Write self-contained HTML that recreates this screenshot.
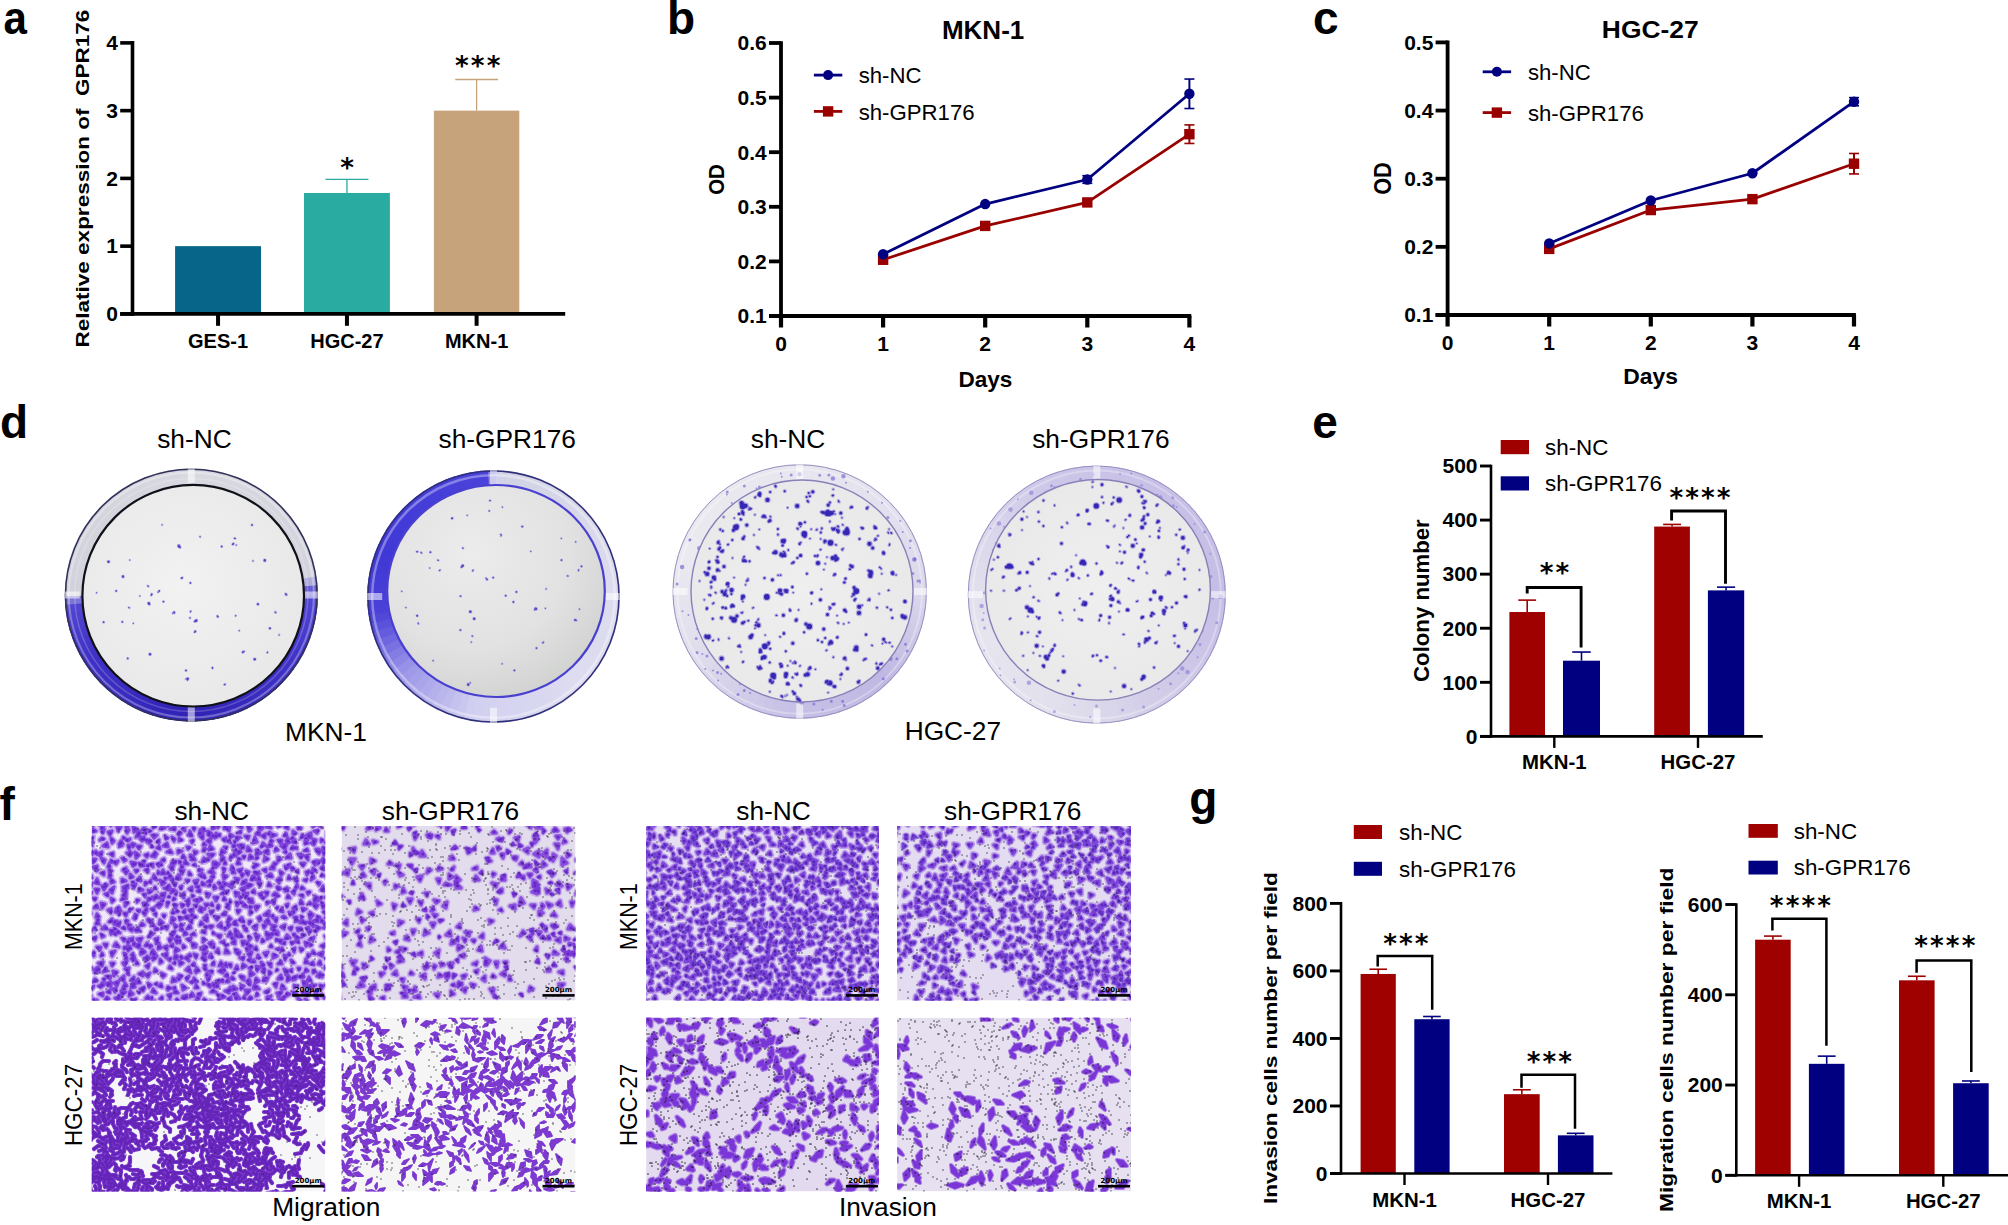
<!DOCTYPE html>
<html><head><meta charset="utf-8"><title>Figure</title>
<style>html,body{margin:0;padding:0;background:#fff;overflow:hidden}svg{display:block}</style>
</head><body>
<svg width="2008" height="1225" viewBox="0 0 2008 1225">
<rect width="2008" height="1225" fill="#fff"/>
<clipPath id="m1c"><rect x="91.8" y="826" width="233.4" height="174.6"/></clipPath>
<g clip-path="url(#m1c)" fill="none" stroke-linecap="round" stroke-linejoin="round"><rect x="91.8" y="826" width="233.4" height="174.6" fill="#f0e8f8"/>
<path id="m10" d="M313 940l-4 0l5 -3zM258 883l3 0l-1 3zM245 887l-1 5l-3 -3zM278 857l3 2l-3 2zM163 923l-4 1l1 -4zM256 910l-1 -4l4 0zM118 931l2 2l-3 0zM178 850l4 1l-4 2zM315 954l-3 -1l1 -2zM206 893l4 1l-2 3zM182 976l-2 2l-1 -3zM327 916l1 2l-3 0zM151 841l-2 2l0 -3zM236 994l4 5l-4 2zM110 979l-4 -3l5 0zM183 990l-1 -5l4 3zM240 910l-2 3l-1 -3zM249 872l-1 3l-2 -4zM225 997l-3 1l0 -3zM229 831l-4 -4l5 -1zM148 872l-3 -2l3 -1zM124 861l-2 -3l4 2zM269 971l2 2l-2 2zM295 979l-1 -2l3 -1zM173 900l1 -2l1 1zM138 979l2 4l-4 0zM282 985l3 4l-4 0zM252 952l-2 5l-2 -3zM192 943l4 2l-3 2zM167 843l1 4l-5 -1zM175 919l-4 4l1 -6zM263 925l3 0l-2 3zM310 892l-2 2l-1 -2zM327 940l-2 -4l4 0zM266 956l-2 -3l4 -1zM309 933l0 -3l2 0zM134 918l2 -2l-1 3zM148 996l0 3l-2 -1zM94 952l0 4l-3 -2zM275 893l2 1l-4 1zM90 987l2 0l-1 3zM199 871l0 -2l3 1zM214 873l-5 -1l3 -2zM230 838l0 -4l3 2zM194 851l3 1l-2 2zM126 840l4 -1l-2 2zM157 880l-4 -2l1 -3zM147 883l-2 2l0 -3zM254 989l2 -3l3 3zM200 925l1 -3l2 2zM220 888l2 -3l1 4zM184 898l-3 -3l3 -2zM151 932l2 2l-3 2zM264 978l2 3l-3 0zM230 989l-1 4l-4 -2zM316 908l-3 -4l5 1zM274 984l3 -1l-1 4zM165 893l-1 4l-3 -3zM139 948l-5 -3l5 -1zM318 830l-1 3l-3 -2zM207 921l-3 -3l3 -3zM303 904l-3 0l1 -4zM144 866l-3 0l1 -3zM267 997l4 -1l-4 4zM116 864l-2 -2l4 -1zM94 822l-1 4l-3 -2zM303 974l1 3l-3 0zM246 966l-4 2l1 -4zM223 868l2 1l-1 3zM217 920l-3 -4l5 1zM314 965l-4 -1l3 -2zM157 971l-3 1l1 -3zM198 880l-2 5l-2 -4zM229 964l2 0l0 3zM321 989l-1 -4l3 1zM218 949l1 4l-3 -1zM307 835l4 -2l0 5zM137 902l0 -2l2 0zM244 986l-3 3l0 -4zM210 843l-3 -2l4 -2zM117 827l4 0l-3 4zM196 958l-2 -4l3 1zM293 831l3 2l-3 1zM263 870l3 -1l0 3zM119 947l-5 -1l2 -3zM292 914l-2 1l-1 -3zM313 915l-3 4l-1 -5zM306 909l-3 2l-1 -3zM284 916l2 2l-4 -1zM291 930l-2 -2l3 -1zM264 861l1 -4l3 2zM214 897l4 0l-2 4zM156 958l-3 2l0 -3zM92 846l-3 0l2 -4zM264 965l-2 2l-1 -5zM175 958l1 -3l2 2zM304 836l-3 2l1 -3zM104 830l-1 3l-1 -3zM291 867l3 2l-2 1zM233 883l-1 5l-4 -3zM97 871l-4 -4l4 -1zM123 844l-4 0l2 -3zM321 946l4 -2l-1 3zM140 836l-4 1l2 -5zM241 976l3 1l0 3zM143 976l-4 -2l4 -2zM206 970l-2 -2l2 0zM143 903l3 0l-2 3zM308 860l-3 -4l3 -1zM185 824l1 -2l1 3zM89 997l2 -1l-1 3zM244 922l-3 -1l1 -3zM213 1002l-3 1l0 -2zM156 895l4 3l-4 0zM228 906l-1 -2l2 0zM321 868l2 -2l1 4zM189 872l2 3l-2 0zM266 827l4 -3l1 4zM111 822l0 4l-2 -3zM294 963l-2 0l-1 -3zM282 908l1 4l-3 -1zM315 896l5 3l-4 1zM168 987l2 1l-2 2zM286 996l1 -3l3 1zM189 835l1 -4l2 5zM125 956l-1 -3l2 1zM127 961l-2 5l-2 -3zM243 856l2 0l-1 2zM190 997l2 -4l2 3zM250 971l4 3l-4 2zM283 951l-2 0l1 -3zM140 942l-3 -3l5 -1zM206 849l-3 2l1 -3zM256 855l2 -4l3 2zM267 993l-2 -1l4 -2zM299 938l-3 2l0 -4zM295 840l1 3l-4 -1zM260 835l-4 -1l3 -3zM162 987l-3 -1l2 -2zM123 870l3 -2l0 3zM154 911l-3 -2l3 -1zM147 857l-2 -2l3 -1zM126 916l-2 -3l3 0zM119 981l-2 5l-3 -3zM101 856l-4 -2l5 -2zM225 912l1 3l-4 0zM165 883l-3 2l-2 -5zM284 969l4 2l-2 4zM330 876l-3 2l-1 -3zM257 842l-4 1l2 -6zM113 989l3 -1l-1 4zM261 847l2 -4l2 2zM313 875l1 3l-3 2zM153 825l3 1l-3 2zM316 871l-3 0l0 -3zM258 955l2 3l-3 0zM324 891l-3 -1l2 -4zM239 903l-2 3l-1 -4zM158 949l1 -5l2 4zM318 922l-5 -1l5 -2zM285 849l-4 -3l5 -2zM313 839l3 1l-2 4zM112 966l-1 -3l3 0zM229 917l2 2l-3 1zM223 966l-4 0l2 -4zM271 886l-3 0l1 -3zM217 935l4 0l-1 3zM267 847l4 -4l1 3zM202 862l2 -4l2 3zM149 946l-4 0l2 -3zM177 943l-2 -4l4 -1zM115 912l3 -4l1 5zM281 943l-3 -3l4 0zM197 891l3 -1l0 2zM249 836l-1 3l-3 -3zM225 852l-4 2l1 -4zM96 917l1 -3l2 3zM108 893l0 3l-3 -2zM214 962l0 3l-2 0zM296 906l0 4l-3 -2zM128 845l3 0l-2 4zM329 969l-4 0l0 -3zM256 947l1 3l-3 -1zM180 927l1 -3l2 1zM315 995l3 0l-1 3zM107 929l-5 0l3 -3zM107 992l3 -2l0 3zM248 827l3 2l-2 2zM187 847l3 0l-2 2zM251 921l-2 3l0 -3zM293 849l-2 0l2 -3zM262 893l-1 3l-2 -2zM130 878l0 -4l3 3zM100 964l3 -2l-1 4zM264 915l5 -4l0 5zM307 1005l-2 -6l3 2zM281 927l4 -2l-1 4zM221 942l3 -1l0 2zM144 828l2 2l-4 0zM183 912l2 -2l0 3zM286 858l4 -4l1 4zM264 970l0 3l-2 -2zM182 886l-1 3l-1 -2zM246 928l1 3l-2 -1zM226 838l-1 3l-2 -2zM209 926l4 0l-2 2zM99 994l4 -1l0 3zM327 838l0 -6l4 3zM278 889l-1 -2l2 0zM213 825l2 3l-3 1zM99 889l-2 4l-2 -4zM307 986l5 -1l-1 4zM125 929l-3 -1l2 -1zM176 883l-1 3l-2 -3zM149 964l-1 4l-2 -2zM115 951l-3 5l-1 -4zM172 878l-3 0l1 -3zM94 970l4 -3l1 4zM99 1003l-4 2l2 -5zM255 934l4 2l-2 4zM132 984l3 3l-4 1zM228 999l3 -2l0 3zM174 904l3 1l-2 3zM242 828l-4 -2l4 -1zM129 996l1 -5l3 3zM232 857l-2 2l1 -3zM316 926l4 2l-3 2zM170 942l-1 -3l3 -1zM210 911l3 0l-2 3zM235 944l-3 -1l3 -3zM306 959l2 4l-3 0zM160 963l0 -4l2 3zM271 967l-3 -4l3 0zM205 885l-3 0l0 -3zM124 976l0 5l-4 -2zM151 923l-3 -3l4 1zM287 836l-3 0l2 -3zM295 994l-2 -2l3 1zM145 952l-4 2l1 -5zM240 952l-1 3l-3 -3zM125 1001l-1 2l-1 -2zM170 966l2 3l-3 -1zM195 966l-3 -1l2 -2zM259 830l0 -6l4 1zM237 925l-4 -1l2 -2zM95 883l2 -4l2 5zM131 862l5 1l-3 3zM102 838l2 1l-4 1zM101 956l1 -3l1 2zM260 917l0 3l-2 -2zM168 890l-4 -2l6 -1zM309 977l2 4l-4 0zM133 938l-1 3l-3 -2zM274 904l-2 -2l3 -3zM160 999l2 -2l0 4zM290 898l-3 0l1 -3zM176 879l3 -4l1 4zM128 971l-3 -2l4 -1zM203 834l0 5l-3 -3zM205 831l-4 -1l2 -2zM175 990l3 3l-4 0zM289 876l1 3l-2 0zM234 979l-3 0l1 -2zM131 980l3 -3l0 5zM283 873l-2 2l-1 -4zM110 867l-2 0l1 -3zM245 990l5 0l-3 4zM92 851l0 2l-2 -1zM136 999l-1 2l-2 -1zM204 946l1 5l-4 -2zM194 978l3 4l-4 0zM163 977l-2 -4l4 2zM252 946l-3 3l-1 -4zM214 854l-3 3l-3 -3zM298 829l0 -3l3 2zM248 1000l2 -3l1 2zM267 895l-2 -3l3 0zM212 879l-1 3l-4 0zM199 1002l-4 1l2 -3zM157 842l2 -2l0 3zM167 946l0 4l-3 -3zM304 880l3 -1l-1 2zM180 965l-1 -4l4 2zM275 933l3 -1l0 3zM194 916l2 1l-3 1zM97 905l1 3l-4 0zM167 902l2 0l-2 4zM225 953l1 -4l3 4zM113 856l-3 -2l3 -1zM243 845l-2 4l-3 -4zM96 937l-1 3l-2 -2zM112 922l-3 0l3 -3zM111 913l-3 -3l3 -1zM267 904l0 -2l3 0zM185 999l-3 -1l4 -1zM328 923l-2 4l-3 -5zM158 938l-1 4l-2 -3zM111 883l0 -4l3 3zM257 925l-1 5l-3 -3zM235 969l2 -3l1 3zM219 864l-3 3l-1 -5zM212 985l-2 2l-3 -3zM191 935l3 -2l1 2zM320 973l2 4l-5 -1zM301 951l-1 -3l3 1zM139 849l-2 -3l4 0zM240 934l2 3l-4 0zM111 934l-1 -4l4 1zM114 887l-2 6l-2 -3zM232 866l2 4l-3 0zM272 834l4 1l-5 2zM128 903l-3 3l0 -4zM288 904l-1 3l-1 -2zM137 880l3 -3l1 4zM296 881l1 -2l0 2zM122 882l0 -3l4 2zM98 922l1 2l-3 0zM211 992l2 -2l3 2zM243 894l5 -1l-2 5zM313 862l3 -1l-1 4zM188 864l-4 0l1 -3zM97 981l-4 1l2 -3zM326 905l-3 3l-1 -3zM175 839l-1 2l-2 -4zM146 961l1 -5l3 2zM101 873l3 -1l0 3zM195 971l2 -3l2 3zM273 958l0 -4l4 2zM160 863l-1 3l-2 -2zM171 893l0 -4l4 1zM280 879l-1 4l-2 -3zM237 851l4 1l-3 2zM223 982l-3 -1l3 -1zM181 833l-2 2l0 -3zM239 879l-2 3l-2 -4zM308 922l5 0l-1 3zM232 935l-4 1l2 -4zM237 864l1 -3l2 3zM174 934l-2 -1l3 -2zM215 838l1 -5l2 3zM159 903l3 1l-3 3zM148 890l4 1l-3 2zM313 827l-1 -4l4 2zM203 938l2 2l-2 2zM87 911l3 -1l1 4zM189 910l4 -1l-2 3zM289 843l-3 -2l2 -3zM143 890l-4 1l0 -3zM170 867l3 0l-1 3zM276 922l-2 -4l3 0zM192 891l-3 -2l3 -2zM90 896l-1 -4l3 0zM102 937l-1 -3l3 2zM159 846l1 3l-3 -1zM208 981l-1 -4l3 -1zM179 841l0 -3l3 2zM305 841l3 2l-3 1zM190 925l1 3l-4 1zM192 843l-1 -2l2 -1zM227 876l-3 3l-1 -4zM136 858l-1 -6l4 3zM281 961l1 3l-4 0zM205 904l3 0l-2 2zM250 911l2 1l-2 2zM195 860l-4 0l2 -4zM127 986l-3 0l1 -3zM212 942l-1 4l-2 -3zM187 939l4 -1l-1 3zM245 941l-2 4l-1 -4zM276 926l-4 3l0 -4zM243 903l4 4l-4 -1zM281 975l1 4l-4 0zM158 929l-3 1l0 -3zM152 835l5 0l-3 3zM230 925l-2 2l0 -3zM279 999l4 -1l0 3zM185 932l2 2l-3 1zM282 992l-3 4l-2 -3zM183 948l0 -3l2 2zM303 855l-2 3l-3 -4zM101 826l3 -4l1 3zM236 896l-1 -4l4 1zM301 863l4 0l-2 3zM186 918l2 -2l1 3zM328 846l-3 -4l4 -1zM198 988l-3 0l1 -3zM255 867l0 -3l3 1zM278 822l-1 3l-3 -3zM176 981l-4 1l1 -4zM103 846l4 -3l1 4zM262 836l3 -2l0 4zM271 945l1 2l-2 0zM249 884l3 1l-3 2zM148 977l-2 -2l4 -2zM219 906l-1 2l0 -3zM170 829l5 -2l0 3zM281 844l-3 -4l4 0zM205 909l-5 2l0 -4zM325 985l4 0l0 4zM258 1005l-3 -1l2 -3zM90 972l-3 -1l3 -1zM248 960l3 -1l0 3zM233 847l0 -2l2 1zM259 872l-1 3l-2 -2zM200 899l-2 3l-4 -2zM209 850l1 -4l3 3zM186 978l3 -2l-2 4zM275 851l1 -3l2 2zM136 931l2 -3l2 3zM177 999l2 2l-3 -1zM148 983l3 2l-2 2zM294 917l3 0l-1 2zM320 883l-1 2l-2 -3zM162 860l2 -1l0 2zM102 908l-1 -5l4 1zM114 976l-1 -5l4 1zM167 852l3 -2l2 3zM287 956l-2 4l-1 -5zM303 897l-3 -2l3 0zM244 957l-1 3l-3 -2zM208 831l3 2l-3 1zM301 889l1 -2l2 2zM304 986l-1 -5l4 2zM321 822l0 5l-3 -2zM143 991l-3 -2l4 -1zM295 948l-1 4l-1 -3zM221 923l1 5l-4 -2zM207 1001l-4 0l1 -2zM118 1002l-3 -4l6 -1zM134 832l-1 -5l4 2zM126 897l-3 -2l3 -2zM209 971l3 0l0 2zM299 970l-1 -2l2 0zM251 969l-2 -1l3 -1zM105 860l-1 3l-3 -5zM291 942l3 0l-2 2zM151 899l-3 2l0 -3zM205 959l-3 -1l3 -2zM256 996l1 -3l1 2zM274 864l0 5l-4 0zM102 886l5 -1l-3 5zM323 850l3 2l-2 3zM222 969l1 4l-4 -2zM146 912l-1 3l-2 -3zM320 961l1 4l-3 -1zM240 837l-3 3l-1 -3zM294 894l-2 -2l3 -2zM316 972l-3 1l0 -3zM105 1000l2 -3l2 2zM129 830l-2 3l-1 -6zM182 907l-1 -3l3 1zM96 831l-3 1l0 -3zM238 870l4 -1l-2 3zM227 893l-2 -2l3 0zM174 913l-2 0l1 -2zM260 967l-3 4l-1 -5zM285 827l1 -1l1 2zM136 964l1 -2l1 2zM162 826l3 2l-5 1zM188 956l1 5l-4 -3zM328 961l-3 -3l5 0zM237 989l-4 1l0 -4zM328 996l-2 3l-2 -1zM182 858l1 -3l2 3zM326 862l-3 1l1 -3zM135 960l-4 -1l3 -3zM305 942l3 2l-2 2zM212 958l-3 -1l2 -3zM272 877l-5 -1l3 -2zM297 928l3 0l-2 3zM155 1001l2 3l-4 -1zM128 921l-2 2l0 -3zM189 967l2 6l-5 -3zM288 891l-3 0l2 -3zM112 843l-1 -5l3 3zM106 968l1 3l-4 1zM100 950l-3 -3l4 0zM285 866l4 1l-3 2zM221 861l1 -5l2 2zM265 852l3 -2l0 3zM194 830l-1 -2l2 0zM200 996l-2 -2l3 -1zM127 946l3 2l-2 3zM165 874l-4 0l2 -4zM140 926l2 -3l2 2zM249 940l0 -4l2 2zM153 950l2 3l-4 1zM109 877l1 -5l1 4zM302 920l3 3l-5 0zM111 898l3 2l-2 2zM168 926l-1 3l-2 -2zM130 856l-3 -3l5 0zM298 1002l0 -4l4 3zM264 941l-2 1l0 -3zM179 950l-4 2l1 -4zM111 987l-3 -4l3 -1zM251 851l-4 0l1 -4zM254 890l1 3l-3 -1zM214 885l2 3l-2 1zM316 849l3 0l-1 3zM304 851l3 -2l1 2zM204 875l1 3l-2 -1zM252 899l1 4l-4 -1zM170 998l-2 -3l3 -1zM189 880l-2 2l-1 -2zM242 884l4 -4l0 3zM306 969l2 2l-3 1zM235 933l0 -4l3 3zM132 885l4 -1l-2 4zM168 1001l3 0l-2 2zM155 887l1 2l-2 0zM291 979l-4 2l1 -6zM168 838l-2 1l-1 -3zM92 878l-2 0l1 -3zM156 993l-4 -1l1 -3zM306 872l3 -1l-2 4zM155 853l0 4l-4 -1zM104 944l3 0l-1 3zM259 981l-4 2l1 -5zM163 955l4 -2l0 5zM92 859l4 0l-3 4zM265 922l3 -3l2 5zM271 937l-4 2l1 -5zM250 981l0 4l-3 -3zM205 930l0 3l-3 -1zM253 858l-4 1l1 -4zM126 992l-4 3l-1 -4zM132 909l-3 2l1 -2zM96 898l-1 2l-2 -2zM318 954l5 -2l-1 4zM310 955l-2 2l0 -3zM180 920l-1 -3l4 1zM228 977l-3 -1l2 -2zM252 821l2 3l-3 0zM150 865l3 -1l0 3zM88 884l4 -1l-1 4zM305 935l-3 2l0 -3zM123 887l4 1l-3 3zM325 898l2 -3l2 3zM168 826l-1 -1l2 -2zM287 935l3 3l-5 1zM176 861l-1 2l-2 -2zM217 983l1 4l-3 0zM129 929l4 -1l-1 3zM125 939l-1 2l-2 -3zM136 872l-1 -2l3 0zM140 1003l5 -2l-2 5zM92 930l-1 2l-2 -2zM188 1003l5 -1l-3 4zM120 922l-1 4l-5 -2zM141 838l3 -1l0 3zM163 915l2 0l-1 2zM252 877l1 3l-2 0zM189 899l0 4l-3 -2zM182 874l-2 -4l4 0zM93 837l-1 3l-2 -3zM104 985l-3 2l1 -4zM112 831l-2 4l-2 -3zM179 825l-1 -3l4 2zM309 993l-2 3l-2 -4z"/>
<path id="m11" d="M300 930l1 -2l1 1zM146 834l-2 -1l2 -1zM92 1000l2 -1l1 2zM205 946l2 1l-1 2zM317 916l3 1l-3 2zM90 966l2 2l-3 0zM197 971l-1 2l0 -2zM263 828l-2 2l-2 -3zM223 882l4 2l-3 2zM312 985l4 0l-3 2zM253 879l0 -3l2 1zM199 886l0 2l-3 -1zM155 856l0 -4l2 2zM224 964l2 -1l1 4zM179 980l-2 -2l2 -1zM170 946l3 -2l0 3zM203 984l0 -2l2 2zM168 959l3 -1l-1 3zM150 935l0 2l-2 0zM235 936l1 -2l1 2zM302 993l1 -1l1 1zM194 905l3 0l-1 2zM214 944l0 4l-2 -1zM295 934l-1 2l-1 -2zM295 995l2 -1l-1 2zM312 945l-2 1l-1 -3zM252 907l-2 2l0 -3zM264 968l1 2l-2 -1zM96 851l1 3l-3 -1zM260 1001l0 3l-2 -2zM147 911l-2 -1l2 -2zM270 876l1 -2l1 2zM297 849l-3 -1l2 -1zM177 936l1 2l-2 1zM244 846l0 2l-3 0zM274 863l3 0l-2 2zM220 825l-2 3l-2 -3zM209 834l1 2l-2 -1zM220 836l-2 -1l2 -1zM137 931l-2 -1l1 -1zM317 851l4 0l-2 3zM232 939l-1 -2l3 1zM321 842l0 -3l2 1zM292 912l1 -2l1 3zM202 877l-3 -2l3 -2zM226 946l-1 -1l3 0zM255 962l-2 0l1 -2zM175 962l0 2l-2 -1zM234 853l2 3l-3 0zM285 996l-1 3l-1 -2zM325 911l0 3l-2 -2zM326 945l2 1l-2 1zM308 931l-2 -3l3 -1zM278 887l3 2l-3 1zM149 830l2 1l-2 1zM311 873l1 -2l1 1zM128 827l-2 -2l2 -2zM266 935l0 -3l2 1zM300 976l2 2l-3 -1zM168 987l1 2l-2 0zM148 905l-2 1l0 -2zM133 847l-1 -4l3 1zM116 909l3 -2l2 4zM207 921l-3 -1l2 -2zM149 998l3 -1l0 4zM240 899l-1 -3l3 1zM190 857l0 -2l1 0zM217 994l3 1l-1 2zM311 924l3 1l-1 2zM322 897l-1 2l-1 -1zM161 901l2 -2l0 2zM179 835l-1 -1l2 -1zM148 921l0 -2l3 1zM120 914l-1 1l0 -2zM258 858l-2 1l1 -3zM279 896l-3 1l1 -2zM213 983l4 2l-3 2zM298 986l-4 2l0 -3zM256 880l3 -3l1 4zM114 930l0 -2l2 1zM315 841l-1 4l-3 -2zM183 931l-3 -1l2 -2zM208 858l1 2l-3 0zM189 904l-1 2l-1 -2zM324 876l-3 0l1 -2zM286 827l2 -1l0 3zM121 996l-3 1l1 -2zM148 840l-1 2l-1 -2zM111 860l2 2l-3 1zM187 995l0 3l-4 -2zM97 970l2 -2l0 3zM242 903l-3 -1l3 0zM151 880l0 3l-2 -1zM238 852l-4 -1l2 -2zM124 949l0 -2l2 1zM159 903l0 4l-3 -1zM326 922l3 0l-2 2zM180 943l-3 -2l3 -1zM281 878l0 2l-2 -2zM177 892l-1 3l-1 -1zM177 959l-3 0l1 -4zM279 824l2 2l-3 1zM310 912l2 2l-2 0zM187 917l-3 1l2 -2zM210 905l2 -2l1 3zM102 962l0 3l-4 -2zM250 899l-1 2l-1 -3zM241 859l-2 1l-1 -2zM241 921l-2 -1l2 -2zM98 986l3 -1l0 2zM199 834l1 -4l2 3zM128 853l2 -2l0 3zM207 953l-4 4l0 -4zM282 978l-3 1l1 -2zM192 914l2 2l-4 0zM165 878l2 0l-2 2zM131 955l2 -2l0 3zM122 990l1 -3l2 2zM310 902l1 2l-3 0zM224 897l2 3l-3 0zM236 924l-2 -2l2 -1zM133 864l1 -1l1 2zM171 880l2 -1l0 3zM218 1000l1 -2l1 1zM247 951l-1 -3l4 2zM298 887l-3 2l2 -5zM232 873l1 -3l2 3zM154 914l2 -1l0 3zM244 926l0 2l-1 -2zM314 931l3 -2l-1 3zM112 871l-3 1l0 -3zM179 1005l1 -3l2 1zM224 847l3 0l-1 2zM133 961l0 -2l2 1zM241 831l0 2l-4 0zM308 840l-3 -1l3 -1zM138 945l1 -1l1 2zM233 973l2 -1l-1 1zM134 918l1 -4l2 1zM161 929l1 -3l2 2zM252 998l-2 1l1 -2zM172 988l3 -1l0 3zM144 958l4 -1l-2 3zM138 992l2 0l-1 1zM279 940l-3 1l0 -2zM272 1002l-1 -2l2 1zM241 873l3 1l-2 3zM190 982l3 -1l-1 2zM256 850l2 0l-1 3zM181 956l2 2l-2 1zM104 981l-1 -2l2 0zM92 855l-2 -1l1 -1zM325 848l-3 2l1 -3zM316 998l0 -2l2 3zM295 880l-1 -2l2 0zM322 994l1 2l-3 -1zM169 896l1 1l-2 0zM151 845l2 2l-2 0zM146 825l-4 -1l2 -3zM133 945l1 -3l2 3zM298 873l-2 -2l2 -1zM289 866l-1 -1l2 -1zM225 971l-2 0l1 -3zM205 967l-1 -2l2 0zM131 949l-3 -1l2 -2zM212 824l2 -2l1 1zM139 863l3 1l-2 2zM289 953l1 2l-2 0zM245 999l-2 -1l2 -3zM154 953l3 3l-4 0zM306 924l-2 -1l2 -1zM200 900l0 -2l2 2zM134 1000l-2 3l-1 -4zM313 825l-2 -1l1 -1zM269 934l4 -1l0 2zM123 897l2 2l-4 1zM286 853l-2 -1l2 -1zM213 932l2 2l-2 0zM128 885l0 3l-3 -2zM144 989l-2 -1l2 -1zM190 834l0 2l-2 -1zM226 907l3 -1l0 3zM321 919l3 3l-3 0zM116 825l1 -3l2 3zM126 874l-2 -3l4 0zM247 981l2 -2l1 3zM227 841l2 -1l2 3zM199 910l2 -1l1 3zM244 883l-2 1l1 -3zM271 840l2 1l-3 1zM283 944l2 -2l0 2zM132 882l2 0l-1 2zM321 976l0 -2l2 1zM110 984l-2 2l-2 -3zM326 926l0 3l-3 -1zM210 884l0 2l-2 0zM199 823l2 -2l1 3zM102 823l-3 2l-1 -3zM253 867l1 -1l0 2zM195 864l1 2l-3 -1zM169 874l-2 0l1 -2zM95 973l0 -2l3 1zM192 895l2 1l-2 1zM321 861l2 -3l2 2zM177 910l1 2l-2 0zM104 829l-3 0l2 -2zM139 912l-2 -2l3 0zM182 829l3 -1l0 3zM107 885l-3 1l2 -2zM205 926l3 1l-2 1zM296 919l3 2l-4 1zM189 920l3 0l0 3zM96 930l-3 -1l2 -2zM235 949l3 1l-2 2zM154 900l-2 -3l3 0zM249 946l-3 -2l2 -2zM190 954l1 2l-3 0zM289 971l3 -2l0 3zM322 904l-1 -2l2 1zM169 888l-2 -1l2 -2zM139 831l2 2l-2 1zM216 865l-3 1l0 -4zM212 834l3 3l-5 0zM295 979l-2 1l0 -2zM236 993l-1 3l-2 -2zM230 987l3 3l-4 1zM216 981l3 -1l0 3zM209 975l-3 0l1 -2zM181 865l2 2l-2 1zM225 861l1 3l-2 0zM144 863l-1 -2l2 0zM130 941l-2 3l-1 -3zM158 871l2 2l-2 1zM129 975l-2 -1l1 -3zM128 927l0 -3l3 1zM228 823l2 0l-1 1zM156 940l3 3l-3 1zM318 990l-1 3l-2 -1zM134 986l-1 -5l3 2zM253 988l1 -3l3 2zM181 862l-2 1l0 -2zM117 921l-2 2l-1 -2zM144 953l-3 1l0 -3zM234 841l1 0l0 2zM152 924l2 1l-3 1zM171 934l2 2l-2 1zM274 932l-2 -3l4 1zM214 868l-2 1l1 -1zM314 899l4 2l-4 1zM250 826l-2 1l0 -2zM175 928l-1 -4l3 2zM249 887l-3 1l1 -3zM194 947l1 -3l1 3zM267 980l-2 -2l3 0zM277 969l1 1l-2 1zM271 916l2 -1l0 3zM224 928l3 0l-2 2zM303 917l-2 1l0 -2zM286 891l-2 -2l3 -1zM299 943l-3 -1l2 -2zM161 863l1 2l-3 1zM147 865l2 0l-2 1zM93 988l-2 -1l3 -1zM278 907l-1 2l0 -2zM229 921l0 2l-2 -1zM256 872l-1 2l-1 -2zM283 845l4 -1l-2 5zM214 877l-3 0l2 -3zM125 959l2 -2l0 3zM291 839l2 -2l1 3zM265 897l-2 2l-2 -2zM220 885l-2 -2l1 -1zM224 827l1 0l-1 2zM197 997l2 2l-3 1zM172 862l2 3l-3 0zM221 894l3 -2l0 2zM116 933l0 2l-2 -1zM203 845l1 -2l2 2zM318 861l2 0l-2 3zM279 948l1 2l-4 -1zM264 852l3 -2l1 4zM126 889l0 4l-3 -2zM140 839l3 -1l-1 3zM91 840l2 2l-2 1zM123 837l2 1l-2 1zM228 979l1 3l-3 0zM152 946l-2 2l1 -3zM97 921l0 -3l2 2zM122 846l-3 1l1 -3zM231 902l-1 1l0 -3zM229 1001l2 -1l1 1zM232 882l2 0l-1 2zM145 897l-2 -3l3 0zM203 959l3 0l-1 2zM261 920l-2 0l1 -3zM218 909l-1 -1l2 0zM157 983l0 2l-2 -1zM270 832l1 3l-4 -1zM180 878l-3 -1l2 -2zM240 976l3 1l-1 2z"/>
<use href="#m10" stroke="#b490ea" stroke-width="6.5" stroke-opacity="0.7" fill="#b490ea" fill-opacity="0.7"/>
<use href="#m11" stroke="#b490ea" stroke-width="5.5" stroke-opacity="0.7" fill="#b490ea" fill-opacity="0.7"/>
<use href="#m10" stroke="#8044da" stroke-width="3.2" fill="#8044da"/>
<use href="#m11" stroke="#8044da" stroke-width="2.8" fill="#8044da"/>
<path d="M311 938l0 0M259 884l0 0M243 890l0 0M279 860l0 0M161 923l0 0M257 907l0 0M118 932l0 0M179 851l0 0M314 953l0 0M207 894l0 0M181 976l0 0M327 918l0 0M150 841l0 0M236 998l0 0M108 977l0 0M184 987l0 0M238 911l0 0M247 873l0 0M223 996l0 0M227 829l0 0M147 870l0 0M124 859l0 0M270 973l0 0M295 977l0 0M174 899l0 0M139 982l0 0M283 986l0 0M250 954l0 0M193 945l0 0M166 845l0 0M173 920l0 0M264 926l0 0M309 892l0 0M327 938l0 0M266 955l0 0M310 932l0 0M136 918l0 0M148 998l0 0M94 953l0 0M275 895l0 0M91 988l0 0M199 870l0 0M211 872l0 0M230 836l0 0M195 853l0 0M127 840l0 0M155 878l0 0M146 883l0 0M256 987l0 0M201 924l0 0M222 887l0 0M183 895l0 0M151 933l0 0M264 980l0 0M228 991l0 0M315 906l0 0M275 984l0 0M163 895l0 0M138 946l0 0M318 831l0 0M207 918l0 0M301 903l0 0M142 865l0 0M268 999l0 0M115 862l0 0M92 824l0 0M302 976l0 0M243 966l0 0M224 869l0 0M217 918l0 0M312 964l0 0M156 971l0 0M196 883l0 0M230 965l0 0M321 986l0 0M218 952l0 0M309 836l0 0M137 900l0 0M241 988l0 0M209 841l0 0M119 829l0 0M196 956l0 0M295 834l0 0M265 870l0 0M117 945l0 0M290 914l0 0M310 915l0 0M303 910l0 0M284 918l0 0M291 928l0 0M267 859l0 0M217 898l0 0M154 958l0 0M91 845l0 0M263 965l0 0M176 957l0 0M302 837l0 0M102 832l0 0M293 868l0 0M232 884l0 0M96 868l0 0M121 843l0 0M323 946l0 0M138 835l0 0M242 977l0 0M141 974l0 0M205 969l0 0M145 905l0 0M307 857l0 0M186 824l0 0M90 996l0 0M243 921l0 0M211 1003l0 0M156 897l0 0M228 905l0 0M322 869l0 0M190 874l0 0M269 826l0 0M110 824l0 0M293 962l0 0M281 910l0 0M316 898l0 0M169 988l0 0M287 994l0 0M191 835l0 0M125 955l0 0M126 963l0 0M244 857l0 0M191 995l0 0M251 974l0 0M282 950l0 0M140 939l0 0M204 850l0 0M257 853l0 0M267 992l0 0M297 937l0 0M295 842l0 0M258 833l0 0M161 986l0 0M124 869l0 0M153 910l0 0M147 855l0 0M125 914l0 0M117 983l0 0M101 854l0 0M224 914l0 0M163 882l0 0M286 971l0 0M328 877l0 0M254 840l0 0M116 990l0 0M262 846l0 0M312 877l0 0M155 827l0 0M315 870l0 0M259 958l0 0M323 889l0 0M237 903l0 0M159 947l0 0M317 920l0 0M284 847l0 0M314 841l0 0M113 964l0 0M229 919l0 0M221 964l0 0M269 885l0 0M219 936l0 0M270 845l0 0M204 861l0 0M147 945l0 0M177 941l0 0M118 911l0 0M280 941l0 0M199 891l0 0M247 837l0 0M222 852l0 0M98 916l0 0M107 895l0 0M213 963l0 0M295 907l0 0M129 847l0 0M326 968l0 0M256 949l0 0M181 925l0 0M317 996l0 0M106 928l0 0M109 992l0 0M249 828l0 0M189 848l0 0M250 922l0 0M292 848l0 0M261 895l0 0M131 877l0 0M101 964l0 0M267 914l0 0M307 1001l0 0M284 927l0 0M224 943l0 0M144 830l0 0M184 912l0 0M288 857l0 0M264 972l0 0M181 888l0 0M246 929l0 0M224 840l0 0M211 926l0 0M101 994l0 0M327 835l0 0M278 888l0 0M213 827l0 0M97 890l0 0M310 987l0 0M124 928l0 0M175 885l0 0M148 966l0 0M112 953l0 0M170 876l0 0M97 970l0 0M98 1002l0 0M257 937l0 0M133 986l0 0M229 999l0 0M175 905l0 0M241 826l0 0M130 994l0 0M231 857l0 0M318 928l0 0M170 940l0 0M212 912l0 0M234 942l0 0M306 962l0 0M161 961l0 0M270 964l0 0M203 884l0 0M123 979l0 0M150 921l0 0M285 835l0 0M294 993l0 0M143 952l0 0M238 953l0 0M124 1002l0 0M171 968l0 0M193 965l0 0M260 827l0 0M235 924l0 0M97 882l0 0M133 864l0 0M103 839l0 0M102 955l0 0M260 918l0 0M167 888l0 0M310 980l0 0M132 940l0 0M274 902l0 0M162 998l0 0M288 897l0 0M177 878l0 0M127 970l0 0M202 837l0 0M204 829l0 0M176 992l0 0M289 878l0 0M233 979l0 0M133 979l0 0M281 873l0 0M109 866l0 0M248 992l0 0M92 852l0 0M135 1000l0 0M204 949l0 0M195 980l0 0M163 975l0 0M250 946l0 0M212 855l0 0M299 828l0 0M250 999l0 0M267 893l0 0M210 881l0 0M197 1002l0 0M158 841l0 0M166 948l0 0M306 880l0 0M181 963l0 0M276 934l0 0M195 917l0 0M96 906l0 0M168 903l0 0M227 951l0 0M112 854l0 0M241 845l0 0M95 938l0 0M111 921l0 0M111 911l0 0M267 902l0 0M184 998l0 0M325 924l0 0M157 940l0 0M112 881l0 0M255 926l0 0M237 969l0 0M216 864l0 0M209 985l0 0M193 934l0 0M320 975l0 0M302 950l0 0M139 847l0 0M241 936l0 0M112 931l0 0M112 890l0 0M233 868l0 0M273 835l0 0M127 903l0 0M287 906l0 0M138 880l0 0M297 881l0 0M123 881l0 0M97 923l0 0M213 991l0 0M246 896l0 0M314 862l0 0M186 863l0 0M95 981l0 0M323 906l0 0M173 839l0 0M147 958l0 0M103 873l0 0M198 970l0 0M275 955l0 0M158 864l0 0M173 891l0 0M279 880l0 0M239 852l0 0M222 980l0 0M179 833l0 0M237 880l0 0M310 923l0 0M230 934l0 0M238 863l0 0M173 932l0 0M216 836l0 0M160 904l0 0M150 892l0 0M314 824l0 0M204 939l0 0M89 912l0 0M191 910l0 0M288 841l0 0M140 889l0 0M172 868l0 0M276 920l0 0M191 890l0 0M90 894l0 0M102 935l0 0M159 848l0 0M209 979l0 0M181 840l0 0M306 843l0 0M189 927l0 0M193 841l0 0M225 877l0 0M137 855l0 0M280 963l0 0M207 905l0 0M251 912l0 0M193 859l0 0M125 986l0 0M211 944l0 0M189 940l0 0M243 943l0 0M274 927l0 0M245 905l0 0M281 978l0 0M157 929l0 0M154 835l0 0M228 925l0 0M282 1000l0 0M185 933l0 0M280 993l0 0M184 947l0 0M301 857l0 0M103 824l0 0M236 893l0 0M303 865l0 0M187 918l0 0M327 843l0 0M197 987l0 0M256 865l0 0M277 823l0 0M174 980l0 0M106 845l0 0M264 836l0 0M271 946l0 0M250 885l0 0M148 975l0 0M218 907l0 0M174 829l0 0M280 841l0 0M201 909l0 0M328 986l0 0M256 1003l0 0M90 970l0 0M249 960l0 0M234 846l0 0M257 873l0 0M197 900l0 0M211 849l0 0M187 978l0 0M276 849l0 0M138 930l0 0M177 1000l0 0M149 985l0 0M296 918l0 0M318 883l0 0M164 860l0 0M103 905l0 0M116 973l0 0M170 852l0 0M285 958l0 0M302 895l0 0M243 958l0 0M209 833l0 0M302 888l0 0M304 983l0 0M321 825l0 0M142 989l0 0M294 950l0 0M221 926l0 0M205 1000l0 0M118 998l0 0M135 829l0 0M124 895l0 0M212 971l0 0M299 969l0 0M251 967l0 0M103 861l0 0M292 943l0 0M150 899l0 0M203 958l0 0M257 994l0 0M273 867l0 0M104 887l0 0M324 853l0 0M221 971l0 0M144 913l0 0M320 963l0 0M237 838l0 0M294 891l0 0M314 971l0 0M107 999l0 0M126 831l0 0M183 905l0 0M94 831l0 0M240 871l0 0M227 892l0 0M173 913l0 0M257 969l0 0M286 827l0 0M137 963l0 0M162 829l0 0M187 958l0 0M326 958l0 0M234 989l0 0M326 997l0 0M183 857l0 0M324 862l0 0M133 958l0 0M307 943l0 0M212 957l0 0M269 876l0 0M299 929l0 0M155 1003l0 0M126 921l0 0M189 970l0 0M287 890l0 0M112 840l0 0M105 970l0 0M98 948l0 0M286 868l0 0M223 859l0 0M267 851l0 0M194 828l0 0M199 994l0 0M128 949l0 0M163 873l0 0M142 925l0 0M249 937l0 0M152 952l0 0M110 875l0 0M303 922l0 0M113 900l0 0M166 927l0 0M130 854l0 0M300 1001l0 0M263 941l0 0M176 950l0 0M109 984l0 0M249 850l0 0M253 892l0 0M214 887l0 0M317 851l0 0M306 850l0 0M204 877l0 0M251 901l0 0M170 996l0 0M188 881l0 0M244 882l0 0M306 970l0 0M236 931l0 0M134 886l0 0M169 1003l0 0M155 888l0 0M288 979l0 0M166 838l0 0M91 878l0 0M154 991l0 0M308 872l0 0M154 855l0 0M106 945l0 0M256 980l0 0M166 955l0 0M94 861l0 0M268 921l0 0M269 935l0 0M249 984l0 0M204 932l0 0M251 857l0 0M123 993l0 0M130 909l0 0M95 899l0 0M321 954l0 0M308 956l0 0M180 918l0 0M227 975l0 0M253 823l0 0M151 864l0 0M90 885l0 0M303 935l0 0M125 888l0 0M327 897l0 0M168 824l0 0M287 938l0 0M175 862l0 0M217 986l0 0M131 929l0 0M124 939l0 0M137 871l0 0M142 1003l0 0M90 930l0 0M191 1003l0 0M118 924l0 0M144 839l0 0M164 916l0 0M252 879l0 0M188 901l0 0M181 871l0 0M92 838l0 0M102 985l0 0M110 833l0 0M180 823l0 0M307 994l0 0" stroke="#6428cc" stroke-width="3.2"/>
<path d="M301 930l0 0M146 833l0 0M94 1000l0 0M206 947l0 0M318 917l0 0M90 968l0 0M197 971l0 0M260 828l0 0M225 884l0 0M314 986l0 0M254 878l0 0M198 887l0 0M155 853l0 0M226 965l0 0M179 979l0 0M172 946l0 0M204 983l0 0M170 959l0 0M149 936l0 0M237 936l0 0M303 992l0 0M196 906l0 0M214 947l0 0M294 935l0 0M296 995l0 0M311 945l0 0M250 907l0 0M264 969l0 0M96 853l0 0M259 1002l0 0M146 910l0 0M271 876l0 0M295 848l0 0M177 937l0 0M243 847l0 0M275 864l0 0M218 826l0 0M209 835l0 0M219 835l0 0M136 930l0 0M319 852l0 0M232 938l0 0M322 840l0 0M294 912l0 0M201 876l0 0M226 945l0 0M253 962l0 0M175 963l0 0M234 855l0 0M284 997l0 0M324 912l0 0M327 946l0 0M307 929l0 0M279 889l0 0M150 831l0 0M312 873l0 0M127 825l0 0M267 934l0 0M300 977l0 0M168 988l0 0M146 904l0 0M133 845l0 0M118 908l0 0M206 920l0 0M152 998l0 0M241 897l0 0M191 857l0 0M218 995l0 0M313 924l0 0M321 897l0 0M163 901l0 0M178 834l0 0M149 920l0 0M119 915l0 0M257 858l0 0M278 896l0 0M214 985l0 0M295 987l0 0M259 879l0 0M115 929l0 0M314 843l0 0M182 929l0 0M208 860l0 0M188 904l0 0M322 875l0 0M287 827l0 0M119 996l0 0M147 840l0 0M112 861l0 0M186 997l0 0M99 969l0 0M241 903l0 0M150 882l0 0M236 850l0 0M125 948l0 0M158 905l0 0M327 923l0 0M180 941l0 0M280 880l0 0M176 894l0 0M176 957l0 0M279 826l0 0M311 914l0 0M186 917l0 0M212 905l0 0M101 963l0 0M249 899l0 0M239 859l0 0M240 920l0 0M100 987l0 0M200 833l0 0M130 853l0 0M205 954l0 0M281 978l0 0M192 915l0 0M165 878l0 0M133 955l0 0M124 989l0 0M310 904l0 0M224 899l0 0M235 922l0 0M135 864l0 0M173 880l0 0M219 1000l0 0M247 949l0 0M296 887l0 0M233 872l0 0M156 914l0 0M244 926l0 0M316 931l0 0M110 870l0 0M180 1003l0 0M226 848l0 0M133 960l0 0M240 832l0 0M306 838l0 0M139 945l0 0M234 973l0 0M136 916l0 0M162 928l0 0M251 998l0 0M175 988l0 0M146 958l0 0M139 993l0 0M277 940l0 0M272 1001l0 0M242 875l0 0M192 982l0 0M258 850l0 0M181 957l0 0M104 979l0 0M91 854l0 0M324 848l0 0M317 998l0 0M295 879l0 0M321 996l0 0M169 897l0 0M152 847l0 0M145 824l0 0M134 944l0 0M298 872l0 0M288 865l0 0M224 970l0 0M205 966l0 0M130 948l0 0M213 823l0 0M140 864l0 0M289 955l0 0M244 998l0 0M154 954l0 0M305 923l0 0M201 899l0 0M132 1001l0 0M312 824l0 0M272 934l0 0M123 899l0 0M286 852l0 0M213 933l0 0M127 886l0 0M144 988l0 0M190 834l0 0M227 907l0 0M322 921l0 0M117 823l0 0M126 872l0 0M248 981l0 0M228 841l0 0M201 911l0 0M243 883l0 0M271 841l0 0M284 943l0 0M133 882l0 0M323 975l0 0M108 985l0 0M326 927l0 0M210 885l0 0M200 823l0 0M99 823l0 0M254 867l0 0M194 865l0 0M168 873l0 0M95 973l0 0M193 896l0 0M324 860l0 0M177 911l0 0M102 828l0 0M138 911l0 0M183 828l0 0M105 884l0 0M206 927l0 0M297 920l0 0M191 922l0 0M95 928l0 0M236 950l0 0M155 898l0 0M247 944l0 0M190 956l0 0M291 971l0 0M322 903l0 0M168 886l0 0M139 833l0 0M215 864l0 0M213 836l0 0M293 978l0 0M234 994l0 0M230 990l0 0M218 981l0 0M207 975l0 0M182 867l0 0M225 863l0 0M144 861l0 0M128 942l0 0M158 873l0 0M128 973l0 0M129 925l0 0M229 824l0 0M157 942l0 0M317 991l0 0M134 984l0 0M255 987l0 0M180 862l0 0M115 922l0 0M141 952l0 0M235 842l0 0M153 926l0 0M172 935l0 0M274 930l0 0M213 868l0 0M315 900l0 0M248 826l0 0M176 927l0 0M248 886l0 0M194 945l0 0M266 978l0 0M277 970l0 0M273 916l0 0M225 928l0 0M302 917l0 0M285 889l0 0M298 942l0 0M161 865l0 0M148 866l0 0M92 988l0 0M277 908l0 0M228 922l0 0M255 872l0 0M285 846l0 0M213 877l0 0M126 958l0 0M292 838l0 0M263 898l0 0M220 883l0 0M225 827l0 0M198 998l0 0M173 863l0 0M223 893l0 0M115 934l0 0M204 844l0 0M319 863l0 0M278 950l0 0M266 852l0 0M126 891l0 0M142 839l0 0M91 842l0 0M124 838l0 0M227 981l0 0M150 946l0 0M98 920l0 0M120 845l0 0M230 902l0 0M230 1001l0 0M234 882l0 0M144 895l0 0M204 960l0 0M260 919l0 0M218 908l0 0M156 984l0 0M269 834l0 0M178 878l0 0M241 977l0 0" stroke="#6428cc" stroke-width="2.6"/>
<path d="M162 954l0 0M232 850l0 0M307 905l0 0M180 832l0 0M314 994l0 0M317 935l0 0M173 905l0 0M292 879l0 0M303 931l0 0M178 880l0 0M140 992l0 0M147 829l0 0M143 990l0 0M264 855l0 0M223 873l0 0M325 850l0 0M143 833l0 0M147 960l0 0M97 980l0 0M106 886l0 0M216 983l0 0M140 879l0 0M314 991l0 0M179 911l0 0M220 989l0 0M194 912l0 0M124 857l0 0M319 978l0 0M195 845l0 0M139 981l0 0M93 939l0 0M259 888l0 0M301 864l0 0M134 902l0 0M208 951l0 0M293 956l0 0M297 909l0 0M206 897l0 0M261 874l0 0M309 935l0 0M291 966l0 0M321 898l0 0M196 907l0 0M244 954l0 0M280 960l0 0M106 989l0 0M150 923l0 0M137 991l0 0M161 933l0 0M132 999l0 0M218 996l0 0M296 871l0 0M301 853l0 0M145 830l0 0M315 969l0 0M270 907l0 0M158 892l0 0M287 972l0 0M234 883l0 0M198 981l0 0M138 829l0 0M280 953l0 0M184 883l0 0M214 916l0 0M283 907l0 0M109 971l0 0M321 876l0 0M131 984l0 0M298 985l0 0M130 912l0 0M165 835l0 0M141 932l0 0M252 913l0 0M132 889l0 0M301 830l0 0M226 894l0 0M272 900l0 0M294 862l0 0M240 983l0 0M304 935l0 0M174 873l0 0M141 874l0 0M173 882l0 0M290 888l0 0M97 846l0 0M149 941l0 0M242 838l0 0M310 854l0 0M161 976l0 0M219 980l0 0M229 890l0 0M274 884l0 0M95 933l0 0M300 976l0 0M141 852l0 0M122 997l0 0M151 865l0 0M155 933l0 0M183 872l0 0M103 959l0 0M315 959l0 0M180 893l0 0M260 886l0 0M120 923l0 0M160 925l0 0M145 905l0 0M174 870l0 0M110 922l0 0M228 944l0 0M291 991l0 0M253 863l0 0M200 947l0 0M207 940l0 0M297 876l0 0M180 937l0 0M225 934l0 0M94 843l0 0M230 902l0 0M322 968l0 0M185 895l0 0M153 827l0 0M226 893l0 0M153 923l0 0M185 923l0 0M295 920l0 0M153 919l0 0M99 951l0 0M303 834l0 0M299 840l0 0M252 967l0 0M139 889l0 0M297 878l0 0M296 872l0 0M130 981l0 0M158 974l0 0M298 847l0 0M267 879l0 0M111 872l0 0M317 873l0 0M127 899l0 0M209 908l0 0M119 832l0 0M99 870l0 0M157 842l0 0M100 910l0 0M133 965l0 0M282 880l0 0M269 992l0 0M145 962l0 0M174 884l0 0M323 828l0 0M313 895l0 0M202 930l0 0M125 893l0 0M136 925l0 0M120 913l0 0M266 984l0 0M312 983l0 0M235 887l0 0M147 873l0 0M92 990l0 0M123 997l0 0M105 968l0 0M316 942l0 0M199 866l0 0M170 934l0 0M256 933l0 0M313 942l0 0M143 960l0 0M145 973l0 0M100 848l0 0M143 920l0 0M219 954l0 0M158 884l0 0M231 861l0 0M140 865l0 0M189 988l0 0M302 929l0 0M219 917l0 0M237 833l0 0M101 926l0 0M118 976l0 0M101 869l0 0M204 927l0 0M97 930l0 0M235 882l0 0M261 884l0 0M196 930l0 0M222 860l0 0M128 902l0 0M133 908l0 0M101 964l0 0M161 896l0 0M199 862l0 0M100 973l0 0M288 977l0 0M242 848l0 0M173 860l0 0M129 855l0 0M227 912l0 0M205 960l0 0M256 949l0 0M296 842l0 0M205 852l0 0M323 949l0 0M317 995l0 0M214 910l0 0M108 976l0 0M259 922l0 0M323 868l0 0M322 828l0 0M151 888l0 0M322 891l0 0M248 936l0 0M245 898l0 0M186 860l0 0M180 917l0 0M280 857l0 0M277 997l0 0M238 883l0 0M192 920l0 0M243 895l0 0M236 934l0 0M150 934l0 0M111 913l0 0M97 974l0 0M284 950l0 0M292 949l0 0M183 848l0 0M117 991l0 0M137 927l0 0M152 845l0 0M287 948l0 0M201 979l0 0M283 857l0 0M315 931l0 0M251 843l0 0M265 975l0 0M206 859l0 0M95 871l0 0M173 909l0 0M173 859l0 0M117 958l0 0M271 960l0 0M165 926l0 0M180 896l0 0M230 840l0 0M220 855l0 0M107 854l0 0M275 908l0 0" stroke="#2a2238" stroke-width="1.5" stroke-opacity="0.8"/>
</g>
<rect x="292.2" y="994.1" width="32" height="2.6" fill="#000"/><text x="308.2" y="992.4" text-anchor="middle" style="font-family:'DejaVu Sans',sans-serif;font-weight:700;font-size:7px" fill="#000">200μm</text>
<clipPath id="m2c"><rect x="341.6" y="826" width="233.9" height="174.6"/></clipPath>
<g clip-path="url(#m2c)" fill="none" stroke-linecap="round" stroke-linejoin="round"><rect x="341.6" y="826" width="233.9" height="174.6" fill="#e2dced"/>
<path id="m20" d="M531 935l0 5l-3 -3zM393 904l3 1l-2 4zM406 993l1 4l-4 0zM537 894l-5 -2l5 -4zM414 835l3 1l-2 3zM378 905l-1 -4l4 3zM490 989l4 0l-1 5zM360 866l4 0l-2 3zM502 889l0 3l-3 -1zM531 867l-5 -1l3 -2zM458 945l5 2l-5 3zM427 896l-2 -3l3 0zM568 889l-1 -4l4 1zM556 856l-3 5l0 -7zM372 828l-5 1l1 -2zM521 898l3 5l-5 2zM393 974l3 -3l1 4zM405 939l2 -3l2 4zM413 992l2 -5l1 4zM375 861l-4 2l0 -4zM439 867l3 2l-4 1zM396 865l4 0l-1 3zM441 963l3 2l-3 1zM464 978l-2 -2l4 -1zM523 931l2 2l-5 3zM579 892l1 4l-4 -1zM371 994l-3 -2l3 -2zM556 836l4 0l-2 3zM531 828l-4 -3l4 -2zM422 851l3 5l-5 0zM499 838l1 2l-3 -1zM496 833l-4 0l2 -2zM370 913l3 -1l0 3zM389 989l-3 1l0 -3zM366 840l3 4l-5 0zM352 864l-2 -5l5 0zM489 860l2 1l-3 1zM412 899l-2 4l-2 -4zM434 969l0 -4l2 1zM347 925l-3 -2l3 -3zM493 921l-3 2l-1 -3zM449 874l4 3l-4 2zM537 947l0 4l-2 -1zM552 925l5 1l-3 2zM435 953l4 -3l-1 6zM403 986l4 1l-2 3zM420 919l-1 3l-2 -3zM466 988l-1 4l-3 -3zM443 906l4 -4l-1 6zM453 870l-2 0l3 -3zM454 859l-4 0l2 -3zM479 880l-5 0l2 -4zM485 976l0 5l-3 -2zM501 880l1 -3l3 3zM540 878l-2 -1l2 -1zM421 905l-2 -4l3 1zM542 824l-1 4l-5 0zM430 837l-3 -2l3 -1zM556 940l4 -2l0 4zM529 991l1 -4l3 2zM481 946l1 5l-4 -1zM500 848l-2 2l-1 -3zM433 907l1 3l-3 1zM392 864l-4 0l2 -2zM534 837l4 2l-3 4zM435 917l-2 -3l4 1zM564 840l2 2l-3 1zM358 945l2 -3l1 4zM454 994l-3 1l0 -4zM363 964l4 2l-3 2zM565 940l0 -3l4 2zM556 916l-4 -1l2 -2zM509 980l0 -4l2 4zM469 936l-4 -4l5 0zM553 831l2 -3l3 3zM340 898l-1 -3l3 1zM559 844l-1 5l-3 -5zM366 884l4 0l0 4zM473 869l4 -2l0 2zM399 953l-3 -1l3 -2zM544 906l-2 3l0 -5zM568 961l-3 -2l2 -2zM480 937l3 -3l0 4zM485 958l5 3l-3 4zM425 969l-1 -2l4 0zM429 933l-5 2l1 -5zM381 976l-1 -3l4 0zM356 932l3 -2l-1 3zM560 901l1 5l-4 -2zM341 827l3 0l-1 2zM509 833l1 -3l1 1zM452 985l2 -1l1 2zM550 939l-2 0l1 -3zM391 933l3 -1l0 2zM410 974l1 -2l2 2zM510 906l5 -1l0 4zM457 927l3 -3l0 4zM546 927l0 4l-3 -3zM388 948l2 2l-2 1zM341 979l2 3l-3 -1zM478 909l-4 1l1 -3zM567 857l0 -4l3 2zM547 903l5 2l-3 2zM354 852l-4 -3l5 -1zM358 969l-3 2l0 -4zM532 874l-2 3l-2 -3zM367 928l2 0l-1 2zM386 828l2 3l-3 0zM528 848l0 5l-4 -3zM493 975l2 2l-3 0zM513 857l4 0l-1 3zM501 909l1 2l-3 -1zM421 976l4 -2l0 5zM477 962l-1 3l-3 -1zM497 884l-1 3l-4 -4zM522 862l1 3l-3 -1zM431 923l4 0l-2 4zM403 922l-4 3l0 -4zM563 971l0 3l-4 -2zM377 842l-3 1l-1 -2zM437 824l4 -2l0 4zM505 971l0 5l-4 -2zM342 968l-5 0l4 -3zM413 848l3 5l-3 -1zM543 913l-4 2l0 -4zM494 853l-3 0l2 -4zM459 982l3 3l-3 0zM460 956l4 -2l0 3zM391 968l-1 -4l3 2zM475 985l-2 2l-2 -3zM409 1003l2 -2l1 2zM477 973l-2 -2l3 -1zM398 872l5 3l-3 1zM343 936l-1 -4l5 1zM385 884l-1 -2l2 -1zM574 902l-2 4l-1 -4zM574 929l-6 0l2 -4zM564 984l-3 3l-2 -3zM553 954l1 -3l4 3zM348 875l-5 -2l6 -3zM504 854l-1 4l-2 -4zM339 993l1 6l-3 -2zM493 876l0 -3l2 1zM475 940l-1 2l-2 -2zM451 944l1 -4l3 3zM364 920l-2 2l-1 -4zM450 931l1 5l-5 -1zM497 900l-1 4l-2 -5zM422 876l-2 5l-3 -4zM524 879l-3 -2l3 -1zM533 885l0 -5l4 2zM551 872l3 2l-2 2zM547 850l0 7l-5 -2zM442 976l-4 1l1 -3zM578 871l0 3l-3 -1zM550 892l-3 1l-1 -4zM534 908l-3 -3l4 0zM549 968l1 3l-3 0zM403 951l-2 -3l5 1zM371 937l3 3l-4 2zM400 958l3 3l-5 1zM457 884l4 4l-5 0zM365 876l-4 1l2 -4zM562 865l0 -7l5 5zM565 829l4 0l-2 3zM465 942l-2 -4l3 1zM534 854l5 -3l0 6zM356 961l-3 4l-2 -4zM437 879l3 0l-1 4zM418 954l4 -2l0 3zM453 963l-2 4l-3 -3zM401 826l-3 1l1 -3zM361 982l3 4l-6 1zM562 886l-5 -1l2 -3zM534 870l3 -2l0 4zM449 976l-2 3l-2 -3zM343 975l-3 0l1 -4zM497 967l-2 -5l3 0zM405 892l-3 1l1 -5zM403 982l-2 -3l3 0zM360 898l2 -4l2 5zM569 943l3 1l-3 1zM439 838l-3 -2l3 0zM428 869l3 1l-4 3zM381 998l3 -1l0 2zM542 867l1 -5l3 3zM447 830l-1 -5l4 1zM500 947l3 -3l2 4zM412 930l3 0l-2 4zM479 825l-2 2l0 -4zM444 885l2 -2l5 2zM439 901l-3 2l-2 -3zM414 825l-3 -1l3 -2zM420 998l-6 -1l5 -2zM518 841l-3 -3l4 -1zM541 932l-2 3l-2 -4zM375 989l-2 -3l2 -1zM395 888l0 -3l3 1zM374 874l-3 -3l4 -1zM376 830l1 -4l3 2zM358 910l3 2l-4 2zM507 962l-1 2l-2 -2zM468 853l0 -3l2 2zM439 994l-1 3l-3 -3zM456 876l4 4l-4 -1z"/>
<path id="m21" d="M387 961l-1 -3l3 1zM402 906l1 -2l2 2zM427 918l0 -3l2 2zM554 963l2 3l-3 0zM552 926l3 -1l1 2zM362 896l1 2l-3 0zM458 987l0 -4l4 0zM538 864l-2 1l-1 -4zM520 994l2 0l0 2zM400 955l2 3l-4 -1zM543 936l2 3l-4 -1zM453 834l-1 -3l3 -1zM514 859l1 -2l1 1zM342 983l3 2l-3 1zM350 903l-2 -2l2 0zM472 850l3 -3l0 3zM513 893l3 1l-2 2zM410 856l0 -3l2 2zM431 838l-3 -1l4 -2zM411 990l-2 2l0 -2zM564 947l1 5l-3 -2zM458 962l-2 -2l2 -1zM391 985l-3 4l-2 -4zM554 831l1 -2l1 1zM440 922l-1 -2l4 0zM468 852l-2 -4l4 1zM353 881l1 3l-2 0zM532 846l-1 -3l2 0zM548 958l-2 -3l3 0zM412 865l0 3l-4 -3zM575 967l4 0l-2 3zM397 941l-1 3l-2 -2zM399 846l3 0l-3 3zM416 872l-2 -2l3 -1zM485 965l0 -3l2 1zM419 853l-3 1l-1 -3zM576 859l2 1l-2 1zM480 830l-1 1l-1 -2zM556 890l3 -1l0 4zM565 954l4 -3l2 4zM450 965l2 2l-2 0zM380 874l-1 3l-1 -2zM401 993l3 0l0 2zM519 873l2 3l-4 1zM577 928l1 1l-2 1zM534 835l2 -2l2 3zM361 978l5 -1l-2 4zM542 924l2 2l-3 -1zM453 974l3 1l-3 3zM545 831l-2 2l0 -4zM458 937l0 4l-2 -1zM572 952l5 1l-3 3zM539 888l0 5l-3 -4zM452 849l3 -3l2 2zM362 936l-2 3l-1 -3zM567 870l0 3l-2 -2zM514 845l-2 0l1 -2zM554 933l0 3l-2 -2zM571 830l-3 1l0 -3zM561 934l-2 -1l2 -1zM354 971l1 3l-2 0zM549 883l2 -1l1 1zM462 828l2 -3l2 3zM487 860l-1 -2l3 0zM524 868l2 -3l2 2zM510 852l-3 1l0 -3zM440 937l-1 1l0 -2zM553 894l-1 1l-1 -1zM551 871l0 3l-3 -2zM413 892l-1 2l-2 -1zM480 873l2 -2l0 3zM369 996l4 3l-3 1zM372 990l-2 -1l1 -2zM385 969l-1 -2l2 0zM411 828l-2 2l-1 -2zM416 834l-2 -1l2 -1zM511 823l3 -1l0 2zM549 858l2 1l-1 1zM574 944l4 4l-3 2zM519 844l3 2l-3 1zM505 877l-3 -1l3 -1zM576 938l0 2l-2 0zM500 893l-2 -1l2 -2zM503 838l-1 3l-3 -1zM455 881l3 1l-3 3zM505 967l2 -1l0 3zM426 911l-3 -1l3 -1zM539 963l-3 -1l2 -3zM497 998l-3 -1l1 -2zM533 887l1 -4l5 2zM371 957l2 2l-2 1zM393 844l2 -3l2 3zM445 974l4 -1l0 3zM578 893l-2 0l1 -3zM533 929l0 5l-3 -4zM496 940l2 1l-4 2zM414 953l1 3l-3 -2zM337 849l3 0l-2 2zM426 966l1 -3l1 3zM343 974l1 3l-4 -1z"/>
<use href="#m20" stroke="#b894e6" stroke-width="6.5" stroke-opacity="0.6" fill="#b894e6" fill-opacity="0.6"/>
<use href="#m21" stroke="#b894e6" stroke-width="5.5" stroke-opacity="0.6" fill="#b894e6" fill-opacity="0.6"/>
<use href="#m20" stroke="#8a4ede" stroke-width="3.4" fill="#8a4ede"/>
<use href="#m21" stroke="#7a3ad6" stroke-width="3" fill="#7a3ad6"/>
<path d="M530 937l0 0M394 906l0 0M405 996l0 0M535 891l0 0M415 837l0 0M379 903l0 0M492 991l0 0M362 866l0 0M501 891l0 0M529 865l0 0M459 948l0 0M427 894l0 0M568 887l0 0M553 857l0 0M369 828l0 0M521 902l0 0M395 974l0 0M407 938l0 0M414 990l0 0M373 860l0 0M439 868l0 0M398 866l0 0M442 964l0 0M464 976l0 0M523 933l0 0M578 894l0 0M369 992l0 0M558 837l0 0M530 825l0 0M423 854l0 0M499 840l0 0M494 832l0 0M372 914l0 0M386 989l0 0M367 843l0 0M351 862l0 0M489 861l0 0M410 901l0 0M434 967l0 0M346 923l0 0M491 921l0 0M450 876l0 0M536 950l0 0M555 926l0 0M438 953l0 0M404 987l0 0M419 920l0 0M465 990l0 0M446 905l0 0M452 869l0 0M453 858l0 0M476 879l0 0M484 978l0 0M502 879l0 0M539 877l0 0M421 903l0 0M539 826l0 0M429 835l0 0M558 940l0 0M531 988l0 0M480 950l0 0M498 848l0 0M433 909l0 0M390 863l0 0M535 839l0 0M435 916l0 0M565 841l0 0M359 944l0 0M452 994l0 0M364 965l0 0M566 938l0 0M554 915l0 0M510 979l0 0M468 933l0 0M556 830l0 0M340 896l0 0M558 846l0 0M369 886l0 0M475 868l0 0M398 952l0 0M542 906l0 0M567 959l0 0M482 936l0 0M486 961l0 0M426 967l0 0M426 932l0 0M381 974l0 0M358 931l0 0M559 903l0 0M343 828l0 0M510 832l0 0M453 985l0 0M549 938l0 0M392 934l0 0M411 973l0 0M513 907l0 0M459 927l0 0M546 929l0 0M389 950l0 0M341 981l0 0M476 908l0 0M569 855l0 0M549 905l0 0M354 850l0 0M357 969l0 0M530 875l0 0M369 929l0 0M386 830l0 0M527 851l0 0M493 976l0 0M514 858l0 0M501 910l0 0M423 976l0 0M476 964l0 0M495 885l0 0M522 863l0 0M433 925l0 0M401 923l0 0M562 973l0 0M375 842l0 0M441 824l0 0M504 974l0 0M339 967l0 0M414 851l0 0M540 914l0 0M492 851l0 0M460 984l0 0M462 956l0 0M391 965l0 0M473 985l0 0M411 1003l0 0M476 972l0 0M400 873l0 0M345 935l0 0M385 881l0 0M572 903l0 0M571 928l0 0M562 985l0 0M555 952l0 0M347 873l0 0M502 855l0 0M339 996l0 0M493 874l0 0M474 941l0 0M453 942l0 0M362 920l0 0M449 933l0 0M495 901l0 0M420 879l0 0M523 878l0 0M535 883l0 0M553 873l0 0M546 853l0 0M440 975l0 0M577 872l0 0M548 891l0 0M534 906l0 0M548 969l0 0M405 949l0 0M371 939l0 0M400 961l0 0M458 886l0 0M363 875l0 0M564 862l0 0M567 830l0 0M465 940l0 0M538 854l0 0M353 963l0 0M439 881l0 0M421 953l0 0M450 965l0 0M400 826l0 0M361 985l0 0M559 884l0 0M536 869l0 0M447 976l0 0M341 973l0 0M496 964l0 0M403 891l0 0M402 979l0 0M363 897l0 0M570 945l0 0M438 836l0 0M429 871l0 0M383 998l0 0M544 864l0 0M448 828l0 0M502 946l0 0M413 932l0 0M477 826l0 0M448 885l0 0M437 901l0 0M413 824l0 0M418 997l0 0M517 839l0 0M539 934l0 0M374 987l0 0M396 886l0 0M372 871l0 0M377 829l0 0M359 912l0 0M505 963l0 0M469 852l0 0M437 996l0 0M457 878l0 0" stroke="#6428c4" stroke-width="3.2"/>
<path d="M387 960l0 0M403 905l0 0M428 917l0 0M554 965l0 0M554 926l0 0M362 897l0 0M460 985l0 0M536 863l0 0M521 994l0 0M400 956l0 0M543 938l0 0M453 832l0 0M515 858l0 0M344 984l0 0M349 902l0 0M475 849l0 0M514 894l0 0M411 855l0 0M430 836l0 0M409 990l0 0M564 949l0 0M457 960l0 0M388 986l0 0M555 830l0 0M441 920l0 0M468 849l0 0M353 883l0 0M532 844l0 0M549 956l0 0M410 866l0 0M577 968l0 0M396 942l0 0M400 847l0 0M415 870l0 0M486 963l0 0M417 853l0 0M577 860l0 0M479 830l0 0M559 889l0 0M568 954l0 0M451 966l0 0M379 876l0 0M402 993l0 0M520 875l0 0M578 929l0 0M536 834l0 0M363 978l0 0M542 925l0 0M454 976l0 0M544 831l0 0M457 939l0 0M574 954l0 0M538 891l0 0M455 849l0 0M361 937l0 0M566 872l0 0M512 845l0 0M553 934l0 0M568 830l0 0M560 933l0 0M354 972l0 0M550 883l0 0M464 827l0 0M488 858l0 0M526 867l0 0M508 852l0 0M439 937l0 0M551 894l0 0M550 873l0 0M412 893l0 0M482 873l0 0M370 999l0 0M372 989l0 0M386 968l0 0M410 828l0 0M415 833l0 0M512 823l0 0M551 859l0 0M575 947l0 0M520 846l0 0M504 875l0 0M575 940l0 0M498 892l0 0M501 839l0 0M457 883l0 0M507 967l0 0M425 909l0 0M538 962l0 0M496 997l0 0M535 886l0 0M372 958l0 0M395 843l0 0M448 974l0 0M577 891l0 0M532 931l0 0M497 942l0 0M414 954l0 0M339 850l0 0M427 965l0 0M342 976l0 0" stroke="#6428c4" stroke-width="2.6"/>
<path d="M457 886l0 0M435 975l0 0M560 884l0 0M495 886l0 0M484 881l0 0M549 834l0 0M454 890l0 0M516 845l0 0M364 900l0 0M505 842l0 0M473 890l0 0M515 995l0 0M369 984l0 0M467 951l0 0M396 866l0 0M546 954l0 0M558 927l0 0M546 986l0 0M493 888l0 0M481 918l0 0M459 860l0 0M431 980l0 0M398 981l0 0M508 854l0 0M470 907l0 0M479 987l0 0M377 996l0 0M574 981l0 0M567 880l0 0M401 911l0 0M445 996l0 0M506 941l0 0M551 990l0 0M441 888l0 0M442 868l0 0M507 831l0 0M368 991l0 0M495 934l0 0M563 867l0 0M399 895l0 0M422 893l0 0M487 904l0 0M347 946l0 0M485 879l0 0M479 904l0 0M345 867l0 0M568 884l0 0M364 994l0 0M532 864l0 0M348 860l0 0M504 994l0 0M419 834l0 0M394 983l0 0M372 853l0 0M572 897l0 0M375 940l0 0M568 850l0 0M561 959l0 0M512 830l0 0M439 958l0 0M538 872l0 0M362 968l0 0M400 950l0 0M532 940l0 0M352 868l0 0M387 900l0 0M547 878l0 0M345 999l0 0M488 874l0 0M513 889l0 0M544 972l0 0M508 869l0 0M537 951l0 0M459 893l0 0M547 928l0 0M431 948l0 0M390 959l0 0M451 915l0 0M513 932l0 0M525 934l0 0M521 884l0 0M466 826l0 0M420 992l0 0M361 878l0 0M343 956l0 0M498 914l0 0M455 990l0 0M499 883l0 0M545 967l0 0M451 889l0 0M488 925l0 0M430 892l0 0M379 880l0 0M493 977l0 0M374 981l0 0M371 951l0 0M472 932l0 0M385 850l0 0M516 840l0 0M395 850l0 0M432 857l0 0M384 942l0 0M413 877l0 0M548 920l0 0M564 853l0 0M486 885l0 0M344 851l0 0M344 929l0 0M354 996l0 0M369 926l0 0M427 986l0 0M361 917l0 0M357 879l0 0M423 986l0 0M525 962l0 0M558 962l0 0M445 848l0 0M564 831l0 0M529 828l0 0M392 890l0 0M353 924l0 0M417 872l0 0M559 978l0 0M526 883l0 0M462 947l0 0M555 924l0 0M367 967l0 0M374 861l0 0M476 854l0 0M488 894l0 0M558 883l0 0M378 990l0 0M550 888l0 0M443 893l0 0M475 882l0 0M419 933l0 0M523 908l0 0M369 917l0 0M520 850l0 0M498 987l0 0M388 882l0 0M410 920l0 0M374 973l0 0M422 958l0 0M481 967l0 0M564 875l0 0M440 985l0 0M517 936l0 0M432 894l0 0M343 900l0 0M570 961l0 0M553 958l0 0M573 995l0 0M562 837l0 0M416 906l0 0M429 985l0 0M350 848l0 0M369 962l0 0M564 838l0 0M487 851l0 0M558 986l0 0M498 990l0 0M526 948l0 0M450 846l0 0M386 960l0 0M358 924l0 0M401 985l0 0M471 977l0 0M346 835l0 0M349 993l0 0M555 980l0 0M471 837l0 0M572 841l0 0M441 992l0 0M427 831l0 0M556 873l0 0M488 889l0 0M423 964l0 0M508 926l0 0M554 911l0 0M450 924l0 0M530 918l0 0M455 934l0 0M390 989l0 0M389 868l0 0M508 918l0 0M501 856l0 0M468 988l0 0M399 947l0 0M512 946l0 0M539 908l0 0M501 928l0 0M506 975l0 0M416 917l0 0M519 873l0 0M463 968l0 0M467 970l0 0M469 951l0 0M489 983l0 0M483 875l0 0M393 926l0 0M362 852l0 0M564 923l0 0M543 970l0 0M522 903l0 0M443 891l0 0M386 839l0 0M389 980l0 0M441 834l0 0M451 992l0 0M406 930l0 0M520 833l0 0M543 942l0 0M360 889l0 0M511 976l0 0M477 843l0 0M345 897l0 0M520 891l0 0M510 950l0 0M519 837l0 0M494 897l0 0M549 890l0 0M558 905l0 0M424 874l0 0M367 967l0 0M527 930l0 0M410 953l0 0M499 996l0 0M359 901l0 0M493 890l0 0M360 893l0 0M535 931l0 0M552 981l0 0M439 896l0 0M370 827l0 0M382 990l0 0M548 837l0 0M367 864l0 0M515 912l0 0M393 854l0 0M392 922l0 0M499 846l0 0M572 916l0 0M487 864l0 0M402 834l0 0M347 909l0 0M366 920l0 0M556 937l0 0M573 929l0 0M460 846l0 0M367 978l0 0M506 963l0 0M462 921l0 0M493 842l0 0M469 833l0 0M472 932l0 0M523 996l0 0M460 1000l0 0M557 882l0 0M430 868l0 0M349 904l0 0M462 946l0 0M560 980l0 0M480 906l0 0M556 894l0 0M369 868l0 0M394 874l0 0M405 868l0 0M471 900l0 0M448 868l0 0M551 969l0 0M474 893l0 0M445 897l0 0M564 949l0 0M497 940l0 0M488 834l0 0M467 956l0 0M469 899l0 0M502 866l0 0M490 900l0 0M476 972l0 0M493 987l0 0M488 872l0 0M438 832l0 0M434 906l0 0M428 994l0 0M450 876l0 0M526 970l0 0M430 963l0 0M504 942l0 0M378 871l0 0M379 946l0 0M490 903l0 0M473 949l0 0M358 862l0 0M342 875l0 0M411 891l0 0M566 908l0 0M511 877l0 0M468 949l0 0M371 878l0 0M409 846l0 0M482 926l0 0M501 849l0 0M398 926l0 0M353 870l0 0M393 843l0 0M366 963l0 0M405 949l0 0M531 851l0 0M564 979l0 0M488 890l0 0M419 902l0 0M533 991l0 0M368 837l0 0M482 958l0 0M443 911l0 0M388 938l0 0M417 987l0 0M390 826l0 0M556 922l0 0M412 912l0 0M489 874l0 0M570 999l0 0M391 850l0 0M517 926l0 0M380 914l0 0M488 849l0 0M403 907l0 0M372 891l0 0M539 839l0 0M551 833l0 0M550 948l0 0M454 835l0 0M404 936l0 0M482 994l0 0M400 912l0 0M531 915l0 0M390 828l0 0M413 959l0 0M376 878l0 0M476 845l0 0M523 864l0 0M547 836l0 0M394 908l0 0M482 874l0 0M348 890l0 0M546 998l0 0M441 828l0 0M421 831l0 0M342 919l0 0M498 997l0 0M571 850l0 0M568 1000l0 0M534 997l0 0M504 985l0 0M423 942l0 0M355 827l0 0M520 902l0 0M372 934l0 0M347 987l0 0M575 966l0 0M430 850l0 0M374 934l0 0M530 848l0 0M572 878l0 0M510 844l0 0M538 865l0 0M558 996l0 0M372 863l0 0M452 968l0 0M440 864l0 0M347 980l0 0M552 965l0 0M444 902l0 0M419 865l0 0M466 930l0 0M447 953l0 0M436 849l0 0M478 933l0 0M472 904l0 0M466 936l0 0M482 852l0 0M566 962l0 0M364 884l0 0M517 849l0 0M556 937l0 0M532 860l0 0M365 931l0 0M522 834l0 0M546 969l0 0M394 866l0 0M553 874l0 0M411 994l0 0M343 965l0 0M399 862l0 0M431 992l0 0M537 968l0 0M490 945l0 0M350 853l0 0M512 885l0 0M511 855l0 0M487 848l0 0M451 917l0 0M532 915l0 0M518 887l0 0M530 888l0 0M427 896l0 0M574 828l0 0M484 998l0 0M537 832l0 0M435 863l0 0M465 874l0 0M527 897l0 0M545 859l0 0M431 959l0 0M530 961l0 0M423 868l0 0M443 857l0 0M567 853l0 0M472 878l0 0M344 887l0 0M503 944l0 0M546 938l0 0M354 894l0 0M463 923l0 0M474 879l0 0M414 880l0 0M389 861l0 0M352 997l0 0M534 827l0 0M399 870l0 0M498 879l0 0M447 981l0 0M464 848l0 0M510 934l0 0M469 999l0 0M379 853l0 0M430 907l0 0M419 931l0 0M465 955l0 0M377 916l0 0M563 882l0 0M348 848l0 0M424 987l0 0M505 964l0 0M355 952l0 0M471 987l0 0M381 846l0 0M351 878l0 0M466 890l0 0M568 854l0 0M373 828l0 0M519 906l0 0M423 916l0 0M360 938l0 0M500 998l0 0M556 845l0 0M551 890l0 0M428 841l0 0M474 988l0 0M371 927l0 0M497 945l0 0M355 870l0 0M492 899l0 0M423 900l0 0M433 956l0 0M430 930l0 0M393 916l0 0M394 923l0 0M526 962l0 0M382 837l0 0M419 945l0 0M390 998l0 0M444 995l0 0M510 887l0 0M427 832l0 0M399 884l0 0M507 887l0 0M492 827l0 0M462 979l0 0M484 925l0 0M460 831l0 0M386 914l0 0M504 953l0 0M369 923l0 0M515 982l0 0M460 834l0 0M428 920l0 0M538 853l0 0M410 984l0 0M514 828l0 0M542 916l0 0M567 884l0 0M441 875l0 0M543 857l0 0M482 942l0 0M356 987l0 0M514 873l0 0M542 851l0 0M513 975l0 0M431 966l0 0M393 986l0 0M572 899l0 0M568 868l0 0M540 916l0 0M527 937l0 0M369 961l0 0M405 880l0 0M457 854l0 0M404 959l0 0M447 999l0 0M481 996l0 0M441 857l0 0M381 837l0 0M524 982l0 0M417 970l0 0M379 876l0 0M437 850l0 0M406 878l0 0M359 877l0 0M436 845l0 0M449 856l0 0M472 826l0 0M353 849l0 0M508 969l0 0M356 992l0 0M358 839l0 0M566 920l0 0M485 921l0 0M495 928l0 0M551 886l0 0M421 992l0 0M570 893l0 0M421 837l0 0M357 932l0 0M369 847l0 0M418 835l0 0M419 920l0 0M443 875l0 0M574 885l0 0M533 942l0 0M405 853l0 0M446 885l0 0M454 940l0 0M418 941l0 0M450 934l0 0M471 976l0 0M486 878l0 0M514 891l0 0M417 897l0 0M344 883l0 0M408 982l0 0M409 937l0 0M364 865l0 0M540 864l0 0M353 992l0 0M486 970l0 0M563 946l0 0M499 949l0 0M375 909l0 0M539 849l0 0M407 910l0 0M481 992l0 0M399 898l0 0M351 940l0 0M367 918l0 0M542 848l0 0M484 927l0 0M444 963l0 0M481 905l0 0M563 955l0 0M436 844l0 0M354 929l0 0M543 938l0 0M514 971l0 0M424 966l0 0M416 916l0 0M493 945l0 0M553 947l0 0M542 927l0 0M575 833l0 0M408 981l0 0M543 897l0 0M391 846l0 0M575 880l0 0M400 887l0 0M465 999l0 0M574 930l0 0M479 947l0 0M419 910l0 0M438 991l0 0M446 834l0 0M443 861l0 0M575 976l0 0M469 979l0 0M428 858l0 0M426 977l0 0M474 999l0 0M550 857l0 0M526 962l0 0M494 905l0 0M384 964l0 0M436 948l0 0M389 885l0 0M450 996l0 0M344 915l0 0M443 861l0 0M420 973l0 0M442 942l0 0M413 994l0 0M365 938l0 0M516 988l0 0M425 889l0 0M366 832l0 0M483 972l0 0M518 984l0 0M555 884l0 0M426 907l0 0M534 920l0 0M345 964l0 0M503 935l0 0M538 831l0 0M445 891l0 0M508 950l0 0M554 944l0 0M391 846l0 0M493 910l0 0M515 834l0 0M478 978l0 0M534 979l0 0M490 941l0 0M358 835l0 0M461 928l0 0M557 871l0 0M460 955l0 0M462 919l0 0M574 995l0 0M359 1000l0 0M467 911l0 0M408 953l0 0M554 895l0 0M365 882l0 0M450 962l0 0M487 945l0 0M554 869l0 0M506 970l0 0M374 869l0 0M351 958l0 0M501 831l0 0M569 876l0 0M421 980l0 0M540 867l0 0M361 874l0 0M403 902l0 0M370 886l0 0M414 854l0 0M564 946l0 0M551 916l0 0M409 883l0 0M390 957l0 0M539 867l0 0M374 915l0 0M534 836l0 0M545 963l0 0M461 990l0 0M536 931l0 0M429 957l0 0M506 830l0 0M413 887l0 0M415 939l0 0M553 996l0 0M436 869l0 0M355 877l0 0M478 920l0 0M547 936l0 0M441 828l0 0M443 873l0 0M537 956l0 0M425 930l0 0M347 956l0 0M549 984l0 0M554 857l0 0M539 928l0 0M346 869l0 0M516 894l0 0M404 885l0 0M439 963l0 0M445 982l0 0M512 909l0 0M574 874l0 0M520 906l0 0M421 839l0 0M426 997l0 0M375 897l0 0M471 895l0 0M362 881l0 0M467 945l0 0M489 835l0 0M485 864l0 0" stroke="#201a2a" stroke-width="1.5" stroke-opacity="0.8"/>
</g>
<rect x="542.5" y="994.1" width="32" height="2.6" fill="#000"/><text x="558.5" y="992.4" text-anchor="middle" style="font-family:'DejaVu Sans',sans-serif;font-weight:700;font-size:7px" fill="#000">200μm</text>
<clipPath id="m3c"><rect x="91.8" y="1017.8" width="233.4" height="173.6"/></clipPath>
<g clip-path="url(#m3c)" fill="none" stroke-linecap="round" stroke-linejoin="round"><rect x="91.8" y="1017.8" width="233.4" height="173.6" fill="#f6f5f7"/>
<path id="m30" d="M127 1178l0 3m0 -3l-1 -3M100 1066l-2 3m2 -3l0 -2M200 1180l4 -1m-4 1l0 3M138 1119l3 0m-3 0l-4 2M281 1086l1 3m-1 -3l0 -4M282 1129l-3 1m3 -1l1 -3M252 1168l-2 2m2 -2l2 -1M278 1053l4 -2m-4 2l-2 3M105 1144l2 -3m-2 3l-1 1M198 1133l-1 5m1 -5l-1 -2M179 1099l-3 -1m3 1l4 0M205 1175l-1 -4m1 4l1 1M146 1082l0 -2m0 2l-2 4M249 1142l-1 -3m1 3l3 1M240 1074l1 -5m-1 5l0 3M118 1124l0 -4m0 4l3 2M223 1170l-6 -2m6 2l2 1M221 1082l2 4m-2 -4l0 -4M164 1122l-2 -4m2 4l1 4M109 1117l3 -2m-3 2l-1 2M223 1085l-4 -4m4 4l1 1M222 1103l0 -3m0 3l2 3M232 1080l2 5m-2 -5l-3 -2M107 1186l4 2m-4 -2l-2 1M136 1054l5 0m-5 0l-2 1M270 1082l-2 -4m2 4l0 4M115 1109l-1 4m1 -4l0 -2M153 1073l-2 2m2 -2l-1 -3M190 1189l-5 -2m5 2l3 -2M179 1061l-4 4m4 -4l3 0M93 1094l3 -5m-3 5l-3 1M113 1035l-2 2m2 -2l1 -4M206 1061l-1 4m1 -4l2 -1M283 1116l-2 3m2 -3l1 -3M235 1143l2 -1m-2 1l-4 0M146 1184l-5 -3m5 3l2 -1M239 1095l-4 4m4 -4l2 -2M164 1067l-4 -1m4 1l3 1M136 1045l3 2m-3 -2l-3 1M234 1085l2 2m-2 -2l-3 -2M100 1075l-3 2m3 -2l4 3M304 1028l-3 -5m3 5l-2 3M267 1053l2 3m-2 -3l0 -2M300 1034l3 4m-3 -4l-1 -3M248 1165l1 4m-1 -4l2 -2M296 1081l-5 0m5 0l3 2M183 1087l3 0m-3 0l-2 -3M94 1161l2 2m-2 -2l-2 -1M110 1178l-4 -4m4 4l3 2M230 1125l-1 2m1 -2l4 -1M236 1164l-3 3m3 -3l0 -2M159 1173l-5 2m5 -2l3 0M183 1019l4 2m-4 -2l0 -4M151 1029l3 -4m-3 4l-2 4M160 1076l-4 -3m4 3l3 -1M215 1145l5 3m-5 -3l-3 -1M138 1175l-5 -1m5 1l3 -4M310 1053l5 -1m-5 1l-3 0M129 1028l-5 -2m5 2l3 -3M319 1096l0 2m0 -2l3 -2M325 1049l-1 -4m1 4l3 1M169 1168l-1 -3m1 3l2 1M179 1021l-1 5m1 -5l0 -2M94 1135l-4 -4m4 4l2 1M283 1030l2 2m-2 -2l-1 -3M123 1080l-3 4m3 -4l2 0M314 1046l-3 -4m3 4l0 5M195 1142l4 -1m-4 1l-1 1M232 1022l3 -3m-3 3l-2 3M273 1046l0 -4m0 4l3 2M131 1049l2 -5m-2 5l-2 4M191 1143l4 -1m-4 1l-4 1M215 1070l-2 2m2 -2l1 -3M229 1048l-4 -1m4 1l0 2M168 1067l3 -2m-3 2l-4 0M212 1110l-4 1m4 -1l3 -3M190 1113l3 4m-3 -4l-1 -4M175 1141l-1 -2m1 2l3 3M262 1130l-3 -5m3 5l1 2M182 1023l-3 2m3 -2l1 -1M289 1070l4 3m-4 -3l-3 1M119 1186l-2 5m2 -5l1 -2M224 1134l3 4m-3 -4l-3 -1M249 1093l-5 2m5 -2l4 1M180 1080l0 2m0 -2l-1 -3M98 1099l0 -4m0 4l-1 3M301 1084l-1 3m1 -3l3 -3M107 1152l1 6m-1 -6l-3 -1M159 1040l0 5m0 -5l2 -2M162 1048l1 4m-1 -4l0 -2M322 1026l2 1m-2 -1l-2 1M287 1065l-1 3m1 -3l-1 -2M186 1150l-1 -4m1 4l-2 3M158 1104l-1 -2m1 2l4 0M220 1157l4 1m-4 -1l-2 0M191 1021l-5 -1m5 1l3 0M122 1072l2 5m-2 -5l-4 -2M267 1139l1 2m-1 -2l-1 -2M256 1026l1 -2m-1 2l-1 3M104 1042l4 -3m-4 3l-3 -1M327 1069l2 0m-2 0l-2 1M224 1023l0 -4m0 4l1 1M147 1020l3 2m-3 -2l-4 0M110 1105l0 -3m0 3l1 3M266 1063l3 1m-3 -1l-1 -1M326 1100l-2 3m2 -3l1 -3M268 1112l-4 0m4 0l1 2M202 1120l-3 -1m3 1l4 1M237 1187l4 3m-4 -3l-1 -5M194 1080l-3 5m3 -5l1 -2M95 1050l5 -2m-5 2l-2 -1M234 1042l-3 1m3 -1l1 -1M127 1130l-4 -3m4 3l3 0M278 1166l-1 -5m1 5l3 1M300 1059l-5 2m5 -2l4 -2M210 1068l2 -3m-2 3l-3 0M212 1099l-5 0m5 0l1 2M184 1130l0 3m0 -3l-1 -3M141 1091l2 -2m-2 2l-3 -1M106 1101l-3 -5m3 5l1 2M110 1142l2 5m-2 -5l0 -4M106 1047l-4 1m4 -1l2 -2M132 1089l-4 1m4 -1l3 2M255 1029l-3 0m3 0l4 0M108 1124l3 -3m-3 3l-3 1M161 1111l-2 0m2 0l3 -2M267 1067l-1 4m1 -4l-3 -3M91 1063l-3 2m3 -2l2 -2M302 1072l3 -3m-3 3l-3 0M142 1174l1 2m-1 -2l0 -2M177 1066l-2 4m2 -4l4 0M96 1121l2 2m-2 -2l-3 -1M99 1134l0 -2m0 2l-1 1M242 1035l1 3m-1 -3l-4 -1M245 1099l6 0m-6 0l-4 2M138 1086l0 -5m0 5l3 2M109 1167l3 -3m-3 3l-2 1M121 1172l-1 6m1 -6l-1 -2M222 1097l2 -3m-2 3l-1 2M145 1051l-3 1m3 -1l1 -3M232 1069l-2 -3m2 3l-2 3M267 1165l-4 4m4 -4l2 -1M277 1122l-2 0m2 0l2 -3M92 1131l4 3m-4 -3l0 -3M238 1020l4 3m-4 -3l1 -2M201 1071l-2 -2m2 2l3 2M225 1115l-4 1m4 -1l2 1M206 1134l2 -2m-2 2l1 2M221 1036l3 4m-3 -4l0 -2M136 1058l3 -3m-3 3l-3 0M184 1162l2 1m-2 -1l-4 -1M270 1107l2 -5m-2 5l0 2M288 1114l-1 -4m1 4l0 2M89 1055l-3 -4m3 4l3 3M103 1108l-4 1m4 -1l2 3M174 1025l2 -5m-2 5l2 4M208 1130l-3 2m3 -2l0 -4M154 1089l6 0m-6 0l-2 3M174 1115l-4 -2m4 2l2 4M214 1160l-2 1m2 -1l4 2M165 1016l-1 -3m1 3l0 2M250 1035l-2 2m2 -2l3 1M255 1074l-4 -4m4 4l0 2M210 1157l3 -2m-3 2l-1 4M317 1043l-4 -3m4 3l-1 2M244 1020l-2 1m2 -1l2 0M120 1046l-2 1m2 -1l2 -2M244 1190l3 -1m-3 1l-3 3M238 1034l1 4m-1 -4l0 -3M101 1019l-2 -1m2 1l2 -1M248 1068l-5 2m5 -2l4 2M99 1095l2 2m-2 -2l-3 -2M95 1022l1 4m-1 -4l2 -2M272 1068l2 -2m-2 2l-1 4M126 1113l2 -5m-2 5l0 3M248 1189l-1 2m1 -2l3 -1M90 1102l2 0m-2 0l-3 1M251 1091l-5 -3m5 3l1 2M280 1194l-4 -3m4 3l-1 2M186 1098l2 1m-2 -1l-1 -4M298 1074l3 3m-3 -3l-1 -2M160 1082l-2 -2m2 2l2 3M148 1047l-1 4m1 -4l3 -1M183 1073l1 -3m-1 3l-1 4M288 1183l5 -1m-5 1l-2 4M155 1020l5 0m-5 0l-1 3M292 1083l-3 2m3 -2l4 -2M104 1071l-4 -1m4 1l3 0M107 1172l-2 -4m2 4l3 3M286 1137l-2 -1m2 1l3 3M94 1179l-3 4m3 -4l2 -1M279 1116l-3 -3m3 3l4 -1M243 1082l2 -1m-2 1l0 2M181 1110l0 -4m0 4l-2 2M207 1150l-5 -1m5 1l1 4M191 1176l3 -1m-3 1l-4 -2M152 1036l-5 0m5 0l2 0M323 1040l-1 -4m1 4l-1 3M238 1041l-6 1m6 -1l1 2M220 1055l-2 -3m2 3l2 0M295 1134l4 -1m-4 1l-3 0M268 1048l3 -2m-3 2l-3 3M166 1076l1 5m-1 -5l-3 -3M191 1171l2 2m-2 -2l-1 -3M176 1173l4 0m-4 0l-3 2M144 1127l5 -1m-5 1l-1 2M92 1168l3 -3m-3 3l-1 2M172 1059l-2 1m2 -1l3 -3M158 1025l-1 3m1 -3l0 -2M314 1051l-2 1m2 -1l3 -2M113 1118l-1 4m1 -4l3 -3M256 1137l-2 0m2 0l3 1M94 1117l2 3m-2 -3l-2 0M108 1076l3 -2m-3 2l-2 1M218 1015l-6 -1m6 1l2 2M272 1159l-4 4m4 -4l3 -2M151 1053l0 -4m0 4l-2 3M290 1021l3 -4m-3 4l0 2M274 1071l-5 -1m5 1l2 2M284 1020l1 3m-1 -3l-1 -1M174 1032l2 -2m-2 2l-3 -1M118 1072l-3 3m3 -3l2 1M236 1075l1 -2m-1 2l-2 0M143 1146l0 -4m0 4l2 2M227 1162l-4 -4m4 4l3 2M211 1185l-4 2m4 -2l3 0M134 1064l0 2m0 -2l-2 -3M164 1113l2 -4m-2 4l0 3M126 1085l-2 4m2 -4l-2 -2M235 1178l-2 2m2 -2l0 -2M238 1127l-5 0m5 0l2 -1M328 1058l0 6m0 -6l1 -3M224 1028l2 0m-2 0l-1 -1M124 1148l1 -5m-1 5l0 4M165 1089l1 -6m-1 6l-1 3M147 1180l-4 0m4 0l3 0M202 1152l-1 4m1 -4l1 -2M241 1188l-1 2m1 -2l3 0M125 1016l2 0m-2 0l-3 -2M109 1182l5 2m-5 -2l-1 -3M143 1131l-2 0m2 0l3 0M316 1081l-3 -2m3 2l2 3M293 1118l3 -5m-3 5l-2 0M106 1137l-4 2m4 -2l5 -1M141 1124l-5 0m5 0l1 -1M120 1141l1 3m-1 -3l2 -3M325 1192l1 3m-1 -3l2 -3M94 1042l-6 2m6 -2l3 -2M213 1124l-5 1m5 -1l1 2M261 1030l-2 4m2 -4l4 0M277 1073l-4 -4m4 4l0 5M298 1024l-3 -1m3 1l4 2M159 1056l-4 1m4 -1l2 1M224 1018l0 4m0 -4l-3 -1M180 1031l-1 3m1 -3l0 -4M140 1032l3 -5m-3 5l0 3M150 1144l5 0m-5 0l-3 3M192 1016l-3 -2m3 2l3 2M262 1161l1 -4m-1 4l2 2M182 1134l-1 -2m1 2l-1 3M204 1098l-4 -3m4 3l2 3M139 1021l1 4m-1 -4l-2 -4M181 1068l6 0m-6 0l-2 -3M238 1173l-4 1m4 -1l3 3M294 1110l-6 -1m6 1l2 1M184 1052l-3 0m3 0l4 2M101 1103l4 -4m-4 4l-3 0M185 1068l2 0m-2 0l-2 1M207 1054l3 -4m-3 4l-1 4M288 1082l-3 5m3 -5l-2 -4M228 1117l-2 -4m2 4l-1 4M211 1074l-2 0m2 0l4 3M116 1154l-3 1m3 -1l4 -2M104 1182l1 5m-1 -5l2 -3M151 1045l-1 3m1 -3l-3 -3M174 1044l-1 2m1 -2l-1 -3M157 1113l3 0m-3 0l-2 -3M146 1113l1 -5m-1 5l0 3M239 1144l-2 -1m2 1l2 -1M174 1091l3 -3m-3 3l1 3M176 1085l3 -5m-3 5l1 4M321 1054l2 -2m-2 2l-1 2M192 1101l3 2m-3 -2l-2 0M280 1076l1 2m-1 -2l-1 -2M237 1110l3 -1m-3 1l-2 3M315 1094l5 1m-5 -1l-3 1M100 1174l4 1m-4 -1l-4 -2M95 1036l5 -3m-5 3l-3 1M115 1170l1 -3m-1 3l1 1M263 1056l2 4m-2 -4l0 -3M117 1038l-4 -2m4 2l3 2M268 1103l2 -1m-2 1l-3 3M241 1181l4 -5m-4 5l-2 1M157 1066l-3 4m3 -4l2 -2M225 1142l4 -2m-4 2l-4 1M139 1055l-2 3m2 -3l1 -1M286 1036l-4 3m4 -3l1 -3M110 1101l3 0m-3 0l-4 0M226 1138l-3 2m3 -2l0 -5M230 1120l2 -3m-2 3l2 4M160 1178l-4 -2m4 2l4 0M98 1112l4 5m-4 -5l0 -2M290 1167l6 2m-6 -2l-1 -1M303 1096l4 2m-4 -2l-2 2M208 1180l-2 -5m2 5l1 2M106 1164l0 -6m0 6l1 2M274 1061l-4 -2m4 2l0 3M288 1025l-5 -3m5 3l2 -1M258 1082l2 2m-2 -2l-2 -1M205 1140l0 -3m0 3l1 4M313 1075l3 3m-3 -3l-3 -3M115 1023l-6 -1m6 1l1 2M123 1167l6 2m-6 -2l-1 -1M284 1112l-4 1m4 -1l1 -3M270 1149l3 4m-3 -4l-4 -1M319 1038l0 4m0 -4l-1 -3M218 1046l2 1m-2 -1l-2 -2M180 1115l2 -2m-2 2l-1 4M230 1073l2 -3m-2 3l-2 1M303 1050l1 -2m-1 2l-1 5M153 1135l1 3m-1 -3l-3 -2M219 1108l3 1m-3 -1l-2 1M111 1185l-1 4m1 -4l-3 -2M114 1141l-3 -5m3 5l3 0M247 1155l-2 -3m2 3l4 -1M178 1071l2 -3m-2 3l0 2M118 1020l-3 -4m3 4l2 0M249 1022l4 2m-4 -2l-3 3M176 1078l2 -4m-2 4l-2 1M172 1166l-2 -5m2 5l0 3M218 1128l-3 0m3 0l3 -2M163 1107l0 -3m0 3l-2 1M163 1058l-3 -3m3 3l2 -1M244 1094l4 2m-4 -2l-3 0M262 1073l1 5m-1 -5l-3 -2M245 1152l-3 -4m3 4l-1 2M221 1188l0 -3m0 3l5 1M239 1178l-1 4m1 -4l2 -3M224 1185l4 0m-4 0l-3 -3M201 1106l-4 3m4 -3l0 -3M123 1159l-2 1m2 -1l1 -2M130 1032l4 4m-4 -4l-3 -4M234 1029l3 1m-3 -1l-4 0M149 1131l-2 2m2 -2l2 0M299 1096l-2 5m2 -5l3 -1M308 1032l3 -4m-3 4l0 2M191 1150l2 2m-2 -2l-4 0M131 1121l4 -4m-4 4l-3 1M125 1041l0 -6m0 6l0 2M227 1156l3 -2m-3 2l-2 -1M260 1086l-2 4m2 -4l1 -2M207 1076l-5 0m5 0l4 -1M283 1065l3 1m-3 -1l-2 0M206 1106l1 4m-1 -4l0 -3M230 1112l3 -3m-3 3l-3 3M126 1061l0 -4m0 4l-3 2M310 1089l4 -2m-4 2l-3 3M141 1087l3 2m-3 -2l-3 1M156 1167l2 1m-2 -1l-2 -1M212 1166l1 -6m-1 6l-2 1M261 1039l0 -5m0 5l-3 2M104 1116l2 5m-2 -5l-1 -4M279 1107l-1 3m1 -3l2 -2M220 1092l0 5m0 -5l-2 -1M154 1023l-1 6m1 -6l-2 -2M290 1086l-3 -1m3 1l2 -2M157 1036l-3 -4m3 4l1 2M260 1137l2 1m-2 -1l-3 0M275 1016l0 -4m0 4l-1 3M197 1090l3 -3m-3 3l-2 3M223 1091l-4 0m4 0l2 3M198 1192l2 5m-2 -5l1 -4M170 1072l3 5m-3 -5l0 -2M167 1038l-2 5m2 -5l-2 -4M232 1034l1 -5m-1 5l0 4M273 1173l-4 2m4 -2l3 -3M161 1093l2 -2m-2 2l-1 5M254 1148l4 4m-4 -4l1 -5M254 1191l-3 0m3 0l2 0M245 1141l-3 -2m3 2l0 3M185 1093l5 1m-5 -1l-1 -2M129 1190l0 4m0 -4l-2 -2M131 1083l-1 3m1 -3l-1 -4M263 1047l-5 -3m5 3l2 2M138 1181l1 4m-1 -4l1 -3M165 1161l-1 3m1 -3l2 -2M195 1105l2 -2m-2 2l-2 3M231 1190l4 2m-4 -2l-2 0M138 1065l-4 1m4 -1l4 2M315 1040l-2 2m2 -2l-1 -2M188 1179l-3 -2m3 2l1 2M291 1127l3 1m-3 -1l0 -3M304 1068l-2 5m2 -5l-1 -4M111 1015l3 -3m-3 3l-1 4M230 1025l2 5m-2 -5l1 -2M206 1065l1 -5m-1 5l-2 3M233 1091l-2 5m2 -5l1 -3M188 1186l5 1m-5 -1l-4 -1M298 1091l-1 3m1 -3l2 -2M142 1135l-1 -5m1 5l0 3M197 1127l-4 1m4 -1l3 -1M214 1085l0 4m0 -4l2 -3M89 1161l0 -2m0 2l0 3M141 1103l3 3m-3 -3l-3 1M190 1108l2 -1m-2 1l-2 3M278 1090l-2 6m2 -6l-1 -3M243 1017l-3 0m3 0l5 0M303 1087l-5 2m5 -2l3 -1M102 1150l1 -2m-1 2l-3 1M243 1127l-4 1m4 -1l3 -2M319 1086l-1 -5m1 5l2 1M260 1178l-2 2m2 -2l0 -4M283 1107l-1 -2m1 2l1 3M90 1110l-3 -1m3 1l2 0M253 1143l-1 -3m1 3l1 3M241 1024l-4 -4m4 4l3 1M110 1113l-2 2m2 -2l-1 -2M101 1143l-3 -2m3 2l4 2M313 1098l4 2m-4 -2l-2 1M155 1063l-1 2m1 -2l3 -4M324 1030l1 -4m-1 4l0 5M237 1064l-2 -2m2 2l2 2M291 1095l-3 -2m3 2l0 2M290 1047l-5 -1m5 1l2 -2M94 1079l-3 -3m3 3l0 4M172 1101l3 0m-3 0l-1 -1M221 1043l2 3m-2 -3l-1 -4M141 1026l-6 -1m6 1l2 -3M117 1130l-2 2m2 -2l0 -2M298 1049l1 -2m-1 2l1 3M266 1099l-4 -3m4 3l1 3M308 1145l-2 4m2 -4l0 -2M195 1134l-3 0m3 0l4 0M135 1191l-4 0m4 0l3 2M214 1194l-2 -4m2 4l2 1M202 1085l-4 -1m4 1l1 1M307 1043l4 -3m-4 3l-2 0M221 1151l3 -1m-3 1l-3 0M228 1078l-1 5m1 -5l-4 -3M209 1116l-2 -2m2 2l3 3M142 1080l-4 -2m4 2l2 2M284 1044l5 -1m-5 1l-3 2M172 1148l-1 -4m1 4l4 1M294 1074l-3 0m3 0l2 3M167 1111l1 5m-1 -5l-3 -1M91 1082l-3 -2m3 2l3 0M192 1051l2 3m-2 -3l0 -2M92 1192l-2 2m2 -2l2 0M256 1178l1 -5m-1 5l-1 1M266 1020l3 3m-3 -3l-3 -1M131 1104l-2 3m2 -3l2 -1M122 1031l3 -3m-3 3l-3 1M321 1082l2 -5m-2 5l1 1M266 1092l-4 0m4 0l2 -2M299 1068l-5 0m5 0l2 3M90 1045l-4 1m4 -1l2 3M189 1147l0 -6m0 6l0 2M203 1114l2 6m-2 -6l0 -2M320 1051l3 1m-3 -1l-3 -2M218 1154l-5 -3m5 3l2 -2M229 1152l-3 2m3 -2l2 1M241 1192l-5 1m5 -1l2 -2M222 1125l0 2m0 -2l-1 -5M323 1070l-2 3m2 -3l1 -2M177 1057l1 5m-1 -5l0 -4M154 1111l4 -4m-4 4l-3 -1M315 1087l-3 -2m3 2l2 2M181 1053l1 3m-1 -3l-1 -2M253 1181l-2 0m2 0l2 3M202 1177l3 1m-3 -1l-2 2M312 1032l5 0m-5 0l-3 2M113 1124l2 4m-2 -4l0 -3M282 1071l-2 1m2 -1l2 1M226 1146l2 1m-2 -1l-1 -1M112 1080l-4 4m4 -4l1 -2M106 1081l0 -2m0 2l2 2M155 1093l-2 1m2 -1l2 -2M308 1093l4 -3m-4 3l-2 -2M307 1085l-4 0m4 0l2 -2M296 1058l0 2m0 -2l1 -1M115 1047l0 5m0 -5l-3 -2M300 1056l2 2m-2 -2l-2 -2M115 1015l1 4m-1 -4l-1 -2M131 1036l-4 -2m4 2l0 4M208 1194l-1 2m1 -2l0 -3M92 1113l5 -1m-5 1l-3 2M154 1174l5 0m-5 0l-2 0M152 1149l5 -1m-5 1l-2 -2M282 1186l-4 0m4 0l4 -1M152 1189l-4 -3m4 3l0 2M258 1171l-3 -3m3 3l3 0M121 1017l-2 -4m2 4l0 5M113 1152l1 2m-1 -2l-3 -2M258 1156l1 -3m-1 3l1 2M137 1024l-1 -2m1 2l1 2M123 1189l4 -1m-4 1l-3 -4M322 1101l1 2m-1 -2l-1 -3M290 1101l-3 1m3 -1l2 -2M303 1021l-4 3m4 -3l1 -1M291 1064l3 -3m-3 3l-3 3M298 1039l4 3m-4 -3l-2 1M199 1059l-4 -1m4 1l3 3M95 1194l1 -3m-1 3l-3 1M146 1070l-3 -5m3 5l-1 4M203 1092l-3 3m3 -3l3 -2M188 1049l-3 0m3 0l4 -2M162 1054l-2 -3m2 3l0 4M99 1120l1 2m-1 -2l-1 -3M279 1037l-2 -2m2 2l5 0M182 1144l-2 0m2 0l3 -2M135 1123l-4 -1m4 1l1 4M193 1130l-3 0m3 0l2 -2M165 1188l-4 3m4 -3l3 1M201 1141l-3 1m3 -1l0 -2M221 1176l-2 -3m2 3l1 4M100 1160l-1 5m1 -5l-2 -4M223 1076l-2 1m2 -1l4 0M96 1182l-3 -1m3 1l3 0M277 1081l4 2m-4 -2l-4 2M309 1068l-2 4m2 -4l1 -3M103 1061l6 0m-6 0l-2 2M312 1085l-3 -3m3 3l4 2M185 1189l3 3m-3 -3l-2 0M224 1110l3 -2m-3 2l-3 -1M268 1170l-1 -2m1 2l3 0M228 1180l2 1m-2 -1l-3 -1M90 1186l1 5m-1 -5l-2 -2M157 1047l1 3m-1 -3l0 -3M255 1068l2 2m-2 -2l1 -3M191 1074l4 2m-4 -2l-1 -2M318 1034l-1 5m1 -5l1 -2M169 1182l5 -3m-5 3l-1 2M212 1057l-6 -1m6 1l2 1M188 1030l4 4m-4 -4l-5 0M230 1137l2 1m-2 -1l-3 2M169 1033l-1 3m1 -3l1 -1M303 1148l2 -3m-2 3l-1 3M158 1185l0 3m0 -3l1 -2M119 1158l-5 1m5 -1l2 -2M106 1148l-2 4m2 -4l-1 -3M185 1043l0 4m0 -4l0 -3M241 1098l-1 4m1 -4l4 -2M214 1150l-3 1m3 -1l2 -3M141 1018l-2 -2m2 2l2 3M230 1086l3 -3m-3 3l-3 3M91 1034l-4 0m4 0l2 -3M121 1180l1 4m-1 -4l-1 -4M180 1094l-4 1m4 -1l1 -4M245 1175l0 3m0 -3l2 -1M139 1047l-6 -2m6 2l3 -2M239 1160l-2 -2m2 2l2 -1M237 1026l1 4m-1 -4l-4 -2M275 1093l2 -2m-2 2l-2 0M165 1170l-4 1m4 -1l2 2M291 1090l-3 -2m3 2l2 3M163 1164l0 2m0 -2l2 -1M247 1184l5 -2m-5 2l0 3M228 1096l1 -3m-1 3l-3 1M218 1164l-3 -3m3 3l-1 2M103 1165l2 3m-2 -3l-1 -2M236 1175l-3 5m3 -5l5 0M229 1037l-5 -1m5 1l2 -1M123 1064l0 -5m0 5l-1 1M215 1142l-3 -3m3 3l-1 2M90 1050l0 3m0 -3l1 -2M326 1062l3 0m-3 0l-1 2M126 1055l1 4m-1 -4l-2 -1M177 1104l-5 2m5 -2l2 -2M275 1084l1 3m-1 -3l-2 -1M280 1083l2 3m-2 -3l-2 -1M190 1139l-3 -2m3 2l1 3M130 1162l0 -5m0 5l-1 3M199 1147l-2 -5m2 5l-3 2M272 1022l-2 4m2 -4l1 -3M216 1136l1 -4m-1 4l3 3M304 1064l2 -5m-2 5l2 2M276 1101l-1 2m1 -2l4 0M130 1019l5 1m-5 -1l-4 -2M127 1022l6 0m-6 0l-4 -1M266 1059l4 1m-4 -1l-2 2M293 1038l-1 3m1 -3l2 -1M179 1187l6 -1m-6 1l-2 -1M209 1161l-2 -5m2 5l1 4M142 1189l1 -2m-1 2l0 4M285 1053l0 6m0 -6l0 -3M238 1193l1 3m-1 -3l-3 -1M108 1018l2 -1m-2 1l-1 3M194 1108l4 -4m-4 4l-2 3M240 1124l-1 5m1 -5l1 -3M266 1184l1 4m-1 -4l0 -4M317 1028l2 -4m-2 4l2 2M269 1179l3 4m-3 -4l-3 -1M232 1164l3 -5m-3 5l-3 2M271 1077l4 -1m-4 1l-3 0M98 1025l1 -2m-1 2l-4 1M232 1145l2 3m-2 -3l-2 -3M186 1080l-1 -3m1 3l1 1M232 1182l3 2m-3 -2l-3 -2M235 1184l-5 0m5 0l2 -2M96 1188l-1 -2m1 2l0 2M163 1174l4 3m-4 -3l-3 -3M170 1055l-2 1m2 -1l2 -2M294 1086l3 -1m-3 1l-2 0M281 1123l2 -2m-2 2l-3 -1M293 1173l0 2m0 -2l-1 -4M93 1067l-5 0m5 0l1 1M162 1193l-3 4m3 -4l-2 -4M114 1074l3 -4m-3 4l-2 1M211 1106l2 1m-2 -1l-3 -3M199 1079l-3 4m3 -4l2 -1M140 1074l4 -1m-4 1l-3 -2M302 1015l-2 -2m2 2l0 4M181 1168l5 -2m-5 2l-2 -1M136 1091l-2 1m2 -1l1 -2M267 1133l2 2m-2 -2l-2 -2M189 1092l0 4m0 -4l3 -2M236 1122l-4 4m4 -4l5 0M99 1184l0 -3m0 3l1 2M210 1142l0 6m0 -6l0 -2M309 1021l1 2m-1 -2l-1 -2M293 1079l2 -2m-2 2l1 3M217 1096l2 1m-2 -1l-2 -3M237 1151l0 -5m0 5l1 2M284 1097l3 -2m-3 2l-4 2M321 1045l-5 0m5 0l5 1M180 1049l-3 5m3 -5l4 -1M291 1042l-2 0m2 0l2 3M259 1164l5 -2m-5 2l-2 0M225 1120l2 4m-2 -4l1 -3M124 1027l2 -5m-2 5l0 2M214 1078l1 -5m-1 5l-3 1M214 1115l3 -1m-3 1l-5 0M298 1166l1 -6m-1 6l1 3M269 1117l-5 1m5 -1l4 -1M241 1150l4 0m-4 0l-1 3M282 1173l-1 4m1 -4l2 -1M253 1173l1 -4m-1 4l2 1M288 1124l-1 2m1 -2l0 -2M274 1169l4 1m-4 -1l-1 -2M246 1028l-2 -5m2 5l0 4M146 1106l2 2m-2 -2l-3 -1M314 1057l4 0m-4 0l-1 -2M280 1161l3 1m-3 -1l-2 2M139 1069l4 -1m-4 1l-2 0M182 1040l2 -1m-2 1l-3 -1M169 1186l1 -3m-1 3l-3 2M316 1061l1 -5m-1 5l1 3M264 1153l1 -4m-1 4l2 4M119 1148l-4 0m4 0l1 -2M203 1076l2 4m-2 -4l0 -2M112 1158l-3 -2m3 2l3 0M111 1161l-4 4m4 -4l0 -2M96 1127l-4 -1m4 1l2 3M171 1029l1 2m-1 -2l1 -3M294 1031l4 -1m-4 1l-3 -1M93 1018l1 3m-1 -3l-3 0M169 1161l-1 3m1 -3l1 -2M243 1172l-4 -2m4 2l2 -1M154 1077l-5 3m5 -3l0 -2M143 1060l3 -4m-3 4l0 3M297 1053l-1 -3m1 3l2 3M310 1044l-3 -1m3 1l4 -1M195 1190l2 4m-2 -4l-1 -3M129 1058l0 -2m0 2l-1 2M102 1126l2 1m-2 -1l-2 2M153 1069l5 2m-5 -2l-1 -3M260 1182l-3 -3m3 3l3 3M252 1188l-3 3m3 -3l2 -1M270 1055l2 5m-2 -5l-2 -1M168 1025l4 -4m-4 4l0 2M179 1154l3 -2m-3 2l0 2M163 1119l0 -2m0 2l-1 1M295 1106l2 2m-2 -2l-2 0M116 1165l0 4m0 -4l-2 -2M90 1076l2 1m-2 -1l-2 0M150 1066l-4 -3m4 3l2 -1M191 1163l-6 -1m6 1l2 -4M299 1029l-4 -3m4 3l-1 3M217 1172l-2 -3m2 3l0 4M252 1025l-2 -5m2 5l2 3M131 1179l-2 -2m2 2l3 0M308 1077l-1 2m1 -2l3 0M135 1019l-1 -3m1 3l3 0M195 1174l2 4m-2 -4l-1 -4M184 1173l2 -2m-2 2l-4 0M233 1017l-2 5m2 -5l0 -3M327 1141l1 -4m-1 4l-3 3M259 1096l2 -2m-2 2l1 5M307 1063l2 -4m-2 4l-1 4M273 1113l-1 3m1 -3l-1 -3M210 1095l-2 3m2 -3l2 0M244 1136l-3 -4m3 4l2 1M126 1070l-4 -3m4 3l1 2M126 1035l-1 -6m1 6l-3 2M255 1022l-2 3m2 -3l-1 -3M167 1085l2 2m-2 -2l0 -2M195 1073l-1 -2m1 2l-3 4M220 1143l1 6m-1 -6l-3 -4M164 1073l0 5m0 -5l-2 -1M112 1175l-5 4m5 -4l4 0M156 1031l-3 2m3 -2l2 1M121 1040l0 2m0 -2l2 -3M235 1038l-3 -3m3 3l3 1M257 1031l4 -3m-4 3l-2 4M145 1031l1 -2m-1 2l2 3M109 1072l3 -2m-3 2l-2 2M228 1108l-3 -2m3 2l0 5M227 1171l0 -2m0 2l3 2M98 1107l0 2m0 -2l3 -2M216 1049l0 -6m0 6l-2 3M324 1093l2 -1m-2 1l-3 -2M149 1122l2 0m-2 0l-3 2M96 1168l-4 2m4 -2l4 -1M149 1108l1 -4m-1 4l-2 1M191 1027l-1 -5m1 5l3 4M96 1029l-3 -1m3 1l3 -1M136 1034l-2 -4m2 4l3 2M297 1121l-2 5m2 -5l2 -2M227 1166l1 5m-1 -5l1 -1M218 1034l2 2m-2 -2l-2 -1M164 1148l-2 -3m2 3l4 0M129 1064l2 -2m-2 2l-1 1M308 1048l1 3m-1 -3l-3 -3M125 1186l1 -6m-1 6l-4 1M193 1032l3 -3m-3 3l-3 0M287 1076l-3 4m3 -4l-2 -4M96 1087l4 2m-4 -2l-2 -3M101 1090l2 1m-2 -1l-4 -2M284 1082l-3 2m3 -2l1 -4M170 1129l-5 -3m5 3l0 3M153 1042l2 -2m-2 2l0 2M190 1118l3 3m-3 -3l-1 -3M171 1049l0 4m0 -4l1 -3M294 1050l3 1m-3 -1l-2 -1M237 1087l3 -4m-3 4l-3 1M305 1024l-5 -1m5 1l2 3M293 1099l4 -2m-4 2l-3 -2M324 1056l0 -4m0 4l3 2M238 1084l5 -3m-5 3l-3 2M167 1049l-2 6m2 -6l2 -1M94 1054l-2 0m2 0l3 -3M134 1150l-3 -4m3 4l5 -1M186 1119l2 -1m-2 1l-2 0M144 1140l4 -1m-4 1l-2 2M208 1189l1 5m-1 -5l1 -2M99 1046l0 5m0 -5l2 -1M105 1031l2 4m-2 -4l2 -3M119 1113l-4 4m4 -4l-1 -4M175 1052l0 -4m0 4l1 3M174 1181l2 -5m-2 5l-3 2M270 1051l4 2m-4 -2l-2 -1M260 1092l5 -2m-5 2l-2 1M267 1174l4 0m-4 0l-3 2M233 1193l-2 1m2 -1l3 1M98 1146l-4 3m4 -3l2 0M239 1016l3 -1m-3 1l-1 -1M154 1178l-4 4m4 -4l2 -2M148 1056l3 0m-3 0l-4 0M193 1093l5 1m-5 -1l-3 -3M246 1032l3 -5m-3 5l-5 0M231 1160l1 3m-1 -3l-3 -1M225 1049l-2 -2m2 2l4 2M124 1139l2 -1m-2 1l-2 3M127 1135l1 3m-1 -3l-1 -3M273 1192l-6 1m6 -1l3 1M243 1146l1 -2m-1 2l-1 2M164 1155l4 2m-4 -2l-3 0M189 1124l1 -3m-1 3l-1 3M220 1060l4 -3m-4 3l-3 -1M129 1141l-1 2m1 -2l4 0M115 1145l3 0m-3 0l-2 -3M154 1144l2 -4m-2 4l-2 1M274 1038l5 1m-5 -1l-4 -1M156 1108l1 -3m-1 3l2 1M112 1091l-4 -3m4 3l-1 3M294 1067l1 4m-1 -4l2 -3M197 1168l5 -2m-5 2l-4 -1M99 1192l1 -5m-1 5l-2 1M232 1176l-2 -3m2 3l1 4M285 1104l3 2m-3 -2l0 -4M159 1088l3 3m-3 -3l-2 -1M152 1102l5 -3m-5 3l-2 -1M110 1133l-1 2m1 -2l-2 -3M264 1172l-4 -1m4 1l3 2M231 1133l-3 -4m3 4l3 3M167 1093l1 3m-1 -3l-3 0M223 1032l3 -1m-3 1l-4 -1M289 1037l4 2m-4 -2l-2 0M203 1103l2 -1m-2 1l-1 3M304 1037l4 0m-4 0l-2 1M166 1140l-4 3m4 -3l-1 -4M209 1176l-2 0m2 0l1 -1M142 1040l-6 1m6 -1l1 -4M113 1180l2 4m-2 -4l-3 0M175 1121l-4 1m4 -1l2 -3M192 1061l3 -3m-3 3l-1 5M138 1188l-1 3m1 -3l0 -2M196 1086l0 4m0 -4l0 -2M111 1137l0 5m0 -5l-2 -4M135 1184l5 -3m-5 3l-1 4M274 1121l4 2m-4 -2l0 -4M168 1178l-2 2m2 -2l0 -3M131 1054l-1 3m1 -3l-1 -2M163 1020l5 0m-5 0l-4 -2M298 1128l-6 1m6 -1l2 0M291 1192l-1 4m1 -4l3 -3M242 1103l1 -2m-1 2l1 2M112 1095l-1 -5m1 5l-2 2M209 1170l5 -1m-5 1l-2 -1M277 1097l0 3m0 -3l-2 -4M276 1030l3 -3m-3 3l1 2M237 1030l-5 -2m5 2l0 3M176 1019l2 1m-2 -1l0 -4M248 1127l0 5m0 -5l0 -2M135 1109l2 -3m-2 3l1 3M252 1083l-3 0m3 0l1 -2M273 1130l-2 4m2 -4l1 -3M265 1160l-2 -2m2 2l1 4M204 1166l0 5m0 -5l-2 -1M215 1062l-1 -5m1 5l3 0M92 1176l0 3m0 -3l0 -2M109 1037l0 5m0 -5l-1 -2M281 1092l-3 -2m3 2l1 2M228 1071l0 -2m0 2l1 1M113 1192l-4 3m4 -3l2 -2M97 1081l2 -5m-2 5l-1 4M206 1185l0 -3m0 3l0 3M168 1104l-3 2m3 -2l2 -1M279 1045l-2 1m2 -1l4 0M166 1098l5 3m-5 -3l-1 -2M249 1180l-5 2m5 -2l2 0M199 1163l-3 2m3 -2l3 -1M271 1087l-5 2m5 -2l2 -1M238 1115l2 2m-2 -2l-4 0M147 1086l3 2m-3 -2l-3 -3M214 1094l-5 1m5 -1l4 1M321 1109l-2 1m2 -1l1 -1M152 1095l0 3m0 -3l-1 -2M185 1062l2 -1m-2 1l1 3M280 1136l-1 -5m1 5l-1 2M221 1194l-2 -2m2 2l1 4M229 1103l2 1m-2 -1l-5 0M217 1189l-3 4m3 -4l3 -2M303 1061l-3 -1m3 1l1 2M185 1033l-3 -1m3 1l3 -2M269 1070l-3 1m3 -1l0 -4M111 1021l1 2m-1 -2l0 -3M292 1019l-2 -2m2 2l4 0M216 1112l-5 0m5 0l2 0M123 1183l0 2m0 -2l-2 -3M195 1117l5 1m-5 -1l-2 3M191 1183l2 3m-2 -3l0 -2M306 1073l-1 5m1 -5l2 -1M188 1088l3 0m-3 0l-2 -2M118 1137l0 5m0 -5l1 -2M103 1022l-4 3m4 -3l2 1M266 1082l1 -4m-1 4l3 4M106 1106l3 -4m-3 4l0 3M145 1063l1 -6m-1 6l-1 3M218 1123l-3 -4m3 4l2 0M245 1122l2 2m-2 -2l-3 -2M217 1150l5 0m-5 0l-2 2M318 1102l3 -1m-3 1l-3 2M225 1192l1 -5m-1 5l0 3M135 1127l-4 -4m4 4l4 -1M112 1040l-6 0m6 0l2 1M133 1023l5 -2m-5 2l-2 2M241 1086l3 -1m-3 1l-3 -2M238 1080l3 2m-3 -2l-4 -2M258 1076l-3 1m3 -1l4 -2M253 1161l6 2m-6 -2l-3 1M220 1136l1 4m-1 -4l1 -2M308 1037l3 4m-3 -4l2 -3M224 1039l1 5m-1 -5l0 -2M314 1071l-2 -1m2 1l2 0M155 1058l2 -2m-2 2l-2 0M266 1156l-1 6m1 -6l3 -4M103 1178l-5 -1m5 1l4 -3M265 1042l-3 -3m3 3l2 4M135 1068l-4 2m4 -2l2 1M171 1107l-2 -2m2 2l1 2M241 1112l-5 -2m5 2l3 0M91 1122l-1 4m1 -4l0 -4M262 1060l2 5m-2 -5l-2 -4M206 1125l4 3m-4 -3l0 -3M120 1053l5 2m-5 -2l-3 -2M219 1026l-2 -3m2 3l-1 3M111 1147l-1 2m1 -2l1 -1M256 1185l5 -2m-5 2l-2 -1M171 1143l2 2m-2 -2l-4 2M171 1037l-2 1m2 -1l0 -2M163 1185l0 -4m0 4l2 2M256 1141l2 1m-2 -1l-3 -2M323 1085l1 -4m-1 4l-2 2M220 1115l-2 0m2 0l4 -2M128 1039l-2 -1m2 1l2 0M105 1087l-5 1m5 -1l3 3M138 1017l-3 2m3 -2l2 0M103 1171l-3 5m3 -5l-1 -3M187 1075l4 -4m-4 4l-2 0M295 1170l0 -4m0 4l2 3M214 1156l3 1m-3 -1l-4 2M155 1053l0 2m0 -2l-2 -4M294 1094l4 1m-4 -1l-4 -1M116 1148l-3 1m3 -1l2 0M176 1015l1 -2m-1 2l-1 5M212 1177l5 0m-5 0l-1 1M312 1066l-4 2m4 -2l3 -1M166 1081l-4 2m4 -2l4 -2M188 1161l-4 -1m4 1l2 1M275 1135l-5 -1m5 1l2 2M233 1105l-2 -5m2 5l2 1M129 1149l-2 -1m2 1l2 3M302 1078l4 2m-4 -2l-2 1M221 1073l4 -1m-4 1l-3 2M203 1042l3 -2m-3 2l-2 -1M241 1030l3 -4m-3 4l2 4M118 1030l3 -2m-3 2l0 2M210 1120l-4 3m4 -3l1 -2M274 1075l3 3m-3 -3l-2 0M267 1151l4 -2m-4 2l-1 2M187 1037l2 -1m-2 1l-1 2M277 1127l0 5m0 -5l1 -4M124 1118l2 -1m-2 1l-2 1M97 1072l2 0m-2 0l-3 4M151 1057l5 -1m-5 1l-3 3M252 1135l-2 4m2 -4l1 -2M92 1138l2 -1m-2 1l-1 2M278 1019l-4 -2m4 2l2 2M305 1059l-3 1m3 -1l3 2M103 1130l4 -1m-4 1l-2 -2M132 1112l-1 3m1 -3l-1 -2M108 1042l-4 -1m4 1l2 1M212 1039l4 -1m-4 1l-1 -1M319 1059l3 3m-3 -3l-4 0M214 1054l0 -2m0 2l-2 1M135 1139l-3 0m3 0l1 1M119 1120l0 -2m0 2l3 4M275 1034l-5 -1m5 1l2 -3M208 1166l-6 0m6 0l4 1M319 1078l-2 3m2 -3l-2 -4M250 1146l-1 3m1 -3l1 -2M150 1024l3 5m-3 -5l0 -3M261 1066l3 3m-3 -3l1 -4M171 1044l2 2m-2 -2l1 -2M248 1162l-4 3m4 -3l4 1M274 1043l0 -2m0 2l0 2M287 1060l-3 2m3 -2l2 1M158 1189l5 -2m-5 2l-2 -2M201 1018l-2 5m2 -5l-1 -3M121 1108l5 0m-5 0l-3 2M148 1127l1 -4m-1 4l-3 1M251 1097l2 1m-2 -1l-4 2M103 1120l3 3m-3 -3l0 -4M294 1054l5 4m-5 -4l-4 -2M157 1097l4 2m-4 -2l-3 0M147 1134l4 1m-4 -1l-1 -1M102 1029l3 -5m-3 5l-1 1M141 1116l-1 -4m1 4l1 3M315 1031l-4 0m4 0l1 2M147 1138l-1 3m1 -3l-1 -2M261 1078l1 4m-1 -4l-1 -4M201 1168l5 -2m-5 2l-3 -1M257 1189l1 2m-1 -2l2 -3M115 1113l-3 1m3 -1l2 1M325 1105l-2 -2m2 2l3 0M273 1104l-2 -2m2 2l2 1M124 1122l-3 -3m3 3l3 3M153 1183l2 -2m-2 2l-2 0M204 1054l0 -2m0 2l-2 2M119 1035l-2 -3m2 3l3 4M263 1022l-5 -3m5 3l3 0M209 1043l1 -5m-1 5l-3 1M289 1173l0 5m0 -5l4 -3M278 1112l1 -5m-1 5l1 3M174 1095l4 0m-4 0l-1 3M296 1114l3 2m-3 -2l-2 -2M194 1096l2 -5m-2 5l2 4M227 1132l-2 3m2 -3l0 -5M242 1107l6 0m-6 0l-2 -1M161 1062l-3 3m3 -3l1 -2M245 1085l-4 1m4 -1l3 1M104 1112l3 -3m-3 3l0 3M196 1066l3 -1m-3 1l-2 2M325 1043l2 -5m-2 5l1 3M170 1062l0 -2m0 2l-1 2M172 1078l2 4m-2 -4l1 -2M233 1128l4 -1m-4 1l-1 3M287 1040l3 -4m-3 4l-1 1M160 1045l3 -3m-3 3l1 4M126 1143l-1 -6m1 6l1 1M182 1159l-2 1m2 -1l2 -4M114 1069l2 -5m-2 5l-2 0M148 1095l-1 4m1 -4l2 0M249 1029l4 0m-4 0l-2 1M161 1016l2 -4m-2 4l0 4M148 1191l-4 1m4 -1l2 2M90 1180l-5 1m5 -1l3 -4M165 1103l5 1m-5 -1l-2 0M241 1119l3 4m-3 -4l1 -2M204 1180l-1 -4m1 4l2 1M308 1028l1 2m-1 -2l-3 0M186 1115l-1 2m1 -2l3 -1M128 1123l4 0m-4 0l-3 -1M117 1178l-4 -2m4 2l2 1M208 1102l0 5m0 -5l1 -2M102 1138l-4 -2m4 2l2 2M320 1062l-1 -5m1 5l2 0M206 1118l-2 4m2 -4l4 -2M257 1065l4 -3m-4 3l-2 1M148 1062l-3 -3m3 3l1 2M223 1067l4 0m-4 0l-3 1M250 1158l-4 -3m4 3l0 3M262 1174l5 3m-5 -3l-2 1M176 1148l-3 0m3 0l3 0M260 1046l-4 -3m4 3l0 2M108 1159l-3 3m3 -3l0 -3M179 1017l-1 -4m1 4l3 1M326 1187l-4 -3m4 3l2 1M120 1133l4 2m-4 -2l-4 1M196 1183l2 -4m-2 4l0 3M269 1125l-3 1m3 -1l1 -3M194 1147l3 3m-3 -3l-3 1M301 1134l-5 0m5 0l4 -3M272 1018l5 0m-5 0l-4 -3M290 1056l-3 3m3 -3l0 -4M301 1153l-6 1m6 -1l1 -4M165 1023l5 -2m-5 2l-4 1M271 1167l0 -4m0 4l1 1M208 1137l-1 -2m1 2l3 0M322 1035l1 3m-1 -3l-3 -1M207 1111l-3 -1m3 1l3 2M240 1068l-2 -1m2 1l3 -2M179 1136l-4 3m4 -3l3 0M235 1097l0 3m0 -3l0 -5M284 1073l1 3m-1 -3l-2 0M191 1121l-1 5m1 -5l-2 -2M187 1141l0 -3m0 3l-2 1M140 1129l5 3m-5 -3l-2 -2M182 1027l0 -4m0 4l-1 3M170 1172l4 0m-4 0l-3 2M237 1092l-4 -2m4 2l1 2M135 1075l4 1m-4 -1l-4 -2M147 1078l-2 3m2 -3l1 -1M218 1102l-5 1m5 -1l2 2M236 1100l6 1m-6 -1l-3 1M172 1177l5 2m-5 -2l-4 1M243 1070l0 -5m0 5l-1 2M165 1032l-5 -3m5 3l4 -2M103 1076l-4 2m4 -2l3 3M203 1160l-2 -5m2 5l0 2M104 1192l-5 -1m5 1l1 3M291 1186l1 2m-1 -2l-2 -2M298 1087l-4 1m4 -1l1 -1M147 1188l-2 -5m2 5l-1 3M199 1074l4 0m-4 0l-3 1M90 1165l2 -2m-2 2l-2 0M320 1074l-4 0m4 0l1 2M137 1082l2 -1m-2 1l-3 2M225 1127l-4 0m4 0l1 1M234 1117l-3 -1m3 1l2 3M135 1028l5 0m-5 0l-3 -2M263 1051l3 -2m-3 2l-2 3M265 1122l-5 2m5 -2l1 -3M218 1176l3 3m-3 -3l1 -3M202 1147l3 -2m-3 2l0 3M98 1172l2 2m-2 -2l-4 1M286 1093l0 -4m0 4l0 3M141 1141l4 0m-4 0l-4 1M218 1078l3 -2m-3 2l-3 -2M160 1160l-1 2m1 -2l2 -1M285 1170l-2 0m2 0l2 -3M263 1015l-2 4m2 -4l1 -2M157 1127l-1 -3m1 3l-2 3M159 1150l3 2m-3 -2l0 -2M247 1080l1 2m-1 -2l-3 -3M246 1110l-3 4m3 -4l3 -1M179 1162l1 -3m-1 3l2 4M322 1150l2 2m-2 -2l-3 -4M259 1018l2 6m-2 -6l-1 -2M210 1061l-2 -4m2 4l3 3M265 1178l5 -1m-5 1l-3 3M219 1184l3 -4m-3 4l-2 1M115 1030l-1 -3m1 3l-2 4M302 1099l-1 3m1 -3l-1 -2M280 1102l0 2m0 -2l3 -3M138 1144l-2 -1m2 1l1 2M229 1021l-1 5m1 -5l-2 -3M328 1075l-1 -4m1 4l-3 2M161 1037l-4 -1m4 1l1 1M284 1133l-1 -5m1 5l0 2M253 1019l4 -1m-4 1l-1 2M325 1025l-3 -2m3 2l4 2M268 1075l4 2m-4 -2l-1 -3M149 1015l-2 3m2 -3l2 0M122 1076l-6 0m6 0l3 2M203 1111l-1 3m1 -3l1 -4M165 1044l4 4m-4 -4l-4 -2M157 1016l-4 3m4 -3l3 -3M137 1095l5 0m-5 0l-3 1M193 1040l0 5m0 -5l2 -1M270 1026l2 -3m-2 3l-2 3M172 1068l-5 1m5 -1l1 -2M234 1111l-3 -2m3 2l0 3M230 1194l4 2m-4 -2l-4 0M172 1019l-2 1m2 -1l1 -3M325 1073l-5 0m5 0l2 -1M174 1162l4 0m-4 0l-4 1M131 1073l1 3m-1 -3l2 -4M154 1115l-4 -2m4 2l2 4M165 1028l2 1m-2 -1l-2 -4M216 1088l5 -1m-5 1l-2 0M258 1151l-2 -2m2 2l0 3M185 1025l-1 -2m1 2l0 2M149 1116l3 -4m-3 4l-3 3M326 1052l-1 3m1 -3l2 -1M204 1046l2 -4m-2 4l-4 1M314 1022l1 2m-1 -2l1 -4M308 1071l-4 -2m4 2l4 1M258 1070l3 -4m-3 4l1 2M99 1156l4 -1m-4 1l-2 1M109 1109l1 -2m-1 2l0 2M199 1102l3 2m-3 -2l-4 -1M281 1015l-3 5m3 -5l1 -2M327 1087l1 -3m-1 3l1 3M219 1022l-3 4m3 -4l3 1M180 1036l-3 -4m3 4l3 0M157 1124l2 -1m-2 1l-4 -1M210 1126l-5 2m5 -2l2 1M122 1152l1 5m-1 -5l-2 -2M138 1170l-5 0m5 0l2 2M214 1163l0 -4m0 4l-2 4M94 1026l-3 -2m3 2l2 1M176 1040l-4 3m4 -3l2 1M270 1091l4 2m-4 -2l0 -2M307 1097l2 2m-2 -2l0 -3M289 1029l-5 1m5 -1l4 0M146 1090l1 -3m-1 3l2 3M278 1064l-2 4m2 -4l0 -5M151 1128l4 -4m-4 4l-5 0M203 1193l5 1m-5 -1l-3 -1M136 1039l-2 3m2 -3l3 -2M89 1017l1 3m-1 -3l-4 -2M114 1063l2 -2m-2 2l2 4M151 1087l3 -1m-3 1l-1 1M91 1125l-3 3m3 -3l0 -3M89 1071l-2 0m2 0l2 4M276 1106l-3 0m3 0l1 3M105 1093l-3 -4m3 4l1 2M98 1164l-1 5m1 -5l2 -1M244 1163l2 -5m-2 5l2 3M220 1086l-4 -1m4 1l3 -1M122 1048l2 3m-2 -3l-3 -2M211 1191l-5 2m5 -2l4 1M298 1044l1 5m-1 -5l-2 -2M185 1108l-2 2m2 -2l2 -1M132 1170l3 0m-3 0l-2 0M230 1016l0 4m0 -4l-3 -2M184 1126l-5 1m5 -1l4 -2M110 1030l-3 1m3 -1l2 0M268 1039l1 4m-1 -4l0 -3M199 1094l-3 1m3 -1l3 -1M287 1089l1 -2m-1 2l1 2M269 1095l-5 1m5 -1l4 0M129 1092l2 -1m-2 1l-1 3M298 1144l-4 -2m4 2l2 0M202 1089l3 0m-3 0l-2 -2M155 1139l-1 4m1 -4l1 -3M173 1081l-3 5m3 -5l0 -3M196 1179l2 -2m-2 2l-4 -1M115 1185l5 1m-5 -1l-2 2M238 1130l-1 5m1 -5l2 -2M191 1068l-4 1m4 -1l3 -1M100 1079l3 3m-3 -3l-3 -1M136 1178l4 -1m-4 1l-2 1M269 1044l0 -5m0 5l0 2M246 1075l0 -4m0 4l0 2M231 1156l-3 -1m3 1l2 4M146 1025l2 -1m-2 1l0 4M288 1015l3 1m-3 -1l-4 3M102 1085l3 -1m-3 1l-4 -2M229 1186l1 -4m-1 4l0 4M274 1050l1 3m-1 -3l-4 -2M202 1127l-4 -1m4 1l4 -1M138 1106l5 3m-5 -3l-2 -2M283 1167l-3 4m3 -4l-2 -3M95 1104l2 -4m-2 4l2 4M253 1153l2 0m-2 0l-1 3M183 1194l-1 -2m1 2l4 1M183 1056l1 4m-1 -4l0 -4M149 1039l-1 2m1 -2l2 0M217 1118l-4 -1m4 1l2 2M99 1180l5 -1m-5 1l-1 -2M119 1169l-3 -2m3 2l2 1M97 1176l-5 1m5 -1l2 2M264 1033l0 -3m0 3l-3 4M225 1104l-2 4m2 -4l1 -2M159 1069l-4 -3m4 3l2 0M245 1037l-2 3m2 -3l3 -1M89 1096l1 -4m-1 4l-4 2M110 1050l2 2m-2 -2l1 -3M191 1194l-2 4m2 -4l3 -2M320 1030l-4 1m4 -1l2 -2M124 1194l3 -3m-3 3l-4 1M274 1056l0 -4m0 4l-3 1M286 1192l-4 1m4 -1l4 0M128 1166l-3 1m3 -1l2 0M172 1158l2 4m-2 -4l-2 -2M148 1074l-2 -3m2 3l4 0M198 1114l-3 -2m3 2l4 -1M261 1188l1 -4m-1 4l-1 3M132 1138l-3 5m3 -5l1 -3M281 1055l2 0m-2 0l-2 -1M179 1178l2 4m-2 -4l-3 -1M145 1043l-3 2m3 -2l4 -3M249 1173l-3 -1m3 1l2 2M91 1088l4 0m-4 0l-2 -3M195 1026l1 -3m-1 3l1 2M99 1035l-3 -4m3 4l4 1M203 1187l-3 -3m3 3l1 3M178 1090l2 3m-2 -3l0 -4M131 1061l0 4m0 -4l0 -4M104 1157l2 -1m-2 1l-1 2M180 1075l-3 0m3 0l4 0M196 1052l2 1m-2 -1l0 -4M295 1141l2 -4m-2 4l2 3M252 1129l-1 -5m1 5l2 3M148 1035l2 -4m-2 4l-4 2M170 1089l-1 2m1 -2l2 -3M247 1194l6 0m-6 0l-2 2M257 1160l6 -1m-6 1l-3 -2M230 1045l2 -1m-2 1l-2 -1M121 1129l-1 4m1 -4l-1 -2M212 1146l2 -2m-2 2l0 4M103 1054l-4 -3m4 3l-1 3M207 1051l2 -2m-2 2l-3 0M132 1134l-2 -1m2 1l3 2M264 1141l3 2m-3 -2l0 -2M199 1117l1 2m-1 -2l-2 -1M248 1071l-2 1m2 -1l2 -1M222 1145l3 -2m-3 2l-2 4M198 1124l-1 4m1 -4l-1 -2M175 1029l2 3m-2 -3l-1 -2M143 1100l2 1m-2 -1l-1 -1M143 1112l4 0m-4 0l-2 0M296 1175l4 2m-4 -2l-2 -1M240 1168l-1 -3m1 3l-1 1M282 1059l-3 -5m3 5l1 3M199 1099l0 -5m0 5l2 2M109 1189l4 -2m-4 2l-2 4"/>
<use href="#m30" stroke="#7a38cc" stroke-width="4.2"/>
<use href="#m30" stroke="#6424b8" stroke-width="2.2"/>
<path d="M244 1041l0 0M123 1114l0 0M244 1081l0 0M192 1117l0 0M242 1095l0 0M147 1114l0 0M305 1109l0 0M97 1085l0 0M300 1157l0 0M135 1067l0 0M192 1054l0 0M150 1183l0 0M175 1190l0 0M170 1161l0 0M153 1060l0 0M325 1057l0 0M156 1076l0 0M164 1132l0 0M219 1032l0 0M182 1153l0 0M126 1096l0 0M203 1145l0 0M238 1076l0 0M284 1137l0 0M196 1047l0 0M316 1089l0 0M178 1054l0 0M102 1144l0 0M229 1057l0 0M315 1065l0 0M309 1074l0 0M139 1022l0 0M221 1110l0 0M170 1072l0 0M185 1135l0 0M103 1078l0 0M130 1098l0 0M257 1071l0 0M240 1067l0 0M103 1074l0 0M226 1102l0 0M152 1123l0 0M310 1117l0 0M257 1082l0 0M288 1055l0 0M163 1027l0 0M310 1158l0 0M100 1100l0 0M230 1178l0 0M206 1086l0 0M304 1132l0 0M280 1124l0 0M285 1113l0 0M102 1031l0 0M109 1064l0 0M202 1108l0 0M190 1094l0 0M233 1094l0 0M226 1081l0 0M216 1073l0 0M206 1160l0 0M182 1087l0 0M277 1093l0 0M313 1097l0 0M288 1172l0 0M262 1168l0 0M151 1045l0 0M119 1044l0 0M263 1174l0 0M244 1051l0 0M146 1106l0 0M201 1021l0 0M134 1080l0 0M182 1139l0 0M234 1070l0 0M261 1139l0 0M96 1101l0 0M244 1077l0 0M278 1139l0 0M209 1084l0 0M129 1023l0 0M284 1022l0 0M195 1066l0 0M196 1055l0 0M212 1148l0 0M271 1154l0 0M94 1062l0 0M246 1160l0 0M290 1122l0 0M309 1057l0 0M101 1026l0 0M227 1031l0 0M103 1037l0 0M103 1073l0 0M253 1048l0 0M281 1155l0 0M222 1065l0 0M307 1043l0 0M103 1113l0 0M148 1129l0 0M234 1055l0 0M192 1132l0 0M317 1135l0 0M233 1044l0 0M185 1152l0 0M243 1143l0 0M226 1189l0 0M295 1157l0 0M181 1080l0 0M113 1040l0 0M232 1088l0 0M163 1119l0 0M212 1188l0 0M242 1048l0 0M154 1034l0 0M287 1142l0 0M215 1153l0 0M139 1180l0 0M265 1189l0 0M129 1077l0 0M198 1088l0 0M275 1024l0 0M294 1131l0 0M292 1159l0 0M149 1063l0 0M203 1147l0 0M120 1042l0 0M254 1063l0 0M181 1161l0 0M260 1034l0 0M312 1102l0 0M319 1059l0 0M301 1107l0 0M300 1141l0 0M188 1171l0 0M195 1082l0 0M214 1093l0 0M227 1095l0 0M240 1170l0 0M202 1041l0 0M104 1049l0 0M296 1086l0 0M114 1113l0 0M307 1106l0 0M121 1176l0 0M270 1098l0 0M126 1155l0 0M224 1162l0 0M322 1142l0 0M94 1071l0 0" stroke="#2a2238" stroke-width="1.5" stroke-opacity="0.8"/>
</g>
<rect x="292.2" y="1184.9" width="32" height="2.6" fill="#000"/><text x="308.2" y="1183.2" text-anchor="middle" style="font-family:'DejaVu Sans',sans-serif;font-weight:700;font-size:7px" fill="#000">200μm</text>
<clipPath id="m4c"><rect x="341.6" y="1017.8" width="233.9" height="173.6"/></clipPath>
<g clip-path="url(#m4c)" fill="none" stroke-linecap="round" stroke-linejoin="round"><rect x="341.6" y="1017.8" width="233.9" height="173.6" fill="#f5f5f5"/>
<path id="m40" d="M471 1171l-4 -1l-3 -4l5 1zM475 1115l3 4l0 4l-3 -3zM502 1140l0 5l-3 3l0 -4zM547 1092l2 -6l6 -3l-2 6zM513 1046l5 -2l3 0l-3 3zM375 1141l-7 3l-5 -3l5 -2zM536 1182l-5 -5l1 -6l4 4zM520 1103l0 4l-2 2l-1 -3zM409 1159l-4 5l-3 0l2 -3zM371 1086l0 -5l2 -3l1 3zM475 1127l-7 -3l-3 -6l6 3zM582 1030l-7 -3l0 -5l5 1zM447 1151l5 2l2 3l-4 0zM352 1129l-7 0l-4 -3l5 -1zM362 1155l5 1l3 4l-5 0zM342 1168l4 -3l4 1l-3 3zM546 1104l3 2l1 3l-3 -2zM489 1086l5 -4l5 1l-4 3zM344 1088l-2 -4l1 -4l2 4zM552 1067l-5 4l-5 0l3 -4zM360 1034l5 -4l3 1l-2 2zM521 1070l-4 -6l0 -6l4 5zM514 1164l0 4l-2 3l0 -5zM455 1109l-8 0l-6 -2l7 -2zM510 1081l4 4l-1 3l-3 -2zM413 1138l-4 2l-4 0l3 -3zM361 1087l-6 2l-3 -4l4 -1zM340 1187l6 1l3 3l-5 1zM479 1089l7 -1l4 2l-5 3zM432 1044l-2 -4l1 -2l1 2zM475 1143l-2 3l-3 2l2 -3zM367 1136l-5 -3l-1 -4l5 1zM449 1139l-7 1l-3 -3l4 -2zM495 1049l0 -7l4 -5l0 6zM540 1123l4 -2l2 1l-2 1zM570 1061l-5 0l-3 -3l3 0zM569 1110l3 6l0 5l-3 -5zM521 1171l5 -3l6 2l-6 2zM466 1034l2 6l-1 3l-2 -3zM504 1087l-4 2l-4 1l3 -4zM520 1189l1 -5l5 -3l-1 4zM389 1030l-6 5l-5 -2l3 -3zM520 1105l3 -2l2 0l-2 2zM526 1053l0 -7l5 -6l0 6zM380 1156l-3 -5l1 -3l3 2zM456 1061l5 2l2 4l-4 -2zM459 1155l0 -4l3 -2l0 2zM515 1094l1 -5l3 -1l-1 3zM384 1051l-3 2l-3 0l3 -2zM350 1101l0 -4l1 -2l2 2zM545 1175l-1 -6l1 -3l2 3zM531 1169l5 -2l3 1l-2 2zM355 1064l0 4l-3 1l0 -3zM439 1184l4 -1l2 1l-3 1zM391 1119l4 0l4 1l-4 2zM453 1155l2 3l-1 4l-1 -3zM473 1051l2 4l-2 4l-1 -4zM347 1079l-1 -7l4 -6l1 7zM370 1051l-3 -7l2 -5l3 4zM497 1054l-6 1l-4 -2l5 -2zM380 1165l0 -4l3 -2l0 3zM489 1165l-4 -2l-2 -5l4 2zM568 1038l-5 4l-5 -2l5 -2zM398 1181l3 2l2 3l-4 -2zM544 1163l2 -3l3 1l-1 2zM413 1082l3 4l-2 5l-2 -4zM489 1089l5 3l-1 4l-2 -2zM373 1134l-5 -3l-1 -5l4 3zM356 1088l3 5l-1 3l-2 -3zM544 1051l-4 -3l0 -2l3 1zM491 1151l5 -4l6 2l-6 3zM338 1137l5 -3l5 0l-5 4zM385 1060l3 -5l4 0l-1 3zM549 1044l2 -5l4 -2l-2 4zM508 1093l-4 -2l0 -4l3 2zM371 1115l0 6l-2 6l-2 -5zM483 1052l-3 1l-2 -1l2 -1zM354 1050l5 1l3 3l-5 0zM377 1183l0 4l-1 2l-1 -3zM352 1162l4 -2l3 1l-2 2zM502 1146l6 -3l4 2l-4 1zM426 1155l-2 -3l0 -2l2 2zM474 1095l3 -7l6 -3l-3 6zM343 1088l7 0l1 5l-5 -1zM450 1195l3 -2l5 1l-4 2zM549 1051l0 -6l3 -4l1 5zM545 1146l-4 -2l-3 -3l4 1zM507 1159l4 -5l5 1l-3 3zM469 1071l-3 3l-3 0l2 -3zM440 1045l6 1l2 4l-4 -1zM479 1141l4 1l1 3l-3 -1zM498 1071l-4 3l-4 -1l3 -2zM565 1013l2 3l0 3l-2 -3zM542 1070l6 3l1 4l-5 -1zM345 1107l-6 2l-2 -2l4 -2zM477 1066l-3 5l-4 1l1 -4zM520 1119l4 4l0 5l-3 -4zM519 1170l2 -7l4 -1l0 4zM389 1152l-3 0l-3 -1l3 -2zM345 1112l3 -4l4 0l-2 3zM540 1148l-1 4l-3 2l0 -4zM500 1052l4 5l-1 4l-3 -3zM384 1125l7 0l5 3l-7 2zM445 1076l-2 -5l3 -3l0 4zM471 1027l-7 1l-5 -1l4 -4zM567 1071l-4 -5l0 -5l4 4zM339 1071l2 6l-4 4l0 -5zM504 1153l1 -5l3 -4l0 5zM407 1143l5 0l4 3l-5 0zM577 1077l-5 6l-4 1l2 -4zM364 1108l5 -3l6 0l-5 4zM491 1089l5 -1l3 2l-3 0zM501 1075l2 -7l4 -1l0 4zM505 1122l2 -8l6 -4l-1 7zM411 1085l-2 -6l4 -6l1 7zM419 1166l4 -3l4 1l-3 2zM355 1075l5 -2l3 2l-3 1zM357 1019l-2 6l-7 2l3 -5zM487 1132l2 5l0 6l-4 -4zM430 1151l4 -3l5 -1l-3 3zM489 1070l-5 3l-3 0l2 -3zM451 1079l2 5l-1 2l-2 -3zM405 1016l1 6l-2 5l-2 -6zM345 1052l-6 -1l-3 -4l6 0zM423 1147l-5 2l-5 -1l4 -2zM443 1124l-3 -2l-2 -3l3 1zM529 1079l4 -5l4 0l-2 4zM487 1152l4 3l0 6l-3 -4zM428 1143l0 -5l3 -3l0 3zM533 1040l4 -5l6 0l-3 3zM441 1182l-3 3l-3 -1l2 -2zM368 1050l5 1l1 5l-4 -2zM348 1140l2 4l-1 3l-3 -2zM551 1053l3 4l-2 4l-1 -4zM435 1138l6 3l1 4l-3 -1zM456 1145l-2 -3l-2 -5l4 4zM466 1103l-2 -5l3 -4l0 5zM495 1090l6 4l1 6l-4 -4zM492 1080l-3 5l-4 2l2 -4zM518 1044l5 -4l6 0l-5 4zM454 1087l2 5l-1 5l-2 -4zM339 1184l6 -5l5 1l-5 3zM544 1108l-4 3l-3 0l2 -3zM572 1034l-2 3l-3 0l2 -3zM571 1089l-5 6l-4 -1l2 -3zM338 1145l0 -5l3 -3l1 4zM578 1069l-2 -5l4 -4l0 4zM402 1181l0 -6l3 -3l0 5zM552 1030l-1 5l-2 4l-1 -4zM556 1154l6 5l-1 6l-3 -4zM457 1027l3 4l-1 4l-3 -2zM569 1125l-4 4l-3 0l3 -3zM533 1064l2 -6l6 -3l-2 6zM580 1140l-5 3l-3 -1l3 -3zM511 1118l3 -5l4 0l-2 3zM579 1019l-5 -2l-3 -4l4 2zM351 1120l-4 -2l-1 -2l3 1zM548 1127l-1 4l-3 1l0 -3zM502 1035l3 3l-1 6l-3 -3zM450 1174l1 -4l4 -3l-1 5zM423 1125l-7 4l-7 0l7 -4zM582 1076l-5 3l-5 0l4 -3zM537 1056l-5 -3l-1 -4l4 1zM543 1131l7 1l2 4l-5 1zM424 1129l-5 -2l0 -5l4 2zM571 1055l6 3l0 5l-4 -3zM353 1027l2 4l-2 3l-1 -3zM442 1111l-3 -2l-1 -2l3 0zM430 1189l4 -1l2 2l-2 1zM498 1047l5 1l2 2l-4 0zM341 1199l-4 -5l0 -7l5 4zM525 1178l3 4l0 4l-3 -3zM451 1031l-4 1l-2 -1l2 -1zM575 1099l4 2l1 3l-4 0zM565 1096l1 4l-2 3l0 -4zM564 1023l-6 -4l-2 -5l5 1zM404 1150l-4 -4l-1 -5l3 3zM344 1019l-5 -3l-1 -3l3 1zM363 1050l-5 -4l0 -3l3 1zM418 1117l-1 6l-4 2l1 -4zM556 1100l-5 -4l-2 -6l5 3zM373 1109l1 -7l3 -3l2 4zM515 1115l2 6l-2 3l-2 -3zM532 1167l1 -6l3 -1l1 3zM550 1102l-3 -6l1 -7l4 6zM493 1100l-4 -1l-3 -4l4 2zM533 1177l4 5l0 5l-4 -4zM406 1116l4 -3l4 0l-3 3zM406 1105l5 0l1 3l-3 1zM470 1042l2 -5l4 -1l-2 3zM490 1039l-5 -3l-1 -5l5 2zM385 1054l3 -6l6 -2l-3 5zM495 1037l-3 -4l2 -4l1 4zM366 1185l2 -5l4 -2l-1 4zM511 1103l5 -4l5 1l-4 2zM473 1091l-8 2l-3 -5l5 0zM359 1065l3 3l0 4l-2 -2zM467 1091l-4 4l-4 -1l3 -2zM379 1151l3 4l-1 4l-2 -3zM506 1068l0 -5l3 -2l0 3zM550 1171l-2 6l-4 1l1 -4zM490 1129l5 -4l6 0l-4 4zM441 1061l6 -5l6 2l-6 3zM563 1139l-6 4l-6 -2l5 -2zM446 1101l4 0l1 2l-2 0zM514 1083l5 -1l2 3l-4 1zM376 1126l-5 1l-5 -3l5 0zM526 1058l2 4l-1 5l-3 -4zM395 1117l5 -5l5 -1l-4 4zM485 1146l-4 5l-4 2l2 -4zM536 1181l3 -4l3 -1l-1 4zM362 1135l-5 3l-3 0l3 -2zM498 1114l5 -3l4 1l-3 2zM362 1082l6 4l1 5l-5 -2zM363 1102l-5 -3l0 -4l3 2zM418 1015l0 4l-2 3l0 -4zM473 1097l3 -1l3 2l-3 1zM464 1126l5 4l2 5l-5 -4zM549 1080l5 0l3 3l-4 0zM487 1196l4 -5l5 -1l-3 4zM469 1105l-4 4l-5 1l3 -4zM472 1028l3 -2l2 0l-1 2zM364 1122l-3 4l-3 0l1 -3zM415 1046l4 -3l5 1l-4 4zM439 1113l4 2l2 3l-4 -1zM374 1122l2 -6l4 -1l-1 3zM418 1123l-1 -7l2 -6l2 7zM490 1163l7 0l5 2l-7 1zM457 1118l-7 1l-5 -3l6 -1zM359 1110l1 -5l4 -3l0 4zM432 1089l-4 -2l-1 -4l4 2zM453 1066l0 4l-2 2l-1 -4zM389 1046l-6 3l-4 -3l3 -2zM446 1117l-4 -4l1 -3l2 2zM400 1054l-5 2l-7 -3l6 -2zM337 1109l8 -1l6 5l-7 -1zM395 1043l5 1l3 3l-4 0zM555 1111l2 -4l3 -2l-2 4zM366 1036l2 -5l4 -2l-2 4zM568 1092l5 2l1 4l-4 -3zM345 1157l4 -5l4 -1l-2 4zM338 1036l5 -3l4 1l-2 2zM489 1156l3 -3l3 0l-2 2zM539 1072l0 -4l3 -3l0 4zM524 1159l5 0l4 2l-4 1zM399 1106l0 6l-2 2l-1 -4zM573 1025l-1 5l-3 2l0 -3zM522 1072l0 8l-5 3l0 -6zM355 1051l-4 -5l1 -6l3 4zM461 1069l3 -5l3 -2l0 4zM431 1034l4 -2l4 2l-4 2zM560 1071l-3 -2l-1 -2l2 0zM445 1146l-3 2l-4 0l3 -3zM483 1027l2 -3l3 -1l-1 3zM366 1068l4 -6l4 -1l-1 5zM376 1089l-5 4l-4 0l3 -3zM505 1108l-3 -2l1 -2l2 1zM414 1163l-1 -5l2 -3l1 3zM362 1059l-6 1l-3 -3l4 -1zM518 1103l-7 2l-6 -5l7 0zM438 1169l-2 4l-3 0l0 -3zM494 1080l-6 -1l-5 -2l5 -1zM575 1192l-3 2l-3 0l2 -2zM498 1089l-1 -8l5 -3l0 6zM375 1057l5 0l3 2l-4 1zM352 1144l-7 -4l0 -6l4 3zM393 1146l6 2l2 6l-5 -3zM546 1030l-6 0l-2 -3l3 0zM435 1154l4 -2l3 1l-3 1zM555 1050l3 -3l4 -1l-2 3zM453 1161l0 4l-3 2l0 -4zM474 1187l0 -5l3 -2l0 3zM551 1072l2 -4l4 -1l-2 3zM347 1012l-1 4l-2 3l0 -4zM550 1175l5 -4l5 -2l-3 5zM464 1150l4 5l1 7l-4 -6zM455 1102l0 -4l3 -2l-1 3zM547 1117l4 -3l4 -1l-2 4zM499 1168l4 -2l3 2l-3 1zM513 1071l3 6l-1 6l-4 -5zM361 1037l-6 3l-4 -2l4 -2zM390 1084l-5 -5l1 -4l4 3zM561 1022l-4 5l-4 1l1 -5zM569 1038l4 1l1 3l-3 -1zM416 1180l-3 -4l0 -4l3 3zM493 1171l-4 -2l0 -4l3 2zM544 1189l7 -1l3 2l-4 2zM448 1134l-4 0l-1 -2l3 0zM547 1161l-4 -6l2 -5l3 4zM355 1110l-1 8l-3 3l-2 -5zM455 1015l-4 3l-2 0l1 -2zM481 1047l4 0l3 2l-4 1zM483 1089l-3 -3l1 -3l2 2zM436 1138l-1 -7l2 -3l2 4zM393 1139l5 4l1 5l-5 -2zM485 1058l-7 4l-5 -2l5 -2zM561 1119l5 2l3 4l-4 0zM484 1034l2 6l-1 5l-3 -5zM383 1073l4 -4l4 1l-4 3zM373 1129l3 6l1 6l-4 -5zM411 1135l7 0l4 4l-6 -1zM346 1165l3 -6l3 0l0 3zM435 1132l-3 -6l0 -4l4 3zM493 1062l7 3l1 5l-5 -1zM461 1068l-4 2l-3 -1l3 -2zM457 1023l-3 -2l-3 -3l4 1zM512 1191l3 -4l5 -2l-3 5zM461 1164l-4 -4l-1 -4l4 3zM553 1114l-3 -3l0 -4l3 2zM348 1094l-3 5l-3 0l1 -3zM474 1132l5 1l2 3l-3 -1zM566 1109l3 -2l3 0l-2 2zM511 1046l0 4l-2 4l-1 -3zM567 1028l0 -7l4 -5l0 6zM565 1185l4 -2l4 0l-3 3zM546 1054l-5 3l-5 -2l5 -2zM521 1085l4 2l2 3l-3 0zM376 1193l4 -4l5 -1l-3 5zM362 1110l4 -2l3 1l-3 2zM491 1170l5 0l2 3l-4 1zM387 1126l-4 0l-2 -2l3 -1zM474 1026l1 5l0 3l-2 -3zM435 1035l3 3l1 4l-5 -2zM382 1163l1 6l-2 3l-1 -4zM451 1050l4 -1l2 3l-3 0zM406 1061l7 4l2 6l-6 -3zM493 1135l3 4l1 5l-5 -3zM534 1090l-1 5l-4 1l1 -4zM372 1023l-7 -4l-2 -6l6 2zM486 1144l6 2l3 4l-5 0zM381 1036l-4 -6l0 -7l3 5zM525 1070l1 -3l4 -2l-2 4zM423 1170l3 2l1 3l-3 0zM552 1150l-2 -6l2 -4l4 3zM361 1150l6 -1l4 2l-4 2zM474 1050l-4 -2l-2 -5l3 3zM423 1094l3 -3l4 -1l-2 3zM456 1120l4 -3l4 0l-3 2zM475 1181l1 7l-1 3l-3 -3zM442 1085l-1 4l-4 1l1 -2zM565 1118l-6 0l-2 -3l4 -1zM366 1095l-5 -3l0 -4l3 1zM477 1030l3 3l0 2l-3 -1zM431 1152l-7 -5l1 -7l4 5zM454 1045l-4 2l-3 -1l3 -2zM486 1019l5 -3l3 1l-3 3zM555 1050l-5 3l-3 0l3 -3zM383 1111l-1 -6l4 -3l0 5zM388 1148l-2 -5l-1 -4l4 3zM400 1116l3 -6l4 -2l-1 6zM501 1058l5 -1l3 1l-3 2zM423 1185l1 -7l4 -1l0 4zM432 1119l-5 4l-4 -2l2 -3zM343 1064l-1 6l-3 2l-1 -4zM543 1129l-2 6l-6 3l1 -6zM471 1100l0 -6l5 -5l-2 6zM485 1044l-4 2l-4 0l4 -3zM355 1087l-2 -7l2 -5l4 4zM432 1182l-4 -4l0 -5l4 4zM530 1078l-4 2l-3 -1l3 -2zM564 1105l3 7l-2 3l-2 -5zM481 1072l2 5l-1 3l-3 -2zM462 1091l0 -7l5 -3l-1 6zM498 1121l3 2l0 3l-2 -1zM457 1125l-3 5l-4 1l1 -3zM373 1145l3 -3l4 0l-3 2zM548 1089l-3 3l-2 0l1 -2zM465 1046l4 4l0 4l-2 -2zM488 1058l0 8l-3 4l-1 -5zM449 1060l3 -4l3 1l-1 2zM416 1115l1 -5l3 -2l0 2zM360 1138l3 3l1 3l-3 -2zM373 1033l-2 4l-3 1l0 -3zM479 1038l-1 4l-3 2l0 -4zM479 1109l0 4l-2 3l-1 -3zM466 1136l-1 5l-5 4l1 -6zM495 1107l-4 -5l-1 -4l5 3zM483 1013l5 3l0 5l-4 -2zM354 1030l-3 7l-5 2l2 -5zM484 1111l0 -6l3 -2l0 4zM559 1187l-4 1l-3 -2l3 -1zM363 1176l-6 0l-3 -3l4 -1zM388 1112l-2 4l-4 2l2 -3zM401 1125l3 -2l3 1l-2 2zM371 1109l-1 4l-2 2l0 -3zM352 1033l-6 -4l-3 -6l6 3zM517 1061l-1 5l-4 3l2 -4zM397 1150l3 4l0 4l-3 -3zM458 1097l-2 -6l3 -2l0 3zM440 1097l4 -5l5 1l-3 4zM422 1138l-4 5l-4 0l1 -3zM463 1110l5 4l0 3l-3 -1zM499 1163l0 -6l3 -2l0 4zM423 1131l3 -5l4 -1l-2 3zM400 1173l4 -5l4 0l-3 3zM349 1108l3 -3l3 0l-1 3zM582 1031l-3 3l-4 2l2 -4zM411 1093l3 6l-3 7l-2 -6zM422 1108l0 -5l3 -3l0 5zM526 1170l-4 6l-4 1l2 -4zM577 1099l0 -4l1 -4l2 4zM568 1081l4 5l0 6l-4 -4zM494 1129l7 2l3 8l-8 -3zM356 1183l-2 7l-6 3l2 -5zM477 1086l-7 -4l0 -4l3 2zM545 1178l6 5l-1 5l-4 -3zM432 1024l2 -4l2 0l-1 2zM504 1170l3 -7l5 0l-2 4zM552 1054l6 1l4 3l-4 1zM435 1097l5 -5l6 0l-5 3zM353 1171l2 -3l3 -1l-2 3zM537 1186l4 5l-2 3l-2 -3zM557 1180l5 3l1 5l-4 -3zM542 1153l-5 -6l2 -5l2 3zM541 1069l1 5l-2 3l0 -4zM417 1055l-1 -3l1 -3l2 3zM534 1082l-5 3l-7 -1l5 -4zM480 1013l-3 6l-4 1l0 -5zM442 1075l5 1l3 4l-4 0zM467 1195l7 -3l4 1l-4 3zM351 1073l-4 5l-5 0l2 -4zM506 1057l4 -1l3 1l-2 2zM549 1117l-3 -2l0 -3l2 1zM377 1027l-6 -2l-1 -4l4 2zM494 1105l3 3l0 2l-2 -2zM339 1042l2 -4l3 -1l0 3zM575 1122l-2 4l-4 2l2 -4zM489 1181l0 -7l4 -3l0 5zM465 1147l-6 -1l-6 -1l7 -3zM488 1128l3 2l1 4l-3 -2zM501 1075l3 3l-1 4l-2 -2zM496 1022l-5 1l-4 -1l5 -2zM468 1103l3 3l-1 4l-2 -2zM375 1065l0 5l-2 3l-1 -4zM503 1078l6 4l1 7l-5 -5zM446 1025l-2 3l-4 2l1 -4zM420 1127l5 2l0 3l-3 -1zM466 1018l-4 1l-3 -3l3 0zM525 1150l6 2l1 6l-5 -2zM576 1101l0 6l-3 5l-1 -6zM432 1105l-3 -1l-2 -4l4 1zM356 1140l-2 5l-4 3l2 -5zM544 1161l-1 6l-4 2l1 -4zM346 1169l-6 -5l-3 -6l6 3zM369 1045l2 4l-1 3l-1 -3zM364 1085l5 -3l7 1l-5 4zM574 1016l-5 2l-3 -1l4 -1zM357 1128l-4 5l-6 2l3 -6zM366 1191l6 -1l5 2l-5 2zM569 1053l5 -5l6 -1l-4 4zM423 1155l6 -2l5 1l-5 2zM383 1127l-4 4l-6 0l3 -4zM432 1022l-6 5l-5 -2l5 -4zM359 1056l5 1l2 4l-4 0zM504 1134l1 8l-3 4l-2 -5zM575 1056l-6 -1l-3 -4l4 0zM508 1178l-3 5l-5 2l2 -5zM372 1167l2 -6l3 -2l1 4zM384 1056l-1 -5l2 -5l1 6zM398 1106l-1 -4l1 -4l1 5zM535 1077l4 3l0 3l-2 -2zM473 1130l5 -3l5 -1l-3 5zM377 1118l0 4l-3 2l0 -4zM533 1116l1 -3l3 -1l-1 3zM467 1088l2 -3l4 0l-3 2zM368 1148l-4 -1l-1 -3l3 0zM536 1043l5 -3l3 0l-3 3zM429 1171l-1 -7l5 -5l-2 6zM382 1116l-5 -5l-2 -7l5 5zM467 1079l-7 2l-4 -4l5 0zM530 1190l2 3l-1 3l-2 -2zM467 1079l4 -5l5 -1l-2 4zM427 1177l3 -5l6 -1l-4 4zM503 1168l2 5l-2 4l-1 -4zM502 1096l3 -2l4 0l-3 2zM407 1170l2 -4l3 -1l-2 3zM361 1098l5 -3l4 1l-3 3zM540 1025l3 -5l4 -3l0 5zM539 1125l0 5l-3 1l0 -3zM463 1124l1 -5l3 -1l-1 3zM465 1019l3 -4l4 -1l-1 4zM343 1169l7 2l4 5l-6 -1zM369 1072l2 4l-1 3l-2 -3zM452 1129l-6 -5l-1 -5l6 3zM336 1180l2 -5l4 -3l-2 4zM346 1091l-4 -1l-2 -2l3 -1zM533 1060l0 5l-3 3l0 -4zM361 1086l-1 -5l3 -5l2 5zM399 1066l3 8l-3 2l-3 -4zM347 1151l-7 -2l-2 -6l5 4z"/>
<use href="#m40" stroke="#7c3ad0" stroke-width="1.8" fill="#7c3ad0"/>
<path d="M403 1023l0 0M385 1126l0 0M355 1176l0 0M529 1149l0 0M456 1041l0 0M406 1087l0 0M514 1180l0 0M437 1156l0 0M574 1185l0 0M515 1155l0 0M354 1182l0 0M364 1147l0 0M525 1043l0 0M421 1043l0 0M473 1125l0 0M524 1183l0 0M462 1107l0 0M365 1086l0 0M452 1027l0 0M544 1101l0 0M422 1166l0 0M405 1133l0 0M453 1153l0 0M514 1150l0 0M364 1042l0 0M361 1164l0 0M360 1167l0 0M525 1064l0 0M371 1160l0 0M344 1186l0 0M456 1170l0 0M370 1038l0 0M432 1174l0 0M523 1114l0 0M559 1157l0 0M357 1142l0 0M417 1036l0 0M532 1185l0 0M398 1020l0 0M348 1123l0 0M537 1144l0 0M490 1059l0 0M437 1023l0 0M506 1059l0 0M517 1171l0 0M568 1102l0 0M455 1129l0 0M445 1106l0 0M532 1111l0 0M458 1191l0 0M486 1135l0 0M573 1044l0 0M478 1082l0 0M350 1129l0 0M378 1155l0 0M343 1070l0 0M511 1104l0 0M553 1041l0 0M441 1105l0 0M382 1041l0 0M518 1113l0 0M360 1131l0 0M375 1134l0 0M451 1077l0 0M405 1051l0 0M355 1062l0 0M403 1081l0 0M351 1083l0 0M509 1161l0 0M438 1036l0 0M500 1019l0 0M440 1035l0 0M427 1126l0 0M485 1021l0 0M379 1109l0 0M505 1176l0 0M425 1138l0 0M508 1186l0 0M512 1028l0 0M553 1123l0 0M395 1069l0 0M400 1092l0 0M421 1092l0 0M559 1055l0 0M446 1097l0 0M449 1133l0 0M371 1118l0 0M452 1037l0 0M381 1179l0 0M355 1141l0 0M386 1036l0 0M398 1114l0 0M444 1060l0 0M562 1063l0 0M352 1033l0 0M407 1167l0 0M481 1058l0 0M540 1190l0 0M574 1029l0 0M493 1020l0 0M386 1107l0 0M498 1077l0 0M462 1021l0 0M373 1152l0 0M561 1032l0 0M403 1174l0 0M439 1027l0 0M447 1186l0 0M570 1065l0 0M386 1079l0 0M480 1180l0 0M516 1050l0 0M372 1110l0 0M365 1070l0 0M516 1157l0 0M468 1180l0 0M565 1055l0 0M506 1116l0 0M400 1100l0 0M550 1180l0 0M502 1090l0 0M439 1190l0 0M486 1122l0 0M469 1101l0 0M367 1164l0 0M521 1032l0 0M473 1150l0 0M463 1031l0 0M419 1187l0 0M367 1149l0 0M558 1069l0 0M342 1029l0 0M457 1060l0 0M400 1037l0 0M428 1125l0 0M413 1159l0 0M371 1075l0 0M373 1064l0 0M421 1050l0 0M434 1113l0 0M469 1047l0 0M440 1053l0 0M522 1037l0 0M392 1038l0 0M474 1188l0 0M537 1095l0 0M449 1088l0 0M392 1088l0 0M445 1033l0 0M506 1072l0 0M460 1164l0 0M477 1031l0 0M377 1177l0 0M436 1070l0 0M348 1068l0 0M353 1177l0 0M488 1025l0 0M571 1022l0 0M372 1034l0 0M550 1021l0 0M487 1050l0 0M553 1124l0 0M357 1140l0 0M421 1050l0 0M378 1086l0 0M558 1169l0 0M571 1139l0 0M477 1184l0 0M541 1176l0 0M434 1067l0 0M501 1112l0 0M458 1110l0 0M513 1110l0 0M544 1031l0 0M556 1041l0 0M436 1108l0 0M439 1191l0 0M560 1131l0 0M550 1065l0 0M429 1066l0 0M562 1033l0 0M528 1080l0 0M396 1108l0 0M381 1039l0 0M502 1093l0 0M385 1142l0 0M534 1157l0 0M352 1093l0 0M437 1138l0 0M437 1056l0 0M416 1048l0 0M491 1092l0 0M557 1191l0 0M343 1171l0 0M381 1033l0 0M430 1047l0 0M408 1185l0 0M495 1059l0 0M459 1187l0 0M406 1086l0 0M453 1129l0 0M342 1103l0 0M500 1092l0 0M392 1062l0 0M414 1033l0 0M349 1122l0 0M458 1151l0 0M571 1171l0 0M536 1130l0 0M573 1092l0 0M506 1181l0 0M447 1075l0 0M436 1162l0 0M395 1145l0 0M353 1101l0 0M501 1099l0 0M537 1059l0 0M459 1116l0 0M466 1065l0 0M474 1041l0 0M424 1177l0 0M495 1064l0 0M445 1042l0 0M429 1027l0 0M504 1182l0 0M365 1025l0 0M425 1175l0 0M428 1145l0 0M402 1038l0 0M405 1140l0 0M392 1168l0 0M392 1043l0 0M554 1054l0 0M403 1106l0 0M426 1028l0 0M401 1170l0 0M503 1115l0 0M571 1025l0 0M416 1125l0 0M442 1030l0 0M570 1118l0 0M543 1076l0 0M396 1059l0 0M416 1145l0 0M535 1083l0 0M420 1087l0 0M441 1110l0 0M384 1079l0 0M462 1156l0 0M524 1074l0 0M523 1168l0 0M443 1031l0 0M474 1149l0 0M518 1057l0 0M396 1117l0 0M427 1096l0 0M527 1187l0 0M387 1169l0 0M367 1020l0 0M432 1052l0 0M493 1132l0 0M346 1081l0 0M361 1138l0 0M434 1052l0 0M447 1099l0 0M372 1053l0 0M523 1072l0 0M475 1143l0 0M353 1095l0 0M561 1132l0 0M403 1191l0 0M413 1064l0 0M533 1045l0 0M375 1132l0 0M469 1149l0 0M413 1109l0 0M548 1051l0 0M392 1102l0 0M453 1021l0 0M508 1155l0 0M515 1099l0 0M488 1043l0 0M417 1121l0 0M362 1041l0 0M564 1037l0 0M564 1173l0 0M387 1121l0 0M391 1170l0 0M344 1155l0 0M464 1053l0 0M387 1162l0 0M499 1073l0 0M475 1166l0 0M544 1181l0 0M418 1169l0 0M543 1150l0 0M354 1143l0 0M550 1080l0 0M508 1151l0 0M484 1067l0 0M373 1093l0 0M549 1056l0 0M429 1101l0 0M552 1159l0 0M470 1114l0 0M565 1140l0 0M453 1097l0 0M534 1114l0 0M418 1114l0 0M377 1122l0 0M349 1069l0 0M412 1085l0 0M546 1100l0 0M347 1115l0 0M536 1169l0 0M390 1129l0 0M345 1133l0 0M429 1060l0 0M342 1103l0 0M392 1163l0 0M548 1153l0 0M440 1024l0 0M434 1098l0 0M474 1111l0 0M480 1085l0 0M495 1174l0 0M568 1098l0 0M353 1145l0 0M418 1019l0 0M539 1065l0 0M544 1081l0 0M445 1101l0 0M513 1116l0 0M346 1021l0 0M466 1103l0 0M480 1027l0 0M374 1040l0 0M363 1129l0 0M441 1065l0 0M522 1061l0 0M529 1046l0 0M401 1046l0 0M546 1171l0 0M439 1168l0 0M386 1056l0 0M437 1081l0 0M349 1053l0 0M544 1030l0 0M472 1071l0 0M385 1018l0 0M447 1179l0 0M373 1118l0 0M472 1020l0 0M452 1025l0 0M431 1114l0 0M499 1092l0 0M491 1059l0 0M472 1028l0 0M520 1091l0 0M377 1162l0 0M395 1071l0 0M425 1041l0 0M382 1091l0 0M366 1189l0 0M384 1038l0 0M408 1084l0 0M370 1078l0 0M516 1098l0 0M353 1166l0 0M519 1053l0 0M534 1135l0 0M482 1128l0 0M343 1075l0 0M505 1101l0 0M531 1090l0 0M344 1177l0 0M351 1165l0 0M489 1081l0 0M390 1044l0 0M346 1138l0 0M370 1026l0 0M370 1068l0 0M379 1023l0 0M475 1058l0 0M449 1084l0 0M500 1039l0 0M408 1142l0 0M575 1172l0 0M489 1111l0 0M372 1088l0 0M413 1099l0 0M361 1080l0 0M494 1120l0 0M477 1165l0 0M408 1105l0 0M421 1156l0 0M346 1078l0 0M534 1090l0 0M459 1062l0 0M536 1037l0 0M384 1143l0 0M416 1141l0 0M561 1039l0 0M566 1110l0 0M455 1089l0 0M518 1151l0 0M352 1104l0 0M399 1037l0 0M502 1104l0 0M424 1137l0 0M519 1141l0 0M396 1105l0 0M383 1165l0 0M532 1074l0 0M555 1101l0 0M533 1053l0 0M438 1039l0 0M566 1023l0 0M437 1121l0 0M534 1114l0 0M423 1181l0 0M519 1118l0 0M411 1072l0 0M454 1117l0 0M450 1060l0 0M519 1173l0 0M431 1077l0 0M355 1124l0 0M522 1038l0 0M494 1136l0 0M399 1039l0 0M455 1024l0 0M507 1058l0 0M354 1023l0 0M548 1049l0 0M415 1079l0 0M466 1085l0 0M456 1074l0 0M546 1186l0 0M381 1041l0 0M515 1162l0 0M575 1076l0 0M495 1124l0 0M458 1058l0 0M482 1064l0 0M463 1155l0 0M476 1023l0 0M507 1167l0 0M401 1018l0 0M436 1094l0 0" stroke="#201a2a" stroke-width="1.5" stroke-opacity="0.8"/>
</g>
<rect x="542.5" y="1184.9" width="32" height="2.6" fill="#000"/><text x="558.5" y="1183.2" text-anchor="middle" style="font-family:'DejaVu Sans',sans-serif;font-weight:700;font-size:7px" fill="#000">200μm</text>
<clipPath id="i1c"><rect x="646.1" y="826" width="232.8" height="174.6"/></clipPath>
<g clip-path="url(#i1c)" fill="none" stroke-linecap="round" stroke-linejoin="round"><rect x="646.1" y="826" width="232.8" height="174.6" fill="#e6def2"/>
<path id="i10" d="M860 924l-2 -2l3 -1zM707 923l-2 0l1 -2zM822 920l0 -6l4 3zM700 889l0 3l-2 -3zM686 955l-1 -3l3 -1zM662 945l0 -3l5 3zM675 929l-3 2l0 -3zM852 909l2 0l-3 2zM832 826l2 1l-1 3zM807 864l-3 -1l3 -2zM877 943l-2 1l0 -3zM676 938l0 -3l3 0zM699 881l1 3l-2 0zM729 893l-4 1l2 -4zM841 938l3 3l-3 1zM745 978l2 -2l0 3zM786 930l-3 -4l4 -2zM737 838l4 3l-4 1zM695 831l-5 -1l2 -3zM759 963l-3 -4l4 0zM754 983l2 0l0 2zM745 910l-1 -4l3 0zM682 851l-2 2l-1 -3zM738 981l-2 3l-3 -2zM706 873l-4 1l0 -4zM713 867l-4 -1l4 -2zM653 991l-4 0l2 -3zM868 947l-2 2l0 -2zM757 995l-4 -1l3 -2zM804 873l0 4l-3 -2zM816 854l1 -3l3 2zM651 863l-1 4l-4 -2zM741 1001l-4 -1l2 -4zM718 905l0 4l-2 -1zM816 954l1 -3l3 3zM699 945l3 -2l0 3zM741 829l0 3l-2 -2zM877 916l3 0l-1 3zM700 834l2 -4l1 3zM660 870l-3 1l0 -3zM714 832l3 -1l-1 4zM877 854l-1 3l-2 -3zM740 918l0 3l-4 -1zM717 841l3 1l-2 3zM862 932l1 -3l4 3zM758 928l2 -4l2 4zM794 954l-2 1l0 -3zM696 842l2 4l-4 -2zM664 961l0 3l-2 -2zM783 866l-2 4l-3 -4zM807 832l5 -2l-2 5zM711 893l-1 -3l3 1zM745 881l-4 -2l3 -1zM778 985l-3 3l0 -4zM824 929l0 -3l3 1zM836 891l2 0l-1 3zM655 854l5 -2l0 4zM654 848l0 -3l3 2zM849 992l1 3l-3 -1zM697 902l1 -4l3 3zM722 823l3 2l-4 3zM842 953l-1 3l-1 -2zM770 852l1 3l-3 -1zM750 901l5 -2l-1 4zM825 993l2 -3l2 3zM876 932l-2 -1l2 -2zM839 900l-3 0l2 -3zM878 830l-4 -1l2 -2zM695 875l-2 -4l5 0zM777 889l-1 -2l3 -1zM791 897l-2 -3l3 0zM842 914l-3 -2l4 -3zM686 841l-2 2l-1 -5zM860 857l-1 4l-1 -3zM719 944l4 1l-3 3zM793 967l-1 2l-3 -3zM646 918l-2 -4l4 2zM685 894l4 -3l0 4zM649 881l-2 -2l4 0zM758 948l1 3l-3 -1zM809 945l-2 -1l2 -3zM806 916l-2 2l0 -3zM661 840l-1 -4l3 3zM782 959l0 3l-2 -3zM715 989l3 1l-3 3zM803 998l-1 -5l4 2zM809 973l-2 3l-1 -4zM788 858l3 4l-5 0zM855 866l2 -1l0 2zM775 896l-4 -1l3 -2zM739 854l-4 4l0 -4zM859 989l-4 -2l4 -1zM775 950l4 3l-6 2zM708 936l-2 -2l3 0zM684 939l-2 -3l3 0zM842 984l-3 -2l4 -2zM744 901l-3 -1l3 -3zM860 879l-2 -1l3 -2zM786 999l1 -4l2 4zM783 942l2 -5l3 5zM819 836l-3 -2l4 -2zM755 839l4 0l-3 4zM817 970l3 0l0 3zM667 836l0 -2l2 0zM731 903l4 2l-3 4zM787 891l-2 1l1 -5zM759 996l4 -1l-1 4zM727 953l3 3l-5 1zM733 875l3 1l-1 2zM808 967l2 -4l1 5zM713 886l0 -3l3 1zM768 830l0 3l-3 0zM708 839l0 4l-3 -3zM865 838l3 2l-2 1zM727 826l3 -1l-1 3zM752 889l3 4l-3 1zM708 998l1 -5l3 3zM827 901l3 -1l0 3zM859 937l1 5l-4 -2zM860 889l3 2l-3 2zM825 984l-2 1l0 -2zM882 860l-1 4l-2 -2zM708 905l1 4l-4 -1zM800 845l2 -2l1 3zM751 837l2 -2l2 2zM787 849l-2 -1l1 -2zM861 992l3 -1l0 3zM685 902l3 -3l0 3zM822 892l-1 -3l4 1zM683 917l-5 1l2 -3zM812 839l-1 2l-1 -3zM797 889l1 3l-3 -2zM751 943l-2 -3l3 0zM729 919l1 -2l3 2zM663 903l-1 2l-3 -1zM716 920l-1 6l-3 -4zM677 884l1 4l-3 -1zM777 862l-1 -2l3 0zM679 996l0 3l-3 0zM710 962l-1 6l-1 -4zM703 972l4 -1l0 4zM734 936l3 -2l-1 3zM705 981l2 -2l1 3zM653 956l4 -1l1 3zM760 981l-1 -2l3 1zM786 932l6 1l-3 3zM845 842l1 4l-4 0zM753 852l2 -3l2 2zM662 888l3 -3l0 4zM746 934l0 4l-4 -1zM808 905l-2 -2l3 0zM859 850l2 -4l1 4zM760 919l3 0l-1 2zM773 943l3 -2l0 5zM829 974l3 -1l-2 2zM669 871l-1 -1l3 -1zM794 995l4 0l-1 3zM828 884l-2 1l-1 -2zM793 978l0 -6l3 2zM653 999l2 -3l1 3zM852 836l-3 -3l3 -2zM687 995l-2 -2l3 -1zM856 916l1 -3l3 2zM741 864l2 -2l1 2zM776 874l4 0l-1 3zM767 993l-4 1l1 -5zM672 921l-4 -1l2 -2zM868 908l-2 -2l3 -1zM710 956l3 0l-2 3zM677 858l-1 3l-4 -2zM854 847l-2 2l-2 -4zM799 962l-1 -4l4 1zM643 991l2 3l-4 2zM769 909l3 -1l1 2zM690 1000l2 -3l2 3zM706 825l4 -2l-2 4zM731 930l3 0l-2 2zM667 906l1 -2l2 3zM833 909l3 -2l0 3zM651 966l-2 3l-1 -2zM812 975l5 0l-3 5zM694 821l4 2l-2 3zM850 948l-4 0l3 -4zM742 945l-3 -4l5 0zM856 952l-4 1l1 -3zM687 883l3 -3l1 3zM771 973l0 4l-3 -1zM665 934l-1 -3l4 2zM677 873l1 4l-3 -1zM678 897l2 3l-3 1zM841 884l0 -4l3 3zM655 931l3 -2l-1 5zM756 966l3 3l-3 1zM840 863l1 2l-3 -1zM841 838l-5 -1l4 -5zM664 956l0 -3l4 1zM721 977l-1 2l-1 -2zM866 874l1 3l-3 -2zM727 993l-1 2l-1 -1zM727 860l-2 3l-2 -3zM764 885l0 3l-2 -1zM845 925l0 2l-2 -1zM799 936l-1 -4l4 1zM743 847l1 -2l2 2zM749 957l0 -2l2 1zM710 940l3 3l-4 1zM686 907l-1 4l-1 -2zM731 967l-1 -4l3 1zM879 847l2 -2l1 2zM815 907l1 -3l2 2zM799 865l3 3l-5 1zM653 915l-2 -3l5 0zM878 967l0 -4l3 4zM753 826l1 5l-4 -3zM877 956l3 -2l2 4zM841 963l3 2l-3 1zM683 870l2 1l-3 2zM679 826l-2 -2l3 -1zM696 861l3 -2l0 3zM690 988l5 1l-5 2zM784 951l1 -3l1 2zM757 921l-3 2l0 -3zM775 933l2 -2l2 2zM716 873l3 -1l-2 3zM667 992l0 -3l3 1zM764 877l-4 0l2 -3zM705 854l2 -4l3 3zM808 937l1 -3l2 3zM746 868l4 1l-3 2zM698 910l-1 3l-2 -3zM817 960l1 2l-3 -1zM882 881l-3 3l0 -4zM798 919l2 2l-4 0zM744 990l0 -3l3 1zM758 912l5 -2l-1 4zM716 968l-2 4l-1 -5zM756 883l0 -3l3 3zM866 887l3 -2l0 4zM679 964l0 4l-3 -3zM854 882l-3 -1l3 -2zM876 924l4 -3l0 3zM701 1001l0 3l-3 -2zM768 946l0 -3l2 2zM644 945l0 -2l3 1zM694 975l0 4l-4 -1zM802 831l1 2l-3 0zM861 948l-3 -1l3 -2zM726 883l3 3l-5 1zM706 899l0 -4l4 1zM651 980l1 3l-3 1zM790 906l1 4l-4 -1zM746 856l2 5l-4 0zM686 983l-3 1l0 -2zM655 907l-2 0l2 -2zM714 934l0 -3l5 2zM834 952l-2 2l-2 -4zM810 883l-3 2l-1 -4zM841 876l0 -3l3 1zM820 882l-4 -1l2 -3zM723 998l0 3l-3 0zM764 899l-3 2l1 -4zM780 841l3 4l-4 1zM737 845l-3 5l-1 -3zM831 927l2 2l-3 1zM699 955l-3 1l0 -2zM808 894l-5 -2l4 -1zM685 886l2 4l-4 -2zM797 912l4 -2l1 4zM652 822l4 -1l-2 5zM783 917l1 2l-3 0zM849 975l0 -3l4 2zM857 935l-3 -3l5 -2zM693 863l-3 0l1 -2zM729 972l3 2l-3 2zM810 855l1 2l-4 0zM680 944l4 1l-2 4zM766 869l2 -2l2 4zM865 866l-2 -3l4 1zM743 892l-1 -3l2 1zM651 837l3 -3l0 4zM676 958l2 -2l0 3zM861 899l3 4l-4 1zM796 837l-2 3l-1 -4zM797 980l3 -2l1 4zM760 858l3 1l-1 2zM701 938l-2 -1l2 -2zM773 925l-3 2l1 -5zM694 949l1 3l-3 0zM883 929l-2 4l-2 -1zM878 991l3 -3l1 2zM811 993l2 -3l1 3zM753 868l-2 -5l3 0zM834 850l-1 -4l3 1zM850 939l-4 -1l2 -3zM702 969l-1 -5l3 2zM688 971l-4 -2l4 -3zM696 987l1 -4l2 2zM771 995l2 3l-4 1zM731 942l2 3l-3 0zM828 891l5 0l-2 3zM715 851l2 5l-5 -1zM846 866l1 3l-3 0zM764 846l-1 3l-3 -2zM666 827l2 -4l0 5zM762 957l4 0l0 4zM677 974l-1 -3l3 2zM782 974l-4 3l0 -3zM833 1002l-5 2l0 -4zM836 974l2 -1l-1 3zM648 852l2 5l-5 -1zM812 886l2 2l-2 1zM641 872l3 -2l-1 3zM804 924l3 -1l0 2zM825 878l-1 -3l3 1zM753 874l5 0l-3 4zM843 857l2 -4l3 3zM755 933l3 -2l0 5zM758 827l4 3l-5 1zM869 915l6 0l-4 4zM742 927l-3 2l0 -3zM725 940l2 -3l1 2zM650 940l-2 -3l4 0zM795 860l3 3l-4 0zM861 831l1 -4l4 4zM784 989l-2 3l-1 -3zM779 996l1 3l-3 -1zM766 972l-1 4l-3 -2zM719 850l3 -2l1 4zM816 899l-3 2l0 -5zM727 983l-3 1l1 -2zM873 894l3 1l-2 3zM830 836l-3 1l0 -4zM851 921l1 -3l2 3zM717 983l-3 4l0 -4zM687 875l3 -1l-1 4zM672 983l0 3l-1 -1zM696 894l-1 3l-2 -4zM721 913l3 0l-1 3zM680 925l4 0l-3 5zM833 884l0 -2l2 0zM780 834l-3 -1l2 -2zM833 981l2 3l-5 0zM685 962l2 -5l4 4zM699 921l-1 2l-2 -2zM650 885l2 3l-4 0zM812 859l5 2l-4 3zM796 878l3 2l-3 2zM779 908l3 0l-1 2zM807 961l0 -3l4 0zM832 919l-2 -2l2 0zM878 1004l-4 -1l4 -3zM763 938l1 1l-2 2zM819 943l4 -1l-2 3zM688 920l3 -1l0 3zM666 914l2 -1l1 3zM876 905l4 5l-5 0zM647 892l-1 6l-3 -4zM655 897l3 3l-2 1zM774 918l-2 -3l4 -1zM871 981l3 1l-3 1zM794 919l-3 2l0 -3zM798 930l-1 -3l3 0zM749 993l3 2l-5 1zM871 847l0 3l-2 -2zM820 845l3 -2l2 4zM727 867l3 -3l3 3zM720 933l3 -4l1 5zM875 866l2 3l-2 1zM854 897l2 -4l2 3zM796 830l-2 -2l4 -2zM727 842l2 1l-2 2zM688 857l1 -2l2 2zM670 891l0 3l-3 0zM692 836l3 3l-3 1zM713 929l-5 2l1 -4zM690 826l-5 -2l4 -2zM721 924l2 -2l2 2zM810 996l1 4l-4 -2zM744 1004l3 -2l-1 3zM666 940l4 -2l-1 5zM790 947l2 -2l2 3zM846 1002l3 -2l0 2zM851 956l0 5l-4 -2zM652 927l-2 -2l3 -2zM814 937l2 -3l2 3zM832 965l1 3l-4 -2zM741 961l2 2l-3 1zM650 973l3 0l-1 4zM665 973l-3 2l0 -2zM823 867l-2 4l-1 -6zM791 867l4 2l-4 2zM751 883l0 4l-2 -2zM815 870l-4 -1l5 -2zM866 894l3 0l-2 3zM852 904l-4 -1l3 -3zM691 939l-1 -4l5 4zM854 829l2 -2l1 3zM723 966l4 1l-4 2zM857 959l3 -1l-2 4zM875 978l-3 0l3 -2zM667 845l-3 2l0 -3zM772 964l2 3l-3 0zM878 837l1 -4l2 4zM675 952l-4 -2l3 -3zM661 989l-4 1l2 -5zM769 980l1 4l-3 -1zM718 900l-1 -3l3 0zM873 954l2 -2l1 3zM835 870l-4 -1l3 -2zM849 862l3 -2l1 4zM786 879l2 -2l1 3zM784 856l0 2l-3 -1zM670 878l-1 -2l3 0zM841 1000l-4 -1l3 -3zM808 985l4 -2l-3 5zM788 830l-3 3l-1 -5zM645 925l-1 -4l4 1zM804 947l-4 0l2 -3zM822 907l4 -1l0 2zM704 991l-2 -3l3 0zM826 957l-1 2l-1 -3zM880 951l0 -5l4 3zM827 825l0 -4l3 2zM737 889l1 3l-3 -2zM700 930l4 -1l-2 3zM705 880l3 0l-1 4zM733 899l-3 2l-1 -4zM686 928l5 0l-2 4zM824 935l3 3l-3 2zM764 930l2 1l-3 2zM670 966l0 -3l3 2zM818 912l-1 3l-2 -2zM658 884l1 4l-4 -2zM692 943l-1 3l-3 -5zM675 834l-2 -3l2 0zM772 843l3 2l-4 0zM831 961l4 -3l-1 4zM833 938l2 2l-4 1zM785 984l2 -3l1 3zM825 826l-3 3l-1 -3zM735 988l-1 3l-2 -3zM644 960l4 -2l1 4zM884 940l-4 -2l3 -2zM816 1000l2 2l-2 1zM700 852l-2 2l-1 -2zM717 963l0 -2l3 1zM668 982l-3 -1l3 -3zM788 964l1 -6l3 3zM877 984l-1 -4l4 1zM644 983l2 4l-4 1zM772 936l0 3l-2 -1zM802 965l2 1l-1 2zM800 990l1 -3l4 2zM865 966l1 5l-5 -2zM879 825l3 -3l1 5zM675 869l-3 -1l4 -3zM846 823l1 3l-4 0zM850 889l1 -3l4 3zM825 1004l-5 -1l3 -3zM811 878l2 -2l1 2zM847 902l-3 4l-3 -5zM856 997l5 1l-3 3zM815 921l-4 1l0 -5zM747 970l5 -2l-1 5zM730 951l-5 -1l3 -3zM794 942l2 -3l2 4zM765 967l0 -3l2 2zM741 947l-1 3l-2 -3zM691 964l3 1l-2 3zM672 848l-1 2l-2 -2zM872 838l1 -3l2 1zM867 962l-1 -3l3 0zM796 851l-3 0l2 -2zM864 951l-2 4l-2 -5zM642 832l3 1l-2 2zM836 932l5 0l-4 3zM781 925l-4 2l0 -5zM699 865l2 -1l0 4zM711 952l-2 -1l2 -3zM680 977l-4 3l-3 -4zM868 938l-3 0l1 -2zM795 901l1 -5l3 3zM662 867l1 -4l3 3zM853 855l-2 1l1 -3zM646 934l-1 -4l4 1zM649 826l3 3l-5 0zM854 981l-4 0l2 -3zM789 886l3 -1l0 2zM647 1001l-4 1l0 -4zM743 911l0 4l-4 -2zM868 1004l-2 -3l4 0zM656 963l3 3l-2 2zM773 881l-4 -1l3 -6zM686 975l2 2l-2 -1zM838 986l2 5l-6 -1zM735 882l5 1l-4 4zM766 951l3 -1l-1 5zM717 952l2 3l-2 1zM791 990l2 -3l2 3zM812 929l-1 -2l2 1zM752 975l4 0l-3 3zM729 874l-5 1l3 -5zM749 962l2 -2l1 3zM868 990l3 -2l-1 2zM652 951l-2 5l-3 -4zM770 862l-2 2l0 -2zM827 850l3 3l-4 2zM869 996l4 -1l-1 4zM728 837l0 -3l2 2zM872 860l3 4l-6 -1zM871 971l1 -3l3 2zM773 828l2 -2l1 4zM785 977l-1 -3l3 1zM649 843l-2 3l-2 -4zM756 915l-3 0l3 -2zM666 879l-3 0l-1 -4zM660 916l2 4l-6 -2zM676 941l0 4l-3 -2zM844 921l-4 -3l5 -1zM756 1002l-3 1l1 -3zM673 908l3 2l-4 0zM862 984l3 -1l-1 2zM765 824l2 2l-2 1zM785 899l-1 4l-3 -2zM784 969l0 -3l4 4zM698 971l-2 0l0 -2zM770 887l-1 4l-2 -3zM818 824l-2 5l-1 -5zM752 930l-3 -1l3 -4zM770 842l-3 -5l3 1zM857 834l3 2l-2 1zM721 887l-1 4l-3 -1zM803 855l2 2l-3 0zM827 862l1 -4l3 3zM760 894l2 -3l2 3zM681 986l1 3l-4 -1zM877 874l-1 3l-2 -3zM731 951l5 2l-4 3zM740 968l0 3l-4 0zM736 823l3 2l-5 2zM731 1006l0 -4l2 2zM657 863l-3 -1l3 -2zM645 878l-2 1l0 -4zM725 902l2 3l-3 1zM744 917l3 1l-1 2zM784 841l2 -4l3 3zM850 871l3 0l-1 4zM737 912l-3 2l1 -4zM654 945l4 -2l-3 4zM706 915l-3 5l-2 -4zM650 903l-2 2l-2 -4zM810 911l0 -4l2 2zM689 845l-1 5l-2 -3zM850 966l3 0l-2 2zM645 849l-1 3l-2 -3zM773 955l0 4l-5 -1zM849 988l2 -3l2 3zM869 921l1 5l-4 -2zM772 990l3 0l-1 3zM836 950l0 -4l4 1z"/>
<path id="i11" d="M830 904l3 0l-2 1zM750 844l1 -2l2 2zM665 910l-2 1l1 -3zM743 1002l-2 -5l4 1zM789 847l2 4l-3 -1zM804 993l-1 -4l3 2zM736 940l2 -3l2 1zM701 924l0 -3l2 3zM845 860l4 -1l-1 3zM853 925l-3 1l1 -3zM788 941l-1 4l-1 -3zM673 971l0 -2l2 0zM720 970l-2 3l-2 -3zM722 827l-1 -2l2 0zM879 963l1 2l-3 0zM748 995l2 2l-3 1zM733 935l-1 2l-2 -1zM719 1003l0 -2l2 2zM707 878l-3 -1l1 -2zM760 887l2 1l-2 1zM803 975l-1 -2l2 1zM686 986l2 -3l1 4zM754 901l2 -2l1 3zM835 823l4 2l-3 3zM719 883l-2 -3l3 -1zM755 903l0 3l-3 -2zM698 876l-3 1l1 -2zM653 902l1 2l-3 0zM856 909l2 -3l3 3zM782 986l0 -3l2 2zM678 862l2 -3l1 4zM820 886l-2 0l2 -2zM815 959l1 4l-4 -2zM789 915l-4 0l2 -2zM676 935l-2 2l-1 -2zM861 983l0 2l-2 -2zM691 953l-1 -2l2 0zM668 906l3 1l-3 1zM721 925l-2 -2l2 -1zM695 963l-2 0l1 -3zM834 855l0 -2l2 -1zM664 883l-3 1l1 -3zM768 824l0 2l-2 -1zM717 863l3 0l0 3zM742 991l4 -1l-2 3zM732 865l-1 3l-1 -3zM684 950l2 2l-3 0zM689 926l0 3l-3 0zM756 977l0 -4l2 2zM749 891l-2 0l0 -2zM814 908l1 -1l1 2zM732 824l2 0l-1 2zM826 958l2 4l-4 -1zM779 891l0 -3l2 0zM762 996l1 -4l3 3zM806 911l1 3l-3 -1zM775 955l0 -2l1 2zM713 979l1 -2l1 3zM678 876l4 3l-4 0zM785 905l-3 0l2 -2zM762 860l1 2l-2 -1zM644 918l2 -1l-1 2zM720 847l-2 -1l2 -1zM795 898l2 -4l2 2zM818 959l2 1l-1 1zM828 990l2 -2l0 4zM785 957l2 -2l1 3zM847 996l2 3l-4 0zM863 908l0 -3l3 1zM861 835l2 -3l1 3zM882 880l-2 0l1 -2zM745 867l1 -3l3 2zM769 875l4 0l-2 2zM659 977l-2 -1l2 -1zM765 979l4 -4l1 3zM785 860l-2 1l-1 -2zM737 948l-3 3l-2 -4zM664 875l4 2l-3 2zM751 978l-2 -2l3 -1zM764 938l-4 4l0 -4zM748 954l-4 -1l3 -2zM746 859l-1 -3l3 1zM689 945l2 -1l0 2zM650 840l-2 -1l1 -1zM694 886l1 -3l3 1zM840 900l1 -2l2 2zM680 868l0 2l-1 -2zM799 899l4 -2l0 4zM645 851l3 1l-3 1zM792 967l2 1l-2 2zM828 858l1 3l-3 -1zM759 999l2 2l-4 1zM698 860l3 0l-2 2zM738 882l-2 3l-1 -4zM792 867l1 4l-5 -1zM653 914l3 1l-1 3zM716 873l-2 2l-1 -3zM651 941l1 2l-2 0zM812 941l2 3l-3 1zM815 831l-1 -3l2 0zM792 844l-3 0l0 -2zM734 889l-3 -2l3 -1zM834 998l1 3l-3 -1zM835 908l2 -1l0 2zM867 984l-2 2l0 -3zM875 946l-3 2l0 -3zM663 992l1 -2l1 3zM852 829l-3 0l0 -2zM703 957l-2 -4l4 0zM824 932l3 -1l-2 2zM792 953l-1 -2l3 0zM741 889l-3 3l0 -3zM832 868l0 3l-5 -1zM735 983l2 1l-1 1zM839 974l3 1l-3 2zM877 975l2 2l-2 1zM652 906l1 3l-2 -1zM797 826l3 -2l-1 4zM848 972l1 -2l2 2zM741 976l-2 -2l2 0zM736 990l-1 1l-1 -2zM813 867l1 -5l2 2zM859 830l-4 0l1 -3zM835 917l1 3l-3 -2zM803 868l-2 0l1 -3zM685 933l-2 -1l3 -1zM834 882l1 2l-3 0zM866 829l-3 -3l4 0zM731 990l-2 1l-1 -3zM835 858l-2 3l-1 -2zM745 948l-1 2l-1 -3zM841 870l-3 -2l3 -2zM857 848l3 0l-1 1zM688 844l1 -3l2 2zM771 942l-3 -1l3 -2zM670 828l0 3l-2 0zM646 971l3 -1l-1 4zM683 834l2 -3l1 4zM645 873l-2 2l-2 -3zM674 854l-1 2l0 -3zM729 976l-2 -1l2 -3zM704 987l2 3l-2 0zM659 952l1 -3l2 3zM754 970l-2 0l1 -2zM791 908l2 0l-1 2zM777 829l1 -2l0 2zM726 982l-2 1l0 -3zM838 960l1 -1l1 2zM859 975l2 0l-2 2zM784 948l2 -1l-1 2zM771 885l0 -3l2 1zM821 850l-3 -2l3 -1zM810 998l0 4l-3 -3zM832 965l-2 -2l2 0zM775 863l2 1l-2 1zM813 991l-3 2l1 -3zM876 829l-1 -3l2 0zM743 842l1 3l-3 -1zM653 971l-2 -2l2 -1zM753 931l-3 -2l4 -1zM761 978l2 2l-3 1zM810 902l-2 -1l2 -2zM696 975l2 -3l3 3zM828 885l2 1l-3 1zM867 937l0 3l-3 -2zM868 953l-3 -2l2 -2zM692 839l3 -1l-1 4zM727 847l-1 -3l3 1zM863 849l2 0l-2 3zM808 919l-1 2l-1 -2zM709 988l-1 -2l3 0zM645 959l-1 -4l2 1zM720 984l-1 1l-1 -3zM866 867l1 3l-3 -1zM794 928l-1 -4l5 1zM680 929l-3 -1l3 -2zM667 964l-3 -2l3 -3zM790 853l2 -1l0 2zM837 985l-2 -3l4 -1zM818 919l2 -3l1 4zM709 829l1 3l-2 -1zM870 837l1 -2l1 2zM798 979l-3 -1l1 -2zM826 830l-3 3l0 -5zM870 908l3 1l0 2zM814 884l-2 -1l1 -1zM664 918l-3 -1l2 -2zM876 914l1 3l-3 1zM656 877l-2 0l0 -1zM698 991l-2 3l-2 -2zM664 848l-2 -1l3 0zM822 930l-2 -2l2 0zM733 852l-2 3l-1 -3zM659 929l0 -2l2 1zM727 841l-3 3l-2 -2zM796 865l2 -2l0 3zM826 868l-2 -2l2 0zM777 994l-3 2l0 -3zM777 970l-1 2l-1 -3zM678 945l4 1l-2 2zM754 962l0 -2l2 1zM844 908l1 -3l3 2zM783 851l-2 1l0 -2zM656 885l0 4l-3 -2zM839 873l1 4l-4 -1zM849 980l2 0l0 2zM695 912l-1 3l-1 -3zM762 934l-1 -2l3 -1zM825 874l0 -2l2 1zM691 885l-3 2l0 -3zM853 856l0 -2l2 0zM781 981l-2 2l0 -3zM810 876l1 2l-2 0zM826 949l-2 1l0 -2zM751 885l-3 -1l2 -2zM873 942l-1 -2l3 1zM752 872l-1 -2l1 0zM685 1005l1 -4l3 2zM882 835l-3 1l0 -3zM773 896l1 3l-2 -1zM857 844l0 -3l2 3zM727 904l0 -3l2 2zM790 990l3 -1l0 3zM796 987l1 -2l1 2zM713 909l2 1l-2 2zM687 877l0 4l-3 -3zM840 845l-3 0l1 -4zM736 865l-1 -2l2 0zM831 921l-3 1l1 -4zM726 937l1 -1l0 2zM763 960l-1 2l-1 -2zM665 897l-2 2l-1 -2zM797 870l-3 0l2 -3zM709 907l1 3l-3 -1zM872 920l-2 -3l4 0zM714 957l2 3l-3 -1zM857 984l0 3l-3 -2zM811 823l3 1l-1 2zM838 838l-1 -3l3 1zM675 902l-3 -1l2 -2zM816 897l-3 0l2 -2zM712 995l2 0l-2 3zM856 884l0 -2l1 2zM716 1000l-2 1l-1 -2zM721 992l-3 -1l3 -2zM855 893l-1 3l-2 -3zM820 949l2 2l-3 1zM852 870l-2 0l2 -1zM682 958l0 2l-2 0zM794 1000l-3 2l0 -3zM646 858l0 3l-3 -2zM857 873l2 0l-1 2zM827 827l5 -2l-1 4zM839 1005l1 -4l2 3zM808 884l-2 3l-1 -2zM727 961l-1 -3l3 -1zM749 903l-1 2l-1 -3zM711 834l2 -1l1 3zM705 958l4 1l-2 3zM863 895l3 -1l0 2zM740 869l-4 1l0 -3zM686 854l-1 3l-1 -3zM659 932l3 0l-1 4zM862 970l-2 2l1 -3zM720 930l0 -3l3 1zM653 868l-2 2l1 -3zM873 956l1 -3l2 2zM804 981l3 2l-3 2zM782 940l1 2l-3 1zM844 969l2 0l-1 1zM677 1004l1 -3l2 2zM742 904l-3 -3l5 1zM772 914l2 -2l1 2zM666 983l2 -1l0 2zM758 922l2 1l-1 1zM788 926l3 3l-4 2zM778 991l-1 -2l3 -1zM689 869l2 0l-1 1zM690 955l1 3l-3 -1zM836 953l1 2l-1 0zM797 848l3 2l-4 1zM650 947l-1 2l-1 -3zM744 940l3 -2l0 2zM648 961l1 2l-3 1zM846 882l1 -1l2 2zM875 880l-3 -1l3 -1zM777 901l-1 -3l4 0zM863 879l1 3l-2 -1zM748 925l0 -2l2 0zM740 942l3 3l-3 0zM871 929l-1 2l-2 -1zM740 829l0 -3l4 3zM790 881l-3 -2l1 -2zM837 914l0 -3l2 1zM838 861l-1 3l-1 -3zM735 836l-1 -3l3 -1zM833 927l2 -3l1 2zM654 893l-1 1l0 -3zM810 930l-2 -2l3 -1zM787 976l2 -4l0 3zM738 852l3 2l-3 1zM760 947l3 2l-3 2zM854 866l-2 -2l3 -1zM876 898l-2 -1l2 -2zM761 974l-3 -2l5 -1zM768 949l-1 -2l3 -1zM826 891l0 3l-3 -2zM759 968l-2 -3l3 1zM671 982l1 -4l2 4zM880 842l-3 -1l1 -2zM681 956l-4 1l1 -4zM878 991l-2 0l0 -2zM762 905l2 -1l-1 2zM749 838l-1 2l-1 -2zM664 856l2 1l-3 0zM801 940l2 1l-2 1zM712 845l1 2l-3 0zM845 987l0 3l-2 -3zM809 857l3 3l-4 0zM708 858l2 3l-4 0zM787 881l-3 4l-1 -4zM689 899l-1 -2l3 0zM695 836l2 -1l0 2zM651 835l-2 1l0 -3zM853 952l-1 -3l4 0zM707 883l4 0l-3 3zM704 907l-1 3l-1 -2zM790 943l2 -1l0 2zM729 909l3 1l-4 2zM799 993l-2 -1l2 -1zM723 891l3 -2l0 4zM659 858l-3 -1l3 -1zM692 865l3 -1l-1 3zM797 950l2 -2l1 2zM852 920l3 0l-1 3zM707 914l-1 3l-2 -3zM709 938l1 2l-2 1zM719 933l2 2l-3 1zM741 920l2 -3l1 4zM817 843l-4 2l0 -4zM694 956l3 1l-2 2zM702 1001l3 0l-3 3zM724 971l-2 0l2 -3zM767 923l-1 4l-2 -3zM767 962l0 -3l2 0zM772 935l-1 2l-1 -3zM693 833l2 -3l1 3zM844 880l-2 1l1 -3zM807 830l2 0l-1 2zM841 919l0 2l-2 -1zM783 865l-3 3l-1 -3zM735 996l0 4l-2 -1zM786 921l-3 -1l2 -2zM707 981l-2 -2l2 0zM667 943l1 -3l2 3zM720 915l2 2l-3 1zM852 904l0 3l-2 -1zM723 871l-2 1l-1 -2zM687 892l3 -1l-1 3zM671 885l-2 -3l3 0zM880 950l0 3l-2 -2zM669 959l2 -2l2 3zM699 827l2 1l-3 2zM781 993l2 2l-3 0zM726 871l1 -3l2 3zM654 856l-2 -1l2 -1zM757 852l-1 2l0 -2zM795 956l1 3l-4 1zM792 912l2 2l-2 0zM696 964l4 -3l-1 4zM785 887l4 2l-3 2zM859 887l2 0l-1 2zM819 987l-2 0l1 -4zM843 840l2 -1l0 3zM682 983l2 2l-2 1zM702 894l1 2l-4 0zM789 891l2 0l-1 2zM805 965l1 -2l1 2zM737 911l3 0l-1 2zM871 963l-1 2l-1 -2z"/>
<use href="#i10" stroke="#ac88e6" stroke-width="6.2" stroke-opacity="0.7" fill="#ac88e6" fill-opacity="0.7"/>
<use href="#i11" stroke="#ac88e6" stroke-width="5.2" stroke-opacity="0.7" fill="#ac88e6" fill-opacity="0.7"/>
<use href="#i10" stroke="#7e46d8" stroke-width="3.2" fill="#7e46d8"/>
<use href="#i11" stroke="#7040d0" stroke-width="2.8" fill="#7040d0"/>
<path d="M861 923l0 0M706 923l0 0M822 916l0 0M699 890l0 0M686 952l0 0M663 944l0 0M673 930l0 0M853 910l0 0M833 828l0 0M806 863l0 0M875 943l0 0M676 936l0 0M699 883l0 0M726 893l0 0M842 940l0 0M747 977l0 0M785 927l0 0M738 841l0 0M691 830l0 0M758 960l0 0M755 984l0 0M745 907l0 0M680 852l0 0M735 982l0 0M704 873l0 0M712 865l0 0M651 990l0 0M867 947l0 0M756 994l0 0M803 876l0 0M817 852l0 0M649 865l0 0M739 999l0 0M718 908l0 0M818 953l0 0M701 944l0 0M741 831l0 0M879 917l0 0M701 832l0 0M657 869l0 0M716 832l0 0M875 855l0 0M739 919l0 0M718 843l0 0M863 931l0 0M759 926l0 0M792 954l0 0M697 844l0 0M664 962l0 0M781 867l0 0M810 832l0 0M711 891l0 0M744 880l0 0M776 985l0 0M825 927l0 0M837 892l0 0M659 854l0 0M655 846l0 0M848 994l0 0M698 900l0 0M722 825l0 0M841 954l0 0M770 854l0 0M753 901l0 0M826 992l0 0M875 931l0 0M838 899l0 0M877 829l0 0M695 873l0 0M777 887l0 0M791 895l0 0M842 912l0 0M684 841l0 0M858 859l0 0M720 946l0 0M792 968l0 0M646 915l0 0M687 893l0 0M650 879l0 0M757 950l0 0M809 944l0 0M805 917l0 0M662 839l0 0M782 960l0 0M716 991l0 0M803 996l0 0M807 974l0 0M789 861l0 0M857 866l0 0M773 894l0 0M736 855l0 0M858 987l0 0M775 952l0 0M707 935l0 0M683 937l0 0M841 982l0 0M743 900l0 0M859 878l0 0M788 998l0 0M785 940l0 0M817 834l0 0M757 841l0 0M819 970l0 0M668 835l0 0M733 906l0 0M786 891l0 0M761 997l0 0M728 956l0 0M734 875l0 0M810 965l0 0M714 884l0 0M767 832l0 0M708 840l0 0M866 840l0 0M729 826l0 0M753 892l0 0M710 995l0 0M829 902l0 0M859 940l0 0M862 891l0 0M824 984l0 0M881 862l0 0M708 908l0 0M802 845l0 0M752 836l0 0M786 848l0 0M863 992l0 0M687 900l0 0M823 890l0 0M679 917l0 0M811 839l0 0M797 891l0 0M751 941l0 0M732 919l0 0M662 904l0 0M715 923l0 0M676 886l0 0M778 860l0 0M677 998l0 0M709 965l0 0M706 973l0 0M736 937l0 0M706 981l0 0M656 957l0 0M761 980l0 0M789 934l0 0M845 845l0 0M754 851l0 0M664 887l0 0M745 935l0 0M807 904l0 0M861 849l0 0M761 920l0 0M776 943l0 0M830 974l0 0M669 870l0 0M796 996l0 0M827 884l0 0M794 975l0 0M655 999l0 0M851 834l0 0M686 993l0 0M857 914l0 0M742 864l0 0M778 875l0 0M765 992l0 0M671 920l0 0M867 907l0 0M711 957l0 0M675 860l0 0M853 847l0 0M800 960l0 0M643 993l0 0M771 909l0 0M691 999l0 0M708 825l0 0M732 931l0 0M668 906l0 0M835 909l0 0M649 967l0 0M814 977l0 0M696 824l0 0M849 946l0 0M742 942l0 0M854 952l0 0M689 882l0 0M770 975l0 0M666 932l0 0M677 875l0 0M679 900l0 0M842 882l0 0M657 932l0 0M757 968l0 0M840 864l0 0M838 836l0 0M666 955l0 0M720 978l0 0M865 876l0 0M726 994l0 0M725 861l0 0M763 886l0 0M845 926l0 0M800 934l0 0M745 847l0 0M750 956l0 0M711 942l0 0M685 909l0 0M732 965l0 0M881 847l0 0M817 906l0 0M800 867l0 0M654 913l0 0M879 965l0 0M752 829l0 0M881 957l0 0M843 964l0 0M683 872l0 0M679 825l0 0M698 860l0 0M692 989l0 0M784 950l0 0M754 921l0 0M777 932l0 0M718 873l0 0M668 991l0 0M762 876l0 0M708 852l0 0M809 936l0 0M749 870l0 0M697 912l0 0M816 961l0 0M880 881l0 0M799 920l0 0M745 988l0 0M761 912l0 0M714 970l0 0M757 882l0 0M868 887l0 0M677 965l0 0M852 880l0 0M879 923l0 0M700 1003l0 0M768 945l0 0M646 945l0 0M693 977l0 0M802 832l0 0M860 946l0 0M726 885l0 0M707 897l0 0M650 982l0 0M790 909l0 0M745 858l0 0M684 983l0 0M654 906l0 0M715 933l0 0M832 952l0 0M807 882l0 0M842 875l0 0M819 881l0 0M722 1000l0 0M762 899l0 0M781 844l0 0M736 847l0 0M832 929l0 0M698 955l0 0M806 893l0 0M684 888l0 0M800 912l0 0M655 823l0 0M782 918l0 0M850 974l0 0M857 933l0 0M692 863l0 0M730 974l0 0M809 856l0 0M683 946l0 0M768 869l0 0M865 864l0 0M743 890l0 0M654 836l0 0M677 958l0 0M861 902l0 0M794 838l0 0M800 980l0 0M762 859l0 0M700 937l0 0M772 924l0 0M693 951l0 0M881 931l0 0M880 990l0 0M813 992l0 0M754 865l0 0M835 847l0 0M848 937l0 0M703 967l0 0M687 968l0 0M697 984l0 0M771 997l0 0M731 944l0 0M830 893l0 0M714 854l0 0M846 867l0 0M762 847l0 0M668 826l0 0M764 958l0 0M678 972l0 0M779 975l0 0M830 1003l0 0M838 974l0 0M649 855l0 0M812 887l0 0M644 871l0 0M806 925l0 0M825 876l0 0M756 875l0 0M845 855l0 0M758 934l0 0M759 829l0 0M873 915l0 0M740 928l0 0M726 938l0 0M649 938l0 0M796 863l0 0M863 829l0 0M782 989l0 0M779 998l0 0M764 974l0 0M723 850l0 0M813 898l0 0M726 983l0 0M874 897l0 0M828 836l0 0M852 919l0 0M715 984l0 0M689 876l0 0M672 984l0 0M695 895l0 0M723 914l0 0M682 927l0 0M834 883l0 0M779 832l0 0M833 984l0 0M687 959l0 0M697 922l0 0M650 886l0 0M814 862l0 0M796 880l0 0M781 909l0 0M809 959l0 0M831 917l0 0M877 1002l0 0M763 939l0 0M821 944l0 0M690 921l0 0M667 914l0 0M877 908l0 0M645 895l0 0M656 899l0 0M774 917l0 0M872 983l0 0M792 919l0 0M799 928l0 0M749 995l0 0M871 849l0 0M823 845l0 0M730 866l0 0M722 933l0 0M876 869l0 0M856 895l0 0M796 828l0 0M728 843l0 0M689 857l0 0M668 893l0 0M693 838l0 0M710 929l0 0M688 825l0 0M722 923l0 0M810 998l0 0M746 1003l0 0M668 939l0 0M792 947l0 0M848 1001l0 0M850 958l0 0M652 925l0 0M817 936l0 0M832 967l0 0M742 963l0 0M652 974l0 0M662 974l0 0M821 868l0 0M792 870l0 0M751 885l0 0M813 869l0 0M867 895l0 0M850 903l0 0M692 937l0 0M856 828l0 0M724 968l0 0M859 960l0 0M874 977l0 0M665 845l0 0M772 966l0 0M879 836l0 0M673 950l0 0M660 988l0 0M769 982l0 0M719 898l0 0M874 954l0 0M833 868l0 0M852 862l0 0M788 879l0 0M784 857l0 0M670 877l0 0M840 999l0 0M810 985l0 0M786 830l0 0M645 923l0 0M802 945l0 0M825 907l0 0M704 989l0 0M824 957l0 0M881 949l0 0M828 823l0 0M736 891l0 0M702 930l0 0M706 881l0 0M731 899l0 0M688 930l0 0M825 938l0 0M765 931l0 0M671 964l0 0M817 913l0 0M657 886l0 0M690 943l0 0M674 832l0 0M773 845l0 0M833 960l0 0M833 940l0 0M787 983l0 0M823 828l0 0M734 989l0 0M647 960l0 0M882 938l0 0M816 1002l0 0M699 852l0 0M718 962l0 0M667 980l0 0M789 961l0 0M878 982l0 0M643 986l0 0M771 938l0 0M803 967l0 0M802 988l0 0M864 969l0 0M882 824l0 0M675 867l0 0M845 824l0 0M852 887l0 0M823 1002l0 0M813 877l0 0M844 903l0 0M858 999l0 0M813 919l0 0M751 970l0 0M727 950l0 0M796 942l0 0M765 965l0 0M739 948l0 0M693 965l0 0M671 849l0 0M873 836l0 0M867 961l0 0M794 850l0 0M862 953l0 0M643 834l0 0M838 933l0 0M778 925l0 0M701 866l0 0M710 951l0 0M676 978l0 0M866 938l0 0M797 899l0 0M663 866l0 0M852 854l0 0M647 931l0 0M649 828l0 0M852 980l0 0M791 886l0 0M644 1000l0 0M742 913l0 0M868 1002l0 0M656 966l0 0M771 879l0 0M686 976l0 0M838 988l0 0M738 883l0 0M767 952l0 0M717 954l0 0M792 990l0 0M812 928l0 0M754 976l0 0M727 873l0 0M750 962l0 0M870 990l0 0M650 952l0 0M768 862l0 0M828 853l0 0M871 997l0 0M729 836l0 0M873 863l0 0M873 970l0 0M774 828l0 0M786 975l0 0M647 844l0 0M755 913l0 0M664 877l0 0M660 919l0 0M675 943l0 0M843 919l0 0M754 1002l0 0M674 910l0 0M863 984l0 0M766 825l0 0M784 901l0 0M786 969l0 0M696 971l0 0M770 888l0 0M816 825l0 0M751 928l0 0M769 840l0 0M858 835l0 0M719 889l0 0M802 857l0 0M828 860l0 0M763 893l0 0M680 988l0 0M876 875l0 0M734 953l0 0M739 969l0 0M737 826l0 0M732 1003l0 0M656 862l0 0M643 878l0 0M725 904l0 0M746 919l0 0M787 840l0 0M852 871l0 0M736 912l0 0M657 946l0 0M703 917l0 0M648 904l0 0M810 909l0 0M688 848l0 0M851 967l0 0M643 850l0 0M772 958l0 0M851 987l0 0M868 924l0 0M774 991l0 0M837 947l0 0" stroke="#5a26bc" stroke-width="2.8"/>
<path d="M831 905l0 0M752 843l0 0M663 909l0 0M743 1000l0 0M789 849l0 0M804 991l0 0M738 939l0 0M702 923l0 0M848 861l0 0M852 925l0 0M787 943l0 0M674 970l0 0M718 971l0 0M722 826l0 0M879 964l0 0M748 996l0 0M731 936l0 0M720 1002l0 0M706 877l0 0M761 889l0 0M803 974l0 0M687 985l0 0M756 900l0 0M836 825l0 0M719 881l0 0M753 904l0 0M697 875l0 0M653 903l0 0M858 908l0 0M782 984l0 0M680 861l0 0M819 885l0 0M815 962l0 0M787 915l0 0M674 936l0 0M861 984l0 0M691 952l0 0M669 906l0 0M720 924l0 0M693 963l0 0M835 853l0 0M662 883l0 0M767 825l0 0M719 863l0 0M744 991l0 0M731 866l0 0M683 951l0 0M688 927l0 0M756 975l0 0M748 890l0 0M815 908l0 0M733 824l0 0M827 960l0 0M780 889l0 0M763 995l0 0M806 913l0 0M775 955l0 0M714 979l0 0M680 878l0 0M784 904l0 0M762 861l0 0M645 918l0 0M719 846l0 0M797 897l0 0M819 960l0 0M829 990l0 0M786 957l0 0M848 997l0 0M863 906l0 0M863 835l0 0M881 880l0 0M746 866l0 0M771 876l0 0M658 976l0 0M767 978l0 0M783 860l0 0M734 947l0 0M666 877l0 0M751 976l0 0M762 940l0 0M746 954l0 0M747 857l0 0M690 945l0 0M650 839l0 0M695 884l0 0M841 899l0 0M679 869l0 0M802 899l0 0M646 852l0 0M793 968l0 0M828 859l0 0M759 1001l0 0M700 860l0 0M737 882l0 0M792 869l0 0M655 916l0 0M714 873l0 0M651 942l0 0M813 943l0 0M816 829l0 0M790 844l0 0M733 887l0 0M833 999l0 0M836 908l0 0M866 984l0 0M873 946l0 0M664 992l0 0M850 829l0 0M702 955l0 0M826 932l0 0M793 951l0 0M738 890l0 0M830 869l0 0M735 984l0 0M841 976l0 0M878 977l0 0M653 908l0 0M799 826l0 0M850 972l0 0M740 974l0 0M735 990l0 0M814 865l0 0M857 829l0 0M835 919l0 0M803 868l0 0M683 932l0 0M833 883l0 0M865 827l0 0M729 990l0 0M833 859l0 0M744 949l0 0M840 868l0 0M859 849l0 0M689 842l0 0M769 940l0 0M670 830l0 0M648 972l0 0M684 833l0 0M643 874l0 0M673 854l0 0M728 974l0 0M705 989l0 0M661 951l0 0M753 969l0 0M792 908l0 0M779 828l0 0M725 981l0 0M839 960l0 0M860 975l0 0M785 948l0 0M772 884l0 0M820 848l0 0M810 1000l0 0M831 963l0 0M776 864l0 0M812 992l0 0M876 827l0 0M743 844l0 0M652 970l0 0M752 929l0 0M761 980l0 0M809 900l0 0M698 974l0 0M828 887l0 0M866 939l0 0M868 951l0 0M694 840l0 0M727 846l0 0M864 850l0 0M807 919l0 0M709 987l0 0M644 957l0 0M719 983l0 0M866 869l0 0M795 926l0 0M679 927l0 0M666 962l0 0M792 853l0 0M836 982l0 0M820 918l0 0M710 830l0 0M871 836l0 0M797 978l0 0M824 832l0 0M872 909l0 0M813 883l0 0M662 916l0 0M876 916l0 0M655 877l0 0M696 992l0 0M663 847l0 0M821 929l0 0M731 853l0 0M660 928l0 0M724 842l0 0M798 865l0 0M825 866l0 0M775 995l0 0M776 970l0 0M680 947l0 0M755 961l0 0M846 907l0 0M781 852l0 0M655 887l0 0M839 875l0 0M850 981l0 0M694 914l0 0M762 932l0 0M826 873l0 0M689 885l0 0M854 855l0 0M779 981l0 0M810 877l0 0M824 949l0 0M750 884l0 0M873 941l0 0M752 871l0 0M686 1003l0 0M880 835l0 0M773 898l0 0M858 843l0 0M728 903l0 0M792 990l0 0M797 986l0 0M713 910l0 0M686 879l0 0M839 843l0 0M737 863l0 0M829 921l0 0M726 938l0 0M762 960l0 0M663 897l0 0M796 869l0 0M708 909l0 0M871 917l0 0M714 959l0 0M856 985l0 0M813 824l0 0M838 837l0 0M674 901l0 0M814 897l0 0M713 996l0 0M857 883l0 0M714 1000l0 0M721 991l0 0M854 894l0 0M820 950l0 0M851 869l0 0M681 959l0 0M792 1001l0 0M645 859l0 0M858 874l0 0M830 827l0 0M841 1003l0 0M806 885l0 0M728 959l0 0M748 904l0 0M713 834l0 0M706 960l0 0M865 895l0 0M737 868l0 0M685 856l0 0M660 934l0 0M861 971l0 0M721 928l0 0M652 868l0 0M875 955l0 0M805 983l0 0M782 942l0 0M845 970l0 0M678 1003l0 0M741 902l0 0M773 913l0 0M667 983l0 0M759 923l0 0M789 928l0 0M779 989l0 0M691 870l0 0M690 957l0 0M836 954l0 0M798 850l0 0M649 948l0 0M745 939l0 0M648 963l0 0M847 882l0 0M874 878l0 0M777 900l0 0M864 881l0 0M749 924l0 0M741 944l0 0M870 930l0 0M741 829l0 0M789 879l0 0M838 912l0 0M837 863l0 0M735 834l0 0M835 926l0 0M653 893l0 0M809 927l0 0M788 975l0 0M739 853l0 0M760 949l0 0M854 864l0 0M875 897l0 0M761 972l0 0M768 948l0 0M825 892l0 0M758 966l0 0M673 981l0 0M879 841l0 0M678 955l0 0M877 990l0 0M764 905l0 0M748 838l0 0M664 857l0 0M802 941l0 0M711 846l0 0M844 987l0 0M810 859l0 0M708 859l0 0M786 882l0 0M690 898l0 0M697 836l0 0M650 834l0 0M854 950l0 0M709 884l0 0M703 909l0 0M792 943l0 0M729 911l0 0M798 992l0 0M725 890l0 0M658 857l0 0M694 866l0 0M798 949l0 0M854 920l0 0M706 915l0 0M709 940l0 0M719 935l0 0M743 920l0 0M815 843l0 0M695 957l0 0M703 1002l0 0M723 970l0 0M767 924l0 0M768 961l0 0M771 935l0 0M695 832l0 0M843 880l0 0M808 830l0 0M840 920l0 0M780 866l0 0M733 998l0 0M785 920l0 0M706 980l0 0M668 942l0 0M720 916l0 0M852 905l0 0M722 871l0 0M689 892l0 0M671 884l0 0M880 951l0 0M671 958l0 0M700 828l0 0M781 994l0 0M727 869l0 0M652 855l0 0M757 853l0 0M795 958l0 0M793 913l0 0M698 964l0 0M786 889l0 0M860 888l0 0M818 986l0 0M844 840l0 0M683 985l0 0M702 896l0 0M790 892l0 0M806 964l0 0M739 912l0 0M869 964l0 0" stroke="#5a26bc" stroke-width="2.2"/>
<path d="M842 827l0 0M785 888l0 0M727 827l0 0M752 991l0 0M828 904l0 0M864 955l0 0M862 852l0 0M690 950l0 0M802 839l0 0M726 857l0 0M666 907l0 0M717 853l0 0M868 857l0 0M788 877l0 0M681 873l0 0M799 946l0 0M863 943l0 0M802 931l0 0M664 976l0 0M806 987l0 0M799 885l0 0M831 973l0 0M845 988l0 0M869 891l0 0M738 844l0 0M829 937l0 0M762 845l0 0M810 881l0 0M655 901l0 0M794 829l0 0M870 948l0 0M677 899l0 0M724 846l0 0M739 970l0 0M778 837l0 0M854 920l0 0M704 957l0 0M783 847l0 0M702 955l0 0M734 860l0 0M763 871l0 0M737 850l0 0M777 874l0 0M697 839l0 0M751 839l0 0M736 903l0 0M797 934l0 0M825 901l0 0M695 889l0 0M698 970l0 0M867 844l0 0M850 1001l0 0M743 871l0 0M693 912l0 0M716 926l0 0M741 993l0 0M877 951l0 0M800 834l0 0M707 995l0 0M848 972l0 0M755 979l0 0M652 860l0 0M658 881l0 0M686 970l0 0M800 894l0 0M700 846l0 0M829 990l0 0M660 976l0 0M695 965l0 0M771 892l0 0M670 846l0 0M822 941l0 0M741 944l0 0M868 867l0 0M759 826l0 0M816 995l0 0M807 905l0 0M660 958l0 0M791 908l0 0M816 956l0 0M874 909l0 0M765 866l0 0M745 915l0 0M682 902l0 0M726 990l0 0M680 851l0 0M753 965l0 0M878 881l0 0M668 881l0 0M876 986l0 0M741 919l0 0M823 903l0 0M835 840l0 0M711 848l0 0M756 890l0 0M799 953l0 0M856 900l0 0M799 854l0 0M877 889l0 0M821 862l0 0M781 954l0 0M848 903l0 0M792 972l0 0M647 989l0 0M691 897l0 0M777 941l0 0M811 911l0 0M788 995l0 0M836 957l0 0M709 962l0 0M750 976l0 0M691 887l0 0M733 985l0 0M837 838l0 0M750 877l0 0M859 987l0 0M867 879l0 0M857 953l0 0M872 913l0 0M868 962l0 0M720 993l0 0M791 871l0 0M676 940l0 0M795 923l0 0M782 912l0 0M830 867l0 0M777 852l0 0M702 995l0 0M666 932l0 0M800 863l0 0M863 949l0 0M784 979l0 0M866 999l0 0M669 838l0 0M831 851l0 0M774 937l0 0M784 938l0 0M731 857l0 0M799 942l0 0M793 870l0 0M765 977l0 0M757 830l0 0M857 879l0 0M748 850l0 0M712 914l0 0M711 829l0 0M757 978l0 0M706 945l0 0M878 909l0 0M863 839l0 0M704 929l0 0M726 920l0 0M766 855l0 0M700 885l0 0M671 844l0 0M861 947l0 0M729 954l0 0M667 904l0 0M703 917l0 0M859 911l0 0M780 838l0 0M857 877l0 0M819 874l0 0M701 988l0 0M729 919l0 0M873 968l0 0M707 843l0 0M684 833l0 0M686 923l0 0M718 891l0 0M691 876l0 0M731 941l0 0M813 880l0 0M724 860l0 0M843 907l0 0M805 993l0 0M748 947l0 0M703 882l0 0M680 998l0 0M736 878l0 0M748 872l0 0M836 958l0 0M648 991l0 0M827 948l0 0M748 931l0 0M678 963l0 0M654 858l0 0M859 893l0 0M830 928l0 0M821 849l0 0M843 936l0 0M762 869l0 0M871 851l0 0M876 845l0 0M863 851l0 0M775 951l0 0M651 915l0 0M656 865l0 0M658 847l0 0M746 975l0 0M826 870l0 0M878 909l0 0M808 989l0 0M869 923l0 0M659 918l0 0M847 828l0 0M667 973l0 0M760 872l0 0M653 981l0 0M832 961l0 0M862 936l0 0M702 900l0 0M770 862l0 0M789 952l0 0M672 832l0 0M792 838l0 0M665 925l0 0M827 938l0 0M672 960l0 0M757 870l0 0M791 838l0 0M677 870l0 0M667 909l0 0M660 835l0 0M655 998l0 0M748 855l0 0M746 853l0 0M872 995l0 0M847 943l0 0M789 895l0 0M837 876l0 0M812 903l0 0M831 876l0 0M701 974l0 0M753 992l0 0M741 899l0 0M728 868l0 0M658 879l0 0M737 941l0 0M873 848l0 0M681 841l0 0M775 971l0 0M695 881l0 0M794 827l0 0M831 910l0 0M757 847l0 0M672 894l0 0M693 984l0 0M823 878l0 0M737 910l0 0M872 986l0 0M838 929l0 0M860 861l0 0M783 837l0 0M755 977l0 0M834 951l0 0M716 861l0 0M838 850l0 0M877 862l0 0M730 888l0 0M773 900l0 0M661 908l0 0M802 953l0 0M716 896l0 0M854 928l0 0M847 990l0 0M647 888l0 0M736 928l0 0M857 840l0 0M779 951l0 0M814 894l0 0M731 937l0 0M654 837l0 0M840 995l0 0M727 850l0 0M679 926l0 0M756 882l0 0M704 891l0 0M721 912l0 0M683 852l0 0M738 944l0 0M682 915l0 0M684 982l0 0M771 879l0 0M759 946l0 0M756 854l0 0M872 975l0 0M843 829l0 0M707 964l0 0M878 883l0 0M809 956l0 0M752 875l0 0M709 994l0 0M660 972l0 0M756 886l0 0M701 860l0 0M719 956l0 0M720 845l0 0M874 870l0 0M848 969l0 0M779 964l0 0M715 862l0 0M853 866l0 0M725 992l0 0M858 888l0 0M794 873l0 0M741 861l0 0M735 919l0 0M651 899l0 0M687 881l0 0M836 919l0 0M772 992l0 0M795 853l0 0M767 922l0 0M768 963l0 0M779 838l0 0M816 925l0 0M795 897l0 0M677 904l0 0M701 967l0 0M766 859l0 0M876 926l0 0M786 854l0 0M847 939l0 0M738 944l0 0M683 834l0 0M655 948l0 0M829 919l0 0M673 917l0 0M748 980l0 0M803 868l0 0M655 869l0 0M701 980l0 0M667 851l0 0M747 997l0 0M850 938l0 0M871 996l0 0M693 988l0 0M813 848l0 0M868 883l0 0M813 960l0 0M743 861l0 0M691 868l0 0M680 879l0 0M773 980l0 0M826 859l0 0M842 988l0 0M821 928l0 0M690 969l0 0M855 849l0 0M859 972l0 0M862 946l0 0M814 925l0 0M783 912l0 0M738 970l0 0M779 877l0 0M833 889l0 0M687 829l0 0M719 904l0 0M723 950l0 0M773 946l0 0M868 950l0 0M844 866l0 0M837 846l0 0M795 896l0 0M678 954l0 0M828 826l0 0M770 974l0 0M854 885l0 0M679 913l0 0M757 852l0 0M839 976l0 0M750 839l0 0M753 882l0 0M745 836l0 0M822 918l0 0M711 870l0 0M736 954l0 0M868 870l0 0M670 993l0 0M653 886l0 0M650 924l0 0M700 833l0 0M857 938l0 0M787 902l0 0M756 843l0 0M680 931l0 0M748 973l0 0M721 855l0 0M849 967l0 0M849 970l0 0M866 911l0 0M832 827l0 0M704 944l0 0M821 872l0 0M841 893l0 0M800 992l0 0M856 996l0 0M666 905l0 0M728 849l0 0M668 912l0 0M754 971l0 0M673 859l0 0M659 987l0 0M863 975l0 0M858 922l0 0M866 1000l0 0M734 838l0 0M757 925l0 0M691 954l0 0M725 965l0 0M648 880l0 0M799 918l0 0M850 870l0 0M870 964l0 0M720 973l0 0M796 953l0 0M691 907l0 0M649 999l0 0M747 909l0 0M820 936l0 0M717 931l0 0M871 954l0 0M845 928l0 0M722 878l0 0M794 930l0 0M749 999l0 0M800 926l0 0M705 878l0 0M657 842l0 0M750 998l0 0M812 834l0 0M782 931l0 0M757 830l0 0M680 873l0 0M859 959l0 0M754 922l0 0M872 981l0 0M657 890l0 0M724 917l0 0M834 947l0 0M755 840l0 0M708 922l0 0M769 877l0 0M879 897l0 0M828 942l0 0M790 852l0 0M698 935l0 0M680 854l0 0M695 954l0 0" stroke="#201a2a" stroke-width="1.5" stroke-opacity="0.8"/>
</g>
<rect x="845.9" y="994.1" width="32" height="2.6" fill="#000"/><text x="861.9" y="992.4" text-anchor="middle" style="font-family:'DejaVu Sans',sans-serif;font-weight:700;font-size:7px" fill="#000">200μm</text>
<clipPath id="i2c"><rect x="897.1" y="826" width="233.9" height="174.6"/></clipPath>
<g clip-path="url(#i2c)" fill="none" stroke-linecap="round" stroke-linejoin="round"><rect x="897.1" y="826" width="233.9" height="174.6" fill="#e4dcf0"/>
<path id="i20" d="M1038 888l0 -3l3 2zM1029 833l-3 2l0 -3zM1026 886l2 5l-4 -1zM1035 902l1 -4l3 1zM1088 833l-3 -1l3 -2zM1102 982l0 3l-2 -3zM986 934l3 -1l0 3zM1031 987l4 3l-4 2zM1063 843l-1 -4l3 1zM908 893l-4 3l1 -5zM1126 844l1 -3l3 4zM893 907l3 0l-3 3zM998 899l2 -3l2 4zM1096 990l-2 1l0 -3zM1004 948l1 -4l3 3zM1029 935l2 2l-3 -1zM1071 925l-2 2l0 -2zM1078 962l4 0l-2 2zM1101 871l1 4l-4 -2zM1111 904l2 -2l2 4zM905 956l-3 -2l3 -2zM1097 974l-1 -4l3 0zM997 845l0 3l-3 -3zM943 961l2 -3l1 4zM1060 823l1 3l-3 -1zM1048 896l3 -5l0 7zM1108 961l-1 2l-2 -1zM1037 936l3 2l-2 1zM1045 876l3 0l-1 3zM1028 957l3 -2l-1 5zM1044 972l4 -2l0 4zM920 871l0 -4l4 1zM1034 842l2 3l-4 -1zM1061 856l2 -3l2 2zM899 824l-1 4l-2 -2zM1124 1002l0 3l-3 -1zM959 876l2 0l0 2zM972 927l3 -2l-1 3zM1127 962l4 -2l1 4zM986 910l3 -2l0 3zM976 918l-3 1l0 -4zM969 829l1 -3l4 1zM976 855l-3 3l0 -4zM1009 927l1 2l-2 -1zM1014 901l2 3l-3 0zM1095 943l2 -2l1 4zM1062 909l1 -3l2 3zM995 896l-2 -2l3 0zM892 973l1 -4l4 2zM1130 861l-3 -1l2 -3zM1045 838l3 3l-3 1zM1087 958l3 0l-2 5zM922 844l0 -2l2 3zM1100 939l3 -4l1 4zM1121 986l-3 1l0 -4zM1036 977l2 3l-3 1zM920 902l-4 1l0 -5zM1112 978l5 -2l0 4zM1090 894l3 1l-3 2zM1048 937l4 -1l0 3zM935 864l-2 3l-4 -1zM921 994l-2 -3l4 0zM998 921l3 1l-3 2zM916 886l-3 1l1 -3zM1079 972l3 0l-2 2zM1132 996l-1 3l-1 -3zM1118 898l-5 0l2 -3zM993 872l4 2l-2 3zM962 865l-1 -1l3 -2zM950 921l3 4l-6 -1zM942 988l2 4l-5 0zM924 915l-5 1l2 -4zM1038 953l4 -2l-1 4zM1094 838l3 4l-4 1zM1087 995l-1 3l-2 -2zM1108 863l2 -3l2 3zM1080 833l-5 0l4 -3zM1067 862l1 -3l3 2zM1087 867l2 -4l1 4zM1130 829l0 5l-3 -3zM1110 990l0 4l-4 -3zM1046 869l-2 1l-1 -2zM1000 883l2 0l-2 2zM909 952l1 -3l1 2zM1062 1006l-3 -4l3 -1zM904 865l4 1l-2 3zM961 912l4 2l-2 2zM1120 927l-1 -5l4 2zM920 925l4 0l-3 5zM930 970l1 -4l3 1zM1124 968l-1 -2l3 0zM1121 873l0 -4l3 0zM921 957l-1 2l-2 -1zM1075 844l5 0l-1 4zM969 945l0 4l-2 -3zM1010 892l3 -1l-2 2zM1058 942l1 -3l2 3zM1020 928l-3 3l-1 -3zM971 863l4 3l-5 1zM1066 950l-2 4l-1 -3zM942 977l4 -3l1 4zM948 893l-3 -1l1 -3zM1128 937l3 0l0 3zM930 885l0 2l-2 -1zM1007 823l-1 4l-2 -4zM936 921l-5 -1l3 -2zM949 934l-2 2l-1 -3zM918 966l-4 2l1 -4zM968 881l3 4l-3 0zM1101 842l1 -3l2 2zM1105 1004l-4 -1l4 -2zM942 1003l3 -1l-1 4zM1008 969l-3 1l0 -3zM982 934l0 2l-4 0zM1072 978l2 4l-3 1zM1052 847l-4 1l2 -3zM1050 927l2 0l-2 3zM893 920l2 -4l1 3zM1034 824l3 -2l2 3zM1070 911l1 5l-5 -2zM1103 919l4 0l-3 4zM958 957l-1 -2l2 0zM978 886l0 -2l4 0zM1092 1004l-1 -2l2 0zM1028 993l-2 2l0 -3zM1091 915l2 -3l3 3zM1045 949l-3 -1l4 -2zM1117 917l3 -2l0 4zM1135 885l-4 1l3 -3zM895 961l4 -1l-1 4zM1037 969l-4 0l0 -3zM915 934l2 -3l2 4zM1060 898l2 -2l1 2zM1020 832l0 -3l3 3zM936 976l1 2l-3 0zM1094 882l5 -1l0 4zM1092 974l-2 5l-1 -4zM1113 927l3 3l-3 0zM1050 858l-3 3l-1 -4zM1065 962l-2 6l-3 -3zM1092 862l0 -5l3 1zM1006 838l-3 -1l1 -2zM1119 861l1 -5l4 3zM1034 885l-1 -3l3 -1zM1113 911l-2 2l-2 -2zM1066 972l0 -4l4 2zM1095 906l-3 2l-1 -3zM1047 834l2 -4l3 2zM950 902l3 1l-1 3zM972 897l4 -4l0 5zM1106 888l4 0l-1 3zM906 852l2 1l-2 1zM928 901l-1 3l-2 -1zM1102 857l-3 3l-3 -1zM894 861l3 -1l0 3zM1061 928l0 -3l2 0zM1090 926l1 -5l3 1zM1081 894l-3 -3l3 -1zM1104 850l3 0l-1 2zM1068 886l0 -3l2 0zM1017 868l-4 -1l4 -4zM936 960l-2 -2l3 -1zM898 944l-3 -4l5 0zM1002 952l0 6l-4 -4zM949 860l-3 -5l5 1zM1027 853l4 -2l-1 4zM968 844l4 0l-2 3zM1066 871l0 4l-3 -2zM1051 906l-2 2l-2 -2zM933 879l2 -4l2 5zM1037 998l-2 3l0 -4zM924 974l2 2l-2 1zM941 913l3 -3l2 4zM1078 935l-3 -2l2 -2zM1134 878l-2 -2l2 -1zM1064 832l1 -4l2 3zM941 844l-3 1l2 -4zM955 822l2 3l-3 1zM1016 955l1 -3l1 4zM994 855l3 1l-3 1zM995 832l3 -1l-1 4zM1005 876l2 2l-2 1zM969 953l4 2l-3 1zM954 985l-3 -2l3 0zM894 832l2 1l-1 2zM1073 893l-1 3l-2 -3zM927 876l2 -2l1 2zM1122 950l-3 3l-2 -2zM1109 883l-2 -5l6 3zM1116 943l-5 1l4 -4zM1113 969l3 -2l1 3zM907 837l0 2l-2 -1zM905 909l-1 -3l2 0zM1067 934l-2 4l-2 -6zM909 821l-1 4l-3 -2zM955 869l-4 0l3 -2zM937 835l3 -1l0 4zM968 874l0 2l-3 0zM967 906l0 -4l3 1zM925 942l-2 -1l3 -1zM1106 824l-3 1l1 -3zM1045 982l2 2l-5 1zM1117 882l2 -4l2 5zM1126 853l0 -3l2 1zM964 925l-1 4l-3 -4zM1021 979l4 1l-3 5zM1056 918l4 2l-4 3zM1130 908l-5 -2l4 -3zM1087 909l1 4l-5 -2zM1130 922l2 0l-1 3zM1010 939l0 -3l2 1zM946 972l0 -4l4 3zM1006 905l2 -1l0 2zM984 928l-3 -1l1 -4zM1095 951l3 -2l-1 3zM1077 941l0 -3l3 4zM1033 835l2 0l-2 3zM1006 962l-2 -1l2 -2zM936 904l4 4l-3 0zM1027 951l-1 3l-2 -3zM984 890l-3 2l0 -5zM1086 928l4 2l-3 2zM1051 977l2 -2l1 3zM1040 922l3 2l-2 2zM1077 984l-1 5l-3 -2zM987 875l1 5l-4 0zM1125 981l3 -2l0 4zM904 932l0 -2l2 0zM1009 837l3 3l-3 3zM956 921l-2 -2l3 -1zM1052 968l-3 -4l3 0zM928 964l-2 0l1 -2zM967 1002l-2 0l1 -3zM1024 836l-1 3l-3 -2zM947 880l4 1l-1 3zM1131 890l-4 1l2 -3zM1023 910l-3 -1l2 -3zM916 996l2 4l-3 1zM1105 832l0 -4l2 2zM927 915l-3 -4l4 -1zM1115 960l-1 -4l4 2zM982 842l-3 0l2 -3zM1062 979l-4 -2l4 -2zM1035 889l-1 3l-2 -3zM1123 942l4 1l-4 4zM939 972l0 -4l4 1zM984 834l3 -4l2 5zM1130 949l4 1l-2 2zM1048 1002l-3 4l-1 -4zM1113 998l-2 -2l4 0zM984 903l-3 0l2 -3zM917 878l-2 -2l3 -1zM1122 992l2 -4l1 4zM1099 910l2 2l-2 0zM927 893l-1 5l-3 -2zM977 999l0 4l-4 -3zM1078 955l-1 4l-2 -3zM1041 917l-5 -1l5 -3zM1075 902l-3 1l1 -2zM1019 869l2 3l-3 1zM1118 841l5 1l-3 2zM1044 894l-2 -2l3 0zM1049 887l2 0l-2 3zM1084 984l5 0l-1 3zM1050 989l-1 -4l4 2zM1096 966l-2 -6l4 2zM955 939l3 1l-2 3zM943 943l4 1l-1 2zM1113 887l0 -5l4 4zM953 960l-2 0l1 -3zM1103 971l3 -4l2 5zM930 825l3 1l-3 1zM945 921l-4 2l0 -6zM1119 831l-5 -3l4 -1zM1118 890l2 2l-3 1zM1033 897l-5 2l1 -5zM1057 957l-2 -3l5 -1zM1058 870l-2 -4l5 -1zM1104 945l3 4l-3 1zM953 909l2 -3l0 4zM895 927l0 -4l5 1zM1010 957l3 1l-3 2zM914 943l-3 2l-2 -3zM1098 926l3 2l-3 1zM1116 851l2 -3l2 6zM923 836l0 -4l4 4zM941 868l5 -1l-2 3zM1000 839l-1 2l-2 -1zM982 946l2 1l-2 1zM1080 926l2 -2l0 2zM973 985l4 2l-3 2zM976 942l-3 -5l4 -2zM950 998l1 4l-4 -3zM1035 948l1 -5l2 3zM1024 875l0 -4l2 3zM1079 913l-3 -4l5 -2zM1015 826l-3 0l1 -4zM1085 954l-1 -2l3 0zM1051 875l4 -4l0 6zM1003 893l1 -3l2 2zM957 990l-1 3l-2 -3zM1136 983l-3 3l-2 -3zM1090 966l0 4l-2 -3zM1032 923l-1 -5l3 1zM907 941l-4 -3l5 -1zM1092 826l-4 3l0 -4zM940 999l-4 0l2 -3zM1126 901l-3 -2l5 -1zM1013 854l-2 -4l4 1zM957 986l4 -4l0 4zM938 882l3 2l-1 3zM1081 823l5 0l-1 3zM1027 967l-2 2l0 -3zM1033 867l-4 -1l2 -2zM1015 880l-2 -2l2 -1zM1038 933l1 -4l4 1zM957 894l0 3l-2 -1zM1109 976l-5 3l-1 -4zM1003 931l1 3l-3 1zM952 930l4 1l-3 2zM1033 906l-2 5l-1 -4zM1002 913l3 -3l-1 4zM1125 916l2 4l-4 -1zM929 942l3 2l-3 1zM990 871l-4 2l1 -3zM1049 915l3 3l-4 0zM907 926l-2 -2l3 0zM1087 869l2 4l-3 -1zM1024 900l-2 -3l4 1zM985 910l-3 1l-1 -3zM920 848l-1 2l-2 -3zM937 945l0 4l-4 -1zM1122 931l1 4l-4 -1zM930 997l3 -3l0 2zM1110 848l0 -5l3 1zM1075 944l-2 2l-2 -4zM949 832l-2 1l1 -3zM917 909l-2 -3l4 1zM1033 931l-2 -2l3 -1zM1115 874l-2 0l1 -3zM1069 838l3 4l-4 0zM1093 849l2 2l-3 1zM909 905l2 -2l0 4zM936 986l-2 1l0 -3zM1062 914l2 2l-2 2zM979 874l1 -5l2 4zM987 960l1 -4l2 2zM935 892l3 -3l1 3zM946 874l-2 4l-3 -2zM1082 919l-3 0l1 -3zM967 891l4 1l-3 3zM1093 878l-2 2l0 -2zM896 890l-3 -2l3 -1zM998 942l-2 2l-2 -2zM1026 864l-4 3l1 -4zM899 951l-3 -1l2 -1zM1069 825l4 -2l0 5zM982 825l3 1l-2 4zM1080 882l-1 -4l5 1zM924 862l-2 -1l2 -2zM1077 874l-3 -2l4 -2zM1132 823l-2 3l-1 -4zM939 942l0 -3l4 1zM1026 943l-4 0l1 -2zM1100 991l3 2l-3 0zM932 900l1 -4l3 3zM1080 862l0 5l-3 -3zM1119 833l5 0l-3 3zM989 883l0 3l-3 -2zM898 877l2 -2l-1 4zM1131 971l3 0l-2 2zM1068 852l4 -1l-1 2zM1015 908l0 3l-4 -1zM955 855l-1 -3l4 0zM923 827l-2 -3l3 -2zM1013 968l-3 -1l2 -3zM1016 919l-4 1l1 -5zM1041 992l-2 0l1 -3zM1073 964l0 3l-2 -3zM1072 953l-2 -1l2 -2zM1006 873l2 -4l2 5zM1121 972l1 4l-3 0zM989 862l-3 4l-1 -5zM966 930l3 2l-2 2zM1071 994l5 -1l0 4zM1046 898l4 2l-4 2zM1082 902l3 2l-3 1zM925 948l1 4l-4 -2zM943 825l0 3l-2 -2zM954 844l4 1l-3 2zM1109 869l0 3l-3 -3zM1023 917l2 -4l4 3zM929 842l3 4l-4 1zM930 1001l-1 3l-2 -4zM992 928l4 -2l-1 4zM928 851l2 1l-2 3zM958 886l3 0l-2 2zM1047 959l-2 1l1 -3zM1034 874l-2 -3l3 0zM1090 845l-6 0l4 -4zM1092 939l-4 0l2 -2zM1061 861l-4 1l0 -3zM975 909l-3 1l0 -3zM905 916l-1 5l-3 -4zM942 951l3 -2l0 4zM1132 911l3 -1l-1 4zM948 990l3 3l-6 -1zM942 899l3 0l-2 4zM964 996l-2 -2l2 -1zM962 900l1 -4l3 2zM1085 943l-2 3l-2 -3zM1039 860l3 -3l0 4zM1015 944l-1 3l-3 -2zM920 984l2 -2l2 1zM1110 839l-1 -2l3 1zM985 918l2 -2l1 4zM962 974l1 -2l2 3zM1031 1001l-2 4l-2 -2zM1029 980l5 2l-5 1zM1104 903l-2 6l-3 -3z"/>
<path id="i21" d="M1086 862l-2 -2l2 -2zM1068 885l-2 2l0 -3zM916 956l0 3l-2 -2zM1052 853l-2 0l2 -2zM1120 882l4 1l-2 2zM1036 914l-2 0l1 -2zM1034 973l1 4l-2 0zM1088 871l-3 -1l1 -3zM1116 966l2 1l-3 0zM1129 875l-2 -2l4 0zM1053 962l-3 -2l3 -2zM1035 937l0 -2l3 1zM957 887l-2 3l-1 -4zM1091 855l-2 0l2 -2zM1077 847l-1 -3l4 0zM1114 980l3 4l-4 -1zM926 843l-4 -2l3 -1zM1060 840l-2 2l0 -4zM1068 919l-3 -1l3 -2zM1105 980l2 -1l0 3zM1044 882l2 -1l1 3zM999 956l-2 2l-1 -3zM919 911l0 3l-3 -2zM1061 973l-3 -3l5 1zM898 935l-3 -2l4 0zM1038 950l2 -3l2 3zM1135 932l-2 3l-1 -3zM1015 921l0 -3l3 2zM953 930l0 3l-3 -2zM990 893l1 -3l1 1zM965 889l-4 -1l2 -2zM1117 873l0 -2l1 2zM967 882l-3 -1l3 -3zM989 915l2 -3l1 4zM943 935l0 3l-3 -1zM1060 978l1 3l-4 -1zM922 836l0 2l-2 -2zM953 852l1 -3l0 4zM945 845l-2 -2l3 -1zM1124 986l-1 -2l2 0zM1118 902l0 -2l3 2zM1024 928l-1 4l-2 -2zM1122 988l1 3l-3 -1zM1047 967l0 -3l3 1zM1022 982l-1 2l-1 -2zM1067 943l1 2l-3 -1zM974 870l1 1l-1 1zM1057 833l3 -2l0 2zM1128 975l-2 -2l3 -1zM946 946l4 -2l-1 3zM1125 948l2 -2l1 2zM1075 857l-3 0l1 -2zM944 967l-2 3l-1 -4zM1088 830l-2 1l0 -2zM1087 840l-1 3l-3 -2zM1043 976l-4 3l-1 -4zM1130 887l-4 0l3 -3zM1114 1000l-2 -1l2 -2zM1103 912l-1 3l-2 -2zM1044 898l-3 -1l1 -4zM974 825l-2 0l2 -2zM1023 889l0 -3l3 2zM1054 896l2 3l-3 -1zM1002 831l-2 -2l2 -1zM906 937l3 0l-2 3zM947 852l-3 2l0 -3zM1102 832l0 -5l3 3zM964 913l2 -2l0 2zM956 877l2 3l-3 1zM1105 904l1 2l-2 0zM1008 941l-1 -2l3 -1zM900 958l1 3l-3 -1zM936 860l2 -1l0 3zM1076 828l-3 -1l3 -1zM1055 991l4 -1l-1 3zM939 1003l0 -3l1 2zM1077 902l0 3l-3 -2zM1083 927l0 2l-2 -1zM1041 865l2 -3l1 1zM1107 912l2 -3l1 4zM1128 867l-2 -2l2 -1zM976 901l0 -2l2 2zM1061 844l2 2l-4 0zM1088 943l1 -2l2 2zM900 969l2 0l-1 2zM1048 952l4 -1l-2 3zM948 995l-2 -1l3 -2zM929 957l-1 -2l2 -1zM973 992l1 -1l1 3zM952 830l-1 2l-1 -1zM1070 846l4 -2l-1 3zM1126 859l-3 -1l2 -2zM1008 905l2 -2l2 3zM1065 926l-2 -3l4 -1zM969 1002l2 -2l-1 3zM1106 890l2 -2l0 4zM1014 890l-1 -3l4 0zM894 898l0 -3l2 0zM929 939l4 -1l-1 3zM1070 993l5 -1l-2 3zM1080 979l0 -4l4 3zM953 952l-2 -1l2 -1zM1120 828l3 2l-3 1zM1103 848l2 2l-4 1zM1095 929l2 -1l0 4zM996 825l1 2l-3 -1zM1081 968l-1 -4l3 2zM1051 970l-1 2l-1 0zM1098 982l2 1l-3 1zM1129 839l0 2l-2 -2zM981 927l-1 -3l4 1zM1088 838l3 -3l1 2zM899 859l3 -1l-1 3zM1118 954l2 4l-4 -1zM1093 970l-3 2l1 -3zM995 966l-3 1l0 -3zM1126 1002l0 2l-3 1zM1020 938l0 4l-3 -2zM958 961l-2 1l0 -3zM1087 921l3 -1l0 4zM1030 984l0 -3l3 2zM1029 847l-3 1l1 -2zM1078 967l-1 2l-1 -2zM1020 974l-1 1l0 -3zM1103 944l-1 -2l3 1zM1032 959l-1 2l-2 -3zM928 909l3 0l-2 3zM1082 835l-3 -2l3 -1zM1034 848l-2 0l2 -2zM1038 892l-1 4l-2 -2zM1126 890l2 2l-2 2zM1050 1000l-2 -2l2 -1zM988 932l-2 2l0 -4zM966 901l2 0l-1 2zM945 1004l2 -2l1 3zM959 919l0 -1l2 0zM1120 979l2 -1l0 3zM1132 931l-3 -1l2 -2zM1128 831l3 -1l-1 3zM953 978l-3 2l0 -4zM1069 867l2 0l-1 2zM1130 980l-1 3l-2 -3zM1009 880l2 1l-2 2zM1113 824l2 2l-3 1zM1096 947l-2 0l1 -2zM1049 828l-2 -2l4 0zM1093 948l0 4l-2 -2zM1012 955l0 2l-2 -1zM919 959l1 2l-2 0zM1111 854l-2 2l-1 -2zM1035 932l-2 -1l2 0zM1098 962l-2 0l3 -1zM1058 937l-1 -5l5 1zM1059 825l1 2l-2 0zM1044 826l-3 0l1 -3zM1070 836l-1 3l-1 -3zM919 846l0 2l-3 -2zM1077 840l-1 -4l4 1zM1086 983l-2 2l-1 -3zM1007 955l-1 3l-3 -3zM942 859l2 2l-2 0zM903 844l3 2l-3 2zM1091 878l-2 1l-1 -3zM1011 967l2 -1l-1 2zM1004 877l1 1l-2 0zM1099 1002l-3 1l1 -4zM1123 961l-1 -2l2 0zM1020 898l0 -2l2 2zM919 888l2 -1l0 2zM912 942l3 0l-1 2zM1075 941l1 1l-2 1zM1098 862l-2 -1l1 -2zM934 956l2 -1l0 3zM928 884l-2 0l1 -2zM906 837l-1 -2l2 0zM917 894l1 -3l2 3zM1000 910l3 -1l0 3zM1043 989l1 -3l3 3zM1063 999l-1 5l-2 -3zM1036 998l-2 -2l3 1zM1051 934l-2 1l-1 -2zM969 891l-2 -1l1 -1zM929 844l1 2l-2 1zM942 879l1 1l-2 0zM912 839l1 -4l3 2zM1051 913l-2 -3l3 0zM1111 869l-3 0l3 -2zM1080 854l3 1l-1 2zM949 914l2 3l-4 -1zM1118 869l-3 -2l3 -1zM1114 947l3 0l-2 3zM935 897l3 -1l1 2zM1126 905l2 4l-3 0zM906 946l2 3l-2 0zM932 898l-2 2l-1 -1zM1068 930l1 3l-3 -1zM1068 985l4 1l-2 1zM1000 931l1 2l-3 0zM1094 910l3 -1l-2 3zM1068 873l1 -2l2 2zM1062 957l3 0l-2 2zM934 1000l-3 2l0 -3zM972 931l-1 2l-2 -2zM1100 925l3 0l-2 2zM922 861l0 4l-2 -2zM979 884l-2 2l-1 -2zM1065 964l-2 0l0 -2zM984 937l3 1l-2 1zM1131 894l0 -3l3 2zM1133 825l1 0l-1 2zM1020 954l3 1l-2 3zM947 895l-1 4l-1 -3zM1115 851l3 -1l-1 2zM954 874l1 -2l3 2zM1000 893l2 -1l0 2zM973 890l0 -2l2 1zM1065 981l2 2l-2 0zM909 914l2 3l-3 0zM985 866l-1 3l-3 -2zM1099 954l-1 -2l2 0zM1023 912l-1 1l-1 -2zM1005 916l-3 2l0 -3zM946 904l-3 -1l2 -2zM976 922l3 1l-2 3zM997 867l2 2l-5 0zM1097 845l-2 3l-2 -2zM1016 883l-1 -3l2 -1zM1108 918l0 -3l1 1zM927 979l1 -2l1 2zM1106 933l2 -1l-1 3z"/>
<use href="#i20" stroke="#ac88e6" stroke-width="6.2" stroke-opacity="0.7" fill="#ac88e6" fill-opacity="0.7"/>
<use href="#i21" stroke="#ac88e6" stroke-width="5.2" stroke-opacity="0.7" fill="#ac88e6" fill-opacity="0.7"/>
<use href="#i20" stroke="#7e46d8" stroke-width="3.2" fill="#7e46d8"/>
<use href="#i21" stroke="#7040d0" stroke-width="2.8" fill="#7040d0"/>
<path d="M1040 887l0 0M1028 833l0 0M1027 888l0 0M1036 899l0 0M1087 832l0 0M1101 983l0 0M988 934l0 0M1033 989l0 0M1063 841l0 0M905 894l0 0M1128 844l0 0M895 909l0 0M1000 898l0 0M1094 990l0 0M1005 946l0 0M1030 937l0 0M1070 925l0 0M1080 962l0 0M1101 873l0 0M1113 904l0 0M904 954l0 0M1097 971l0 0M996 846l0 0M945 960l0 0M1060 825l0 0M1050 895l0 0M1107 962l0 0M1037 937l0 0M1047 877l0 0M1030 957l0 0M1047 972l0 0M921 869l0 0M1033 844l0 0M1063 854l0 0M898 825l0 0M1123 1003l0 0M960 877l0 0M973 927l0 0M1129 962l0 0M989 911l0 0M974 917l0 0M970 827l0 0M975 855l0 0M1009 928l0 0M1014 903l0 0M1097 944l0 0M1064 908l0 0M995 895l0 0M894 971l0 0M1128 859l0 0M1046 840l0 0M1088 960l0 0M924 843l0 0M1103 937l0 0M1119 985l0 0M1037 979l0 0M918 901l0 0M1115 979l0 0M1091 895l0 0M1050 937l0 0M932 865l0 0M921 992l0 0M999 922l0 0M914 886l0 0M1080 973l0 0M1131 997l0 0M1116 897l0 0M995 874l0 0M962 864l0 0M951 924l0 0M942 991l0 0M921 915l0 0M1040 953l0 0M1094 840l0 0M1086 996l0 0M1110 862l0 0M1078 832l0 0M1068 860l0 0M1089 865l0 0M1130 831l0 0M1108 992l0 0M1043 869l0 0M1000 884l0 0M910 950l0 0M1062 1003l0 0M906 866l0 0M964 914l0 0M1121 924l0 0M922 927l0 0M931 968l0 0M1124 966l0 0M1122 870l0 0M920 958l0 0M1078 845l0 0M968 947l0 0M1012 892l0 0M1059 940l0 0M1018 928l0 0M973 865l0 0M1064 952l0 0M946 978l0 0M946 892l0 0M1130 938l0 0M929 886l0 0M1006 824l0 0M934 920l0 0M947 934l0 0M916 966l0 0M969 884l0 0M1102 841l0 0M1104 1003l0 0M943 1003l0 0M1006 969l0 0M981 935l0 0M1072 981l0 0M1050 847l0 0M1051 928l0 0M895 919l0 0M1036 824l0 0M1070 913l0 0M1104 919l0 0M959 955l0 0M978 885l0 0M1093 1002l0 0M1026 993l0 0M1094 915l0 0M1044 948l0 0M1119 916l0 0M1132 884l0 0M897 961l0 0M1034 968l0 0M917 934l0 0M1062 897l0 0M1022 831l0 0M935 978l0 0M1097 883l0 0M1090 975l0 0M1114 930l0 0M1048 858l0 0M1063 964l0 0M1093 859l0 0M1005 836l0 0M1121 858l0 0M1034 883l0 0M1111 912l0 0M1066 970l0 0M1093 906l0 0M1049 832l0 0M951 903l0 0M975 896l0 0M1108 889l0 0M907 853l0 0M927 903l0 0M1100 859l0 0M895 862l0 0M1061 927l0 0M1092 924l0 0M1080 892l0 0M1105 850l0 0M1069 885l0 0M1015 864l0 0M935 958l0 0M898 941l0 0M1000 955l0 0M949 857l0 0M1029 853l0 0M969 845l0 0M1065 872l0 0M1049 907l0 0M935 878l0 0M1036 998l0 0M925 976l0 0M944 913l0 0M1077 933l0 0M1134 877l0 0M1066 830l0 0M940 844l0 0M956 825l0 0M1017 954l0 0M995 856l0 0M996 832l0 0M1006 877l0 0M971 955l0 0M953 983l0 0M895 833l0 0M1071 894l0 0M928 876l0 0M1120 952l0 0M1110 880l0 0M1114 942l0 0M1115 969l0 0M906 839l0 0M905 907l0 0M1065 935l0 0M908 823l0 0M953 868l0 0M939 837l0 0M967 875l0 0M968 903l0 0M924 940l0 0M1104 823l0 0M1045 984l0 0M1120 881l0 0M1127 852l0 0M962 927l0 0M1022 982l0 0M1056 920l0 0M1128 906l0 0M1086 911l0 0M1131 922l0 0M1010 937l0 0M948 971l0 0M1007 904l0 0M983 925l0 0M1097 951l0 0M1078 940l0 0M1034 836l0 0M1005 961l0 0M938 906l0 0M1025 952l0 0M982 890l0 0M1087 931l0 0M1052 976l0 0M1041 924l0 0M1076 986l0 0M986 878l0 0M1127 981l0 0M905 931l0 0M1010 840l0 0M956 919l0 0M1052 966l0 0M927 963l0 0M966 1000l0 0M1023 838l0 0M949 882l0 0M1129 890l0 0M1022 908l0 0M917 998l0 0M1106 830l0 0M927 912l0 0M1115 958l0 0M981 841l0 0M1061 977l0 0M1033 890l0 0M1125 944l0 0M941 971l0 0M986 833l0 0M1132 951l0 0M1045 1004l0 0M1113 997l0 0M982 902l0 0M916 876l0 0M1124 991l0 0M1100 912l0 0M926 895l0 0M976 1000l0 0M1076 957l0 0M1039 915l0 0M1073 902l0 0M1019 872l0 0M1121 842l0 0M1044 892l0 0M1051 887l0 0M1087 984l0 0M1050 987l0 0M1096 963l0 0M956 940l0 0M945 944l0 0M1114 885l0 0M952 959l0 0M1105 969l0 0M931 826l0 0M942 920l0 0M1117 828l0 0M1119 891l0 0M1030 896l0 0M1057 955l0 0M1058 867l0 0M1105 948l0 0M955 909l0 0M897 925l0 0M1011 958l0 0M911 943l0 0M1099 928l0 0M1118 851l0 0M924 834l0 0M944 868l0 0M998 840l0 0M983 947l0 0M1082 926l0 0M974 987l0 0M975 939l0 0M950 1000l0 0M1036 946l0 0M1025 874l0 0M1079 910l0 0M1013 825l0 0M1085 953l0 0M1053 874l0 0M1004 892l0 0M956 991l0 0M1133 984l0 0M1089 968l0 0M1032 920l0 0M906 938l0 0M1090 827l0 0M939 998l0 0M1125 899l0 0M1012 851l0 0M959 984l0 0M940 885l0 0M1084 824l0 0M1025 967l0 0M1031 865l0 0M1014 879l0 0M1040 931l0 0M957 896l0 0M1106 977l0 0M1003 932l0 0M954 932l0 0M1031 908l0 0M1004 912l0 0M1125 919l0 0M930 943l0 0M988 871l0 0M1050 916l0 0M907 924l0 0M1087 871l0 0M1024 898l0 0M983 910l0 0M919 849l0 0M936 948l0 0M1121 934l0 0M932 996l0 0M1111 845l0 0M1072 944l0 0M948 832l0 0M918 908l0 0M1033 929l0 0M1114 873l0 0M1070 841l0 0M1093 850l0 0M911 904l0 0M935 985l0 0M1062 916l0 0M981 872l0 0M988 958l0 0M937 891l0 0M943 876l0 0M1081 918l0 0M968 893l0 0M1092 878l0 0M895 888l0 0M995 943l0 0M1025 864l0 0M897 950l0 0M1071 825l0 0M983 827l0 0M1082 879l0 0M923 860l0 0M1075 872l0 0M1130 824l0 0M940 940l0 0M1024 942l0 0M1101 992l0 0M934 898l0 0M1079 865l0 0M1123 834l0 0M988 884l0 0M899 877l0 0M1132 972l0 0M1070 852l0 0M1014 910l0 0M955 853l0 0M923 825l0 0M1012 966l0 0M1015 918l0 0M1040 991l0 0M1072 964l0 0M1072 952l0 0M1008 871l0 0M1120 975l0 0M986 864l0 0M967 932l0 0M1074 996l0 0M1047 901l0 0M1084 904l0 0M923 950l0 0M943 827l0 0M956 846l0 0M1108 870l0 0M1025 915l0 0M930 845l0 0M929 1002l0 0M993 929l0 0M929 853l0 0M959 887l0 0M1046 958l0 0M1033 872l0 0M1087 845l0 0M1090 938l0 0M1059 860l0 0M973 909l0 0M903 917l0 0M944 951l0 0M1133 911l0 0M948 993l0 0M943 900l0 0M964 994l0 0M963 898l0 0M1084 944l0 0M1040 859l0 0M1014 946l0 0M922 983l0 0M1111 837l0 0M987 919l0 0M964 974l0 0M1030 1003l0 0M1031 981l0 0M1102 905l0 0" stroke="#5a26bc" stroke-width="2.8"/>
<path d="M1085 860l0 0M1067 885l0 0M914 958l0 0M1051 853l0 0M1122 882l0 0M1035 914l0 0M1034 975l0 0M1087 869l0 0M1115 967l0 0M1129 873l0 0M1053 961l0 0M1036 936l0 0M955 888l0 0M1090 854l0 0M1078 845l0 0M1114 982l0 0M925 842l0 0M1059 840l0 0M1067 918l0 0M1107 980l0 0M1045 882l0 0M998 956l0 0M918 912l0 0M1060 971l0 0M897 934l0 0M1040 949l0 0M1134 934l0 0M1016 919l0 0M952 932l0 0M991 891l0 0M963 888l0 0M1117 872l0 0M966 880l0 0M991 914l0 0M941 937l0 0M1059 980l0 0M921 836l0 0M954 852l0 0M944 844l0 0M1124 984l0 0M1119 901l0 0M1022 929l0 0M1122 989l0 0M1048 965l0 0M1022 983l0 0M1067 945l0 0M975 871l0 0M1060 833l0 0M1128 973l0 0M949 946l0 0M1127 948l0 0M1073 857l0 0M942 968l0 0M1087 831l0 0M1086 841l0 0M1040 977l0 0M1127 887l0 0M1113 998l0 0M1102 914l0 0M1042 897l0 0M973 824l0 0M1024 888l0 0M1054 898l0 0M1002 830l0 0M907 938l0 0M945 852l0 0M1103 830l0 0M965 913l0 0M956 879l0 0M1105 905l0 0M1009 939l0 0M900 960l0 0M938 861l0 0M1075 826l0 0M1057 991l0 0M939 1002l0 0M1076 903l0 0M1082 928l0 0M1042 863l0 0M1109 911l0 0M1128 865l0 0M977 900l0 0M1061 846l0 0M1089 942l0 0M901 969l0 0M1050 953l0 0M948 993l0 0M929 955l0 0M974 992l0 0M951 831l0 0M1072 846l0 0M1125 858l0 0M1010 905l0 0M1065 924l0 0M970 1002l0 0M1109 890l0 0M1015 888l0 0M895 896l0 0M932 939l0 0M1072 994l0 0M1081 978l0 0M952 952l0 0M1121 829l0 0M1104 849l0 0M1097 930l0 0M996 827l0 0M1082 966l0 0M1050 971l0 0M1098 983l0 0M1128 841l0 0M982 925l0 0M1090 838l0 0M901 859l0 0M1117 957l0 0M1092 970l0 0M993 965l0 0M1125 1003l0 0M1018 940l0 0M956 960l0 0M1089 922l0 0M1031 983l0 0M1028 847l0 0M1077 967l0 0M1019 974l0 0M1103 943l0 0M1031 960l0 0M929 910l0 0M1081 833l0 0M1033 847l0 0M1037 894l0 0M1127 892l0 0M1050 999l0 0M986 932l0 0M967 902l0 0M947 1003l0 0M960 918l0 0M1121 979l0 0M1131 930l0 0M1130 832l0 0M951 977l0 0M1070 867l0 0M1129 981l0 0M1010 881l0 0M1113 825l0 0M1095 946l0 0M1048 826l0 0M1092 950l0 0M1012 957l0 0M919 961l0 0M1110 855l0 0M1035 931l0 0M1097 961l0 0M1059 934l0 0M1059 827l0 0M1042 825l0 0M1068 837l0 0M919 848l0 0M1077 838l0 0M1084 984l0 0M1005 957l0 0M943 860l0 0M905 846l0 0M1089 878l0 0M1013 967l0 0M1003 878l0 0M1098 1002l0 0M1123 960l0 0M1021 897l0 0M920 888l0 0M914 943l0 0M1075 942l0 0M1097 860l0 0M935 957l0 0M927 883l0 0M906 835l0 0M920 893l0 0M1002 910l0 0M1046 988l0 0M1062 1002l0 0M1035 997l0 0M1050 934l0 0M968 890l0 0M929 845l0 0M942 880l0 0M913 836l0 0M1051 911l0 0M1110 868l0 0M1081 855l0 0M949 916l0 0M1117 868l0 0M1116 947l0 0M937 897l0 0M1126 908l0 0M907 948l0 0M931 899l0 0M1067 932l0 0M1070 986l0 0M1000 933l0 0M1096 910l0 0M1070 873l0 0M1064 958l0 0M933 1000l0 0M971 932l0 0M1102 925l0 0M921 862l0 0M978 884l0 0M1063 963l0 0M984 937l0 0M1133 893l0 0M1134 826l0 0M1021 955l0 0M947 897l0 0M1117 851l0 0M956 873l0 0M1001 893l0 0M975 889l0 0M1066 983l0 0M910 916l0 0M985 867l0 0M1099 952l0 0M1022 912l0 0M1002 917l0 0M944 903l0 0M977 924l0 0M996 869l0 0M1095 846l0 0M1016 881l0 0M1108 916l0 0M928 978l0 0M1107 933l0 0" stroke="#5a26bc" stroke-width="2.2"/>
<path d="M907 877l0 0M916 872l0 0M1071 872l0 0M900 834l0 0M1073 934l0 0M1002 957l0 0M930 953l0 0M1097 902l0 0M976 941l0 0M957 980l0 0M974 928l0 0M1063 837l0 0M1129 933l0 0M947 870l0 0M1087 908l0 0M948 897l0 0M1020 851l0 0M977 832l0 0M1010 953l0 0M987 951l0 0M944 912l0 0M1062 928l0 0M1015 898l0 0M1069 991l0 0M1039 989l0 0M1125 869l0 0M969 961l0 0M907 878l0 0M944 936l0 0M1090 849l0 0M1069 951l0 0M1073 915l0 0M997 901l0 0M1090 862l0 0M1130 841l0 0M962 835l0 0M965 999l0 0M1104 876l0 0M919 899l0 0M1089 893l0 0M944 948l0 0M1078 938l0 0M961 874l0 0M899 842l0 0M1008 991l0 0M1105 974l0 0M1056 878l0 0M934 927l0 0M911 952l0 0M1042 944l0 0M1115 915l0 0M1090 957l0 0M961 973l0 0M1122 941l0 0M1111 998l0 0M966 908l0 0M979 916l0 0M1103 884l0 0M1130 954l0 0M1039 941l0 0M1023 853l0 0M915 919l0 0M1047 907l0 0M928 920l0 0M1129 938l0 0M948 883l0 0M1097 869l0 0M1061 902l0 0M1123 960l0 0M980 939l0 0M920 996l0 0M1094 960l0 0M1025 955l0 0M1053 833l0 0M1064 853l0 0M1131 921l0 0M996 967l0 0M898 908l0 0M1048 969l0 0M949 974l0 0M1004 842l0 0M910 868l0 0M1093 948l0 0M957 950l0 0M975 879l0 0M1058 863l0 0M1079 877l0 0M1012 832l0 0M987 939l0 0M1109 956l0 0M1053 906l0 0M1013 965l0 0M925 950l0 0M953 938l0 0M926 923l0 0M1124 870l0 0M979 915l0 0M1102 941l0 0M1055 840l0 0M962 940l0 0M913 971l0 0M1042 907l0 0M917 953l0 0M898 919l0 0M1031 947l0 0M946 970l0 0M1066 878l0 0M970 838l0 0M1063 988l0 0M1078 916l0 0M982 961l0 0M979 876l0 0M919 901l0 0M1122 975l0 0M1083 858l0 0M977 899l0 0M953 901l0 0M1022 969l0 0M1122 918l0 0M963 966l0 0M1072 997l0 0M963 931l0 0M1084 874l0 0M949 981l0 0M919 990l0 0M1114 938l0 0M1017 963l0 0M933 955l0 0M1083 941l0 0M957 965l0 0M1059 829l0 0M957 881l0 0M1020 941l0 0M988 950l0 0M1113 843l0 0M921 942l0 0M941 861l0 0M1049 997l0 0M933 959l0 0M920 930l0 0M938 835l0 0M964 914l0 0M930 994l0 0M1023 854l0 0M1110 890l0 0M939 848l0 0M981 867l0 0M1108 948l0 0M1076 986l0 0M996 887l0 0M973 993l0 0M1103 920l0 0M988 904l0 0M1108 906l0 0M1094 920l0 0M948 947l0 0M1050 871l0 0M1112 841l0 0M1072 975l0 0M976 923l0 0M1116 963l0 0M919 900l0 0M1014 882l0 0M1025 843l0 0M1002 991l0 0M1106 847l0 0M1042 921l0 0M917 985l0 0M1083 941l0 0M1077 980l0 0M899 887l0 0M1083 872l0 0M1126 950l0 0M1039 922l0 0M1009 862l0 0M1131 992l0 0M900 990l0 0M1036 984l0 0M999 918l0 0M1000 897l0 0M1029 944l0 0M942 846l0 0M1056 861l0 0M1053 913l0 0M995 895l0 0M1093 883l0 0M1093 855l0 0M976 857l0 0M1018 978l0 0M959 987l0 0M1010 908l0 0M1043 858l0 0M1032 945l0 0M948 921l0 0M1129 983l0 0M1127 901l0 0M986 906l0 0M1096 848l0 0M932 850l0 0M1076 875l0 0M991 878l0 0M952 956l0 0M1114 978l0 0M954 953l0 0M908 992l0 0M1074 887l0 0M1059 929l0 0M961 864l0 0M990 994l0 0M1076 845l0 0M1128 878l0 0M1071 987l0 0M1015 850l0 0M954 923l0 0M1072 945l0 0M1121 944l0 0M1125 916l0 0M1103 933l0 0M1117 893l0 0M976 978l0 0M1027 976l0 0M1037 955l0 0M996 924l0 0M1052 951l0 0M1119 862l0 0M1076 999l0 0M1060 899l0 0M1077 914l0 0M975 888l0 0M1105 935l0 0M1091 955l0 0M1001 868l0 0M957 835l0 0M966 919l0 0M955 855l0 0M1112 910l0 0M905 939l0 0M1054 847l0 0M1074 980l0 0M982 961l0 0M943 974l0 0M1033 982l0 0M1083 885l0 0M989 896l0 0M1029 914l0 0M999 898l0 0M1065 887l0 0M1059 921l0 0M1107 831l0 0M934 935l0 0M929 882l0 0M1112 906l0 0M1029 896l0 0M949 918l0 0M908 850l0 0M1029 966l0 0M908 886l0 0M971 897l0 0M1012 843l0 0M914 956l0 0M1092 947l0 0M1004 848l0 0M934 942l0 0M1074 968l0 0M1046 974l0 0M1060 998l0 0M1124 855l0 0M952 967l0 0M982 999l0 0M1038 918l0 0M1088 911l0 0M1126 989l0 0M952 877l0 0M1048 860l0 0M946 850l0 0M905 859l0 0M1082 962l0 0M1075 839l0 0M1099 932l0 0M1104 968l0 0M938 985l0 0M1051 875l0 0M999 876l0 0M1049 914l0 0M1078 884l0 0M929 928l0 0M1053 892l0 0M999 840l0 0M979 914l0 0M1073 864l0 0M1048 968l0 0M980 845l0 0M1054 946l0 0M917 950l0 0M983 831l0 0M1128 978l0 0M1001 911l0 0M965 985l0 0M1032 899l0 0M1092 959l0 0M974 869l0 0M1064 881l0 0M919 915l0 0M1087 901l0 0M1099 972l0 0M922 904l0 0M1056 967l0 0M1123 959l0 0M1007 997l0 0M956 967l0 0M992 910l0 0M1020 881l0 0M958 996l0 0M970 977l0 0M1022 947l0 0M1046 921l0 0M907 851l0 0M984 834l0 0M1129 868l0 0M925 926l0 0M1051 872l0 0M1074 943l0 0M1090 855l0 0M1025 876l0 0M978 866l0 0M946 836l0 0M1044 899l0 0M1011 883l0 0M1007 963l0 0M954 963l0 0M1102 875l0 0M901 978l0 0M1054 852l0 0M1017 937l0 0M1099 931l0 0M956 861l0 0M1118 896l0 0M916 1000l0 0M908 842l0 0M1056 911l0 0M1034 921l0 0M910 935l0 0M994 861l0 0M992 917l0 0M996 996l0 0M1075 987l0 0M1019 908l0 0M1038 993l0 0M1088 939l0 0M1038 969l0 0M928 972l0 0M1077 989l0 0M1014 890l0 0M1039 977l0 0M950 935l0 0M960 960l0 0M955 860l0 0M983 901l0 0M1023 836l0 0M934 997l0 0M945 909l0 0M1070 878l0 0M988 845l0 0M1074 894l0 0M1101 847l0 0M1046 891l0 0M1119 901l0 0M1093 948l0 0M1071 914l0 0M942 842l0 0M1038 832l0 0M927 837l0 0M1050 931l0 0M1050 830l0 0M952 860l0 0M920 935l0 0M1026 865l0 0M1075 847l0 0M930 966l0 0M1067 956l0 0M949 903l0 0M1046 870l0 0M913 916l0 0M1005 963l0 0M920 892l0 0M980 864l0 0M1105 890l0 0M996 919l0 0M1007 994l0 0M981 978l0 0M1016 941l0 0M1121 959l0 0M1029 872l0 0M959 899l0 0M1013 898l0 0M985 846l0 0M1082 986l0 0M900 955l0 0M1047 909l0 0M1129 976l0 0M994 993l0 0M908 998l0 0M1064 872l0 0M950 877l0 0M977 889l0 0M1010 827l0 0M1120 981l0 0M1071 857l0 0M978 983l0 0M997 890l0 0M952 901l0 0M930 906l0 0M1013 986l0 0M914 841l0 0M967 856l0 0M1126 897l0 0M983 955l0 0M1121 905l0 0M920 848l0 0M997 993l0 0M952 971l0 0M1114 918l0 0M1105 925l0 0M980 862l0 0M926 883l0 0M1044 949l0 0M1057 911l0 0M1036 860l0 0M1083 855l0 0M1114 895l0 0M1051 860l0 0M1105 889l0 0M1049 974l0 0M1076 868l0 0M1106 839l0 0M1026 893l0 0M1025 881l0 0M1028 900l0 0M1072 887l0 0M939 995l0 0M1068 829l0 0M1019 1000l0 0M987 853l0 0M1003 900l0 0M1069 910l0 0M1062 859l0 0M1006 949l0 0M1057 834l0 0M1011 868l0 0M1073 832l0 0M1039 962l0 0M1051 935l0 0M983 975l0 0M1102 995l0 0M962 931l0 0M929 963l0 0M1059 980l0 0M1035 867l0 0M1100 833l0 0M1039 898l0 0M981 892l0 0M936 861l0 0M1034 978l0 0M1077 926l0 0M901 864l0 0M932 836l0 0M956 981l0 0M918 838l0 0M1023 874l0 0M1073 861l0 0M989 848l0 0M931 846l0 0M952 906l0 0M934 926l0 0M977 869l0 0M966 945l0 0M1065 894l0 0M923 959l0 0M1020 972l0 0M1034 861l0 0M975 934l0 0M930 926l0 0M950 906l0 0M1120 923l0 0M928 934l0 0M993 918l0 0M957 958l0 0M1093 1000l0 0M909 965l0 0M1079 853l0 0M1024 859l0 0M924 950l0 0M946 939l0 0M1126 909l0 0M1009 918l0 0M1115 869l0 0M1088 929l0 0M982 895l0 0M1035 994l0 0M924 989l0 0M974 886l0 0M938 922l0 0M961 900l0 0M1097 889l0 0M1018 930l0 0M1113 942l0 0M1078 874l0 0M1037 970l0 0M1108 858l0 0M1006 941l0 0M1053 996l0 0M962 855l0 0M1040 937l0 0M993 991l0 0M922 997l0 0M902 850l0 0M1115 828l0 0M981 936l0 0M1050 958l0 0M912 977l0 0M950 984l0 0M1021 939l0 0M1002 969l0 0M1004 927l0 0M1059 923l0 0M1099 981l0 0M926 982l0 0M1121 917l0 0M1114 936l0 0M974 949l0 0M1072 877l0 0M1016 973l0 0M1080 925l0 0M1108 855l0 0M1103 953l0 0M904 950l0 0M964 960l0 0M1114 920l0 0M1059 878l0 0M1049 952l0 0M1006 961l0 0M951 942l0 0M1021 925l0 0M942 855l0 0M1030 829l0 0M1040 944l0 0M1069 863l0 0M1116 856l0 0M1001 932l0 0M947 1000l0 0" stroke="#201a2a" stroke-width="1.5" stroke-opacity="0.8"/>
</g>
<rect x="1098" y="994.1" width="32" height="2.6" fill="#000"/><text x="1114" y="992.4" text-anchor="middle" style="font-family:'DejaVu Sans',sans-serif;font-weight:700;font-size:7px" fill="#000">200μm</text>
<clipPath id="i3c"><rect x="646.1" y="1017.8" width="232.8" height="173.6"/></clipPath>
<g clip-path="url(#i3c)" fill="none" stroke-linecap="round" stroke-linejoin="round"><rect x="646.1" y="1017.8" width="232.8" height="173.6" fill="#e3daef"/>
<path id="i30" d="M647 1134l4 -1l2 3l-3 0zM728 1078l3 -5l3 0l0 3zM638 1068l5 -5l5 -1l-3 4zM843 1087l-2 7l-5 4l1 -6zM663 1179l-4 3l-4 -1l3 -2zM708 1182l2 5l-3 3l0 -4zM709 1150l-5 -6l1 -6l3 5zM706 1019l2 -5l3 -1l0 4zM859 1126l4 2l1 3l-3 -1zM654 1053l-3 6l-5 1l2 -4zM872 1182l1 5l-2 3l-1 -4zM698 1090l6 0l3 4l-4 -1zM786 1079l0 -7l3 -2l0 4zM723 1157l5 -4l5 1l-3 3zM687 1153l3 -4l3 -1l-1 3zM655 1019l4 0l3 2l-3 1zM719 1187l3 4l0 2l-3 -2zM873 1063l7 -2l4 1l-5 2zM661 1103l5 0l4 2l-5 1zM747 1061l1 -6l3 -1l-1 4zM845 1138l-1 -4l1 -3l1 3zM731 1141l4 6l-1 4l-3 -3zM703 1064l-3 -5l1 -5l3 4zM855 1124l-3 -5l1 -5l3 4zM741 1188l-1 7l-3 2l0 -4zM703 1159l-4 3l-4 0l4 -3zM875 1036l4 -5l4 1l-3 2zM653 1063l2 5l-2 3l-2 -3zM690 1193l-3 -3l0 -2l3 1zM868 1080l-2 3l-3 0l2 -2zM797 1051l-5 5l-6 1l4 -5zM674 1049l3 1l3 2l-4 0zM791 1131l-4 2l-3 -1l2 -2zM643 1078l2 -5l4 -3l0 4zM693 1068l-4 5l-7 2l4 -7zM830 1117l1 -5l3 -1l0 3zM668 1089l-2 -3l0 -3l3 2zM791 1028l5 2l2 2l-4 0zM812 1093l-4 -3l0 -4l4 2zM721 1184l-3 4l-5 1l2 -4zM783 1077l-5 4l-3 -1l2 -3zM854 1197l-5 -3l-2 -2l4 0zM759 1045l-6 1l-4 -3l4 -2zM667 1124l-2 4l-3 1l0 -3zM761 1040l3 0l1 2l-2 0zM774 1182l-6 1l-5 -1l5 -3zM760 1155l2 4l-2 4l-2 -3zM688 1041l1 -4l2 -1l1 3zM874 1107l1 -6l5 -3l-2 5zM791 1167l0 -4l1 -3l1 2zM850 1166l-6 0l-3 -5l5 2zM692 1082l4 4l0 3l-2 -1zM741 1038l-7 1l-5 -5l6 1zM773 1147l5 2l2 5l-4 -2zM778 1129l-4 0l-3 -1l3 -2zM804 1094l-3 2l-3 0l2 -2zM693 1155l6 -4l6 -1l-5 4zM670 1043l-3 -5l1 -4l3 3zM665 1100l-2 -6l3 -6l1 6zM814 1158l3 -5l5 -2l-1 5zM657 1109l-3 -3l0 -2l3 1zM877 1147l3 -2l2 0l-1 3zM876 1182l-5 -2l-1 -3l4 0zM827 1184l3 -4l4 0l-3 2zM697 1062l-4 1l-4 -1l3 -2zM722 1018l-1 4l-3 2l1 -3zM687 1183l-5 1l-4 -2l4 -2zM728 1177l-2 -5l3 -4l1 4zM784 1170l-1 4l-3 2l0 -3zM881 1124l0 4l-3 2l0 -3zM803 1076l-3 -4l1 -4l2 3zM649 1039l3 2l0 3l-3 -1zM646 1019l1 -5l5 -3l-1 6zM673 1076l-3 5l-3 -1l1 -3zM782 1115l2 5l-1 3l-3 -2zM797 1102l-6 0l-3 -4l5 0zM870 1059l-3 1l-2 0l2 -2zM831 1091l-2 -4l1 -3l2 3zM862 1150l4 -5l4 0l-2 3zM737 1054l4 2l1 4l-3 -3zM872 1046l-7 -4l0 -4l3 2zM794 1107l-6 1l-3 -3l4 -1zM835 1143l-5 1l-3 -3l4 0zM851 1146l-6 4l-4 -1l3 -3zM823 1094l-2 4l-3 0l1 -3zM671 1061l-4 -4l1 -4l3 3zM720 1148l5 0l1 3l-3 0zM841 1143l4 -1l2 1l-2 1zM780 1090l-4 4l-5 3l3 -5zM772 1060l-3 3l-3 1l2 -3zM719 1177l0 -5l4 -3l0 6zM701 1182l-1 -3l1 -3l2 2zM756 1160l1 6l-2 4l-1 -6zM844 1091l6 1l2 4l-6 0zM780 1074l-2 -4l1 -3l2 2zM676 1016l3 2l1 3l-3 -1zM651 1026l-3 -4l0 -4l3 3zM662 1127l-5 -5l-1 -6l5 5zM871 1039l-4 -4l0 -4l3 2zM675 1018l-3 5l-4 0l1 -4zM842 1128l-5 2l-4 -1l4 -2zM798 1072l-6 -4l-1 -5l4 2zM664 1146l4 4l0 6l-4 -4zM719 1087l2 4l-1 2l-2 -2zM705 1069l-1 -4l2 -3l1 3zM759 1165l5 1l3 3l-5 0zM655 1088l-4 2l-3 0l2 -3zM772 1048l1 6l-2 5l-2 -5zM662 1165l2 -4l2 -2l-1 3zM644 1046l1 6l-1 5l-3 -5zM878 1011l0 5l-2 2l0 -4zM698 1145l-4 -4l-1 -3l4 1zM794 1075l0 4l-2 4l-1 -4zM733 1174l5 -1l2 1l-3 2zM818 1133l5 -4l3 0l-3 3zM727 1042l-5 2l-6 -2l5 -2zM798 1145l5 2l0 3l-2 -1zM753 1149l-3 7l-5 1l2 -6zM667 1101l5 -6l6 0l-3 5zM703 1047l-2 3l-2 0l1 -2zM681 1063l-2 -3l0 -3l3 3zM666 1183l3 4l0 3l-4 -2zM739 1022l-5 0l-1 -4l3 2zM787 1084l1 4l0 3l-2 -4zM863 1087l-1 6l-3 3l0 -5zM860 1050l6 -4l5 -1l-4 4zM873 1026l1 -4l2 -2l1 3zM765 1028l4 3l0 6l-4 -3zM739 1181l3 4l-1 3l-2 -3zM672 1196l-1 -4l2 -2l1 2zM806 1075l5 2l1 3l-3 -1zM754 1119l0 -4l2 -2l0 2zM872 1075l2 3l0 2l-2 -1zM842 1164l-4 -2l-2 -4l4 1zM711 1118l1 -6l3 -1l1 5zM705 1078l3 4l1 3l-3 -2zM744 1044l2 4l-1 4l-1 -4zM861 1172l3 -5l3 -2l-1 4zM679 1166l-4 -1l-1 -3l2 1zM804 1056l-2 5l-6 3l3 -5zM861 1159l-5 -1l-3 -3l4 0zM776 1057l2 5l-2 3l-1 -3zM672 1101l5 1l1 3l-3 0zM694 1099l-3 -6l2 -5l2 4zM772 1166l3 -4l4 -1l-3 3zM722 1072l-5 -1l0 -3l3 0zM798 1151l-2 6l-3 2l0 -5zM691 1176l-1 6l-5 2l2 -4zM792 1130l-4 -4l1 -4l2 3zM808 1117l3 4l-1 4l-2 -3zM668 1165l1 -6l4 -3l-1 5zM661 1176l2 -6l4 -1l-1 3zM653 1144l-5 2l-5 -1l4 -2zM817 1099l-5 0l-2 -1l2 -1zM755 1026l4 -2l3 2l-4 1zM673 1159l4 -2l4 0l-5 2zM795 1124l3 3l0 4l-3 -3zM653 1189l5 -1l2 3l-2 1zM876 1168l-1 -4l1 -4l2 3zM865 1075l-3 3l-3 0l2 -2zM832 1102l-2 -5l2 -3l2 3zM836 1159l-1 -5l1 -5l2 5zM771 1099l-3 2l-3 -1l2 -2zM692 1053l-5 -3l-2 -5l4 3zM684 1126l-4 -3l-3 -6l5 4zM763 1023l2 -6l4 -2l-1 4zM877 1174l1 -4l3 -1l-1 3zM838 1181l3 6l-2 7l-3 -5zM656 1055l-6 -2l-1 -5l6 3zM871 1140l-1 -4l2 -3l1 3zM877 1052l4 2l1 4l-4 -1zM857 1160l3 5l2 4l-5 -3zM703 1036l-1 5l-4 2l1 -4zM650 1185l0 -5l3 -1l-1 3zM760 1123l-2 6l-6 3l4 -5zM691 1028l4 -4l4 0l-2 4zM710 1170l-4 -4l0 -5l3 4zM688 1105l-5 -2l-3 -4l5 1zM693 1106l0 -5l2 -3l0 4zM663 1064l4 2l1 2l-3 0zM662 1147l-5 1l-5 -2l5 -1zM844 1106l-1 4l-3 2l0 -5zM742 1178l5 -1l5 1l-5 2zM777 1043l1 -4l3 -2l0 4zM661 1034l0 -3l2 -3l1 3zM763 1061l-1 4l-4 1l1 -3zM788 1049l-5 3l-6 -1l5 -2zM857 1065l-6 -1l-3 -4l4 1zM836 1080l6 -1l3 2l-4 1zM847 1190l3 -5l7 0l-4 5zM767 1106l0 5l-1 3l-2 -3zM643 1186l6 0l4 5l-6 -1zM811 1023l4 -2l2 1l-2 2zM756 1109l4 -6l6 -1l-3 4zM746 1162l-1 4l-2 2l0 -3zM725 1054l0 4l-2 2l0 -3zM748 1185l2 7l-3 4l-2 -5zM716 1074l-6 -3l-1 -5l5 3zM766 1045l2 -5l6 -3l-2 6zM679 1066l-5 4l-4 -1l2 -3z"/>
<path id="i31" d="M700 1189l4 0l-3 3zM647 1112l0 3l-3 -2zM882 1138l-4 0l1 -3zM645 1022l-1 3l-1 -2zM874 1072l0 -2l2 1zM786 1162l-2 3l-2 -4zM693 1046l-2 2l-1 -2zM669 1181l-3 2l0 -3zM852 1109l0 -4l5 4zM874 1086l1 2l-3 0zM669 1147l2 2l-3 1zM677 1082l1 -4l2 3zM790 1134l0 -5l4 1zM815 1114l1 -3l2 2zM856 1061l2 -2l1 3zM679 1041l4 0l-2 3zM778 1116l3 -2l0 3zM775 1018l-3 1l1 -3zM701 1161l1 2l-2 0zM667 1103l-5 -3l5 -1zM721 1153l3 -3l1 3zM761 1180l4 -1l-2 3zM689 1028l-5 1l0 -3zM721 1029l2 1l-2 3zM866 1060l-1 -4l4 0zM811 1091l2 2l-2 0zM652 1038l2 -4l2 4zM659 1106l-3 0l2 -2zM762 1045l2 -2l2 3zM746 1133l2 1l-1 2zM737 1051l1 -2l1 2zM705 1137l2 -3l1 3zM739 1137l0 4l-2 -3zM680 1029l-1 -3l4 0zM878 1180l3 -1l-1 3zM766 1101l-3 4l-1 -5zM804 1103l0 3l-2 -2zM711 1183l2 -1l0 3zM756 1038l2 3l-4 1zM671 1138l4 -2l0 5zM779 1191l4 -3l-1 5zM815 1160l-3 -1l4 -2zM720 1026l-1 -2l3 -1zM731 1144l-3 -2l5 -1zM874 1095l1 -4l5 2zM804 1013l1 3l-4 0zM726 1170l3 2l-3 2zM721 1177l-4 3l-1 -4zM689 1107l3 1l-2 2zM727 1082l-4 2l1 -4zM782 1055l3 -2l0 3zM707 1154l1 -3l2 3zM832 1108l-4 1l2 -3zM864 1108l-1 -2l3 0zM692 1095l5 0l-4 2zM833 1132l-2 2l-2 -3zM656 1078l3 0l-2 2zM875 1109l-3 2l0 -5zM875 1160l-4 0l2 -4zM817 1101l4 1l-3 1zM876 1046l1 4l-2 -1zM723 1166l-1 3l-1 -1zM730 1036l4 0l-2 4zM706 1021l-3 -4l4 0zM731 1019l0 -4l5 3zM790 1049l4 -1l-1 3zM804 1127l-1 -4l3 2zM693 1170l-5 -1l3 -3zM796 1124l1 -3l1 4zM671 1054l1 -2l1 2zM668 1193l2 -3l2 3zM847 1057l1 4l-3 -1zM757 1190l2 2l-2 1zM738 1158l-3 2l-1 -4zM883 1033l-4 1l0 -5zM694 1014l0 2l-2 -1zM663 1080l4 0l-3 4zM763 1069l2 -4l1 3zM768 1191l-2 2l-2 -3zM775 1067l2 -2l2 4zM871 1084l-1 -4l3 0zM800 1112l-1 -3l4 1zM741 1185l3 1l-3 3zM739 1046l-1 -3l3 2zM801 1093l3 2l-4 1zM700 1157l-3 1l1 -4zM650 1053l1 3l-2 -1zM804 1134l4 2l-3 2zM756 1052l0 -4l3 1zM686 1107l-3 1l2 -3z"/>
<use href="#i30" stroke="#9a64e0" stroke-width="5" stroke-opacity="0.8" fill="#9a64e0" fill-opacity="0.8"/>
<use href="#i31" stroke="#9a64e0" stroke-width="6" stroke-opacity="0.8" fill="#9a64e0" fill-opacity="0.8"/>
<use href="#i30" stroke="#7a36d6" stroke-width="2.6" fill="#7a36d6"/>
<use href="#i31" stroke="#7a36d6" stroke-width="3.4" fill="#7a36d6"/>
<path d="M821 1139l0 0M777 1062l0 0M867 1184l0 0M649 1075l0 0M721 1052l0 0M746 1174l0 0M652 1163l0 0M718 1020l0 0M856 1065l0 0M695 1038l0 0M732 1039l0 0M688 1061l0 0M781 1095l0 0M717 1109l0 0M826 1143l0 0M726 1177l0 0M830 1115l0 0M757 1075l0 0M677 1172l0 0M788 1035l0 0M862 1172l0 0M654 1139l0 0M702 1111l0 0M840 1079l0 0M762 1133l0 0M691 1127l0 0M745 1188l0 0M690 1141l0 0M656 1065l0 0M674 1044l0 0M769 1048l0 0M831 1035l0 0M791 1167l0 0M676 1056l0 0M824 1099l0 0M863 1076l0 0M739 1184l0 0M726 1186l0 0M854 1053l0 0M773 1181l0 0M673 1165l0 0M826 1148l0 0M786 1035l0 0M869 1036l0 0M829 1143l0 0M720 1137l0 0M742 1148l0 0M656 1180l0 0M736 1157l0 0M756 1159l0 0M716 1112l0 0M652 1103l0 0M665 1167l0 0M804 1092l0 0M873 1182l0 0M869 1032l0 0M810 1144l0 0M787 1021l0 0M861 1094l0 0M785 1159l0 0M710 1023l0 0M861 1065l0 0M656 1042l0 0M878 1146l0 0M695 1043l0 0M855 1133l0 0M782 1041l0 0M742 1182l0 0M647 1091l0 0M659 1191l0 0M670 1183l0 0M842 1145l0 0M656 1139l0 0M761 1103l0 0M680 1107l0 0M833 1041l0 0M850 1091l0 0M708 1059l0 0M753 1130l0 0M779 1172l0 0M765 1107l0 0M876 1055l0 0M650 1075l0 0M719 1039l0 0M743 1024l0 0M860 1102l0 0M851 1139l0 0M816 1149l0 0M716 1144l0 0M694 1114l0 0M785 1152l0 0M685 1078l0 0M838 1157l0 0M874 1038l0 0M695 1036l0 0M815 1147l0 0M797 1153l0 0M766 1115l0 0M861 1130l0 0M799 1120l0 0M761 1149l0 0M779 1040l0 0M745 1091l0 0M747 1115l0 0M730 1086l0 0M745 1082l0 0M872 1033l0 0M650 1143l0 0M738 1096l0 0M784 1082l0 0M702 1020l0 0M850 1181l0 0M713 1099l0 0M721 1028l0 0M854 1163l0 0M702 1062l0 0M809 1156l0 0M755 1085l0 0M700 1156l0 0M847 1167l0 0M673 1121l0 0M875 1142l0 0M753 1043l0 0M660 1145l0 0M662 1158l0 0M801 1100l0 0M854 1180l0 0M790 1035l0 0M783 1091l0 0M704 1179l0 0M816 1039l0 0M699 1077l0 0M779 1074l0 0M748 1159l0 0M688 1143l0 0M723 1182l0 0M868 1075l0 0M787 1037l0 0M742 1126l0 0M795 1077l0 0M654 1039l0 0M777 1048l0 0M717 1125l0 0M856 1107l0 0M705 1120l0 0M710 1154l0 0M682 1063l0 0M748 1175l0 0M685 1051l0 0M677 1055l0 0M723 1086l0 0M823 1088l0 0M757 1087l0 0M826 1175l0 0M745 1178l0 0M704 1188l0 0M768 1136l0 0M735 1065l0 0M678 1171l0 0M730 1139l0 0M753 1109l0 0M694 1049l0 0M724 1136l0 0M773 1018l0 0M812 1093l0 0M662 1063l0 0M695 1161l0 0M774 1075l0 0M704 1068l0 0M711 1078l0 0M830 1155l0 0M809 1171l0 0M798 1038l0 0M656 1046l0 0M706 1110l0 0M837 1119l0 0M746 1060l0 0M875 1149l0 0M726 1026l0 0M875 1062l0 0M843 1038l0 0M798 1080l0 0M853 1069l0 0M670 1052l0 0M834 1188l0 0M796 1136l0 0M712 1065l0 0M666 1189l0 0M656 1124l0 0M728 1050l0 0M748 1179l0 0M704 1046l0 0M793 1132l0 0M765 1049l0 0M850 1037l0 0M687 1060l0 0M766 1100l0 0M775 1144l0 0M854 1099l0 0M656 1162l0 0M650 1073l0 0M679 1122l0 0M828 1040l0 0M715 1166l0 0M807 1037l0 0M806 1156l0 0M741 1045l0 0M800 1073l0 0M677 1046l0 0M740 1040l0 0M736 1114l0 0M775 1088l0 0M832 1033l0 0M723 1180l0 0M847 1178l0 0M824 1111l0 0M829 1117l0 0M673 1062l0 0M669 1170l0 0M721 1089l0 0M771 1035l0 0M810 1156l0 0M831 1171l0 0M720 1043l0 0M823 1138l0 0M733 1077l0 0M682 1162l0 0M753 1159l0 0M725 1074l0 0M766 1147l0 0M852 1079l0 0M808 1088l0 0M847 1150l0 0M775 1081l0 0M710 1171l0 0M833 1071l0 0M666 1052l0 0M871 1025l0 0M835 1110l0 0M775 1111l0 0M742 1115l0 0M667 1177l0 0M670 1042l0 0M803 1129l0 0M834 1138l0 0M863 1027l0 0M649 1059l0 0M827 1044l0 0M770 1152l0 0M682 1109l0 0M856 1148l0 0M739 1101l0 0M711 1185l0 0M828 1136l0 0M717 1145l0 0M759 1156l0 0M731 1171l0 0M805 1096l0 0M777 1158l0 0M769 1184l0 0M648 1174l0 0M812 1103l0 0M844 1044l0 0M725 1142l0 0M838 1083l0 0M878 1130l0 0M657 1039l0 0M664 1117l0 0M721 1063l0 0M750 1031l0 0M858 1163l0 0M776 1095l0 0M718 1122l0 0M727 1187l0 0M869 1144l0 0M838 1031l0 0M675 1078l0 0M675 1091l0 0M876 1163l0 0M869 1056l0 0M698 1022l0 0M710 1028l0 0M769 1070l0 0M803 1115l0 0M785 1070l0 0M817 1137l0 0M812 1100l0 0M754 1067l0 0M655 1099l0 0M790 1050l0 0M846 1170l0 0M845 1159l0 0M760 1048l0 0M709 1146l0 0M875 1037l0 0M648 1079l0 0M727 1122l0 0M672 1164l0 0M725 1176l0 0M723 1071l0 0M687 1185l0 0M783 1161l0 0M661 1112l0 0M817 1189l0 0M864 1036l0 0M733 1191l0 0M771 1184l0 0M705 1022l0 0M866 1064l0 0M777 1080l0 0M781 1180l0 0M867 1170l0 0M706 1160l0 0M650 1090l0 0M866 1062l0 0M732 1119l0 0M701 1141l0 0M798 1034l0 0M860 1030l0 0M808 1078l0 0M680 1031l0 0M878 1157l0 0M753 1156l0 0M872 1179l0 0M770 1066l0 0M767 1188l0 0M816 1134l0 0M842 1089l0 0M776 1165l0 0M692 1167l0 0M652 1111l0 0M780 1043l0 0M861 1094l0 0M689 1089l0 0M784 1092l0 0M647 1034l0 0M812 1041l0 0M706 1158l0 0M847 1171l0 0M687 1019l0 0M822 1122l0 0M731 1021l0 0M747 1059l0 0M783 1188l0 0M695 1031l0 0M808 1036l0 0M698 1094l0 0M876 1074l0 0M720 1100l0 0M684 1088l0 0M809 1074l0 0M831 1050l0 0M670 1127l0 0M752 1177l0 0M671 1147l0 0M802 1082l0 0M676 1124l0 0M823 1100l0 0M756 1137l0 0M788 1091l0 0M689 1098l0 0M774 1173l0 0M878 1114l0 0M723 1056l0 0M793 1146l0 0M704 1138l0 0M879 1086l0 0M865 1094l0 0M798 1168l0 0M693 1078l0 0M875 1029l0 0M717 1101l0 0M820 1127l0 0M863 1134l0 0M646 1030l0 0M655 1093l0 0M652 1109l0 0M793 1053l0 0M845 1090l0 0M870 1080l0 0M790 1112l0 0M707 1153l0 0M647 1061l0 0M721 1171l0 0M763 1024l0 0M716 1124l0 0M834 1037l0 0M828 1086l0 0M768 1091l0 0M748 1190l0 0M860 1177l0 0M817 1139l0 0M679 1024l0 0M840 1135l0 0M793 1072l0 0M708 1178l0 0M770 1021l0 0M725 1078l0 0M662 1188l0 0M856 1159l0 0M647 1090l0 0M672 1144l0 0M835 1155l0 0M830 1039l0 0M649 1034l0 0M842 1162l0 0M766 1059l0 0M846 1039l0 0M722 1018l0 0M875 1090l0 0M826 1157l0 0M781 1189l0 0M826 1179l0 0M870 1032l0 0M821 1057l0 0M722 1077l0 0M876 1028l0 0M747 1040l0 0M878 1104l0 0M810 1108l0 0M825 1076l0 0M742 1147l0 0M810 1172l0 0M718 1165l0 0M818 1117l0 0M741 1116l0 0M664 1035l0 0M719 1039l0 0M657 1142l0 0M816 1125l0 0M694 1143l0 0M838 1125l0 0M699 1116l0 0M738 1064l0 0M681 1168l0 0M793 1180l0 0M686 1064l0 0M765 1028l0 0M716 1112l0 0M758 1176l0 0M781 1128l0 0M782 1154l0 0M731 1018l0 0M874 1155l0 0M676 1037l0 0M698 1132l0 0M677 1021l0 0M761 1019l0 0M706 1084l0 0M694 1018l0 0M707 1060l0 0M722 1090l0 0M730 1074l0 0M651 1163l0 0M818 1103l0 0M647 1058l0 0M856 1097l0 0M694 1160l0 0M854 1039l0 0M763 1115l0 0M673 1073l0 0M790 1135l0 0M792 1125l0 0M734 1030l0 0M650 1163l0 0M847 1175l0 0M664 1151l0 0M686 1078l0 0M693 1167l0 0M837 1162l0 0M735 1180l0 0M707 1117l0 0M803 1058l0 0M735 1035l0 0M832 1050l0 0M678 1066l0 0M795 1128l0 0M768 1166l0 0M821 1054l0 0M771 1047l0 0M702 1043l0 0M664 1079l0 0M852 1132l0 0M667 1056l0 0M784 1110l0 0M652 1034l0 0M778 1122l0 0M665 1152l0 0M702 1120l0 0M769 1077l0 0M866 1086l0 0M745 1112l0 0M842 1189l0 0M825 1111l0 0M813 1129l0 0M869 1186l0 0M823 1055l0 0M778 1094l0 0M700 1153l0 0M698 1141l0 0M760 1092l0 0M811 1144l0 0M876 1191l0 0M832 1064l0 0M802 1104l0 0M865 1095l0 0M729 1022l0 0M756 1110l0 0M718 1036l0 0M759 1030l0 0M686 1095l0 0M727 1105l0 0M770 1085l0 0M677 1021l0 0M776 1186l0 0M712 1079l0 0M720 1147l0 0M761 1156l0 0M647 1041l0 0M694 1082l0 0M739 1085l0 0M871 1094l0 0M780 1185l0 0M796 1121l0 0M839 1076l0 0M654 1184l0 0M770 1119l0 0M662 1147l0 0M733 1129l0 0M712 1177l0 0M732 1066l0 0M854 1056l0 0M709 1102l0 0M874 1038l0 0M695 1156l0 0M664 1090l0 0M828 1142l0 0M831 1038l0 0M853 1080l0 0M836 1100l0 0M854 1101l0 0M706 1044l0 0M762 1026l0 0M684 1170l0 0M780 1168l0 0M681 1101l0 0M755 1037l0 0M707 1178l0 0M815 1106l0 0M788 1167l0 0M868 1121l0 0M658 1169l0 0M684 1059l0 0M678 1107l0 0M782 1098l0 0M756 1042l0 0M813 1111l0 0M718 1163l0 0M865 1178l0 0M875 1030l0 0M737 1096l0 0M706 1147l0 0M857 1042l0 0M764 1186l0 0M853 1096l0 0M670 1097l0 0M767 1154l0 0M689 1066l0 0M875 1020l0 0M788 1034l0 0M821 1091l0 0M862 1057l0 0M850 1057l0 0M657 1033l0 0M664 1085l0 0M872 1079l0 0M813 1024l0 0M766 1111l0 0M669 1118l0 0M750 1075l0 0M839 1138l0 0M674 1036l0 0M658 1064l0 0M794 1186l0 0M872 1168l0 0M675 1155l0 0M824 1100l0 0M878 1122l0 0M674 1055l0 0M676 1124l0 0M791 1167l0 0M648 1020l0 0M873 1063l0 0M708 1168l0 0M672 1155l0 0M855 1115l0 0M788 1019l0 0M787 1124l0 0M826 1108l0 0M673 1056l0 0M798 1032l0 0M671 1061l0 0M831 1113l0 0M729 1185l0 0M781 1059l0 0M778 1166l0 0M732 1093l0 0M781 1189l0 0M795 1049l0 0M782 1074l0 0M756 1142l0 0M651 1106l0 0M719 1122l0 0M837 1099l0 0M793 1068l0 0M706 1106l0 0M770 1057l0 0M824 1105l0 0M729 1062l0 0M841 1174l0 0M865 1061l0 0M663 1127l0 0M652 1166l0 0M804 1076l0 0M749 1136l0 0M683 1081l0 0M829 1136l0 0M782 1036l0 0M697 1062l0 0M653 1129l0 0M779 1178l0 0M775 1177l0 0M755 1108l0 0M712 1098l0 0M864 1102l0 0M647 1079l0 0M692 1126l0 0M765 1100l0 0M862 1150l0 0M666 1023l0 0M809 1121l0 0M798 1105l0 0M654 1096l0 0M841 1122l0 0M656 1039l0 0M857 1112l0 0M684 1140l0 0M861 1168l0 0M796 1158l0 0M666 1098l0 0M835 1077l0 0M680 1168l0 0M810 1019l0 0M661 1115l0 0M868 1125l0 0M850 1036l0 0M780 1049l0 0M723 1044l0 0M754 1026l0 0M799 1130l0 0M857 1151l0 0M664 1169l0 0M772 1180l0 0M761 1032l0 0M810 1048l0 0M875 1111l0 0M856 1103l0 0M722 1133l0 0M811 1098l0 0M710 1091l0 0M812 1057l0 0M683 1102l0 0M799 1029l0 0M709 1186l0 0M708 1152l0 0M717 1033l0 0M759 1169l0 0M827 1026l0 0M810 1126l0 0M758 1133l0 0M768 1050l0 0M808 1040l0 0M718 1166l0 0M778 1107l0 0M811 1103l0 0M736 1114l0 0M651 1079l0 0M655 1191l0 0M857 1131l0 0M683 1166l0 0M712 1158l0 0M798 1123l0 0M819 1064l0 0M840 1112l0 0M822 1164l0 0M705 1089l0 0M730 1031l0 0M850 1137l0 0M760 1112l0 0M851 1030l0 0M729 1137l0 0M771 1104l0 0M706 1057l0 0M802 1077l0 0M864 1174l0 0M872 1066l0 0M766 1036l0 0M730 1031l0 0M763 1184l0 0M824 1081l0 0M710 1180l0 0M658 1164l0 0M845 1030l0 0M868 1130l0 0M737 1092l0 0M788 1109l0 0M848 1173l0 0M722 1019l0 0M827 1130l0 0M799 1031l0 0M664 1174l0 0M731 1100l0 0M873 1052l0 0M794 1028l0 0M777 1146l0 0M683 1150l0 0M872 1161l0 0M830 1182l0 0M813 1113l0 0M838 1158l0 0M793 1134l0 0M688 1077l0 0M722 1167l0 0M828 1068l0 0M877 1028l0 0M660 1075l0 0M664 1183l0 0M730 1085l0 0M845 1110l0 0M793 1094l0 0M753 1184l0 0M711 1109l0 0M758 1042l0 0M680 1106l0 0M832 1093l0 0M660 1180l0 0M678 1171l0 0M657 1131l0 0M680 1063l0 0M744 1149l0 0M747 1090l0 0M740 1108l0 0M711 1183l0 0M690 1041l0 0M774 1079l0 0M814 1025l0 0M804 1081l0 0M862 1070l0 0M747 1073l0 0M770 1067l0 0M802 1089l0 0M811 1068l0 0M752 1115l0 0M813 1131l0 0M746 1033l0 0M672 1043l0 0M689 1050l0 0M800 1077l0 0M857 1058l0 0M703 1050l0 0M680 1136l0 0M781 1061l0 0M835 1135l0 0M746 1123l0 0M799 1094l0 0M667 1081l0 0M866 1083l0 0M795 1033l0 0M826 1168l0 0M733 1082l0 0M766 1062l0 0M695 1040l0 0M806 1106l0 0M869 1185l0 0M850 1182l0 0M841 1022l0 0M676 1187l0 0M850 1125l0 0M790 1094l0 0M745 1043l0 0M774 1065l0 0M674 1169l0 0M780 1170l0 0M715 1118l0 0M711 1162l0 0M695 1130l0 0M775 1074l0 0M665 1102l0 0M768 1160l0 0M693 1050l0 0M717 1157l0 0M700 1128l0 0M654 1032l0 0M811 1104l0 0M672 1100l0 0M865 1086l0 0M776 1091l0 0M764 1025l0 0M852 1118l0 0M727 1067l0 0M690 1180l0 0M842 1083l0 0M787 1114l0 0M693 1024l0 0M817 1046l0 0M778 1021l0 0M651 1046l0 0M798 1124l0 0M877 1132l0 0M768 1020l0 0M869 1103l0 0M846 1025l0 0M841 1100l0 0M697 1088l0 0M664 1119l0 0M697 1140l0 0M687 1138l0 0M790 1141l0 0M867 1069l0 0M805 1087l0 0M854 1161l0 0M824 1122l0 0M707 1175l0 0M872 1183l0 0M725 1160l0 0M804 1164l0 0M833 1097l0 0M738 1156l0 0M798 1111l0 0M850 1023l0 0M649 1098l0 0M669 1164l0 0M667 1171l0 0M698 1041l0 0M822 1135l0 0M742 1121l0 0M775 1182l0 0M764 1111l0 0M754 1089l0 0M807 1037l0 0M807 1179l0 0M823 1112l0 0M728 1035l0 0M668 1111l0 0M851 1168l0 0M689 1148l0 0M834 1101l0 0M846 1050l0 0M724 1107l0 0M815 1096l0 0M716 1168l0 0M737 1091l0 0M698 1102l0 0M811 1081l0 0M800 1103l0 0M649 1185l0 0M713 1113l0 0M869 1054l0 0M661 1053l0 0M682 1166l0 0M767 1025l0 0M709 1107l0 0M687 1071l0 0M857 1095l0 0M700 1122l0 0M672 1108l0 0M797 1033l0 0M774 1072l0 0M819 1125l0 0M858 1123l0 0M689 1050l0 0M810 1158l0 0M661 1090l0 0M712 1099l0 0M849 1115l0 0M819 1151l0 0M711 1125l0 0M733 1100l0 0M770 1134l0 0M685 1163l0 0M684 1072l0 0M844 1189l0 0M731 1183l0 0M655 1184l0 0M693 1024l0 0M823 1046l0 0M821 1019l0 0M675 1080l0 0M666 1100l0 0M727 1146l0 0" stroke="#1a1626" stroke-width="1.7" stroke-opacity="0.8"/>
</g>
<rect x="845.9" y="1184.9" width="32" height="2.6" fill="#000"/><text x="861.9" y="1183.2" text-anchor="middle" style="font-family:'DejaVu Sans',sans-serif;font-weight:700;font-size:7px" fill="#000">200μm</text>
<clipPath id="i4c"><rect x="897.1" y="1017.8" width="233.9" height="173.6"/></clipPath>
<g clip-path="url(#i4c)" fill="none" stroke-linecap="round" stroke-linejoin="round"><rect x="897.1" y="1017.8" width="233.9" height="173.6" fill="#e6e0f0"/>
<path id="i40" d="M980 1176l-5 6l-8 3l5 -7zM995 1137l1 8l-2 4l-3 -5zM990 1020l-8 0l-2 -6l6 1zM1024 1036l-1 -5l2 -4l2 3zM1003 1104l-6 0l-3 -4l6 1zM1054 1013l4 4l0 5l-3 -2zM985 1149l-7 -7l2 -6l3 4zM948 1185l8 -2l7 2l-8 3zM1045 1053l2 -9l8 -2l-4 5zM1015 1190l-5 -2l-2 -4l3 1zM909 1169l0 7l-4 4l-1 -6zM977 1111l0 -6l2 -4l1 5zM920 1183l-4 -2l0 -3l3 1zM903 1155l-4 -2l-1 -4l3 3zM1010 1051l5 4l0 3l-3 -1zM1017 1172l2 -4l6 -2l-4 5zM1063 1018l6 -3l3 2l-3 3zM1041 1199l-3 -7l3 -3l2 4zM960 1108l8 3l2 6l-7 -2zM1066 1149l-5 -5l1 -6l3 4zM1091 1072l-5 1l-3 -1l3 -2zM957 1122l-3 -4l1 -3l2 2zM990 1180l-1 -5l1 -4l2 4zM1100 1115l6 3l4 6l-7 -3zM1023 1179l4 -6l5 -2l-1 5zM1035 1130l-7 1l-6 -5l7 0zM1021 1181l8 0l6 2l-7 2zM1012 1183l6 -5l6 1l-4 5zM1026 1117l2 6l-3 4l-2 -4zM1086 1013l2 4l0 4l-3 -4zM968 1101l6 -1l3 2l-4 2zM1097 1038l8 4l2 6l-6 -2zM1086 1191l2 -7l5 -3l-1 6zM915 1130l4 3l1 3l-4 -1zM915 1139l5 3l1 4l-4 -3zM1082 1137l-3 -5l1 -4l2 3zM1117 1027l-5 1l-4 -3l4 0zM1060 1147l3 2l2 3l-4 -1zM908 1072l-3 -4l1 -5l3 4zM1069 1138l-4 1l-2 -3l3 -1zM910 1089l3 4l0 4l-3 -3zM1063 1165l-3 6l-4 2l0 -5zM1097 1071l-3 7l-4 2l1 -4zM974 1098l-6 3l-6 -3l6 -1zM1013 1095l8 -3l3 3l-4 3zM958 1176l4 -7l5 -1l-1 5zM937 1126l-6 2l-3 -2l3 -2zM902 1185l-3 3l-3 -1l2 -2zM1101 1122l4 2l0 5l-3 -3zM1112 1053l5 5l0 6l-3 -4zM1062 1040l-2 5l-3 0l1 -3zM1060 1040l-2 -6l2 -6l3 5zM1074 1041l-2 -4l2 -4l2 4zM1111 1149l-3 7l-4 1l1 -5zM914 1074l-4 3l-4 0l3 -3zM1126 1035l1 6l-3 4l0 -6zM1085 1148l4 -3l3 2l-2 1zM1047 1169l0 5l-3 1l0 -3zM1079 1030l4 -2l4 1l-4 2zM1135 1010l1 8l-4 2l0 -4zM1033 1158l-6 -2l-4 -2l5 -1zM1128 1181l-5 7l-7 0l5 -5zM1074 1180l5 3l3 5l-6 -2zM999 1161l-4 -1l-2 -2l3 0zM1045 1148l0 6l-3 1l0 -4zM1048 1155l6 4l1 4l-4 -2zM1025 1156l-5 2l-4 -2l4 -2zM905 1109l-3 -7l2 -4l2 4zM1059 1130l7 -5l5 2l-5 3zM1019 1119l-7 -3l-4 -4l6 0zM1118 1081l-7 1l-6 -5l7 0zM1048 1183l4 6l-1 7l-3 -6zM897 1045l8 0l3 4l-5 1zM1099 1124l-6 5l-5 -1l3 -3zM1091 1200l-2 -7l2 -6l2 5zM1107 1176l0 -5l3 -2l0 4zM1011 1051l4 -6l6 -1l-1 4zM983 1124l0 6l-3 5l0 -6zM951 1165l5 5l2 7l-6 -5zM961 1152l-1 6l-4 2l-1 -5zM1075 1145l6 4l1 3l-3 -1zM910 1130l4 -3l2 2l-2 2zM1019 1144l-6 0l-4 -3l5 0zM1127 1166l-6 0l-4 -6l6 1zM1135 1054l-4 -7l3 -5l2 4zM1091 1057l1 5l-3 2l0 -3zM1032 1021l2 6l-3 3l0 -4zM1097 1023l5 4l1 4l-4 -1zM897 1162l-3 -4l0 -2l3 2zM1109 1067l-3 3l-4 0l4 -3zM948 1129l4 7l-2 5l-4 -3zM990 1120l-1 -8l4 -4l1 6zM1069 1029l-4 2l-4 -2l3 -1zM1003 1028l4 -3l4 -1l-3 3zM917 1110l-8 2l-5 -3l6 -2zM1005 1156l-5 0l-4 -4l5 0zM1036 1048l-7 4l-8 -2l7 -4zM1114 1154l-3 -3l1 -3l2 1zM906 1083l5 0l3 3l-5 -1zM1076 1153l-3 -3l1 -3l2 2zM1108 1187l-3 5l-4 2l1 -4zM1011 1135l-6 -4l-2 -5l5 3zM1082 1160l-4 -2l-2 -4l4 1zM1062 1111l0 7l-3 6l-2 -6zM1073 1178l0 -5l4 -2l0 4zM1018 1021l-4 -1l-1 -3l4 1zM952 1103l3 6l-2 5l-3 -5zM1029 1161l-3 5l-4 1l1 -4zM898 1049l1 5l-1 4l-3 -5zM921 1077l-6 1l-5 -4l6 0zM981 1172l3 7l-2 6l-3 -5zM1050 1038l-4 -3l0 -3l2 2zM904 1111l3 7l-3 5l-2 -5zM1080 1033l-5 -5l-1 -5l5 3zM1054 1182l-2 -7l2 -3l3 4zM1021 1107l6 0l4 4l-5 0zM1035 1147l-7 -4l-3 -5l6 2zM918 1162l-1 -6l4 -5l0 7zM1105 1110l-5 -4l1 -4l2 2zM955 1093l5 0l2 3l-4 0zM1019 1038l-5 -2l-2 -4l4 1zM1107 1085l-3 -3l0 -3l3 1zM1126 1070l5 2l3 4l-4 -2zM1007 1160l7 -3l5 2l-5 2zM1018 1124l3 -8l6 -2l-2 6zM1064 1083l-7 0l-3 -3l4 -1zM1053 1152l-6 -4l-2 -4l5 1zM1056 1093l1 -4l4 -2l-1 5zM1045 1182l-8 2l-4 -4l4 -1zM1113 1030l6 6l-2 5l-3 -2zM913 1161l6 3l0 4l-4 -1zM1027 1141l-4 2l-3 -1l2 -2zM1099 1023l-6 -7l1 -8l4 6zM1009 1147l-3 4l-4 -1l2 -2zM906 1102l6 0l2 3l-3 1zM1073 1109l-1 5l-4 3l2 -5zM926 1103l-7 -5l-1 -5l5 2zM1080 1090l2 -5l3 -1l-1 3zM1020 1085l5 -4l4 1l-2 2zM1056 1185l-8 -2l-2 -5l6 -1zM1102 1071l-6 -1l-3 -4l5 -1zM1036 1129l-2 -7l2 -5l3 4zM907 1037l1 4l-2 4l-1 -4zM900 1134l-4 -3l0 -6l4 3zM1002 1180l1 -8l3 -2l1 5zM1128 1129l6 -1l4 0l-5 3zM1110 1171l0 7l-3 5l-1 -6zM975 1139l-1 5l-3 3l1 -5zM912 1170l5 3l3 5l-6 -2zM952 1121l1 5l-3 3l0 -4z"/>
<use href="#i40" stroke="#9a64e0" stroke-width="4" stroke-opacity="0.8" fill="#9a64e0" fill-opacity="0.8"/>
<use href="#i40" stroke="#7a36d6" stroke-width="2" fill="#7a36d6"/>
<path d="M914 1123l0 0M911 1152l0 0M1089 1019l0 0M1070 1040l0 0M1008 1039l0 0M1016 1117l0 0M1108 1176l0 0M903 1051l0 0M1038 1120l0 0M1074 1067l0 0M901 1104l0 0M925 1042l0 0M1079 1066l0 0M922 1166l0 0M988 1086l0 0M1099 1027l0 0M1060 1038l0 0M1008 1108l0 0M979 1159l0 0M990 1050l0 0M1121 1186l0 0M1106 1172l0 0M903 1135l0 0M1018 1080l0 0M927 1148l0 0M918 1123l0 0M965 1101l0 0M967 1170l0 0M1024 1134l0 0M899 1074l0 0M1057 1186l0 0M942 1137l0 0M1088 1087l0 0M1089 1044l0 0M1120 1107l0 0M1085 1178l0 0M964 1166l0 0M1002 1179l0 0M909 1024l0 0M1058 1069l0 0M945 1185l0 0M1034 1076l0 0M996 1066l0 0M993 1020l0 0M1063 1169l0 0M968 1151l0 0M986 1154l0 0M1051 1166l0 0M903 1139l0 0M922 1159l0 0M903 1130l0 0M986 1173l0 0M981 1033l0 0M927 1088l0 0M1125 1134l0 0M915 1118l0 0M1124 1137l0 0M1102 1099l0 0M981 1076l0 0M965 1099l0 0M1098 1128l0 0M1041 1104l0 0M907 1139l0 0M1001 1131l0 0M1125 1054l0 0M1065 1150l0 0M996 1123l0 0M958 1116l0 0M1052 1100l0 0M960 1121l0 0M1080 1105l0 0M1044 1029l0 0M985 1044l0 0M1038 1177l0 0M935 1052l0 0M1090 1136l0 0M1018 1035l0 0M999 1030l0 0M992 1036l0 0M1078 1048l0 0M933 1107l0 0M941 1058l0 0M1032 1114l0 0M985 1156l0 0M1037 1055l0 0M1085 1098l0 0M910 1171l0 0M1025 1116l0 0M1092 1168l0 0M1096 1116l0 0M1031 1125l0 0M939 1034l0 0M927 1085l0 0M948 1097l0 0M1055 1099l0 0M985 1152l0 0M965 1160l0 0M1096 1189l0 0M1069 1090l0 0M1088 1180l0 0M989 1097l0 0M994 1165l0 0M1020 1186l0 0M1090 1141l0 0M1123 1166l0 0M1023 1103l0 0M1035 1141l0 0M913 1101l0 0M995 1071l0 0M952 1046l0 0M1092 1024l0 0M989 1140l0 0M1043 1057l0 0M916 1186l0 0M937 1162l0 0M1051 1176l0 0M1038 1033l0 0M983 1026l0 0M1030 1177l0 0M1088 1164l0 0M948 1144l0 0M1041 1046l0 0M1022 1144l0 0M908 1070l0 0M1089 1153l0 0M1025 1188l0 0M1131 1163l0 0M947 1146l0 0M983 1026l0 0M1102 1049l0 0M1103 1076l0 0M1076 1189l0 0M940 1150l0 0M989 1043l0 0M1050 1038l0 0M928 1116l0 0M964 1154l0 0M1107 1035l0 0M901 1101l0 0M1077 1073l0 0M1043 1071l0 0M950 1098l0 0M1014 1171l0 0M912 1169l0 0M934 1113l0 0M965 1111l0 0M935 1027l0 0M1054 1053l0 0M959 1102l0 0M985 1095l0 0M1025 1148l0 0M1052 1090l0 0M965 1106l0 0M900 1039l0 0M983 1184l0 0M1062 1138l0 0M1095 1170l0 0M1101 1086l0 0M937 1022l0 0M1103 1135l0 0M1055 1087l0 0M912 1117l0 0M1029 1028l0 0M915 1173l0 0M1102 1104l0 0M1055 1091l0 0M904 1185l0 0M1111 1188l0 0M968 1022l0 0M1119 1151l0 0M1019 1116l0 0M946 1031l0 0M941 1187l0 0M1077 1185l0 0M910 1028l0 0M976 1145l0 0M1097 1117l0 0M1075 1048l0 0M1107 1072l0 0M1063 1125l0 0M957 1077l0 0M948 1183l0 0M977 1174l0 0M1100 1035l0 0M989 1050l0 0M1020 1185l0 0M1009 1159l0 0M945 1037l0 0M918 1080l0 0M1087 1018l0 0M1032 1021l0 0M972 1027l0 0M968 1084l0 0M1031 1063l0 0M925 1096l0 0M1127 1135l0 0M1013 1025l0 0M912 1150l0 0M1044 1053l0 0M898 1047l0 0M1066 1089l0 0M1053 1073l0 0M1086 1139l0 0M920 1163l0 0M974 1154l0 0M907 1105l0 0M909 1169l0 0M987 1134l0 0M1041 1056l0 0M1044 1087l0 0M947 1179l0 0M1081 1154l0 0M947 1185l0 0M1120 1185l0 0M1045 1117l0 0M1093 1095l0 0M988 1080l0 0M1029 1110l0 0M996 1069l0 0M1127 1123l0 0M981 1039l0 0M1008 1079l0 0M929 1099l0 0M1065 1142l0 0M1035 1163l0 0M1009 1191l0 0M1025 1096l0 0M1016 1066l0 0M948 1136l0 0M1102 1100l0 0M1109 1167l0 0M953 1035l0 0M1110 1077l0 0M1125 1131l0 0M974 1142l0 0M954 1078l0 0M914 1143l0 0M1072 1061l0 0M1089 1171l0 0M997 1130l0 0M963 1187l0 0M957 1099l0 0M1103 1034l0 0M1089 1182l0 0M1061 1183l0 0M1072 1084l0 0M936 1065l0 0M915 1021l0 0M997 1065l0 0M1068 1095l0 0M920 1111l0 0M1071 1112l0 0M932 1148l0 0M1049 1188l0 0M908 1085l0 0M1006 1077l0 0M1055 1052l0 0M1068 1062l0 0M1057 1087l0 0M1118 1038l0 0M1100 1027l0 0M947 1032l0 0M1015 1119l0 0M952 1052l0 0M901 1128l0 0M955 1077l0 0M953 1075l0 0M918 1076l0 0M1122 1043l0 0M994 1026l0 0M1041 1173l0 0M1128 1133l0 0M943 1170l0 0M1058 1019l0 0M1124 1102l0 0M1130 1181l0 0M1037 1101l0 0M1120 1185l0 0M1020 1049l0 0M1105 1183l0 0M936 1068l0 0M931 1028l0 0M994 1031l0 0M1112 1134l0 0M1130 1164l0 0M1109 1111l0 0M912 1068l0 0M1102 1050l0 0M1056 1073l0 0M985 1059l0 0M930 1072l0 0M1103 1115l0 0M1071 1137l0 0M981 1021l0 0M1129 1050l0 0M939 1061l0 0M1112 1023l0 0M998 1059l0 0M911 1054l0 0M926 1066l0 0M1043 1079l0 0M967 1132l0 0M984 1153l0 0M1123 1046l0 0M961 1157l0 0M938 1157l0 0M1084 1154l0 0M1012 1156l0 0M1002 1167l0 0M1096 1090l0 0M943 1120l0 0M970 1022l0 0M1104 1036l0 0M1020 1121l0 0M912 1156l0 0M1038 1137l0 0M954 1033l0 0M974 1081l0 0M1087 1166l0 0M1105 1161l0 0M1013 1154l0 0M1084 1121l0 0M1038 1138l0 0M948 1141l0 0M1044 1188l0 0M1005 1078l0 0M968 1170l0 0M1054 1139l0 0M1001 1156l0 0M1079 1190l0 0M1051 1150l0 0M1022 1107l0 0M1103 1188l0 0M918 1137l0 0M998 1121l0 0M1086 1073l0 0M1120 1099l0 0M1019 1029l0 0M905 1088l0 0M1076 1081l0 0M1041 1048l0 0M983 1156l0 0M906 1175l0 0M934 1021l0 0M922 1147l0 0M962 1036l0 0M1074 1091l0 0M1090 1173l0 0M1060 1130l0 0M961 1137l0 0M1069 1033l0 0M946 1072l0 0M1053 1024l0 0M1081 1108l0 0M925 1158l0 0M1055 1084l0 0M919 1175l0 0M960 1023l0 0M934 1025l0 0M1061 1055l0 0M955 1076l0 0M1039 1085l0 0M977 1047l0 0M1030 1078l0 0M1043 1065l0 0M992 1032l0 0M1035 1073l0 0M911 1073l0 0M1092 1190l0 0M1054 1127l0 0M1015 1191l0 0M1013 1083l0 0M978 1170l0 0M1009 1037l0 0M900 1019l0 0M950 1120l0 0M1002 1188l0 0M1091 1114l0 0M1003 1038l0 0M1027 1136l0 0M1118 1169l0 0M921 1087l0 0M1019 1086l0 0M1027 1071l0 0M1043 1137l0 0M991 1037l0 0M1046 1109l0 0M1010 1114l0 0M976 1078l0 0M988 1144l0 0M1098 1064l0 0M1091 1108l0 0M929 1156l0 0M1071 1024l0 0M1087 1114l0 0M987 1171l0 0M1003 1094l0 0M1110 1057l0 0M991 1145l0 0M1061 1090l0 0M1100 1140l0 0M1064 1174l0 0M898 1066l0 0M898 1021l0 0M1017 1130l0 0M1071 1024l0 0M1065 1077l0 0M1071 1039l0 0M928 1155l0 0M1029 1121l0 0M1129 1079l0 0M1037 1163l0 0M1070 1165l0 0M986 1162l0 0M906 1185l0 0M1059 1088l0 0M948 1189l0 0M1043 1157l0 0M915 1022l0 0M972 1126l0 0M937 1025l0 0M1118 1178l0 0M1112 1185l0 0M983 1108l0 0M913 1189l0 0M923 1127l0 0M1089 1076l0 0M940 1026l0 0M1033 1037l0 0M1007 1020l0 0M1046 1190l0 0M931 1024l0 0M1018 1040l0 0M946 1155l0 0M1066 1060l0 0M901 1109l0 0M945 1062l0 0M942 1081l0 0M1099 1068l0 0M1118 1030l0 0M1067 1041l0 0M1098 1031l0 0M1056 1139l0 0M1029 1091l0 0M1027 1023l0 0M910 1139l0 0M1067 1159l0 0M1117 1105l0 0M982 1151l0 0M912 1147l0 0M935 1098l0 0M1014 1119l0 0M1024 1070l0 0M1106 1133l0 0M1030 1057l0 0M1048 1085l0 0M982 1152l0 0M1104 1153l0 0M1036 1118l0 0M938 1034l0 0M962 1160l0 0M992 1153l0 0M1029 1086l0 0M1034 1046l0 0M977 1167l0 0M998 1057l0 0M1092 1143l0 0M1098 1039l0 0M1128 1175l0 0M1045 1064l0 0M1055 1156l0 0M1107 1178l0 0M975 1040l0 0M1071 1075l0 0M918 1038l0 0M979 1057l0 0M985 1115l0 0M1070 1162l0 0M1090 1054l0 0M933 1089l0 0M906 1102l0 0M1005 1170l0 0M922 1159l0 0M1055 1105l0 0M1114 1168l0 0M1065 1019l0 0M1056 1102l0 0M1102 1173l0 0M1103 1123l0 0M1008 1037l0 0M1128 1070l0 0M1063 1067l0 0M1049 1020l0 0M990 1134l0 0M1050 1050l0 0M1086 1038l0 0M1126 1083l0 0M1104 1106l0 0M986 1085l0 0M1121 1063l0 0M1060 1081l0 0M1067 1072l0 0M1105 1128l0 0M1078 1059l0 0M1097 1121l0 0M1070 1122l0 0M1039 1150l0 0M959 1170l0 0M954 1134l0 0M1033 1081l0 0M1085 1107l0 0M996 1189l0 0M1054 1140l0 0M1020 1113l0 0M1077 1164l0 0M958 1100l0 0M943 1075l0 0M1007 1026l0 0M917 1032l0 0M1053 1094l0 0M916 1040l0 0M1055 1103l0 0M924 1088l0 0M1000 1027l0 0M897 1134l0 0M1080 1120l0 0M1093 1065l0 0M1036 1060l0 0M1079 1052l0 0M1019 1137l0 0M1041 1094l0 0M1002 1117l0 0M963 1096l0 0M941 1181l0 0M984 1089l0 0M911 1020l0 0M1093 1102l0 0M999 1049l0 0M1063 1063l0 0M985 1101l0 0M943 1053l0 0M943 1125l0 0M1085 1144l0 0M1113 1152l0 0M1079 1136l0 0M928 1173l0 0M1063 1038l0 0M1018 1130l0 0M1015 1119l0 0M1083 1038l0 0M1069 1146l0 0M999 1137l0 0M933 1177l0 0M1130 1091l0 0M952 1020l0 0M1030 1101l0 0M1093 1024l0 0M1092 1163l0 0M1014 1043l0 0M910 1090l0 0M1077 1098l0 0M1041 1100l0 0M973 1165l0 0M1040 1099l0 0M1086 1121l0 0M1043 1125l0 0M962 1147l0 0M1127 1018l0 0M959 1070l0 0M981 1085l0 0M1033 1181l0 0M1026 1046l0 0M920 1164l0 0M1069 1121l0 0M976 1044l0 0M975 1022l0 0M1060 1107l0 0M1111 1191l0 0M1128 1070l0 0M927 1134l0 0M959 1024l0 0M1032 1156l0 0M958 1154l0 0M948 1083l0 0M927 1136l0 0M1064 1064l0 0M998 1154l0 0M997 1046l0 0M1039 1166l0 0M989 1072l0 0M1082 1190l0 0M1058 1121l0 0M1009 1091l0 0M978 1157l0 0M1020 1079l0 0M1051 1023l0 0M1021 1026l0 0M1014 1149l0 0M941 1081l0 0M1131 1166l0 0M913 1146l0 0M904 1061l0 0M950 1089l0 0M1062 1182l0 0M1101 1144l0 0M1084 1168l0 0M901 1084l0 0M1027 1188l0 0M978 1049l0 0M989 1020l0 0M1035 1125l0 0M1089 1096l0 0M945 1030l0 0M1049 1167l0 0M943 1147l0 0M1039 1075l0 0M1056 1053l0 0M947 1035l0 0M943 1145l0 0M968 1142l0 0M1003 1067l0 0M986 1114l0 0M986 1109l0 0M939 1021l0 0M905 1046l0 0M1061 1078l0 0M990 1102l0 0M1032 1138l0 0M1074 1185l0 0M991 1047l0 0M918 1066l0 0M1093 1085l0 0M923 1123l0 0M927 1100l0 0M1109 1125l0 0M967 1082l0 0M944 1151l0 0M1033 1137l0 0M1090 1033l0 0M931 1121l0 0M1058 1188l0 0M1030 1032l0 0M1028 1124l0 0M1033 1131l0 0M1067 1081l0 0M926 1156l0 0M973 1133l0 0M1089 1172l0 0M1093 1169l0 0M980 1030l0 0M967 1109l0 0M1062 1076l0 0M1046 1168l0 0M1072 1150l0 0M921 1174l0 0M899 1102l0 0M1024 1088l0 0M1020 1100l0 0M1030 1152l0 0M1008 1112l0 0M922 1059l0 0M992 1041l0 0M999 1068l0 0M1095 1102l0 0M981 1183l0 0M998 1113l0 0M1022 1164l0 0M1040 1062l0 0M1113 1045l0 0M1080 1018l0 0M900 1040l0 0M1051 1076l0 0M1057 1111l0 0M927 1084l0 0M1028 1045l0 0M1067 1171l0 0M1009 1139l0 0M913 1160l0 0M941 1054l0 0M908 1104l0 0M1054 1028l0 0M1090 1159l0 0M1069 1142l0 0M1035 1064l0 0M911 1106l0 0M1000 1074l0 0M1109 1131l0 0M1121 1129l0 0M1021 1074l0 0M1059 1184l0 0M1054 1104l0 0M1070 1131l0 0M996 1115l0 0M1033 1142l0 0M903 1094l0 0M970 1084l0 0M1005 1131l0 0M1114 1036l0 0M974 1075l0 0M962 1176l0 0M1090 1155l0 0M905 1090l0 0M1047 1125l0 0M1010 1057l0 0M953 1045l0 0M932 1069l0 0M965 1042l0 0M980 1107l0 0M1054 1153l0 0M955 1179l0 0M921 1165l0 0M983 1184l0 0M953 1133l0 0M1044 1180l0 0M947 1148l0 0M1000 1116l0 0M959 1147l0 0M957 1154l0 0M919 1175l0 0M1034 1186l0 0M1116 1095l0 0M913 1117l0 0M994 1062l0 0M949 1041l0 0M1085 1163l0 0M1098 1028l0 0M924 1191l0 0M1057 1106l0 0M1054 1056l0 0M1094 1130l0 0M1094 1120l0 0M1079 1184l0 0M1031 1048l0 0M1044 1139l0 0M1021 1057l0 0M1061 1102l0 0M943 1105l0 0M983 1087l0 0M952 1072l0 0M1082 1169l0 0M906 1159l0 0M928 1150l0 0M1118 1103l0 0M966 1085l0 0M1129 1106l0 0M1101 1066l0 0M975 1070l0 0M957 1133l0 0M996 1037l0 0M937 1063l0 0M1034 1165l0 0M939 1159l0 0M984 1057l0 0M1117 1147l0 0M1060 1171l0 0M1030 1078l0 0M1035 1072l0 0M948 1119l0 0M1020 1175l0 0M1088 1191l0 0M1078 1045l0 0M1116 1174l0 0M1122 1183l0 0M1002 1181l0 0M1072 1137l0 0M971 1169l0 0M1037 1040l0 0M1050 1028l0 0M1019 1160l0 0M988 1030l0 0M1128 1161l0 0M1052 1099l0 0M964 1058l0 0M1007 1096l0 0M1097 1031l0 0M993 1018l0 0M1022 1177l0 0M1001 1186l0 0M1010 1105l0 0M1097 1123l0 0M1112 1020l0 0M1031 1050l0 0M937 1179l0 0M900 1069l0 0M1089 1110l0 0M993 1060l0 0M967 1106l0 0M1075 1092l0 0M984 1027l0 0M938 1076l0 0M921 1039l0 0M1129 1128l0 0M1111 1115l0 0M1119 1120l0 0M1009 1086l0 0M1088 1116l0 0M965 1034l0 0M956 1165l0 0M1031 1132l0 0M1029 1169l0 0M1082 1111l0 0M1047 1129l0 0M1047 1065l0 0M1087 1139l0 0M1119 1098l0 0M1116 1066l0 0M930 1027l0 0M973 1026l0 0M1099 1143l0 0M1076 1035l0 0M966 1087l0 0M923 1022l0 0M1084 1079l0 0M973 1116l0 0M958 1120l0 0M983 1131l0 0M1090 1071l0 0M981 1050l0 0M981 1157l0 0M927 1137l0 0M1084 1061l0 0M993 1181l0 0M1075 1139l0 0M1061 1041l0 0M911 1055l0 0M1018 1137l0 0M926 1149l0 0M1027 1159l0 0M1087 1025l0 0M995 1023l0 0M1131 1123l0 0M922 1150l0 0M920 1086l0 0M952 1021l0 0M1038 1135l0 0M1084 1093l0 0M942 1060l0 0M935 1112l0 0M1051 1140l0 0M1100 1141l0 0M999 1158l0 0M1113 1150l0 0M1048 1094l0 0M913 1117l0 0M967 1154l0 0M907 1098l0 0M1064 1184l0 0M1072 1051l0 0M1114 1051l0 0M966 1110l0 0M999 1088l0 0M1000 1030l0 0M1086 1149l0 0M1009 1113l0 0M957 1102l0 0M958 1056l0 0M1088 1083l0 0M1116 1056l0 0M1125 1057l0 0M1015 1068l0 0M985 1036l0 0M1059 1104l0 0M959 1047l0 0M974 1189l0 0M901 1128l0 0M1097 1087l0 0M961 1172l0 0M926 1092l0 0M984 1019l0 0M1092 1165l0 0M1102 1093l0 0M1067 1156l0 0M1105 1119l0 0M1086 1169l0 0M1033 1178l0 0M985 1185l0 0M1030 1096l0 0M1127 1157l0 0M969 1185l0 0M998 1057l0 0M977 1156l0 0M1000 1167l0 0M942 1098l0 0M918 1044l0 0M1076 1150l0 0M941 1078l0 0M1003 1040l0 0M997 1036l0 0M1131 1115l0 0M1110 1178l0 0M1063 1020l0 0M967 1191l0 0M998 1115l0 0M1068 1127l0 0M935 1052l0 0M1037 1024l0 0M965 1117l0 0M929 1066l0 0M1060 1110l0 0M1065 1113l0 0" stroke="#1a1626" stroke-width="1.6" stroke-opacity="0.8"/>
</g>
<rect x="1098" y="1184.9" width="32" height="2.6" fill="#000"/><text x="1114" y="1183.2" text-anchor="middle" style="font-family:'DejaVu Sans',sans-serif;font-weight:700;font-size:7px" fill="#000">200μm</text>
<defs>
<radialGradient id="in1" cx="0.45" cy="0.45" r="0.6"><stop offset="0" stop-color="#f2f2f2"/><stop offset="1" stop-color="#e8e8e8"/></radialGradient>
<radialGradient id="in2" cx="0.38" cy="0.32" r="0.75"><stop offset="0" stop-color="#ececec"/><stop offset="0.6" stop-color="#e2e2e2"/><stop offset="1" stop-color="#cfd1cf"/></radialGradient>
<radialGradient id="in3" cx="0.5" cy="0.5" r="0.6"><stop offset="0" stop-color="#efefef"/><stop offset="1" stop-color="#e8e8e8"/></radialGradient>
</defs>
<path d="M191.3 595L317.9 594.1A126.6 126.6 0 0 1 317.5 604.7Z" fill="#5246d3"/><path d="M191.3 595L317.7 602.9A126.6 126.6 0 0 1 316.5 613.5Z" fill="#5043d1"/><path d="M191.3 595L316.8 611.7A126.6 126.6 0 0 1 314.9 622.2Z" fill="#4e41d0"/><path d="M191.3 595L315.3 620.5A126.6 126.6 0 0 1 312.7 630.7Z" fill="#4b3ece"/><path d="M191.3 595L313.2 629.0A126.6 126.6 0 0 1 310.0 639.1Z" fill="#493ccd"/><path d="M191.3 595L310.6 637.5A126.6 126.6 0 0 1 306.6 647.3Z" fill="#4739cb"/><path d="M191.3 595L307.3 645.7A126.6 126.6 0 0 1 302.7 655.2Z" fill="#4437ca"/><path d="M191.3 595L303.5 653.7A126.6 126.6 0 0 1 298.2 662.8Z" fill="#4234c8"/><path d="M191.3 595L299.1 661.3A126.6 126.6 0 0 1 293.2 670.1Z" fill="#4133c7"/><path d="M191.3 595L294.2 668.7A126.6 126.6 0 0 1 287.7 677.1Z" fill="#4032c5"/><path d="M191.3 595L288.8 675.7A126.6 126.6 0 0 1 281.8 683.6Z" fill="#3e30c4"/><path d="M191.3 595L283.0 682.3A126.6 126.6 0 0 1 275.4 689.7Z" fill="#3d2fc3"/><path d="M191.3 595L276.7 688.5A126.6 126.6 0 0 1 268.5 695.3Z" fill="#3c2ec1"/><path d="M191.3 595L269.9 694.2A126.6 126.6 0 0 1 261.4 700.4Z" fill="#3b2dc0"/><path d="M191.3 595L262.8 699.5A126.6 126.6 0 0 1 253.8 705.1Z" fill="#3a2cbf"/><path d="M191.3 595L255.4 704.2A126.6 126.6 0 0 1 246.0 709.2Z" fill="#382abd"/><path d="M191.3 595L247.6 708.4A126.6 126.6 0 0 1 237.9 712.7Z" fill="#3729bc"/><path d="M191.3 595L239.5 712.0A126.6 126.6 0 0 1 229.6 715.7Z" fill="#3628bb"/><path d="M191.3 595L231.3 715.1A126.6 126.6 0 0 1 221.1 718.1Z" fill="#3527b9"/><path d="M191.3 595L222.8 717.6A126.6 126.6 0 0 1 212.4 719.8Z" fill="#3426b8"/><path d="M191.3 595L214.2 719.5A126.6 126.6 0 0 1 203.7 721.0Z" fill="#3224b7"/><path d="M191.3 595L205.4 720.8A126.6 126.6 0 0 1 194.8 721.6Z" fill="#3123b5"/><path d="M191.3 595L196.6 721.5A126.6 126.6 0 0 1 186.0 721.5Z" fill="#3022b4"/><path d="M191.3 595L187.8 721.6A126.6 126.6 0 0 1 177.2 720.8Z" fill="#3123b5"/><path d="M191.3 595L178.9 721.0A126.6 126.6 0 0 1 168.4 719.5Z" fill="#3224b6"/><path d="M191.3 595L170.2 719.8A126.6 126.6 0 0 1 159.8 717.6Z" fill="#3325b8"/><path d="M191.3 595L161.5 718.1A126.6 126.6 0 0 1 151.3 715.1Z" fill="#3426b9"/><path d="M191.3 595L153.0 715.7A126.6 126.6 0 0 1 143.1 712.0Z" fill="#3527ba"/><path d="M191.3 595L144.7 712.7A126.6 126.6 0 0 1 135.0 708.4Z" fill="#3628bb"/><path d="M191.3 595L136.6 709.2A126.6 126.6 0 0 1 127.2 704.2Z" fill="#3729bc"/><path d="M191.3 595L128.8 705.1A126.6 126.6 0 0 1 119.8 699.5Z" fill="#392bbe"/><path d="M191.3 595L121.2 700.4A126.6 126.6 0 0 1 112.7 694.2Z" fill="#3a2cbf"/><path d="M191.3 595L114.1 695.3A126.6 126.6 0 0 1 105.9 688.5Z" fill="#3b2dc0"/><path d="M191.3 595L107.2 689.7A126.6 126.6 0 0 1 99.6 682.3Z" fill="#3c2ec1"/><path d="M191.3 595L100.8 683.6A126.6 126.6 0 0 1 93.8 675.7Z" fill="#3d2fc2"/><path d="M191.3 595L94.9 677.1A126.6 126.6 0 0 1 88.4 668.7Z" fill="#3e30c4"/><path d="M191.3 595L89.4 670.1A126.6 126.6 0 0 1 83.5 661.3Z" fill="#3f31c5"/><path d="M191.3 595L84.4 662.8A126.6 126.6 0 0 1 79.1 653.7Z" fill="#4032c6"/><path d="M191.3 595L79.9 655.2A126.6 126.6 0 0 1 75.3 645.7Z" fill="#4335c8"/><path d="M191.3 595L76.0 647.3A126.6 126.6 0 0 1 72.0 637.5Z" fill="#4638ca"/><path d="M191.3 595L72.6 639.1A126.6 126.6 0 0 1 69.4 629.0Z" fill="#483bcc"/><path d="M191.3 595L69.9 630.7A126.6 126.6 0 0 1 67.3 620.5Z" fill="#4b3ecd"/><path d="M191.3 595L67.7 622.2A126.6 126.6 0 0 1 65.8 611.7Z" fill="#4e41cf"/><path d="M191.3 595L66.1 613.5A126.6 126.6 0 0 1 64.9 602.9Z" fill="#5144d1"/><path d="M191.3 595L65.1 604.7A126.6 126.6 0 0 1 64.7 594.1Z" fill="#7d75d5"/><path d="M191.3 595L64.7 595.9A126.6 126.6 0 0 1 65.1 585.3Z" fill="#d2d2dc"/><path d="M191.3 595L64.9 587.1A126.6 126.6 0 0 1 66.1 576.5Z" fill="#d2d2dc"/><path d="M191.3 595L65.8 578.3A126.6 126.6 0 0 1 67.7 567.8Z" fill="#d3d3dc"/><path d="M191.3 595L67.3 569.5A126.6 126.6 0 0 1 69.9 559.3Z" fill="#d3d3dd"/><path d="M191.3 595L69.4 561.0A126.6 126.6 0 0 1 72.6 550.9Z" fill="#d3d3dd"/><path d="M191.3 595L72.0 552.5A126.6 126.6 0 0 1 76.0 542.7Z" fill="#d3d3dd"/><path d="M191.3 595L75.3 544.3A126.6 126.6 0 0 1 79.9 534.8Z" fill="#d4d4dd"/><path d="M191.3 595L79.1 536.3A126.6 126.6 0 0 1 84.4 527.2Z" fill="#d4d4dd"/><path d="M191.3 595L83.5 528.7A126.6 126.6 0 0 1 89.4 519.9Z" fill="#d4d4dd"/><path d="M191.3 595L88.4 521.3A126.6 126.6 0 0 1 94.9 512.9Z" fill="#d4d4de"/><path d="M191.3 595L93.8 514.3A126.6 126.6 0 0 1 100.8 506.4Z" fill="#d5d5de"/><path d="M191.3 595L99.6 507.7A126.6 126.6 0 0 1 107.2 500.3Z" fill="#d5d5de"/><path d="M191.3 595L105.9 501.5A126.6 126.6 0 0 1 114.1 494.7Z" fill="#d5d5de"/><path d="M191.3 595L112.7 495.8A126.6 126.6 0 0 1 121.2 489.6Z" fill="#d6d6de"/><path d="M191.3 595L119.8 490.5A126.6 126.6 0 0 1 128.8 484.9Z" fill="#d6d6df"/><path d="M191.3 595L127.2 485.8A126.6 126.6 0 0 1 136.6 480.8Z" fill="#d6d6df"/><path d="M191.3 595L135.0 481.6A126.6 126.6 0 0 1 144.7 477.3Z" fill="#d6d6df"/><path d="M191.3 595L143.1 478.0A126.6 126.6 0 0 1 153.0 474.3Z" fill="#d7d7df"/><path d="M191.3 595L151.3 474.9A126.6 126.6 0 0 1 161.5 471.9Z" fill="#d7d7df"/><path d="M191.3 595L159.8 472.4A126.6 126.6 0 0 1 170.2 470.2Z" fill="#d7d7df"/><path d="M191.3 595L168.4 470.5A126.6 126.6 0 0 1 178.9 469.0Z" fill="#d7d7e0"/><path d="M191.3 595L177.2 469.2A126.6 126.6 0 0 1 187.8 468.4Z" fill="#d8d8e0"/><path d="M191.3 595L186.0 468.5A126.6 126.6 0 0 1 196.6 468.5Z" fill="#d8d8e0"/><path d="M191.3 595L194.8 468.4A126.6 126.6 0 0 1 205.4 469.2Z" fill="#d8d8e0"/><path d="M191.3 595L203.7 469.0A126.6 126.6 0 0 1 214.2 470.5Z" fill="#d8d8e0"/><path d="M191.3 595L212.4 470.2A126.6 126.6 0 0 1 222.8 472.4Z" fill="#d7d7e0"/><path d="M191.3 595L221.1 471.9A126.6 126.6 0 0 1 231.3 474.9Z" fill="#d7d7e0"/><path d="M191.3 595L229.6 474.3A126.6 126.6 0 0 1 239.5 478.0Z" fill="#d7d7e0"/><path d="M191.3 595L237.9 477.3A126.6 126.6 0 0 1 247.6 481.6Z" fill="#d7d7df"/><path d="M191.3 595L246.0 480.8A126.6 126.6 0 0 1 255.4 485.8Z" fill="#d7d7df"/><path d="M191.3 595L253.8 484.9A126.6 126.6 0 0 1 262.8 490.5Z" fill="#d6d6df"/><path d="M191.3 595L261.4 489.6A126.6 126.6 0 0 1 269.9 495.8Z" fill="#d6d6df"/><path d="M191.3 595L268.5 494.7A126.6 126.6 0 0 1 276.7 501.5Z" fill="#d6d6df"/><path d="M191.3 595L275.4 500.3A126.6 126.6 0 0 1 283.0 507.7Z" fill="#d6d6df"/><path d="M191.3 595L281.8 506.4A126.6 126.6 0 0 1 288.8 514.3Z" fill="#d6d6df"/><path d="M191.3 595L287.7 512.9A126.6 126.6 0 0 1 294.2 521.3Z" fill="#d5d5df"/><path d="M191.3 595L293.2 519.9A126.6 126.6 0 0 1 299.1 528.7Z" fill="#d5d5df"/><path d="M191.3 595L298.2 527.2A126.6 126.6 0 0 1 303.5 536.3Z" fill="#d5d5df"/><path d="M191.3 595L302.7 534.8A126.6 126.6 0 0 1 307.3 544.3Z" fill="#d5d5de"/><path d="M191.3 595L306.6 542.7A126.6 126.6 0 0 1 310.6 552.5Z" fill="#d5d5de"/><path d="M191.3 595L310.0 550.9A126.6 126.6 0 0 1 313.2 561.0Z" fill="#d4d4de"/><path d="M191.3 595L312.7 559.3A126.6 126.6 0 0 1 315.3 569.5Z" fill="#d4d4de"/><path d="M191.3 595L314.9 567.8A126.6 126.6 0 0 1 316.8 578.3Z" fill="#d4d4de"/><path d="M191.3 595L316.5 576.5A126.6 126.6 0 0 1 317.7 587.1Z" fill="#afacdb"/><path d="M191.3 595L317.5 585.3A126.6 126.6 0 0 1 317.9 595.9Z" fill="#665cd5"/>
<circle cx="191.3" cy="595" r="125.8" fill="none" stroke="#303058" stroke-width="1.6"/>
<circle cx="191.3" cy="595" r="122.6" fill="none" stroke="#fff" stroke-opacity="0.3" stroke-width="2"/>
<circle cx="191.3" cy="595" r="116.6" fill="none" stroke="#fff" stroke-opacity="0.2" stroke-width="1.5"/>
<rect x="302.9" y="591.5" width="15" height="7" fill="#ffffff" fill-opacity="0.55" transform="rotate(-90 191.3 595)"/><rect x="302.9" y="591.5" width="15" height="7" fill="#ffffff" fill-opacity="0.55" transform="rotate(0 191.3 595)"/><rect x="302.9" y="591.5" width="15" height="7" fill="#ffffff" fill-opacity="0.55" transform="rotate(180 191.3 595)"/><rect x="302.9" y="591.5" width="15" height="7" fill="#ffffff" fill-opacity="0.55" transform="rotate(90 191.3 595)"/>
<circle cx="193.2" cy="595.7" r="110.8" fill="url(#in1)" stroke="#101018" stroke-width="2.2"/>
<g fill="none" stroke-linecap="round"><path id="dt1" d="M253.0 560.9h0M129.8 560.0h0M200.0 536.7h0M200.2 536.8h0M234.7 538.1h0M235.4 538.6h0M234.3 538.3h0M174.6 612.9h0M172.8 613.4h0M180.1 547.7h0M178.9 547.0h0M96.6 592.8h0M232.4 544.6h0M232.8 544.4h0M139.9 596.0h0M235.6 615.9h0M235.8 615.6h0M148.5 586.4h0M147.6 585.8h0M195.2 631.4h0M194.5 632.3h0M242.7 652.6h0M244.1 651.4h0M279.1 634.9h0M217.3 615.9h0M257.4 604.2h0M257.8 603.6h0M267.5 652.4h0M267.2 652.7h0M267.5 652.2h0M162.1 524.8h0M151.2 595.4h0M275.1 612.2h0M275.8 612.7h0M275.6 612.2h0M186.0 679.1h0M187.5 680.1h0M212.7 667.7h0M212.2 667.7h0M212.5 668.4h0M270.3 628.3h0M269.8 628.2h0M133.3 623.3h0M189.8 617.9h0M190.2 617.9h0M129.0 607.7h0M129.4 607.8h0M128.8 607.6h0M224.9 684.7h0M225.1 684.0h0M224.3 684.7h0M158.0 592.2h0M239.2 630.7h0M236.3 545.1h0M190.9 611.1h0M190.4 611.6h0M190.4 611.9h0M286.8 594.8h0M286.0 594.9h0M185.5 670.6h0M186.2 670.0h0M186.3 670.7h0M182.5 577.5h0"/><path id="dt2" d="M116.2 590.9h0M122.3 621.8h0M127.7 658.4h0M163.5 601.6h0M174.0 612.2h0M103.6 622.2h0M179.8 546.9h0M252.0 525.0h0M233.4 543.7h0M195.3 631.4h0M243.0 651.9h0M217.8 616.7h0M195.8 621.0h0M194.7 621.4h0M258.2 604.3h0M190.4 582.9h0M221.7 546.5h0M151.7 594.2h0M269.8 628.3h0M149.4 604.3h0M159.2 591.0h0M285.7 593.8h0M181.6 578.2h0"/><path id="dt3" d="M178.8 545.9h0M264.8 560.4h0M196.3 620.5h0M123.0 576.6h0M254.7 659.2h0M187.7 678.7h0M108.5 561.8h0M148.8 603.2h0M150.0 654.3h0"/><use href="#dt1" stroke="#8a80d8" stroke-width="2.7" stroke-opacity="0.4"/><use href="#dt2" stroke="#8a80d8" stroke-width="3.3" stroke-opacity="0.4"/><use href="#dt3" stroke="#8a80d8" stroke-width="4.1" stroke-opacity="0.4"/><use href="#dt1" stroke="#5646cc" stroke-width="1.2"/><use href="#dt2" stroke="#5646cc" stroke-width="1.8"/><use href="#dt3" stroke="#5646cc" stroke-width="2.6"/></g>
<path d="M493.5 596.5L619.8 595.6A126.3 126.3 0 0 1 619.4 606.2Z" fill="#dcdcee"/><path d="M493.5 596.5L619.6 604.4A126.3 126.3 0 0 1 618.4 615.0Z" fill="#dcdcee"/><path d="M493.5 596.5L618.7 613.2A126.3 126.3 0 0 1 616.9 623.6Z" fill="#dcdcee"/><path d="M493.5 596.5L617.2 621.9A126.3 126.3 0 0 1 614.7 632.2Z" fill="#dcdcef"/><path d="M493.5 596.5L615.1 630.5A126.3 126.3 0 0 1 611.9 640.5Z" fill="#dcdcef"/><path d="M493.5 596.5L612.5 638.9A126.3 126.3 0 0 1 608.5 648.7Z" fill="#dcdcef"/><path d="M493.5 596.5L609.2 647.1A126.3 126.3 0 0 1 604.6 656.6Z" fill="#dddcef"/><path d="M493.5 596.5L605.4 655.0A126.3 126.3 0 0 1 600.1 664.2Z" fill="#dddcef"/><path d="M493.5 596.5L601.1 662.7A126.3 126.3 0 0 1 595.2 671.4Z" fill="#dddcf0"/><path d="M493.5 596.5L596.2 670.0A126.3 126.3 0 0 1 589.7 678.4Z" fill="#dddcf0"/><path d="M493.5 596.5L590.8 677.0A126.3 126.3 0 0 1 583.7 684.9Z" fill="#dddcf0"/><path d="M493.5 596.5L585.0 683.6A126.3 126.3 0 0 1 577.4 690.9Z" fill="#dddcf0"/><path d="M493.5 596.5L578.7 689.8A126.3 126.3 0 0 1 570.6 696.6Z" fill="#dcdbf0"/><path d="M493.5 596.5L572.0 695.5A126.3 126.3 0 0 1 563.4 701.7Z" fill="#dbdaf0"/><path d="M493.5 596.5L564.9 700.7A126.3 126.3 0 0 1 555.9 706.3Z" fill="#dad9f0"/><path d="M493.5 596.5L557.4 705.4A126.3 126.3 0 0 1 548.1 710.4Z" fill="#dad8f0"/><path d="M493.5 596.5L549.7 709.6A126.3 126.3 0 0 1 540.0 713.9Z" fill="#d9d7f0"/><path d="M493.5 596.5L541.6 713.3A126.3 126.3 0 0 1 531.7 716.9Z" fill="#d8d7f0"/><path d="M493.5 596.5L533.4 716.3A126.3 126.3 0 0 1 523.2 719.3Z" fill="#d7d6f0"/><path d="M493.5 596.5L524.9 718.8A126.3 126.3 0 0 1 514.6 721.0Z" fill="#d6d5f0"/><path d="M493.5 596.5L516.3 720.7A126.3 126.3 0 0 1 505.8 722.2Z" fill="#d6d4f0"/><path d="M493.5 596.5L507.6 722.0A126.3 126.3 0 0 1 497.0 722.8Z" fill="#d5d3f0"/><path d="M493.5 596.5L498.8 722.7A126.3 126.3 0 0 1 488.2 722.7Z" fill="#d4d2f0"/><path d="M493.5 596.5L490.0 722.8A126.3 126.3 0 0 1 479.4 722.0Z" fill="#d3d1f0"/><path d="M493.5 596.5L481.2 722.2A126.3 126.3 0 0 1 470.7 720.7Z" fill="#d2d0f0"/><path d="M493.5 596.5L472.4 721.0A126.3 126.3 0 0 1 462.1 718.8Z" fill="#cfcdf0"/><path d="M493.5 596.5L463.8 719.3A126.3 126.3 0 0 1 453.6 716.3Z" fill="#cac7ef"/><path d="M493.5 596.5L455.3 716.9A126.3 126.3 0 0 1 445.4 713.3Z" fill="#c4c2ee"/><path d="M493.5 596.5L447.0 713.9A126.3 126.3 0 0 1 437.3 709.6Z" fill="#bfbced"/><path d="M493.5 596.5L438.9 710.4A126.3 126.3 0 0 1 429.6 705.4Z" fill="#bab6ec"/><path d="M493.5 596.5L431.1 706.3A126.3 126.3 0 0 1 422.1 700.7Z" fill="#b4b0ec"/><path d="M493.5 596.5L423.6 701.7A126.3 126.3 0 0 1 415.0 695.5Z" fill="#afaaeb"/><path d="M493.5 596.5L416.4 696.6A126.3 126.3 0 0 1 408.3 689.8Z" fill="#aaa4ea"/><path d="M493.5 596.5L409.6 690.9A126.3 126.3 0 0 1 402.0 683.6Z" fill="#a49fe9"/><path d="M493.5 596.5L403.3 684.9A126.3 126.3 0 0 1 396.2 677.0Z" fill="#9f99e8"/><path d="M493.5 596.5L397.3 678.4A126.3 126.3 0 0 1 390.8 670.0Z" fill="#9791e7"/><path d="M493.5 596.5L391.8 671.4A126.3 126.3 0 0 1 385.9 662.7Z" fill="#8d86e5"/><path d="M493.5 596.5L386.9 664.2A126.3 126.3 0 0 1 381.6 655.0Z" fill="#837ce3"/><path d="M493.5 596.5L382.4 656.6A126.3 126.3 0 0 1 377.8 647.1Z" fill="#7971e1"/><path d="M493.5 596.5L378.5 648.7A126.3 126.3 0 0 1 374.5 638.9Z" fill="#6f67df"/><path d="M493.5 596.5L375.1 640.5A126.3 126.3 0 0 1 371.9 630.5Z" fill="#655cdd"/><path d="M493.5 596.5L372.3 632.2A126.3 126.3 0 0 1 369.8 621.9Z" fill="#5b52db"/><path d="M493.5 596.5L370.1 623.6A126.3 126.3 0 0 1 368.3 613.2Z" fill="#5147d9"/><path d="M493.5 596.5L368.6 615.0A126.3 126.3 0 0 1 367.4 604.4Z" fill="#4b41d8"/><path d="M493.5 596.5L367.6 606.2A126.3 126.3 0 0 1 367.2 595.6Z" fill="#4940d8"/><path d="M493.5 596.5L367.2 597.4A126.3 126.3 0 0 1 367.6 586.8Z" fill="#483ed7"/><path d="M493.5 596.5L367.4 588.6A126.3 126.3 0 0 1 368.6 578.0Z" fill="#463dd7"/><path d="M493.5 596.5L368.3 579.8A126.3 126.3 0 0 1 370.1 569.4Z" fill="#443cd7"/><path d="M493.5 596.5L369.8 571.1A126.3 126.3 0 0 1 372.3 560.8Z" fill="#433ad6"/><path d="M493.5 596.5L371.9 562.5A126.3 126.3 0 0 1 375.1 552.5Z" fill="#4139d6"/><path d="M493.5 596.5L374.5 554.1A126.3 126.3 0 0 1 378.5 544.3Z" fill="#4038d6"/><path d="M493.5 596.5L377.8 545.9A126.3 126.3 0 0 1 382.4 536.4Z" fill="#4139d6"/><path d="M493.5 596.5L381.6 538.0A126.3 126.3 0 0 1 386.9 528.8Z" fill="#423ad7"/><path d="M493.5 596.5L385.9 530.3A126.3 126.3 0 0 1 391.8 521.6Z" fill="#423ad7"/><path d="M493.5 596.5L390.8 523.0A126.3 126.3 0 0 1 397.3 514.6Z" fill="#433bd7"/><path d="M493.5 596.5L396.2 516.0A126.3 126.3 0 0 1 403.3 508.1Z" fill="#433bd7"/><path d="M493.5 596.5L402.0 509.4A126.3 126.3 0 0 1 409.6 502.1Z" fill="#443cd8"/><path d="M493.5 596.5L408.3 503.2A126.3 126.3 0 0 1 416.4 496.4Z" fill="#453dd8"/><path d="M493.5 596.5L415.0 497.5A126.3 126.3 0 0 1 423.6 491.3Z" fill="#453dd8"/><path d="M493.5 596.5L422.1 492.3A126.3 126.3 0 0 1 431.1 486.7Z" fill="#463ed8"/><path d="M493.5 596.5L429.6 487.6A126.3 126.3 0 0 1 438.9 482.6Z" fill="#463ed9"/><path d="M493.5 596.5L437.3 483.4A126.3 126.3 0 0 1 447.0 479.1Z" fill="#473fd9"/><path d="M493.5 596.5L445.4 479.7A126.3 126.3 0 0 1 455.3 476.1Z" fill="#4840d9"/><path d="M493.5 596.5L453.6 476.7A126.3 126.3 0 0 1 463.8 473.7Z" fill="#4840d9"/><path d="M493.5 596.5L462.1 474.2A126.3 126.3 0 0 1 472.4 472.0Z" fill="#4941da"/><path d="M493.5 596.5L470.7 472.3A126.3 126.3 0 0 1 481.2 470.8Z" fill="#4941da"/><path d="M493.5 596.5L479.4 471.0A126.3 126.3 0 0 1 490.0 470.2Z" fill="#4a42da"/><path d="M493.5 596.5L488.2 470.3A126.3 126.3 0 0 1 498.8 470.3Z" fill="#8e8ae0"/><path d="M493.5 596.5L497.0 470.2A126.3 126.3 0 0 1 507.6 471.0Z" fill="#d2d2e6"/><path d="M493.5 596.5L505.8 470.8A126.3 126.3 0 0 1 516.3 472.3Z" fill="#d3d3e6"/><path d="M493.5 596.5L514.6 472.0A126.3 126.3 0 0 1 524.9 474.2Z" fill="#d3d3e7"/><path d="M493.5 596.5L523.2 473.7A126.3 126.3 0 0 1 533.4 476.7Z" fill="#d4d4e7"/><path d="M493.5 596.5L531.7 476.1A126.3 126.3 0 0 1 541.6 479.7Z" fill="#d4d4e7"/><path d="M493.5 596.5L540.0 479.1A126.3 126.3 0 0 1 549.7 483.4Z" fill="#d5d5e8"/><path d="M493.5 596.5L548.1 482.6A126.3 126.3 0 0 1 557.4 487.6Z" fill="#d5d5e8"/><path d="M493.5 596.5L555.9 486.7A126.3 126.3 0 0 1 564.9 492.3Z" fill="#d6d6e8"/><path d="M493.5 596.5L563.4 491.3A126.3 126.3 0 0 1 572.0 497.5Z" fill="#d6d6e9"/><path d="M493.5 596.5L570.6 496.4A126.3 126.3 0 0 1 578.7 503.2Z" fill="#d7d7e9"/><path d="M493.5 596.5L577.4 502.1A126.3 126.3 0 0 1 585.0 509.4Z" fill="#d7d7e9"/><path d="M493.5 596.5L583.7 508.1A126.3 126.3 0 0 1 590.8 516.0Z" fill="#d8d8ea"/><path d="M493.5 596.5L589.7 514.6A126.3 126.3 0 0 1 596.2 523.0Z" fill="#d8d8ea"/><path d="M493.5 596.5L595.2 521.6A126.3 126.3 0 0 1 601.1 530.3Z" fill="#d9d9eb"/><path d="M493.5 596.5L600.1 528.8A126.3 126.3 0 0 1 605.4 538.0Z" fill="#d9d9eb"/><path d="M493.5 596.5L604.6 536.4A126.3 126.3 0 0 1 609.2 545.9Z" fill="#d9d9eb"/><path d="M493.5 596.5L608.5 544.3A126.3 126.3 0 0 1 612.5 554.1Z" fill="#dadaec"/><path d="M493.5 596.5L611.9 552.5A126.3 126.3 0 0 1 615.1 562.5Z" fill="#dadaec"/><path d="M493.5 596.5L614.7 560.8A126.3 126.3 0 0 1 617.2 571.1Z" fill="#dbdbed"/><path d="M493.5 596.5L616.9 569.4A126.3 126.3 0 0 1 618.7 579.8Z" fill="#dbdbed"/><path d="M493.5 596.5L618.4 578.0A126.3 126.3 0 0 1 619.6 588.6Z" fill="#dbdbed"/><path d="M493.5 596.5L619.4 586.8A126.3 126.3 0 0 1 619.8 597.4Z" fill="#dcdcee"/>
<circle cx="493.5" cy="596.5" r="125.5" fill="none" stroke="#30307a" stroke-width="1.6"/>
<circle cx="493.5" cy="596.5" r="121.3" fill="none" stroke="#fff" stroke-opacity="0.35" stroke-width="2.5"/>
<rect x="604.8" y="593.0" width="15" height="7" fill="#ffffff" fill-opacity="0.55" transform="rotate(-90 493.5 596.5)"/><rect x="604.8" y="593.0" width="15" height="7" fill="#ffffff" fill-opacity="0.55" transform="rotate(0 493.5 596.5)"/><rect x="604.8" y="593.0" width="15" height="7" fill="#ffffff" fill-opacity="0.55" transform="rotate(180 493.5 596.5)"/><rect x="604.8" y="593.0" width="15" height="7" fill="#ffffff" fill-opacity="0.55" transform="rotate(90 493.5 596.5)"/>
<ellipse cx="496" cy="591" rx="108.8" ry="106" fill="url(#in2)" stroke="#4a40d0" stroke-width="2.2"/>
<g fill="none" stroke-linecap="round"><path id="dt4" d="M439.4 570.6h0M440.1 570.1h0M418.5 623.8h0M418.2 623.2h0M452.4 518.5h0M452.6 518.1h0M472.6 570.9h0M473.2 570.2h0M502.4 507.1h0M578.8 570.0h0M578.6 569.9h0M578.4 570.6h0M561.3 538.3h0M417.0 552.0h0M417.6 551.7h0M416.7 551.7h0M530.8 551.3h0M401.8 591.3h0M543.5 642.2h0M542.7 642.9h0M471.3 642.1h0M502.1 663.8h0M575.7 541.9h0M545.4 608.3h0M568.1 576.0h0M567.4 575.9h0M437.7 560.0h0M438.4 560.4h0M470.0 611.5h0M405.9 607.6h0M579.4 609.2h0M534.6 609.8h0M546.1 588.9h0M490.4 500.6h0M489.7 500.7h0M421.7 553.1h0M421.0 552.4h0M467.2 515.3h0M486.0 578.2h0M489.1 510.9h0M489.4 510.9h0M460.1 596.1h0M460.9 596.2h0M501.4 535.1h0M500.9 535.8h0M500.7 534.3h0M470.2 682.8h0M429.7 568.0h0M521.9 526.3h0M522.7 526.4h0M522.2 526.9h0M472.6 636.1h0M472.1 636.1h0M462.8 547.9h0M463.1 548.5h0M462.7 548.1h0M574.5 620.1h0M576.4 620.5h0M417.3 615.8h0M433.1 660.7h0"/><path id="dt5" d="M536.5 648.1h0M514.4 670.3h0M451.9 518.3h0M505.7 595.7h0M516.4 591.9h0M430.4 552.2h0M493.2 577.6h0M561.5 560.1h0M536.3 608.9h0M460.4 630.1h0M487.0 579.4h0M513.4 602.0h0M581.5 566.3h0M461.5 567.1h0M575.4 619.9h0M417.1 615.7h0"/><path id="dt6" d="M468.2 684.6h0M470.4 611.8h0M535.7 608.8h0M474.2 618.8h0M462.7 565.8h0"/><use href="#dt4" stroke="#8a80d8" stroke-width="2.7" stroke-opacity="0.4"/><use href="#dt5" stroke="#8a80d8" stroke-width="3.3" stroke-opacity="0.4"/><use href="#dt6" stroke="#8a80d8" stroke-width="4.1" stroke-opacity="0.4"/><use href="#dt4" stroke="#5646cc" stroke-width="1.2"/><use href="#dt5" stroke="#5646cc" stroke-width="1.8"/><use href="#dt6" stroke="#5646cc" stroke-width="2.6"/></g>
<path d="M799.7 591.5L926.9 590.6A127.2 127.2 0 0 1 926.5 601.3Z" fill="#dbd7ec"/><path d="M799.7 591.5L926.6 599.5A127.2 127.2 0 0 1 925.5 610.1Z" fill="#d8d4eb"/><path d="M799.7 591.5L925.8 608.3A127.2 127.2 0 0 1 923.9 618.8Z" fill="#d6d1ea"/><path d="M799.7 591.5L924.3 617.1A127.2 127.2 0 0 1 921.7 627.4Z" fill="#d3cee9"/><path d="M799.7 591.5L922.2 625.7A127.2 127.2 0 0 1 918.9 635.8Z" fill="#d1cbe8"/><path d="M799.7 591.5L919.5 634.2A127.2 127.2 0 0 1 915.5 644.0Z" fill="#cec8e7"/><path d="M799.7 591.5L916.3 642.4A127.2 127.2 0 0 1 911.6 652.0Z" fill="#ccc6e6"/><path d="M799.7 591.5L912.4 650.4A127.2 127.2 0 0 1 907.1 659.7Z" fill="#c9c3e5"/><path d="M799.7 591.5L908.0 658.2A127.2 127.2 0 0 1 902.1 667.0Z" fill="#c7c0e4"/><path d="M799.7 591.5L903.1 665.5A127.2 127.2 0 0 1 896.6 673.9Z" fill="#c4bde4"/><path d="M799.7 591.5L897.7 672.6A127.2 127.2 0 0 1 890.6 680.5Z" fill="#c2bae3"/><path d="M799.7 591.5L891.8 679.2A127.2 127.2 0 0 1 884.2 686.6Z" fill="#c0b8e2"/><path d="M799.7 591.5L885.5 685.4A127.2 127.2 0 0 1 877.3 692.3Z" fill="#c1b9e2"/><path d="M799.7 591.5L878.7 691.2A127.2 127.2 0 0 1 870.1 697.4Z" fill="#c1bae3"/><path d="M799.7 591.5L871.6 696.5A127.2 127.2 0 0 1 862.5 702.1Z" fill="#c2bae3"/><path d="M799.7 591.5L864.1 701.2A127.2 127.2 0 0 1 854.7 706.2Z" fill="#c2bbe3"/><path d="M799.7 591.5L856.3 705.4A127.2 127.2 0 0 1 846.5 709.8Z" fill="#c3bce4"/><path d="M799.7 591.5L848.2 709.1A127.2 127.2 0 0 1 838.2 712.7Z" fill="#c4bde4"/><path d="M799.7 591.5L839.9 712.2A127.2 127.2 0 0 1 829.6 715.1Z" fill="#c4bde4"/><path d="M799.7 591.5L831.3 714.7A127.2 127.2 0 0 1 820.9 716.9Z" fill="#c5bee4"/><path d="M799.7 591.5L822.7 716.6A127.2 127.2 0 0 1 812.1 718.1Z" fill="#c5bfe5"/><path d="M799.7 591.5L813.9 717.9A127.2 127.2 0 0 1 803.3 718.7Z" fill="#c6bfe5"/><path d="M799.7 591.5L805.0 718.6A127.2 127.2 0 0 1 794.4 718.6Z" fill="#c7c0e5"/><path d="M799.7 591.5L796.1 718.7A127.2 127.2 0 0 1 785.5 717.9Z" fill="#c7c1e6"/><path d="M799.7 591.5L787.3 718.1A127.2 127.2 0 0 1 776.7 716.6Z" fill="#c8c2e6"/><path d="M799.7 591.5L778.5 716.9A127.2 127.2 0 0 1 768.1 714.7Z" fill="#c9c3e6"/><path d="M799.7 591.5L769.8 715.1A127.2 127.2 0 0 1 759.5 712.2Z" fill="#cbc5e7"/><path d="M799.7 591.5L761.2 712.7A127.2 127.2 0 0 1 751.2 709.1Z" fill="#cdc8e7"/><path d="M799.7 591.5L752.9 709.8A127.2 127.2 0 0 1 743.1 705.4Z" fill="#cfcae8"/><path d="M799.7 591.5L744.7 706.2A127.2 127.2 0 0 1 735.3 701.2Z" fill="#d1cce8"/><path d="M799.7 591.5L736.9 702.1A127.2 127.2 0 0 1 727.8 696.5Z" fill="#d3cee9"/><path d="M799.7 591.5L729.3 697.4A127.2 127.2 0 0 1 720.7 691.2Z" fill="#d4d1e9"/><path d="M799.7 591.5L722.1 692.3A127.2 127.2 0 0 1 713.9 685.4Z" fill="#d6d3ea"/><path d="M799.7 591.5L715.2 686.6A127.2 127.2 0 0 1 707.6 679.2Z" fill="#d8d5ea"/><path d="M799.7 591.5L708.8 680.5A127.2 127.2 0 0 1 701.7 672.6Z" fill="#dad7eb"/><path d="M799.7 591.5L702.8 673.9A127.2 127.2 0 0 1 696.3 665.5Z" fill="#dcdaeb"/><path d="M799.7 591.5L697.3 667.0A127.2 127.2 0 0 1 691.4 658.2Z" fill="#dedcec"/><path d="M799.7 591.5L692.3 659.7A127.2 127.2 0 0 1 687.0 650.4Z" fill="#e0deec"/><path d="M799.7 591.5L687.8 652.0A127.2 127.2 0 0 1 683.1 642.4Z" fill="#e1dfec"/><path d="M799.7 591.5L683.9 644.0A127.2 127.2 0 0 1 679.9 634.2Z" fill="#e2e0ed"/><path d="M799.7 591.5L680.5 635.8A127.2 127.2 0 0 1 677.2 625.7Z" fill="#e3e1ed"/><path d="M799.7 591.5L677.7 627.4A127.2 127.2 0 0 1 675.1 617.1Z" fill="#e4e2ed"/><path d="M799.7 591.5L675.5 618.8A127.2 127.2 0 0 1 673.6 608.3Z" fill="#e4e3ee"/><path d="M799.7 591.5L673.9 610.1A127.2 127.2 0 0 1 672.8 599.5Z" fill="#e5e4ee"/><path d="M799.7 591.5L672.9 601.3A127.2 127.2 0 0 1 672.5 590.6Z" fill="#e6e5ee"/><path d="M799.7 591.5L672.5 592.4A127.2 127.2 0 0 1 672.9 581.7Z" fill="#e7e6ef"/><path d="M799.7 591.5L672.8 583.5A127.2 127.2 0 0 1 673.9 572.9Z" fill="#e8e7ef"/><path d="M799.7 591.5L673.6 574.7A127.2 127.2 0 0 1 675.5 564.2Z" fill="#e9e8ef"/><path d="M799.7 591.5L675.1 565.9A127.2 127.2 0 0 1 677.7 555.6Z" fill="#eae9f0"/><path d="M799.7 591.5L677.2 557.3A127.2 127.2 0 0 1 680.5 547.2Z" fill="#ebeaf0"/><path d="M799.7 591.5L679.9 548.8A127.2 127.2 0 0 1 683.9 539.0Z" fill="#ebeaf0"/><path d="M799.7 591.5L683.1 540.6A127.2 127.2 0 0 1 687.8 531.0Z" fill="#ebeaf0"/><path d="M799.7 591.5L687.0 532.6A127.2 127.2 0 0 1 692.3 523.3Z" fill="#ebe9f0"/><path d="M799.7 591.5L691.4 524.8A127.2 127.2 0 0 1 697.3 516.0Z" fill="#eae9f0"/><path d="M799.7 591.5L696.3 517.5A127.2 127.2 0 0 1 702.8 509.1Z" fill="#eae9ef"/><path d="M799.7 591.5L701.7 510.4A127.2 127.2 0 0 1 708.8 502.5Z" fill="#eae9ef"/><path d="M799.7 591.5L707.6 503.8A127.2 127.2 0 0 1 715.2 496.4Z" fill="#eae9ef"/><path d="M799.7 591.5L713.9 497.6A127.2 127.2 0 0 1 722.1 490.7Z" fill="#eae8ef"/><path d="M799.7 591.5L720.7 491.8A127.2 127.2 0 0 1 729.3 485.6Z" fill="#eae8ef"/><path d="M799.7 591.5L727.8 486.5A127.2 127.2 0 0 1 736.9 480.9Z" fill="#e9e8ef"/><path d="M799.7 591.5L735.3 481.8A127.2 127.2 0 0 1 744.7 476.8Z" fill="#e9e8ef"/><path d="M799.7 591.5L743.1 477.6A127.2 127.2 0 0 1 752.9 473.2Z" fill="#e9e7ef"/><path d="M799.7 591.5L751.2 473.9A127.2 127.2 0 0 1 761.2 470.3Z" fill="#e9e7ef"/><path d="M799.7 591.5L759.5 470.8A127.2 127.2 0 0 1 769.8 467.9Z" fill="#e9e7ee"/><path d="M799.7 591.5L768.1 468.3A127.2 127.2 0 0 1 778.5 466.1Z" fill="#e9e7ee"/><path d="M799.7 591.5L776.7 466.4A127.2 127.2 0 0 1 787.3 464.9Z" fill="#e8e6ee"/><path d="M799.7 591.5L785.5 465.1A127.2 127.2 0 0 1 796.1 464.3Z" fill="#e8e6ee"/><path d="M799.7 591.5L794.4 464.4A127.2 127.2 0 0 1 805.0 464.4Z" fill="#e8e6ee"/><path d="M799.7 591.5L803.3 464.3A127.2 127.2 0 0 1 813.9 465.1Z" fill="#e8e6ee"/><path d="M799.7 591.5L812.1 464.9A127.2 127.2 0 0 1 822.7 466.4Z" fill="#e7e5ee"/><path d="M799.7 591.5L820.9 466.1A127.2 127.2 0 0 1 831.3 468.3Z" fill="#e7e5ee"/><path d="M799.7 591.5L829.6 467.9A127.2 127.2 0 0 1 839.9 470.8Z" fill="#e6e4ee"/><path d="M799.7 591.5L838.2 470.3A127.2 127.2 0 0 1 848.2 473.9Z" fill="#e6e4ee"/><path d="M799.7 591.5L846.5 473.2A127.2 127.2 0 0 1 856.3 477.6Z" fill="#e5e3ee"/><path d="M799.7 591.5L854.7 476.8A127.2 127.2 0 0 1 864.1 481.8Z" fill="#e5e3ee"/><path d="M799.7 591.5L862.5 480.9A127.2 127.2 0 0 1 871.6 486.5Z" fill="#e4e2ee"/><path d="M799.7 591.5L870.1 485.6A127.2 127.2 0 0 1 878.7 491.8Z" fill="#e4e2ee"/><path d="M799.7 591.5L877.3 490.7A127.2 127.2 0 0 1 885.5 497.6Z" fill="#e3e1ee"/><path d="M799.7 591.5L884.2 496.4A127.2 127.2 0 0 1 891.8 503.8Z" fill="#e3e1ee"/><path d="M799.7 591.5L890.6 502.5A127.2 127.2 0 0 1 897.7 510.4Z" fill="#e2e0ee"/><path d="M799.7 591.5L896.6 509.1A127.2 127.2 0 0 1 903.1 517.5Z" fill="#e2e0ee"/><path d="M799.7 591.5L902.1 516.0A127.2 127.2 0 0 1 908.0 524.8Z" fill="#e1dfee"/><path d="M799.7 591.5L907.1 523.3A127.2 127.2 0 0 1 912.4 532.6Z" fill="#e0deee"/><path d="M799.7 591.5L911.6 531.0A127.2 127.2 0 0 1 916.3 540.6Z" fill="#e0dded"/><path d="M799.7 591.5L915.5 539.0A127.2 127.2 0 0 1 919.5 548.8Z" fill="#dfdced"/><path d="M799.7 591.5L918.9 547.2A127.2 127.2 0 0 1 922.2 557.3Z" fill="#dfdced"/><path d="M799.7 591.5L921.7 555.6A127.2 127.2 0 0 1 924.3 565.9Z" fill="#dedbed"/><path d="M799.7 591.5L923.9 564.2A127.2 127.2 0 0 1 925.8 574.7Z" fill="#dedaec"/><path d="M799.7 591.5L925.5 572.9A127.2 127.2 0 0 1 926.6 583.5Z" fill="#ddd9ec"/><path d="M799.7 591.5L926.5 581.7A127.2 127.2 0 0 1 926.9 592.4Z" fill="#dcd8ec"/>
<circle cx="799.7" cy="591.5" r="126.7" fill="none" stroke="#9890c0" stroke-width="1"/>
<circle cx="799.7" cy="591.5" r="122.2" fill="none" stroke="#fff" stroke-opacity="0.3" stroke-width="2"/>
<g fill="none" stroke-linecap="round"><path d="M781.8 476.7h0M910.1 547.9h0M731.8 503.0h0M750.1 693.1h0M721.2 673.8h0M896.9 534.5h0M919.9 580.5h0M697.2 629.1h0M690.4 539.4h0M726.8 494.4h0M842.3 693.0h0M899.8 546.9h0M756.5 488.4h0M920.1 582.5h0M702.3 653.9h0M846.0 482.7h0M718.1 680.6h0M867.8 491.7h0M740.0 683.9h0M857.2 684.5h0M688.4 615.0h0M900.2 520.9h0M713.1 670.4h0M822.7 709.7h0M682.5 611.3h0M902.8 532.1h0M705.3 668.9h0M882.0 502.7h0M780.8 473.6h0M854.7 495.1h0" stroke="#6a5ad0" stroke-width="2" stroke-opacity="0.6"/><path d="M831.3 701.2h0M896.9 658.7h0M727.3 492.0h0M842.7 701.2h0M696.2 638.4h0M907.1 651.0h0M738.0 694.4h0M912.9 573.5h0M791.2 474.9h0M759.4 487.1h0M707.0 656.0h0M889.4 526.1h0M819.7 475.3h0M893.3 530.2h0M717.5 672.4h0M918.0 580.9h0M744.3 690.6h0M893.4 532.1h0M744.4 485.9h0M887.9 517.5h0M883.3 678.8h0M894.6 649.7h0M844.2 705.4h0M677.1 583.9h0M903.4 633.4h0M689.7 540.0h0M915.0 559.1h0M910.4 540.8h0M813.9 704.0h0M697.1 652.4h0M905.5 644.2h0M828.9 475.1h0" stroke="#6a5ad0" stroke-width="3" stroke-opacity="0.6"/><path d="M801.8 702.9h0M832.9 478.6h0M799.4 474.3h0M699.3 548.2h0M843.4 476.3h0M914.3 559.5h0M682.1 566.9h0M890.3 658.8h0" stroke="#6a5ad0" stroke-width="4.5" stroke-opacity="0.6"/></g>
<rect x="911.9" y="588.0" width="15" height="7" fill="#ffffff" fill-opacity="0.55" transform="rotate(-90 799.7 591.5)"/><rect x="911.9" y="588.0" width="15" height="7" fill="#ffffff" fill-opacity="0.55" transform="rotate(0 799.7 591.5)"/><rect x="911.9" y="588.0" width="15" height="7" fill="#ffffff" fill-opacity="0.55" transform="rotate(180 799.7 591.5)"/><rect x="911.9" y="588.0" width="15" height="7" fill="#ffffff" fill-opacity="0.55" transform="rotate(90 799.7 591.5)"/>
<circle cx="802" cy="591" r="111" fill="url(#in3)" stroke="#8880b8" stroke-width="1.4"/>
<g fill="none" stroke-linecap="round"><path id="dt7" d="M840.2 674.9h0M841.6 673.5h0M841.5 673.6h0M787.6 507.7h0M711.9 581.7h0M825.2 563.8h0M732.6 605.2h0M843.0 525.0h0M842.5 524.6h0M826.2 650.6h0M826.8 650.1h0M780.8 666.9h0M781.4 663.9h0M810.4 667.2h0M808.4 669.5h0M852.4 507.3h0M850.4 507.9h0M851.5 507.4h0M718.5 639.2h0M718.7 640.0h0M854.6 600.8h0M790.4 661.0h0M787.7 665.7h0M780.3 636.9h0M779.9 636.7h0M851.9 596.5h0M832.8 496.0h0M832.7 495.2h0M833.5 495.3h0M832.2 495.4h0M842.0 517.8h0M787.5 592.2h0M784.3 590.1h0M859.6 680.6h0M742.0 612.8h0M741.2 612.7h0M742.2 613.1h0M742.6 612.3h0M815.4 669.3h0M725.8 607.7h0M726.2 608.2h0M723.7 517.0h0M731.1 607.3h0M732.0 606.3h0M742.9 558.9h0M831.9 513.1h0M832.1 513.0h0M833.3 513.2h0M866.3 634.4h0M843.8 582.5h0M746.5 580.8h0M746.4 581.1h0M747.1 581.0h0M833.8 686.2h0M833.5 686.7h0M833.1 686.1h0M833.3 657.4h0M833.4 657.0h0M797.2 528.6h0M797.1 528.2h0M797.9 528.4h0M797.9 529.2h0M834.2 511.3h0M833.9 511.2h0M833.4 511.5h0M796.7 696.8h0M799.0 699.4h0M833.2 489.3h0M904.7 600.6h0M799.5 524.7h0M801.5 523.5h0M801.5 524.6h0M880.4 567.8h0M881.2 568.7h0M879.8 567.5h0M879.6 567.2h0M800.5 526.6h0M709.7 548.6h0M793.0 677.8h0M792.3 677.4h0M792.5 677.1h0M717.0 571.0h0M719.7 570.9h0M799.6 544.2h0M800.8 542.4h0M780.4 575.0h0M780.8 575.0h0M780.8 575.3h0M747.6 579.5h0M747.4 579.9h0M748.2 580.3h0M748.0 578.8h0M842.6 549.3h0M842.4 550.0h0M841.9 549.3h0M843.3 548.5h0M820.8 549.4h0M820.3 549.8h0M855.3 599.2h0M855.9 598.8h0M854.1 600.3h0M727.0 583.9h0M759.0 668.6h0M759.8 492.4h0M825.7 541.5h0M824.4 542.8h0M770.7 517.0h0M770.2 516.4h0M788.4 550.2h0M788.2 549.6h0M788.3 550.4h0M838.5 501.5h0M838.4 500.7h0M839.2 501.9h0M726.3 590.0h0M778.4 575.3h0M778.0 575.2h0M793.4 562.9h0M791.6 563.5h0M794.1 561.9h0M823.9 569.6h0M889.6 544.7h0M889.2 545.2h0M889.6 544.0h0M889.4 544.7h0M849.9 569.1h0M850.5 569.3h0M849.4 569.5h0M849.4 568.9h0M755.0 628.3h0M745.6 584.8h0M876.1 663.7h0M876.4 663.0h0M876.5 663.8h0M876.6 663.7h0M712.8 640.5h0M713.4 640.3h0M712.7 640.7h0M712.9 640.5h0M739.7 645.2h0M740.3 646.8h0M738.0 646.2h0M759.3 529.4h0M872.3 645.6h0M871.8 645.3h0M887.3 607.2h0M887.3 607.2h0M886.9 607.1h0M826.8 681.0h0M893.1 571.9h0M843.7 623.9h0M741.2 651.9h0M758.5 495.0h0M759.9 494.2h0M759.1 495.4h0M838.2 526.2h0M837.4 526.1h0M838.0 526.8h0M838.7 526.8h0M882.5 643.6h0M789.0 684.6h0M810.0 538.6h0M720.0 544.4h0M718.8 541.0h0M731.1 618.4h0M773.3 681.7h0M772.9 681.6h0M773.4 682.1h0M773.3 681.2h0M822.1 528.3h0M821.7 527.9h0M821.6 529.0h0M821.7 528.4h0M800.2 684.9h0M728.4 544.5h0M728.2 544.2h0M728.4 544.7h0M727.6 544.7h0M728.6 586.2h0M727.9 587.0h0M874.9 528.3h0M876.5 528.4h0M874.2 526.0h0M843.7 659.0h0M845.9 660.0h0M892.2 646.4h0M837.0 637.5h0M837.7 637.0h0M782.2 545.6h0M811.2 529.2h0M794.7 661.5h0M795.4 663.1h0M828.5 644.1h0M829.0 644.8h0M829.0 643.8h0M757.3 666.8h0M757.6 667.5h0M829.3 609.2h0M829.2 606.9h0M830.3 513.4h0M769.8 691.7h0M889.1 529.1h0M768.2 644.9h0M713.1 603.3h0M712.8 603.8h0M713.8 602.9h0M713.2 603.4h0M775.2 485.7h0M821.3 589.3h0M743.2 661.7h0M743.5 661.5h0M742.8 661.7h0M742.8 662.4h0M868.1 507.0h0M866.9 508.9h0M835.4 574.2h0M833.6 575.5h0M834.9 575.0h0M840.4 679.0h0M721.7 618.9h0M720.6 618.0h0M720.8 617.4h0M787.0 695.0h0M793.2 592.6h0M784.3 552.0h0M783.5 551.5h0M798.6 609.9h0M778.0 535.1h0M777.8 534.2h0M778.3 534.5h0M835.2 514.1h0M879.1 593.8h0M742.9 514.0h0M743.5 514.2h0M742.7 513.9h0M743.4 513.5h0M751.4 508.6h0M749.6 507.8h0M748.8 509.6h0M699.6 581.0h0M723.3 550.1h0M720.5 551.6h0M885.6 642.2h0M884.9 641.7h0M886.2 642.6h0M753.5 607.6h0M752.7 608.0h0M743.8 512.8h0M743.7 514.9h0M742.9 601.6h0M887.5 607.6h0M874.5 540.3h0M875.1 538.8h0M847.1 528.6h0M847.2 527.9h0M828.1 692.6h0M726.4 667.8h0M728.3 667.6h0M792.5 587.2h0M738.6 514.1h0M739.5 514.1h0M800.1 555.4h0M800.6 555.3h0M820.7 538.9h0M817.0 556.5h0M811.5 603.9h0M811.5 603.4h0M891.2 532.8h0M890.8 532.7h0M891.7 533.4h0M891.3 532.7h0M708.7 562.6h0M709.2 561.9h0M708.6 562.2h0M776.1 615.3h0M776.8 615.4h0M790.3 610.5h0M789.6 609.1h0M888.9 590.2h0M888.3 590.4h0M831.7 528.1h0M835.3 527.9h0M877.1 608.1h0M877.3 607.5h0M876.5 607.5h0M848.8 622.6h0M863.4 660.2h0M866.2 658.7h0M753.9 535.0h0M754.0 534.9h0M889.1 642.7h0M890.0 642.7h0M889.9 642.8h0M704.3 599.8h0M757.9 619.7h0M758.1 620.0h0M758.5 619.0h0M723.4 607.5h0M722.4 607.6h0M744.3 556.9h0M744.4 556.5h0M744.1 556.5h0M743.5 557.2h0M793.2 663.1h0M792.8 663.0h0M834.6 603.7h0M716.0 593.0h0M715.7 592.6h0M715.3 592.4h0M741.0 519.3h0M740.7 519.1h0M836.4 545.0h0M835.6 544.7h0M845.1 578.8h0M782.5 697.3h0M782.2 696.6h0M808.5 502.0h0M734.3 518.1h0M878.2 535.8h0M877.6 535.9h0M837.1 615.6h0M765.2 635.1h0M765.8 517.5h0M797.3 673.2h0M795.3 673.7h0M797.4 674.4h0M796.8 619.0h0M783.4 634.1h0M783.7 633.0h0M784.2 634.0h0M774.6 678.0h0M773.7 678.3h0M754.9 514.8h0M882.1 663.3h0M882.1 663.5h0M879.9 664.4h0M777.2 592.6h0M776.5 592.8h0M812.0 593.4h0M812.3 592.3h0M811.4 593.6h0M758.1 547.9h0M759.4 549.0h0M757.0 546.8h0M881.8 573.8h0M707.3 608.2h0M706.7 609.2h0M707.0 608.0h0M711.7 587.3h0M711.0 588.0h0M711.0 586.4h0M747.9 620.7h0M748.7 620.5h0M748.4 620.9h0M869.5 600.5h0M868.0 600.3h0M785.2 696.0h0M708.9 594.8h0M761.6 652.2h0M825.2 513.4h0M827.0 557.1h0M829.8 521.8h0M829.9 521.1h0M862.3 605.2h0M816.3 530.0h0M817.1 529.7h0M817.0 529.3h0M896.1 574.9h0M718.8 562.2h0M715.9 560.3h0M837.8 531.7h0M888.5 533.1h0M888.0 532.3h0M850.2 564.9h0M851.6 567.5h0M734.1 577.6h0M732.5 558.0h0M786.6 589.9h0M787.0 590.6h0M863.3 528.2h0M861.1 527.4h0M862.6 527.7h0M728.9 638.0h0M728.9 638.3h0M729.1 638.5h0M755.1 497.7h0M755.0 497.7h0M755.6 496.9h0M754.8 497.4h0M799.8 666.1h0M800.2 665.8h0M838.2 623.0h0M837.7 622.7h0M838.6 623.0h0"/><path id="dt8" d="M835.4 560.4h0M837.8 558.6h0M817.9 640.2h0M841.5 674.6h0M710.8 582.2h0M732.3 605.3h0M733.8 606.2h0M780.0 663.9h0M851.4 506.9h0M829.9 502.5h0M831.0 641.3h0M831.8 642.7h0M809.8 496.2h0M785.6 590.0h0M725.5 608.2h0M784.7 491.2h0M731.4 606.0h0M746.0 561.3h0M743.0 560.9h0M832.3 513.3h0M865.9 634.7h0M844.6 582.4h0M714.9 579.7h0M720.0 547.6h0M799.9 700.4h0M905.3 601.6h0M815.0 555.9h0M808.7 493.1h0M799.6 543.7h0M822.0 642.1h0M784.0 542.4h0M854.9 599.5h0M859.5 538.9h0M728.2 583.8h0M727.0 584.4h0M761.3 668.3h0M760.1 666.4h0M760.0 495.9h0M758.9 493.8h0M764.5 578.1h0M731.4 594.0h0M793.0 562.6h0M797.4 557.9h0M739.1 646.2h0M828.1 683.9h0M892.9 574.1h0M891.9 572.7h0M717.5 556.9h0M758.6 494.8h0M777.9 529.1h0M788.3 683.6h0M801.0 685.7h0M902.2 617.3h0M837.3 637.4h0M782.8 545.5h0M890.9 609.8h0M795.4 662.7h0M830.4 608.1h0M829.7 514.9h0M827.8 511.1h0M832.7 604.3h0M720.3 529.6h0M744.4 621.9h0M846.2 611.8h0M845.5 610.9h0M775.7 486.6h0M785.8 651.3h0M773.3 553.0h0M866.9 508.0h0M834.6 574.3h0M722.0 617.7h0M768.7 521.6h0M750.1 509.0h0M727.2 596.1h0M725.5 591.2h0M785.6 676.4h0M742.4 510.9h0M875.9 539.4h0M727.3 666.5h0M792.3 586.9h0M827.6 681.1h0M739.1 513.8h0M761.9 659.0h0M806.6 497.0h0M792.8 691.6h0M817.6 555.6h0M770.2 648.8h0M825.2 638.0h0M709.2 561.7h0M770.2 492.1h0M705.6 635.6h0M790.1 610.5h0M832.9 529.4h0M864.8 659.2h0M744.3 536.4h0M742.0 599.1h0M722.7 607.6h0M722.7 530.9h0M833.7 604.5h0M804.1 632.3h0M740.8 519.6h0M845.7 578.6h0M781.5 696.0h0M807.6 501.0h0M762.5 516.8h0M763.3 515.9h0M796.6 674.5h0M704.7 572.3h0M784.0 633.2h0M868.4 570.5h0M774.6 678.1h0M769.7 662.5h0M881.0 663.9h0M811.3 592.8h0M779.3 593.2h0M806.9 573.7h0M758.2 547.8h0M706.8 608.4h0M869.3 599.2h0M820.8 532.6h0M710.3 595.3h0M780.8 553.4h0M780.3 555.1h0M784.6 553.2h0M759.8 652.3h0M760.1 649.4h0M821.5 512.1h0M804.9 522.3h0M717.3 560.6h0M877.6 668.5h0M838.3 532.3h0M836.7 529.9h0M892.3 617.9h0M756.4 622.5h0M755.5 625.3h0M732.3 540.1h0M787.4 590.5h0M749.5 561.3h0M862.2 528.5h0M770.4 679.7h0M772.0 683.0h0M850.5 565.8h0M883.3 552.2h0M712.7 618.8h0"/><path id="dt9" d="M835.5 556.1h0M787.4 683.7h0M781.5 594.0h0M732.3 605.7h0M781.5 665.9h0M809.9 668.0h0M823.8 629.1h0M785.8 591.5h0M858.4 682.1h0M744.4 560.5h0M752.0 635.1h0M709.0 568.2h0M820.4 599.8h0M834.8 686.6h0M719.0 548.9h0M797.9 698.9h0M904.9 601.5h0M800.0 523.5h0M717.6 569.8h0M784.5 540.4h0M871.3 573.4h0M784.9 555.4h0M727.7 583.6h0M759.3 668.3h0M759.9 493.8h0M824.9 541.0h0M828.0 511.5h0M826.3 682.1h0M892.6 573.2h0M737.0 615.9h0M883.7 639.3h0M783.4 615.2h0M718.2 542.6h0M730.8 617.7h0M804.9 536.3h0M875.2 527.6h0M902.2 615.6h0M844.8 658.0h0M846.9 528.7h0M872.7 547.9h0M829.0 513.2h0M768.7 642.9h0M733.4 530.3h0M737.1 525.9h0M742.6 623.0h0M844.6 610.1h0M847.4 668.4h0M770.0 520.5h0M722.1 591.4h0M722.2 551.3h0M853.6 594.3h0M854.1 587.5h0M785.7 676.4h0M742.6 512.8h0M830.1 682.0h0M800.7 555.5h0M762.4 657.6h0M763.2 657.3h0M794.4 693.5h0M708.9 636.2h0M705.9 637.1h0M746.8 525.1h0M833.7 529.0h0M805.9 623.9h0M743.1 538.5h0M772.4 579.8h0M828.2 505.1h0M812.8 491.8h0M792.8 643.2h0M764.4 516.3h0M856.8 650.0h0M854.7 649.8h0M796.1 620.2h0M869.9 574.8h0M827.5 614.6h0M760.5 650.8h0M823.4 512.6h0M717.6 561.9h0M877.8 667.9h0M838.3 530.7h0M805.2 675.1h0M852.2 566.4h0M770.4 681.1h0M724.0 566.4h0M840.8 513.0h0M883.7 553.3h0"/><path id="dt10" d="M836.4 559.0h0M830.7 642.5h0M750.6 637.1h0M713.9 577.7h0M782.8 541.2h0M870.4 575.9h0M767.5 499.9h0M797.2 506.0h0M904.8 617.3h0M847.1 530.7h0M844.8 532.5h0M721.6 658.5h0M818.0 563.1h0M832.7 558.1h0M775.5 552.3h0M745.7 505.8h0M741.6 503.1h0M743.7 505.5h0M724.7 594.1h0M786.1 674.1h0M830.4 683.5h0M764.6 657.1h0M708.3 637.2h0M743.0 596.7h0M856.3 647.5h0M869.5 543.8h0M707.2 574.0h0M870.7 572.2h0M780.0 590.6h0M731.6 590.1h0M831.3 513.1h0M782.4 555.3h0M859.0 613.0h0M807.7 674.3h0M859.2 606.8h0M758.4 625.3h0"/><path id="dt11" d="M827.5 513.2h0M734.1 619.7h0M766.8 596.9h0M804.3 533.9h0M846.8 532.5h0M735.9 527.3h0M742.7 506.2h0M856.3 591.1h0M809.3 626.5h0M764.8 646.3h0M773.2 675.6h0M830.5 542.7h0"/><use href="#dt7" stroke="#6a5ad0" stroke-width="3.4" stroke-opacity="0.45"/><use href="#dt8" stroke="#6a5ad0" stroke-width="4.2" stroke-opacity="0.45"/><use href="#dt9" stroke="#6a5ad0" stroke-width="5.2" stroke-opacity="0.45"/><use href="#dt10" stroke="#6a5ad0" stroke-width="6.4" stroke-opacity="0.45"/><use href="#dt11" stroke="#6a5ad0" stroke-width="7.8" stroke-opacity="0.45"/><use href="#dt7" stroke="#3626b4" stroke-width="1.2"/><use href="#dt8" stroke="#3626b4" stroke-width="2"/><use href="#dt9" stroke="#3626b4" stroke-width="3"/><use href="#dt10" stroke="#3626b4" stroke-width="4.2"/><use href="#dt11" stroke="#3626b4" stroke-width="5.6"/></g>
<path d="M1096.8 594.6L1225.8 593.7A129 129 0 0 1 1225.4 604.5Z" fill="#c6bee6"/><path d="M1096.8 594.6L1225.5 602.7A129 129 0 0 1 1224.4 613.4Z" fill="#c7bfe6"/><path d="M1096.8 594.6L1224.7 611.7A129 129 0 0 1 1222.8 622.3Z" fill="#c8c0e6"/><path d="M1096.8 594.6L1223.2 620.5A129 129 0 0 1 1220.6 631.0Z" fill="#c9c1e6"/><path d="M1096.8 594.6L1221.0 629.3A129 129 0 0 1 1217.7 639.6Z" fill="#cac2e7"/><path d="M1096.8 594.6L1218.3 637.9A129 129 0 0 1 1214.3 647.9Z" fill="#cac3e7"/><path d="M1096.8 594.6L1215.0 646.2A129 129 0 0 1 1210.3 656.0Z" fill="#cbc4e7"/><path d="M1096.8 594.6L1211.1 654.4A129 129 0 0 1 1205.7 663.7Z" fill="#ccc5e7"/><path d="M1096.8 594.6L1206.7 662.2A129 129 0 0 1 1200.6 671.2Z" fill="#cdc6e7"/><path d="M1096.8 594.6L1201.7 669.7A129 129 0 0 1 1195.0 678.2Z" fill="#cec7e7"/><path d="M1096.8 594.6L1196.2 676.8A129 129 0 0 1 1189.0 684.9Z" fill="#cec8e7"/><path d="M1096.8 594.6L1190.2 683.6A129 129 0 0 1 1182.4 691.1Z" fill="#cfc9e8"/><path d="M1096.8 594.6L1183.8 689.9A129 129 0 0 1 1175.5 696.8Z" fill="#d0cae8"/><path d="M1096.8 594.6L1176.9 695.7A129 129 0 0 1 1168.2 702.0Z" fill="#d1cbe8"/><path d="M1096.8 594.6L1169.7 701.0A129 129 0 0 1 1160.5 706.8Z" fill="#d2cce8"/><path d="M1096.8 594.6L1162.1 705.9A129 129 0 0 1 1152.5 710.9Z" fill="#d3cde8"/><path d="M1096.8 594.6L1154.2 710.1A129 129 0 0 1 1144.3 714.5Z" fill="#d4cee8"/><path d="M1096.8 594.6L1146.0 713.9A129 129 0 0 1 1135.8 717.6Z" fill="#d5d0e9"/><path d="M1096.8 594.6L1137.5 717.0A129 129 0 0 1 1127.1 720.0Z" fill="#d6d2e9"/><path d="M1096.8 594.6L1128.9 719.5A129 129 0 0 1 1118.3 721.8Z" fill="#d8d3e9"/><path d="M1096.8 594.6L1120.1 721.5A129 129 0 0 1 1109.4 723.0Z" fill="#d9d5ea"/><path d="M1096.8 594.6L1111.2 722.8A129 129 0 0 1 1100.4 723.5Z" fill="#dad6ea"/><path d="M1096.8 594.6L1102.2 723.5A129 129 0 0 1 1091.4 723.5Z" fill="#dcd8ea"/><path d="M1096.8 594.6L1093.2 723.5A129 129 0 0 1 1082.4 722.8Z" fill="#dddaeb"/><path d="M1096.8 594.6L1084.2 723.0A129 129 0 0 1 1073.5 721.5Z" fill="#dedbeb"/><path d="M1096.8 594.6L1075.3 721.8A129 129 0 0 1 1064.7 719.5Z" fill="#dfddeb"/><path d="M1096.8 594.6L1066.5 720.0A129 129 0 0 1 1056.1 717.0Z" fill="#e1deec"/><path d="M1096.8 594.6L1057.8 717.6A129 129 0 0 1 1047.6 713.9Z" fill="#e2e0ec"/><path d="M1096.8 594.6L1049.3 714.5A129 129 0 0 1 1039.4 710.1Z" fill="#e2e0ec"/><path d="M1096.8 594.6L1041.1 710.9A129 129 0 0 1 1031.5 705.9Z" fill="#e3e1ec"/><path d="M1096.8 594.6L1033.1 706.8A129 129 0 0 1 1023.9 701.0Z" fill="#e3e1ec"/><path d="M1096.8 594.6L1025.4 702.0A129 129 0 0 1 1016.7 695.7Z" fill="#e3e1ed"/><path d="M1096.8 594.6L1018.1 696.8A129 129 0 0 1 1009.8 689.9Z" fill="#e4e2ed"/><path d="M1096.8 594.6L1011.2 691.1A129 129 0 0 1 1003.4 683.6Z" fill="#e4e2ed"/><path d="M1096.8 594.6L1004.6 684.9A129 129 0 0 1 997.4 676.8Z" fill="#e4e2ed"/><path d="M1096.8 594.6L998.6 678.2A129 129 0 0 1 991.9 669.7Z" fill="#e5e3ed"/><path d="M1096.8 594.6L993.0 671.2A129 129 0 0 1 986.9 662.2Z" fill="#e5e3ed"/><path d="M1096.8 594.6L987.9 663.7A129 129 0 0 1 982.5 654.4Z" fill="#e5e3ee"/><path d="M1096.8 594.6L983.3 656.0A129 129 0 0 1 978.6 646.2Z" fill="#e6e4ee"/><path d="M1096.8 594.6L979.3 647.9A129 129 0 0 1 975.3 637.9Z" fill="#e6e4ee"/><path d="M1096.8 594.6L975.9 639.6A129 129 0 0 1 972.6 629.3Z" fill="#e6e4ee"/><path d="M1096.8 594.6L973.0 631.0A129 129 0 0 1 970.4 620.5Z" fill="#e5e2ee"/><path d="M1096.8 594.6L970.8 622.3A129 129 0 0 1 968.9 611.7Z" fill="#e4e2ee"/><path d="M1096.8 594.6L969.2 613.4A129 129 0 0 1 968.1 602.7Z" fill="#e3e0ed"/><path d="M1096.8 594.6L968.2 604.5A129 129 0 0 1 967.8 593.7Z" fill="#e2e0ed"/><path d="M1096.8 594.6L967.8 595.5A129 129 0 0 1 968.2 584.7Z" fill="#e2deed"/><path d="M1096.8 594.6L968.1 586.5A129 129 0 0 1 969.2 575.8Z" fill="#e1deed"/><path d="M1096.8 594.6L968.9 577.5A129 129 0 0 1 970.8 566.9Z" fill="#e0dcec"/><path d="M1096.8 594.6L970.4 568.7A129 129 0 0 1 973.0 558.2Z" fill="#dfdcec"/><path d="M1096.8 594.6L972.6 559.9A129 129 0 0 1 975.9 549.6Z" fill="#dedaec"/><path d="M1096.8 594.6L975.3 551.3A129 129 0 0 1 979.3 541.3Z" fill="#ddd9ec"/><path d="M1096.8 594.6L978.6 543.0A129 129 0 0 1 983.3 533.2Z" fill="#dcd8ec"/><path d="M1096.8 594.6L982.5 534.8A129 129 0 0 1 987.9 525.5Z" fill="#dad6eb"/><path d="M1096.8 594.6L986.9 527.0A129 129 0 0 1 993.0 518.0Z" fill="#d9d4eb"/><path d="M1096.8 594.6L991.9 519.5A129 129 0 0 1 998.6 511.0Z" fill="#d8d3eb"/><path d="M1096.8 594.6L997.4 512.4A129 129 0 0 1 1004.6 504.3Z" fill="#d6d1ea"/><path d="M1096.8 594.6L1003.4 505.6A129 129 0 0 1 1011.2 498.1Z" fill="#d5d0ea"/><path d="M1096.8 594.6L1009.8 499.3A129 129 0 0 1 1018.1 492.4Z" fill="#d3ceea"/><path d="M1096.8 594.6L1016.7 493.5A129 129 0 0 1 1025.4 487.2Z" fill="#d2cce9"/><path d="M1096.8 594.6L1023.9 488.2A129 129 0 0 1 1033.1 482.4Z" fill="#d0cbe9"/><path d="M1096.8 594.6L1031.5 483.3A129 129 0 0 1 1041.1 478.3Z" fill="#cfc9e9"/><path d="M1096.8 594.6L1039.4 479.1A129 129 0 0 1 1049.3 474.7Z" fill="#cdc8e8"/><path d="M1096.8 594.6L1047.6 475.3A129 129 0 0 1 1057.8 471.6Z" fill="#ccc6e8"/><path d="M1096.8 594.6L1056.1 472.2A129 129 0 0 1 1066.5 469.2Z" fill="#ccc6e8"/><path d="M1096.8 594.6L1064.7 469.7A129 129 0 0 1 1075.3 467.4Z" fill="#cbc5e8"/><path d="M1096.8 594.6L1073.5 467.7A129 129 0 0 1 1084.2 466.2Z" fill="#cbc5e8"/><path d="M1096.8 594.6L1082.4 466.4A129 129 0 0 1 1093.2 465.7Z" fill="#cbc4e7"/><path d="M1096.8 594.6L1091.4 465.7A129 129 0 0 1 1102.2 465.7Z" fill="#cac4e7"/><path d="M1096.8 594.6L1100.4 465.7A129 129 0 0 1 1111.2 466.4Z" fill="#cac3e7"/><path d="M1096.8 594.6L1109.4 466.2A129 129 0 0 1 1120.1 467.7Z" fill="#cac3e7"/><path d="M1096.8 594.6L1118.3 467.4A129 129 0 0 1 1128.9 469.7Z" fill="#c9c2e7"/><path d="M1096.8 594.6L1127.1 469.2A129 129 0 0 1 1137.5 472.2Z" fill="#c9c2e7"/><path d="M1096.8 594.6L1135.8 471.6A129 129 0 0 1 1146.0 475.3Z" fill="#c9c1e6"/><path d="M1096.8 594.6L1144.3 474.7A129 129 0 0 1 1154.2 479.1Z" fill="#c8c1e6"/><path d="M1096.8 594.6L1152.5 478.3A129 129 0 0 1 1162.1 483.3Z" fill="#c8c0e6"/><path d="M1096.8 594.6L1160.5 482.4A129 129 0 0 1 1169.7 488.2Z" fill="#c8c0e6"/><path d="M1096.8 594.6L1168.2 487.2A129 129 0 0 1 1176.9 493.5Z" fill="#c8c0e6"/><path d="M1096.8 594.6L1175.5 492.4A129 129 0 0 1 1183.8 499.3Z" fill="#c8c0e6"/><path d="M1096.8 594.6L1182.4 498.1A129 129 0 0 1 1190.2 505.6Z" fill="#c8c0e6"/><path d="M1096.8 594.6L1189.0 504.3A129 129 0 0 1 1196.2 512.4Z" fill="#c7bfe6"/><path d="M1096.8 594.6L1195.0 511.0A129 129 0 0 1 1201.7 519.5Z" fill="#c7bfe6"/><path d="M1096.8 594.6L1200.6 518.0A129 129 0 0 1 1206.7 527.0Z" fill="#c7bfe6"/><path d="M1096.8 594.6L1205.7 525.5A129 129 0 0 1 1211.1 534.8Z" fill="#c7bfe6"/><path d="M1096.8 594.6L1210.3 533.2A129 129 0 0 1 1215.0 543.0Z" fill="#c7bfe6"/><path d="M1096.8 594.6L1214.3 541.3A129 129 0 0 1 1218.3 551.3Z" fill="#c7bfe6"/><path d="M1096.8 594.6L1217.7 549.6A129 129 0 0 1 1221.0 559.9Z" fill="#c7bfe6"/><path d="M1096.8 594.6L1220.6 558.2A129 129 0 0 1 1223.2 568.7Z" fill="#c6bee6"/><path d="M1096.8 594.6L1222.8 566.9A129 129 0 0 1 1224.7 577.5Z" fill="#c6bee6"/><path d="M1096.8 594.6L1224.4 575.8A129 129 0 0 1 1225.5 586.5Z" fill="#c6bee6"/><path d="M1096.8 594.6L1225.4 584.7A129 129 0 0 1 1225.8 595.5Z" fill="#c6bee6"/>
<circle cx="1096.8" cy="594.6" r="128.5" fill="none" stroke="#9890c0" stroke-width="1"/>
<circle cx="1096.8" cy="594.6" r="124" fill="none" stroke="#fff" stroke-opacity="0.3" stroke-width="2"/>
<g fill="none" stroke-linecap="round"><path d="M1142.2 485.4h0M995.8 543.0h0M1131.2 473.6h0M1194.5 524.0h0M992.7 549.7h0M999.7 668.4h0M990.6 528.4h0M1094.1 474.4h0M983.8 612.9h0M1141.0 485.3h0M1105.4 480.8h0M1178.3 673.3h0M1210.4 553.8h0M1120.1 474.0h0M1054.3 487.1h0M1197.5 657.2h0M1074.5 705.0h0M1176.6 507.1h0M1004.0 526.7h0M1014.0 679.3h0M1184.0 525.8h0M1030.7 700.2h0M1017.9 499.2h0M1158.5 688.8h0M1000.6 675.2h0M984.1 650.5h0M1090.2 717.0h0" stroke="#7a6ad4" stroke-width="2" stroke-opacity="0.5"/><path d="M1122.6 710.0h0M1179.6 516.1h0M1014.8 681.9h0M1204.6 532.0h0M1216.6 622.7h0M1210.9 576.4h0M1173.4 505.7h0M1202.1 631.1h0M1200.0 644.5h0M1054.4 711.6h0M1051.5 485.7h0M1212.7 598.0h0M1172.7 497.8h0M984.6 628.0h0M1096.5 706.1h0M1143.6 706.9h0M1170.6 683.8h0M982.8 619.7h0M984.4 592.8h0M1204.4 566.8h0M1156.9 495.3h0M1080.5 479.2h0" stroke="#7a6ad4" stroke-width="3" stroke-opacity="0.5"/><path d="M1028.9 682.7h0M1081.6 483.2h0M1182.3 668.4h0M1187.5 671.9h0M998.9 523.6h0M1128.3 485.3h0M981.6 606.0h0M1031.3 492.8h0M1220.5 596.7h0M1160.3 497.4h0M1010.5 509.6h0" stroke="#7a6ad4" stroke-width="4.5" stroke-opacity="0.5"/></g>
<rect x="1210.8" y="591.1" width="15" height="7" fill="#ffffff" fill-opacity="0.55" transform="rotate(-90 1096.8 594.6)"/><rect x="1210.8" y="591.1" width="15" height="7" fill="#ffffff" fill-opacity="0.55" transform="rotate(0 1096.8 594.6)"/><rect x="1210.8" y="591.1" width="15" height="7" fill="#ffffff" fill-opacity="0.55" transform="rotate(180 1096.8 594.6)"/><rect x="1210.8" y="591.1" width="15" height="7" fill="#ffffff" fill-opacity="0.55" transform="rotate(90 1096.8 594.6)"/>
<ellipse cx="1098" cy="589.8" rx="112.4" ry="110.3" fill="url(#in3)" stroke="#8880b8" stroke-width="1.4"/>
<g fill="none" stroke-linecap="round"><path id="dt12" d="M1138.4 568.4h0M1138.7 566.8h0M1143.8 500.8h0M1079.8 598.5h0M1139.6 644.6h0M1119.0 611.6h0M1036.6 616.6h0M1037.3 617.3h0M1137.3 601.3h0M1137.7 600.8h0M1136.7 601.5h0M1136.6 601.5h0M1123.2 634.5h0M1124.0 634.4h0M1106.7 520.4h0M1141.6 618.3h0M1141.4 618.5h0M1023.4 655.7h0M1023.0 655.9h0M1122.4 562.3h0M1129.9 514.5h0M1129.1 515.5h0M1126.9 487.1h0M1126.2 486.5h0M1165.9 575.1h0M1100.8 573.4h0M1110.8 691.5h0M1199.5 569.9h0M1135.8 539.7h0M1180.0 529.7h0M1179.5 529.7h0M1180.1 529.4h0M1179.4 529.5h0M1037.1 636.4h0M1037.7 636.3h0M1036.7 635.9h0M1046.8 656.3h0M1099.5 620.0h0M1099.0 620.5h0M1099.4 619.3h0M1099.4 620.6h0M1033.4 652.9h0M1088.2 523.8h0M1090.2 524.1h0M1089.7 523.3h0M1060.8 613.3h0M1159.9 528.0h0M1159.9 527.8h0M1129.1 578.8h0M1128.7 578.6h0M1128.5 578.3h0M1129.6 579.1h0M1157.0 641.6h0M1155.3 642.8h0M1156.4 642.6h0M1027.9 616.4h0M1143.7 507.1h0M1144.0 508.2h0M1110.5 585.1h0M1111.2 584.8h0M1165.5 606.8h0M1002.9 577.0h0M1002.7 577.7h0M1043.9 667.4h0M1117.1 562.9h0M1116.8 562.7h0M1148.9 631.1h0M1148.2 630.9h0M1086.8 511.5h0M1087.1 510.6h0M1195.0 631.0h0M1194.9 631.8h0M1197.1 629.6h0M1158.7 537.9h0M1159.0 537.2h0M1158.4 536.3h0M1144.8 642.9h0M1115.3 588.2h0M1116.5 588.8h0M1093.0 481.7h0M1092.3 482.1h0M1030.0 586.1h0M993.9 559.7h0M1149.8 536.4h0M1003.7 590.7h0M1004.1 590.7h0M1157.9 520.5h0M1158.8 625.4h0M1077.7 514.9h0M1077.3 515.3h0M1078.1 514.3h0M1040.2 655.9h0M1039.6 655.9h0M1076.1 555.2h0M1022.0 530.1h0M1054.8 644.5h0M1054.9 645.7h0M1110.7 596.1h0M1111.2 595.5h0M1058.4 680.6h0M1058.0 680.8h0M1128.1 610.7h0M1185.1 628.6h0M1153.4 591.4h0M1187.9 549.3h0M1187.1 551.1h0M1188.5 550.0h0M1090.9 594.2h0M1010.2 618.8h0M1010.6 618.3h0M1009.6 619.1h0M1042.9 646.3h0M1067.1 580.0h0M1067.8 579.6h0M1106.9 545.8h0M1108.6 546.8h0M1108.2 547.6h0M999.7 546.8h0M999.0 544.5h0M1101.2 660.7h0M1023.7 511.6h0M1023.6 511.4h0M1079.4 685.2h0M1079.5 685.6h0M1079.9 685.5h0M1078.7 684.7h0M1114.0 526.2h0M1114.0 526.8h0M1114.7 525.5h0M991.2 590.8h0M990.9 590.6h0M1164.2 612.3h0M1164.3 614.5h0M1163.2 613.7h0M1187.7 651.1h0M1174.7 643.1h0M1136.8 543.4h0M1062.5 620.1h0M1119.6 544.6h0M1120.2 545.0h0M1120.1 603.2h0M1038.5 617.8h0M1038.7 618.9h0M1039.7 617.3h0M1074.5 610.0h0M1074.4 610.0h0M1142.4 549.9h0M1178.3 559.3h0M1178.8 559.9h0M1178.5 559.0h0M1178.2 559.4h0M1021.3 634.1h0M1021.6 632.2h0M1021.9 632.4h0M1142.1 503.0h0M1142.4 503.3h0M1142.4 502.9h0M1142.5 503.0h0M1079.1 578.4h0M1078.5 577.8h0M1009.0 534.0h0M1009.3 535.6h0M1009.8 534.9h0M1079.3 619.3h0M1078.8 618.9h0M1093.2 655.3h0M1071.5 566.8h0M1071.1 567.3h0M1071.0 566.3h0M1123.4 528.0h0M1066.9 523.0h0M1067.0 522.5h0M1067.5 523.3h0M1115.0 668.0h0M1033.6 596.9h0M1033.2 597.4h0M1034.1 597.2h0M1139.5 646.0h0M1138.9 646.5h0M1063.2 656.2h0M1144.2 516.0h0M1092.4 487.0h0M1119.9 551.4h0M1055.9 574.2h0M1054.1 573.7h0M1055.5 574.4h0M1054.5 505.5h0M1054.5 505.7h0M1054.6 505.1h0M1107.4 657.2h0M1049.8 653.1h0M1050.5 652.4h0M1027.0 517.0h0M1029.7 562.5h0M1032.6 561.9h0M1183.1 547.3h0M1184.5 546.0h0M1018.2 573.7h0M992.0 569.4h0M991.5 569.5h0M992.7 568.9h0M991.2 570.1h0M1119.0 590.5h0M1131.3 689.1h0M1016.2 590.2h0M1017.5 589.5h0M1052.7 573.4h0M1052.1 573.6h0M1052.0 573.9h0M1049.5 578.8h0M1049.4 578.3h0M1049.2 578.1h0M1049.2 578.8h0M1133.0 580.7h0M1133.2 581.0h0M1132.3 580.4h0M1133.7 580.4h0M1156.4 505.9h0M1157.9 504.3h0M1184.5 596.4h0M1109.0 623.2h0M1109.0 622.7h0M1109.1 623.5h0M1173.7 635.9h0M1066.6 570.1h0M1065.8 571.3h0M1199.2 590.0h0M1199.5 589.4h0M1199.8 589.7h0M1103.5 503.1h0M1103.7 502.6h0M1103.2 502.7h0M1158.6 530.6h0M1027.7 670.1h0M1038.8 600.9h0M1039.1 601.0h0M1038.1 600.7h0M1156.7 522.8h0M1111.5 504.3h0M1113.1 502.5h0M1028.2 632.2h0M1027.8 632.5h0M1082.2 620.2h0M1187.8 552.8h0M1125.3 519.9h0M1125.9 519.6h0M1146.5 572.7h0M1147.1 573.3h0M1147.0 573.1h0"/><path id="dt13" d="M1154.1 667.5h0M1138.2 567.3h0M1144.0 503.3h0M1087.9 575.5h0M1138.8 643.8h0M1113.7 497.4h0M1038.5 559.0h0M1097.0 655.2h0M1038.9 521.6h0M1107.9 520.7h0M1144.7 561.7h0M1168.1 572.1h0M1167.7 573.3h0M1168.4 571.8h0M1141.6 617.4h0M1121.5 563.3h0M1130.0 515.7h0M1101.5 571.4h0M1100.8 574.5h0M1135.2 539.5h0M1044.8 657.3h0M1088.9 524.1h0M1059.7 612.4h0M1156.0 642.9h0M1072.8 693.6h0M1144.5 507.7h0M1110.4 585.7h0M1166.6 607.8h0M1153.9 614.0h0M1003.8 576.8h0M1110.4 596.4h0M1109.9 598.9h0M1113.0 599.5h0M1042.9 665.6h0M1184.7 578.9h0M1086.9 510.9h0M1195.9 630.6h0M1158.7 537.3h0M1145.0 641.8h0M1115.3 588.4h0M1043.4 526.0h0M1159.0 521.2h0M1078.5 515.0h0M1176.2 534.8h0M1096.5 563.5h0M1153.9 591.2h0M1054.5 645.6h0M1127.0 609.5h0M1126.7 610.3h0M1160.0 598.5h0M1161.1 597.3h0M1160.9 600.3h0M1061.9 527.2h0M1153.7 592.5h0M1155.1 592.6h0M1052.9 648.9h0M997.9 557.2h0M1188.3 549.9h0M1091.9 593.7h0M1142.6 520.3h0M1141.6 520.5h0M1172.0 607.2h0M1184.0 622.9h0M1108.0 547.0h0M1100.5 660.7h0M1102.0 497.1h0M1163.9 613.5h0M1128.9 535.7h0M1039.1 618.1h0M1021.8 633.2h0M1010.3 534.6h0M1092.7 656.2h0M1043.5 500.5h0M1038.4 512.1h0M1178.4 564.2h0M1127.4 537.0h0M1143.8 516.7h0M1054.7 573.5h0M1106.4 656.9h0M1033.1 564.2h0M1058.4 593.5h0M1183.5 547.5h0M1016.5 590.3h0M1157.0 505.1h0M1174.8 635.8h0M1067.0 570.2h0M1083.5 601.8h0M1159.1 531.1h0M1072.3 573.3h0M1112.0 503.7h0M1081.4 620.0h0"/><path id="dt14" d="M1145.4 501.5h0M1102.0 484.7h0M1032.5 611.8h0M1031.8 610.6h0M1176.5 603.0h0M1169.6 573.2h0M1142.9 617.1h0M1147.8 514.7h0M1138.4 490.8h0M1102.0 573.1h0M1012.1 567.2h0M1006.2 567.2h0M1011.4 565.9h0M1149.3 638.2h0M1146.0 639.1h0M1045.7 656.3h0M1039.6 632.3h0M1124.5 552.3h0M1138.9 491.3h0M1151.2 615.7h0M1184.0 569.3h0M1152.2 613.2h0M1043.8 665.9h0M1087.3 510.3h0M1140.6 557.1h0M1157.9 521.8h0M1100.7 615.6h0M1128.0 609.9h0M1154.6 591.5h0M1051.8 650.5h0M1143.4 519.1h0M998.7 546.0h0M1150.5 599.6h0M1118.4 601.8h0M1080.9 563.3h0M1178.5 646.4h0M1143.5 549.9h0M1019.3 588.3h0M1141.8 679.3h0M1143.2 678.0h0M1141.9 496.6h0M1110.9 605.6h0M1048.9 655.6h0M1031.4 563.4h0M1057.0 594.9h0M1061.5 543.5h0M1183.0 547.8h0M1019.8 572.7h0M1145.1 523.5h0M1118.2 592.2h0M1186.0 596.7h0M1109.6 617.3h0M1027.2 572.4h0M1085.0 604.9h0M1082.8 604.5h0M1021.9 519.3h0"/><path id="dt15" d="M1164.0 610.9h0M1027.0 607.3h0M1146.7 639.7h0M1036.7 645.8h0M1142.1 527.4h0M1112.2 599.0h0M1132.8 545.8h0M1047.0 658.5h0M1141.2 554.8h0M1160.9 597.7h0M1185.4 625.3h0M1084.4 563.6h0M1143.7 676.7h0M1063.7 671.6h0M1124.1 686.1h0M1182.9 537.8h0M1085.4 603.2h0M1072.6 575.0h0"/><path id="dt16" d="M1030.3 610.1h0M1009.2 566.2h0M1119.2 500.0h0M1082.8 562.1h0M1096.3 505.9h0"/><use href="#dt12" stroke="#6a5ad0" stroke-width="3.3" stroke-opacity="0.45"/><use href="#dt13" stroke="#6a5ad0" stroke-width="4.0" stroke-opacity="0.45"/><use href="#dt14" stroke="#6a5ad0" stroke-width="4.9" stroke-opacity="0.45"/><use href="#dt15" stroke="#6a5ad0" stroke-width="6.0" stroke-opacity="0.45"/><use href="#dt16" stroke="#6a5ad0" stroke-width="7.4" stroke-opacity="0.45"/><use href="#dt12" stroke="#3626b4" stroke-width="1.1"/><use href="#dt13" stroke="#3626b4" stroke-width="1.8"/><use href="#dt14" stroke="#3626b4" stroke-width="2.7"/><use href="#dt15" stroke="#3626b4" stroke-width="3.8"/><use href="#dt16" stroke="#3626b4" stroke-width="5.2"/></g>
<g transform="translate(3.6 33.5) scale(0.915 1)">
<text x="0.00" y="0.00" style="font-family:'Liberation Sans', Arial, sans-serif;font-weight:700;font-size:46px;white-space:pre" fill="#000">a</text>
</g>
<text x="667.00" y="33.50" style="font-family:'Liberation Sans', Arial, sans-serif;font-weight:700;font-size:46px;white-space:pre" fill="#000">b</text>
<text x="1313.00" y="33.60" style="font-family:'Liberation Sans', Arial, sans-serif;font-weight:700;font-size:46px;white-space:pre" fill="#000">c</text>
<text x="0.00" y="438.40" style="font-family:'Liberation Sans', Arial, sans-serif;font-weight:700;font-size:46px;white-space:pre" fill="#000">d</text>
<text x="1312.30" y="438.30" style="font-family:'Liberation Sans', Arial, sans-serif;font-weight:700;font-size:46px;white-space:pre" fill="#000">e</text>
<text x="-0.60" y="819.80" style="font-family:'Liberation Sans', Arial, sans-serif;font-weight:700;font-size:46px;white-space:pre" fill="#000">f</text>
<text x="1189.20" y="814.20" style="font-family:'Liberation Sans', Arial, sans-serif;font-weight:700;font-size:46px;white-space:pre" fill="#000">g</text>
<rect x="175.10" y="246.15" width="85.90" height="67.75" fill="#07658a"/>
<rect x="304.00" y="192.97" width="85.90" height="120.93" fill="#2aaba2"/>
<line x1="346.95" y1="179.42" x2="346.95" y2="192.97" stroke="#2aaba2" stroke-width="1.3"/>
<line x1="325.48" y1="179.42" x2="368.42" y2="179.42" stroke="#2aaba2" stroke-width="1.3"/>
<rect x="433.90" y="110.65" width="85.40" height="203.25" fill="#c6a37a"/>
<line x1="476.60" y1="79.48" x2="476.60" y2="110.65" stroke="#c6a37a" stroke-width="1.3"/>
<line x1="455.25" y1="79.48" x2="497.95" y2="79.48" stroke="#c6a37a" stroke-width="1.3"/>
<line x1="132.50" y1="41.00" x2="132.50" y2="315.70" stroke="#000" stroke-width="3.6"/>
<line x1="120.20" y1="313.90" x2="565.20" y2="313.90" stroke="#000" stroke-width="3.6"/>
<line x1="120.20" y1="313.90" x2="132.50" y2="313.90" stroke="#000" stroke-width="3.6"/>
<text x="117.90" y="321.10" text-anchor="end" style="font-family:'Liberation Sans', Arial, sans-serif;font-weight:700;font-size:21px;white-space:pre" fill="#000">0</text>
<line x1="120.20" y1="246.15" x2="132.50" y2="246.15" stroke="#000" stroke-width="3.6"/>
<text x="117.90" y="253.35" text-anchor="end" style="font-family:'Liberation Sans', Arial, sans-serif;font-weight:700;font-size:21px;white-space:pre" fill="#000">1</text>
<line x1="120.20" y1="178.40" x2="132.50" y2="178.40" stroke="#000" stroke-width="3.6"/>
<text x="117.90" y="185.60" text-anchor="end" style="font-family:'Liberation Sans', Arial, sans-serif;font-weight:700;font-size:21px;white-space:pre" fill="#000">2</text>
<line x1="120.20" y1="110.65" x2="132.50" y2="110.65" stroke="#000" stroke-width="3.6"/>
<text x="117.90" y="117.85" text-anchor="end" style="font-family:'Liberation Sans', Arial, sans-serif;font-weight:700;font-size:21px;white-space:pre" fill="#000">3</text>
<line x1="120.20" y1="42.90" x2="132.50" y2="42.90" stroke="#000" stroke-width="3.6"/>
<text x="117.90" y="50.10" text-anchor="end" style="font-family:'Liberation Sans', Arial, sans-serif;font-weight:700;font-size:21px;white-space:pre" fill="#000">4</text>
<line x1="218.05" y1="313.90" x2="218.05" y2="325.80" stroke="#000" stroke-width="4"/>
<line x1="346.95" y1="313.90" x2="346.95" y2="325.80" stroke="#000" stroke-width="4"/>
<line x1="476.60" y1="313.90" x2="476.60" y2="325.80" stroke="#000" stroke-width="4"/>
<text x="218.05" y="348.20" text-anchor="middle" style="font-family:'Liberation Sans', Arial, sans-serif;font-weight:700;font-size:20px;white-space:pre" fill="#000">GES-1</text>
<text x="346.95" y="348.20" text-anchor="middle" style="font-family:'Liberation Sans', Arial, sans-serif;font-weight:700;font-size:20px;white-space:pre" fill="#000">HGC-27</text>
<text x="476.60" y="348.20" text-anchor="middle" style="font-family:'Liberation Sans', Arial, sans-serif;font-weight:700;font-size:20px;white-space:pre" fill="#000">MKN-1</text>
<g transform="translate(88.95 347.46) rotate(-90)">
<text x="0.00" y="0.00" style="font-family:'Liberation Sans', Arial, sans-serif;font-weight:700;font-size:17.86px;white-space:pre" fill="#000" textLength="337.69" lengthAdjust="spacingAndGlyphs">Relative expression of  GPR176</text>
</g>
<text x="347.20" y="177.21" text-anchor="middle" style="font-family:'DejaVu Sans', sans-serif;font-weight:700;font-size:26.2px;white-space:pre" fill="#000">*</text>
<text x="478.75" y="75.11" text-anchor="middle" style="font-family:'DejaVu Sans', sans-serif;font-weight:700;font-size:26.2px;white-space:pre;letter-spacing:2.1px" fill="#000">***</text>
<line x1="781.00" y1="41.20" x2="781.00" y2="317.80" stroke="#000" stroke-width="3.8"/>
<line x1="769.00" y1="316.00" x2="1191.30" y2="316.00" stroke="#000" stroke-width="3.8"/>
<line x1="769.00" y1="316.00" x2="781.00" y2="316.00" stroke="#000" stroke-width="3.8"/>
<text x="766.80" y="323.40" text-anchor="end" style="font-family:'Liberation Sans', Arial, sans-serif;font-weight:700;font-size:21px;white-space:pre" fill="#000">0.1</text>
<line x1="769.00" y1="261.40" x2="781.00" y2="261.40" stroke="#000" stroke-width="3.8"/>
<text x="766.80" y="268.80" text-anchor="end" style="font-family:'Liberation Sans', Arial, sans-serif;font-weight:700;font-size:21px;white-space:pre" fill="#000">0.2</text>
<line x1="769.00" y1="206.80" x2="781.00" y2="206.80" stroke="#000" stroke-width="3.8"/>
<text x="766.80" y="214.20" text-anchor="end" style="font-family:'Liberation Sans', Arial, sans-serif;font-weight:700;font-size:21px;white-space:pre" fill="#000">0.3</text>
<line x1="769.00" y1="152.20" x2="781.00" y2="152.20" stroke="#000" stroke-width="3.8"/>
<text x="766.80" y="159.60" text-anchor="end" style="font-family:'Liberation Sans', Arial, sans-serif;font-weight:700;font-size:21px;white-space:pre" fill="#000">0.4</text>
<line x1="769.00" y1="97.60" x2="781.00" y2="97.60" stroke="#000" stroke-width="3.8"/>
<text x="766.80" y="105.00" text-anchor="end" style="font-family:'Liberation Sans', Arial, sans-serif;font-weight:700;font-size:21px;white-space:pre" fill="#000">0.5</text>
<line x1="769.00" y1="43.00" x2="781.00" y2="43.00" stroke="#000" stroke-width="3.8"/>
<text x="766.80" y="50.40" text-anchor="end" style="font-family:'Liberation Sans', Arial, sans-serif;font-weight:700;font-size:21px;white-space:pre" fill="#000">0.6</text>
<line x1="781.00" y1="316.00" x2="781.00" y2="327.50" stroke="#000" stroke-width="4.2"/>
<text x="781.00" y="351.20" text-anchor="middle" style="font-family:'Liberation Sans', Arial, sans-serif;font-weight:700;font-size:21px;white-space:pre" fill="#000">0</text>
<line x1="883.10" y1="316.00" x2="883.10" y2="327.50" stroke="#000" stroke-width="4.2"/>
<text x="883.10" y="351.20" text-anchor="middle" style="font-family:'Liberation Sans', Arial, sans-serif;font-weight:700;font-size:21px;white-space:pre" fill="#000">1</text>
<line x1="985.20" y1="316.00" x2="985.20" y2="327.50" stroke="#000" stroke-width="4.2"/>
<text x="985.20" y="351.20" text-anchor="middle" style="font-family:'Liberation Sans', Arial, sans-serif;font-weight:700;font-size:21px;white-space:pre" fill="#000">2</text>
<line x1="1087.30" y1="316.00" x2="1087.30" y2="327.50" stroke="#000" stroke-width="4.2"/>
<text x="1087.30" y="351.20" text-anchor="middle" style="font-family:'Liberation Sans', Arial, sans-serif;font-weight:700;font-size:21px;white-space:pre" fill="#000">3</text>
<line x1="1189.40" y1="316.00" x2="1189.40" y2="327.50" stroke="#000" stroke-width="4.2"/>
<text x="1189.40" y="351.20" text-anchor="middle" style="font-family:'Liberation Sans', Arial, sans-serif;font-weight:700;font-size:21px;white-space:pre" fill="#000">4</text>
<path d="M883.10 259.76 L985.20 225.91 L1087.30 202.43 L1189.40 134.18" stroke="#990000" stroke-width="2.8" fill="none" stroke-linejoin="round"/>
<rect x="877.90" y="254.56" width="10.40" height="10.40" fill="#990000"/>
<rect x="980.00" y="220.71" width="10.40" height="10.40" fill="#990000"/>
<rect x="1082.10" y="197.23" width="10.40" height="10.40" fill="#990000"/>
<line x1="1189.40" y1="124.90" x2="1189.40" y2="143.46" stroke="#990000" stroke-width="2"/>
<line x1="1184.40" y1="124.90" x2="1194.40" y2="124.90" stroke="#990000" stroke-width="1.6"/>
<line x1="1184.40" y1="143.46" x2="1194.40" y2="143.46" stroke="#990000" stroke-width="1.6"/>
<rect x="1184.20" y="128.98" width="10.40" height="10.40" fill="#990000"/>
<path d="M883.10 254.30 L985.20 204.07 L1087.30 179.50 L1189.40 93.78" stroke="#000080" stroke-width="2.8" fill="none" stroke-linejoin="round"/>
<circle cx="883.10" cy="254.30" r="5.2" fill="#000080"/>
<circle cx="985.20" cy="204.07" r="5.2" fill="#000080"/>
<line x1="1087.30" y1="175.68" x2="1087.30" y2="183.32" stroke="#000080" stroke-width="2"/>
<line x1="1082.30" y1="175.68" x2="1092.30" y2="175.68" stroke="#000080" stroke-width="1.6"/>
<line x1="1082.30" y1="183.32" x2="1092.30" y2="183.32" stroke="#000080" stroke-width="1.6"/>
<circle cx="1087.30" cy="179.50" r="5.2" fill="#000080"/>
<line x1="1189.40" y1="79.04" x2="1189.40" y2="108.52" stroke="#000080" stroke-width="2"/>
<line x1="1184.40" y1="79.04" x2="1194.40" y2="79.04" stroke="#000080" stroke-width="1.6"/>
<line x1="1184.40" y1="108.52" x2="1194.40" y2="108.52" stroke="#000080" stroke-width="1.6"/>
<circle cx="1189.40" cy="93.78" r="5.2" fill="#000080"/>
<line x1="813.90" y1="75.10" x2="842.30" y2="75.10" stroke="#000080" stroke-width="2.8"/>
<circle cx="828.1" cy="75.1" r="5" fill="#000080"/>
<line x1="813.90" y1="111.40" x2="842.30" y2="111.40" stroke="#990000" stroke-width="2.8"/>
<rect x="822.90" y="106.20" width="10.40" height="10.40" fill="#990000"/>
<text x="858.70" y="83.10" style="font-family:'Liberation Sans', Arial, sans-serif;font-weight:400;font-size:22.2px;white-space:pre" fill="#000">sh-NC</text>
<text x="858.70" y="119.50" style="font-family:'Liberation Sans', Arial, sans-serif;font-weight:400;font-size:22.2px;white-space:pre" fill="#000">sh-GPR176</text>
<text x="941.91" y="38.50" style="font-family:'Liberation Sans', Arial, sans-serif;font-weight:700;font-size:25.36px;white-space:pre" fill="#000" textLength="82.38" lengthAdjust="spacingAndGlyphs">MKN-1</text>
<g transform="translate(723.78 194.82) rotate(-90)">
<text x="0.00" y="0.00" style="font-family:'Liberation Sans', Arial, sans-serif;font-weight:700;font-size:21.83px;white-space:pre" fill="#000" textLength="30.63" lengthAdjust="spacingAndGlyphs">OD</text>
</g>
<text x="958.44" y="386.56" style="font-family:'Liberation Sans', Arial, sans-serif;font-weight:700;font-size:22.11px;white-space:pre" fill="#000" textLength="53.88" lengthAdjust="spacingAndGlyphs">Days</text>
<line x1="1447.60" y1="40.60" x2="1447.60" y2="316.80" stroke="#000" stroke-width="3.8"/>
<line x1="1435.60" y1="315.00" x2="1855.90" y2="315.00" stroke="#000" stroke-width="3.8"/>
<line x1="1435.60" y1="315.00" x2="1447.60" y2="315.00" stroke="#000" stroke-width="3.8"/>
<text x="1433.40" y="322.40" text-anchor="end" style="font-family:'Liberation Sans', Arial, sans-serif;font-weight:700;font-size:21px;white-space:pre" fill="#000">0.1</text>
<line x1="1435.60" y1="246.85" x2="1447.60" y2="246.85" stroke="#000" stroke-width="3.8"/>
<text x="1433.40" y="254.25" text-anchor="end" style="font-family:'Liberation Sans', Arial, sans-serif;font-weight:700;font-size:21px;white-space:pre" fill="#000">0.2</text>
<line x1="1435.60" y1="178.70" x2="1447.60" y2="178.70" stroke="#000" stroke-width="3.8"/>
<text x="1433.40" y="186.10" text-anchor="end" style="font-family:'Liberation Sans', Arial, sans-serif;font-weight:700;font-size:21px;white-space:pre" fill="#000">0.3</text>
<line x1="1435.60" y1="110.55" x2="1447.60" y2="110.55" stroke="#000" stroke-width="3.8"/>
<text x="1433.40" y="117.95" text-anchor="end" style="font-family:'Liberation Sans', Arial, sans-serif;font-weight:700;font-size:21px;white-space:pre" fill="#000">0.4</text>
<line x1="1435.60" y1="42.40" x2="1447.60" y2="42.40" stroke="#000" stroke-width="3.8"/>
<text x="1433.40" y="49.80" text-anchor="end" style="font-family:'Liberation Sans', Arial, sans-serif;font-weight:700;font-size:21px;white-space:pre" fill="#000">0.5</text>
<line x1="1447.60" y1="315.00" x2="1447.60" y2="326.50" stroke="#000" stroke-width="4.2"/>
<text x="1447.60" y="350.20" text-anchor="middle" style="font-family:'Liberation Sans', Arial, sans-serif;font-weight:700;font-size:21px;white-space:pre" fill="#000">0</text>
<line x1="1549.20" y1="315.00" x2="1549.20" y2="326.50" stroke="#000" stroke-width="4.2"/>
<text x="1549.20" y="350.20" text-anchor="middle" style="font-family:'Liberation Sans', Arial, sans-serif;font-weight:700;font-size:21px;white-space:pre" fill="#000">1</text>
<line x1="1650.80" y1="315.00" x2="1650.80" y2="326.50" stroke="#000" stroke-width="4.2"/>
<text x="1650.80" y="350.20" text-anchor="middle" style="font-family:'Liberation Sans', Arial, sans-serif;font-weight:700;font-size:21px;white-space:pre" fill="#000">2</text>
<line x1="1752.40" y1="315.00" x2="1752.40" y2="326.50" stroke="#000" stroke-width="4.2"/>
<text x="1752.40" y="350.20" text-anchor="middle" style="font-family:'Liberation Sans', Arial, sans-serif;font-weight:700;font-size:21px;white-space:pre" fill="#000">3</text>
<line x1="1854.00" y1="315.00" x2="1854.00" y2="326.50" stroke="#000" stroke-width="4.2"/>
<text x="1854.00" y="350.20" text-anchor="middle" style="font-family:'Liberation Sans', Arial, sans-serif;font-weight:700;font-size:21px;white-space:pre" fill="#000">4</text>
<path d="M1549.20 248.89 L1650.80 210.05 L1752.40 199.14 L1854.00 163.71" stroke="#990000" stroke-width="2.8" fill="none" stroke-linejoin="round"/>
<rect x="1544.00" y="243.69" width="10.40" height="10.40" fill="#990000"/>
<rect x="1645.60" y="204.85" width="10.40" height="10.40" fill="#990000"/>
<rect x="1747.20" y="193.94" width="10.40" height="10.40" fill="#990000"/>
<line x1="1854.00" y1="153.48" x2="1854.00" y2="173.93" stroke="#990000" stroke-width="2"/>
<line x1="1849.00" y1="153.48" x2="1859.00" y2="153.48" stroke="#990000" stroke-width="1.6"/>
<line x1="1849.00" y1="173.93" x2="1859.00" y2="173.93" stroke="#990000" stroke-width="1.6"/>
<rect x="1848.80" y="158.51" width="10.40" height="10.40" fill="#990000"/>
<path d="M1549.20 243.44 L1650.80 200.51 L1752.40 173.25 L1854.00 101.69" stroke="#000080" stroke-width="2.8" fill="none" stroke-linejoin="round"/>
<circle cx="1549.20" cy="243.44" r="5.2" fill="#000080"/>
<circle cx="1650.80" cy="200.51" r="5.2" fill="#000080"/>
<circle cx="1752.40" cy="173.25" r="5.2" fill="#000080"/>
<line x1="1854.00" y1="97.60" x2="1854.00" y2="105.78" stroke="#000080" stroke-width="2"/>
<line x1="1849.00" y1="97.60" x2="1859.00" y2="97.60" stroke="#000080" stroke-width="1.6"/>
<line x1="1849.00" y1="105.78" x2="1859.00" y2="105.78" stroke="#000080" stroke-width="1.6"/>
<circle cx="1854.00" cy="101.69" r="5.2" fill="#000080"/>
<line x1="1482.70" y1="71.80" x2="1511.10" y2="71.80" stroke="#000080" stroke-width="2.8"/>
<circle cx="1496.9" cy="71.8" r="5" fill="#000080"/>
<line x1="1482.70" y1="112.60" x2="1511.10" y2="112.60" stroke="#990000" stroke-width="2.8"/>
<rect x="1491.70" y="107.40" width="10.40" height="10.40" fill="#990000"/>
<text x="1527.90" y="79.80" style="font-family:'Liberation Sans', Arial, sans-serif;font-weight:400;font-size:22.2px;white-space:pre" fill="#000">sh-NC</text>
<text x="1527.90" y="120.70" style="font-family:'Liberation Sans', Arial, sans-serif;font-weight:400;font-size:22.2px;white-space:pre" fill="#000">sh-GPR176</text>
<text x="1601.88" y="38.25" style="font-family:'Liberation Sans', Arial, sans-serif;font-weight:700;font-size:24.65px;white-space:pre" fill="#000" textLength="96.84" lengthAdjust="spacingAndGlyphs">HGC-27</text>
<g transform="translate(1391.17 194.87) rotate(-90)">
<text x="0.00" y="0.00" style="font-family:'Liberation Sans', Arial, sans-serif;font-weight:700;font-size:23.1px;white-space:pre" fill="#000" textLength="32.75" lengthAdjust="spacingAndGlyphs">OD</text>
</g>
<text x="1623.32" y="384.33" style="font-family:'Liberation Sans', Arial, sans-serif;font-weight:700;font-size:22.22px;white-space:pre" fill="#000" textLength="54.61" lengthAdjust="spacingAndGlyphs">Days</text>
<rect x="1509.40" y="612.02" width="35.60" height="124.38" fill="#9f0000"/>
<line x1="1527.20" y1="600.12" x2="1527.20" y2="612.02" stroke="#9f0000" stroke-width="1.6"/>
<line x1="1518.30" y1="600.12" x2="1536.10" y2="600.12" stroke="#9f0000" stroke-width="1.6"/>
<rect x="1563.00" y="660.69" width="37.00" height="75.71" fill="#000080"/>
<line x1="1581.50" y1="652.04" x2="1581.50" y2="660.69" stroke="#000080" stroke-width="1.6"/>
<line x1="1572.25" y1="652.04" x2="1590.75" y2="652.04" stroke="#000080" stroke-width="1.6"/>
<rect x="1654.20" y="526.57" width="35.70" height="209.83" fill="#9f0000"/>
<line x1="1672.05" y1="524.41" x2="1672.05" y2="526.57" stroke="#9f0000" stroke-width="1.6"/>
<line x1="1663.13" y1="524.41" x2="1680.98" y2="524.41" stroke="#9f0000" stroke-width="1.6"/>
<rect x="1707.90" y="590.38" width="36.30" height="146.02" fill="#000080"/>
<line x1="1726.05" y1="587.14" x2="1726.05" y2="590.38" stroke="#000080" stroke-width="1.6"/>
<line x1="1716.98" y1="587.14" x2="1735.13" y2="587.14" stroke="#000080" stroke-width="1.6"/>
<line x1="1491.00" y1="464.70" x2="1491.00" y2="737.70" stroke="#000" stroke-width="2.6"/>
<line x1="1480.00" y1="736.40" x2="1762.80" y2="736.40" stroke="#000" stroke-width="2.6"/>
<line x1="1480.00" y1="736.40" x2="1491.00" y2="736.40" stroke="#000" stroke-width="2.9"/>
<text x="1477.50" y="743.70" text-anchor="end" style="font-family:'Liberation Sans', Arial, sans-serif;font-weight:700;font-size:21px;white-space:pre" fill="#000">0</text>
<line x1="1480.00" y1="682.32" x2="1491.00" y2="682.32" stroke="#000" stroke-width="2.9"/>
<text x="1477.50" y="689.62" text-anchor="end" style="font-family:'Liberation Sans', Arial, sans-serif;font-weight:700;font-size:21px;white-space:pre" fill="#000">100</text>
<line x1="1480.00" y1="628.24" x2="1491.00" y2="628.24" stroke="#000" stroke-width="2.9"/>
<text x="1477.50" y="635.54" text-anchor="end" style="font-family:'Liberation Sans', Arial, sans-serif;font-weight:700;font-size:21px;white-space:pre" fill="#000">200</text>
<line x1="1480.00" y1="574.16" x2="1491.00" y2="574.16" stroke="#000" stroke-width="2.9"/>
<text x="1477.50" y="581.46" text-anchor="end" style="font-family:'Liberation Sans', Arial, sans-serif;font-weight:700;font-size:21px;white-space:pre" fill="#000">300</text>
<line x1="1480.00" y1="520.08" x2="1491.00" y2="520.08" stroke="#000" stroke-width="2.9"/>
<text x="1477.50" y="527.38" text-anchor="end" style="font-family:'Liberation Sans', Arial, sans-serif;font-weight:700;font-size:21px;white-space:pre" fill="#000">400</text>
<line x1="1480.00" y1="466.00" x2="1491.00" y2="466.00" stroke="#000" stroke-width="2.9"/>
<text x="1477.50" y="473.30" text-anchor="end" style="font-family:'Liberation Sans', Arial, sans-serif;font-weight:700;font-size:21px;white-space:pre" fill="#000">500</text>
<line x1="1554.30" y1="736.40" x2="1554.30" y2="747.90" stroke="#000" stroke-width="2.4"/>
<text x="1554.30" y="769.40" text-anchor="middle" style="font-family:'Liberation Sans', Arial, sans-serif;font-weight:700;font-size:20.4px;white-space:pre" fill="#000">MKN-1</text>
<line x1="1698.00" y1="736.40" x2="1698.00" y2="747.90" stroke="#000" stroke-width="2.4"/>
<text x="1698.00" y="769.40" text-anchor="middle" style="font-family:'Liberation Sans', Arial, sans-serif;font-weight:700;font-size:20.4px;white-space:pre" fill="#000">HGC-27</text>
<path d="M1527.20 593.60 V587.50 H1581.10 V647.60" stroke="#000" stroke-width="2.9" fill="none" stroke-linecap="butt" stroke-linejoin="miter"/>
<path d="M1671.60 520.40 V511.00 H1725.50 V583.70" stroke="#000" stroke-width="2.9" fill="none" stroke-linecap="butt" stroke-linejoin="miter"/>
<text x="1555.55" y="582.41" text-anchor="middle" style="font-family:'DejaVu Sans', sans-serif;font-weight:700;font-size:26.2px;white-space:pre;letter-spacing:2.1px" fill="#000">**</text>
<text x="1701.05" y="506.50" text-anchor="middle" style="font-family:'DejaVu Sans', sans-serif;font-weight:700;font-size:26.2px;white-space:pre;letter-spacing:2.1px" fill="#000">****</text>
<rect x="1500.70" y="440.00" width="28.30" height="14.20" fill="#9f0000"/>
<rect x="1500.70" y="476.30" width="28.30" height="14.20" fill="#000080"/>
<text x="1545.00" y="454.90" style="font-family:'Liberation Sans', Arial, sans-serif;font-weight:400;font-size:22.4px;white-space:pre" fill="#000">sh-NC</text>
<text x="1545.00" y="491.20" style="font-family:'Liberation Sans', Arial, sans-serif;font-weight:400;font-size:22.4px;white-space:pre" fill="#000">sh-GPR176</text>
<g transform="translate(1428.55 681.89) rotate(-90)">
<text x="0.00" y="0.00" style="font-family:'Liberation Sans', Arial, sans-serif;font-weight:700;font-size:21.18px;white-space:pre" fill="#000" textLength="162.59" lengthAdjust="spacingAndGlyphs">Colony number</text>
</g>
<rect x="1360.60" y="973.96" width="35.20" height="199.54" fill="#9f0000"/>
<line x1="1378.20" y1="969.24" x2="1378.20" y2="973.96" stroke="#9f0000" stroke-width="1.6"/>
<line x1="1369.40" y1="969.24" x2="1387.00" y2="969.24" stroke="#9f0000" stroke-width="1.6"/>
<rect x="1414.30" y="1019.21" width="35.30" height="154.29" fill="#000080"/>
<line x1="1431.95" y1="1016.50" x2="1431.95" y2="1019.21" stroke="#000080" stroke-width="1.6"/>
<line x1="1423.12" y1="1016.50" x2="1440.77" y2="1016.50" stroke="#000080" stroke-width="1.6"/>
<rect x="1504.00" y="1094.16" width="35.70" height="79.34" fill="#9f0000"/>
<line x1="1521.85" y1="1089.77" x2="1521.85" y2="1094.16" stroke="#9f0000" stroke-width="1.6"/>
<line x1="1512.92" y1="1089.77" x2="1530.77" y2="1089.77" stroke="#9f0000" stroke-width="1.6"/>
<rect x="1557.90" y="1135.35" width="35.60" height="38.15" fill="#000080"/>
<line x1="1575.70" y1="1133.32" x2="1575.70" y2="1135.35" stroke="#000080" stroke-width="1.6"/>
<line x1="1566.80" y1="1133.32" x2="1584.60" y2="1133.32" stroke="#000080" stroke-width="1.6"/>
<line x1="1341.00" y1="902.10" x2="1341.00" y2="1174.80" stroke="#000" stroke-width="2.6"/>
<line x1="1330.00" y1="1173.50" x2="1612.40" y2="1173.50" stroke="#000" stroke-width="2.6"/>
<line x1="1330.00" y1="1173.50" x2="1341.00" y2="1173.50" stroke="#000" stroke-width="2.9"/>
<text x="1327.50" y="1180.80" text-anchor="end" style="font-family:'Liberation Sans', Arial, sans-serif;font-weight:700;font-size:21px;white-space:pre" fill="#000">0</text>
<line x1="1330.00" y1="1105.97" x2="1341.00" y2="1105.97" stroke="#000" stroke-width="2.9"/>
<text x="1327.50" y="1113.27" text-anchor="end" style="font-family:'Liberation Sans', Arial, sans-serif;font-weight:700;font-size:21px;white-space:pre" fill="#000">200</text>
<line x1="1330.00" y1="1038.45" x2="1341.00" y2="1038.45" stroke="#000" stroke-width="2.9"/>
<text x="1327.50" y="1045.75" text-anchor="end" style="font-family:'Liberation Sans', Arial, sans-serif;font-weight:700;font-size:21px;white-space:pre" fill="#000">400</text>
<line x1="1330.00" y1="970.92" x2="1341.00" y2="970.92" stroke="#000" stroke-width="2.9"/>
<text x="1327.50" y="978.22" text-anchor="end" style="font-family:'Liberation Sans', Arial, sans-serif;font-weight:700;font-size:21px;white-space:pre" fill="#000">600</text>
<line x1="1330.00" y1="903.40" x2="1341.00" y2="903.40" stroke="#000" stroke-width="2.9"/>
<text x="1327.50" y="910.70" text-anchor="end" style="font-family:'Liberation Sans', Arial, sans-serif;font-weight:700;font-size:21px;white-space:pre" fill="#000">800</text>
<line x1="1404.50" y1="1173.50" x2="1404.50" y2="1185.00" stroke="#000" stroke-width="2.4"/>
<text x="1404.50" y="1206.50" text-anchor="middle" style="font-family:'Liberation Sans', Arial, sans-serif;font-weight:700;font-size:20.4px;white-space:pre" fill="#000">MKN-1</text>
<line x1="1548.00" y1="1173.50" x2="1548.00" y2="1185.00" stroke="#000" stroke-width="2.4"/>
<text x="1548.00" y="1206.50" text-anchor="middle" style="font-family:'Liberation Sans', Arial, sans-serif;font-weight:700;font-size:20.4px;white-space:pre" fill="#000">HGC-27</text>
<path d="M1377.70 966.60 V956.10 H1432.20 V1009.70" stroke="#000" stroke-width="2.5" fill="none" stroke-linecap="butt" stroke-linejoin="miter"/>
<path d="M1521.50 1087.80 V1074.70 H1575.00 V1128.70" stroke="#000" stroke-width="2.5" fill="none" stroke-linecap="butt" stroke-linejoin="miter"/>
<text x="1406.95" y="952.50" text-anchor="middle" style="font-family:'DejaVu Sans', sans-serif;font-weight:700;font-size:26.2px;white-space:pre;letter-spacing:2.1px" fill="#000">***</text>
<text x="1550.45" y="1070.61" text-anchor="middle" style="font-family:'DejaVu Sans', sans-serif;font-weight:700;font-size:26.2px;white-space:pre;letter-spacing:2.1px" fill="#000">***</text>
<rect x="1353.80" y="825.00" width="28.20" height="14.00" fill="#9f0000"/>
<rect x="1353.80" y="861.80" width="28.20" height="14.00" fill="#000080"/>
<text x="1399.00" y="839.80" style="font-family:'Liberation Sans', Arial, sans-serif;font-weight:400;font-size:22.4px;white-space:pre" fill="#000">sh-NC</text>
<text x="1399.00" y="876.60" style="font-family:'Liberation Sans', Arial, sans-serif;font-weight:400;font-size:22.4px;white-space:pre" fill="#000">sh-GPR176</text>
<g transform="translate(1277.25 1204.07) rotate(-90)">
<text x="0.00" y="0.00" style="font-family:'Liberation Sans', Arial, sans-serif;font-weight:700;font-size:17.86px;white-space:pre" fill="#000" textLength="331.86" lengthAdjust="spacingAndGlyphs">Invasion cells number per field</text>
</g>
<rect x="1755.10" y="939.70" width="35.60" height="235.60" fill="#9f0000"/>
<line x1="1772.90" y1="936.09" x2="1772.90" y2="939.70" stroke="#9f0000" stroke-width="1.6"/>
<line x1="1764.00" y1="936.09" x2="1781.80" y2="936.09" stroke="#9f0000" stroke-width="1.6"/>
<rect x="1808.90" y="1063.82" width="35.60" height="111.48" fill="#000080"/>
<line x1="1826.70" y1="1056.15" x2="1826.70" y2="1063.82" stroke="#000080" stroke-width="1.6"/>
<line x1="1817.80" y1="1056.15" x2="1835.60" y2="1056.15" stroke="#000080" stroke-width="1.6"/>
<rect x="1899.00" y="980.32" width="35.60" height="194.98" fill="#9f0000"/>
<line x1="1916.80" y1="976.26" x2="1916.80" y2="980.32" stroke="#9f0000" stroke-width="1.6"/>
<line x1="1907.90" y1="976.26" x2="1925.70" y2="976.26" stroke="#9f0000" stroke-width="1.6"/>
<rect x="1953.10" y="1083.23" width="35.60" height="92.07" fill="#000080"/>
<line x1="1970.90" y1="1080.97" x2="1970.90" y2="1083.23" stroke="#000080" stroke-width="1.6"/>
<line x1="1962.00" y1="1080.97" x2="1979.80" y2="1080.97" stroke="#000080" stroke-width="1.6"/>
<line x1="1736.30" y1="903.20" x2="1736.30" y2="1176.60" stroke="#000" stroke-width="2.6"/>
<line x1="1725.30" y1="1175.30" x2="2008.00" y2="1175.30" stroke="#000" stroke-width="2.6"/>
<line x1="1725.30" y1="1175.30" x2="1736.30" y2="1175.30" stroke="#000" stroke-width="2.9"/>
<text x="1722.80" y="1182.60" text-anchor="end" style="font-family:'Liberation Sans', Arial, sans-serif;font-weight:700;font-size:21px;white-space:pre" fill="#000">0</text>
<line x1="1725.30" y1="1085.03" x2="1736.30" y2="1085.03" stroke="#000" stroke-width="2.9"/>
<text x="1722.80" y="1092.33" text-anchor="end" style="font-family:'Liberation Sans', Arial, sans-serif;font-weight:700;font-size:21px;white-space:pre" fill="#000">200</text>
<line x1="1725.30" y1="994.77" x2="1736.30" y2="994.77" stroke="#000" stroke-width="2.9"/>
<text x="1722.80" y="1002.07" text-anchor="end" style="font-family:'Liberation Sans', Arial, sans-serif;font-weight:700;font-size:21px;white-space:pre" fill="#000">400</text>
<line x1="1725.30" y1="904.50" x2="1736.30" y2="904.50" stroke="#000" stroke-width="2.9"/>
<text x="1722.80" y="911.80" text-anchor="end" style="font-family:'Liberation Sans', Arial, sans-serif;font-weight:700;font-size:21px;white-space:pre" fill="#000">600</text>
<line x1="1799.10" y1="1175.30" x2="1799.10" y2="1186.80" stroke="#000" stroke-width="2.4"/>
<text x="1799.10" y="1208.30" text-anchor="middle" style="font-family:'Liberation Sans', Arial, sans-serif;font-weight:700;font-size:20.4px;white-space:pre" fill="#000">MKN-1</text>
<line x1="1943.30" y1="1175.30" x2="1943.30" y2="1186.80" stroke="#000" stroke-width="2.4"/>
<text x="1943.30" y="1208.30" text-anchor="middle" style="font-family:'Liberation Sans', Arial, sans-serif;font-weight:700;font-size:20.4px;white-space:pre" fill="#000">HGC-27</text>
<path d="M1772.40 930.60 V918.80 H1826.40 V1045.80" stroke="#000" stroke-width="2.5" fill="none" stroke-linecap="butt" stroke-linejoin="miter"/>
<path d="M1916.60 972.80 V960.40 H1971.30 V1071.90" stroke="#000" stroke-width="2.5" fill="none" stroke-linecap="butt" stroke-linejoin="miter"/>
<text x="1801.45" y="915.11" text-anchor="middle" style="font-family:'DejaVu Sans', sans-serif;font-weight:700;font-size:26.2px;white-space:pre;letter-spacing:2.1px" fill="#000">****</text>
<text x="1945.85" y="955.00" text-anchor="middle" style="font-family:'DejaVu Sans', sans-serif;font-weight:700;font-size:26.2px;white-space:pre;letter-spacing:2.1px" fill="#000">****</text>
<rect x="1748.50" y="824.00" width="29.30" height="13.80" fill="#9f0000"/>
<rect x="1748.50" y="860.70" width="29.30" height="13.80" fill="#000080"/>
<text x="1793.70" y="838.70" style="font-family:'Liberation Sans', Arial, sans-serif;font-weight:400;font-size:22.4px;white-space:pre" fill="#000">sh-NC</text>
<text x="1793.70" y="875.40" style="font-family:'Liberation Sans', Arial, sans-serif;font-weight:400;font-size:22.4px;white-space:pre" fill="#000">sh-GPR176</text>
<g transform="translate(1673.49 1211.98) rotate(-90)">
<text x="0.00" y="0.00" style="font-family:'Liberation Sans', Arial, sans-serif;font-weight:700;font-size:18.61px;white-space:pre" fill="#000" textLength="344.44" lengthAdjust="spacingAndGlyphs">Migration cells number per field</text>
</g>
<text x="194.40" y="447.80" text-anchor="middle" style="font-family:'Liberation Sans', Arial, sans-serif;font-weight:400;font-size:26.3px;white-space:pre" fill="#000">sh-NC</text>
<text x="507.30" y="447.80" text-anchor="middle" style="font-family:'Liberation Sans', Arial, sans-serif;font-weight:400;font-size:26.3px;white-space:pre" fill="#000">sh-GPR176</text>
<text x="788.00" y="447.80" text-anchor="middle" style="font-family:'Liberation Sans', Arial, sans-serif;font-weight:400;font-size:26.3px;white-space:pre" fill="#000">sh-NC</text>
<text x="1100.90" y="447.80" text-anchor="middle" style="font-family:'Liberation Sans', Arial, sans-serif;font-weight:400;font-size:26.3px;white-space:pre" fill="#000">sh-GPR176</text>
<text x="326.00" y="740.50" text-anchor="middle" style="font-family:'Liberation Sans', Arial, sans-serif;font-weight:400;font-size:26.3px;white-space:pre" fill="#000">MKN-1</text>
<text x="952.90" y="740.40" text-anchor="middle" style="font-family:'Liberation Sans', Arial, sans-serif;font-weight:400;font-size:26.3px;white-space:pre" fill="#000">HGC-27</text>
<text x="211.70" y="819.80" text-anchor="middle" style="font-family:'Liberation Sans', Arial, sans-serif;font-weight:400;font-size:26.3px;white-space:pre" fill="#000">sh-NC</text>
<text x="450.50" y="819.80" text-anchor="middle" style="font-family:'Liberation Sans', Arial, sans-serif;font-weight:400;font-size:26.3px;white-space:pre" fill="#000">sh-GPR176</text>
<text x="773.50" y="819.80" text-anchor="middle" style="font-family:'Liberation Sans', Arial, sans-serif;font-weight:400;font-size:26.3px;white-space:pre" fill="#000">sh-NC</text>
<text x="1012.80" y="819.80" text-anchor="middle" style="font-family:'Liberation Sans', Arial, sans-serif;font-weight:400;font-size:26.3px;white-space:pre" fill="#000">sh-GPR176</text>
<text x="326.30" y="1215.60" text-anchor="middle" style="font-family:'Liberation Sans', Arial, sans-serif;font-weight:400;font-size:26.3px;white-space:pre" fill="#000">Migration</text>
<text x="887.90" y="1215.60" text-anchor="middle" style="font-family:'Liberation Sans', Arial, sans-serif;font-weight:400;font-size:26.3px;white-space:pre" fill="#000">Invasion</text>
<g transform="translate(81.60 950.02) rotate(-90)">
<text x="0.00" y="0.00" style="font-family:'Liberation Sans', Arial, sans-serif;font-weight:400;font-size:23.62px;white-space:pre" fill="#000" textLength="66.71" lengthAdjust="spacingAndGlyphs">MKN-1</text>
</g>
<g transform="translate(81.86 1146.09) rotate(-90)">
<text x="0.00" y="0.00" style="font-family:'Liberation Sans', Arial, sans-serif;font-weight:400;font-size:23.66px;white-space:pre" fill="#000" textLength="82.27" lengthAdjust="spacingAndGlyphs">HGC-27</text>
</g>
<g transform="translate(636.60 950.02) rotate(-90)">
<text x="0.00" y="0.00" style="font-family:'Liberation Sans', Arial, sans-serif;font-weight:400;font-size:23.62px;white-space:pre" fill="#000" textLength="66.71" lengthAdjust="spacingAndGlyphs">MKN-1</text>
</g>
<g transform="translate(636.86 1146.09) rotate(-90)">
<text x="0.00" y="0.00" style="font-family:'Liberation Sans', Arial, sans-serif;font-weight:400;font-size:23.66px;white-space:pre" fill="#000" textLength="82.27" lengthAdjust="spacingAndGlyphs">HGC-27</text>
</g>
</svg></body></html>
